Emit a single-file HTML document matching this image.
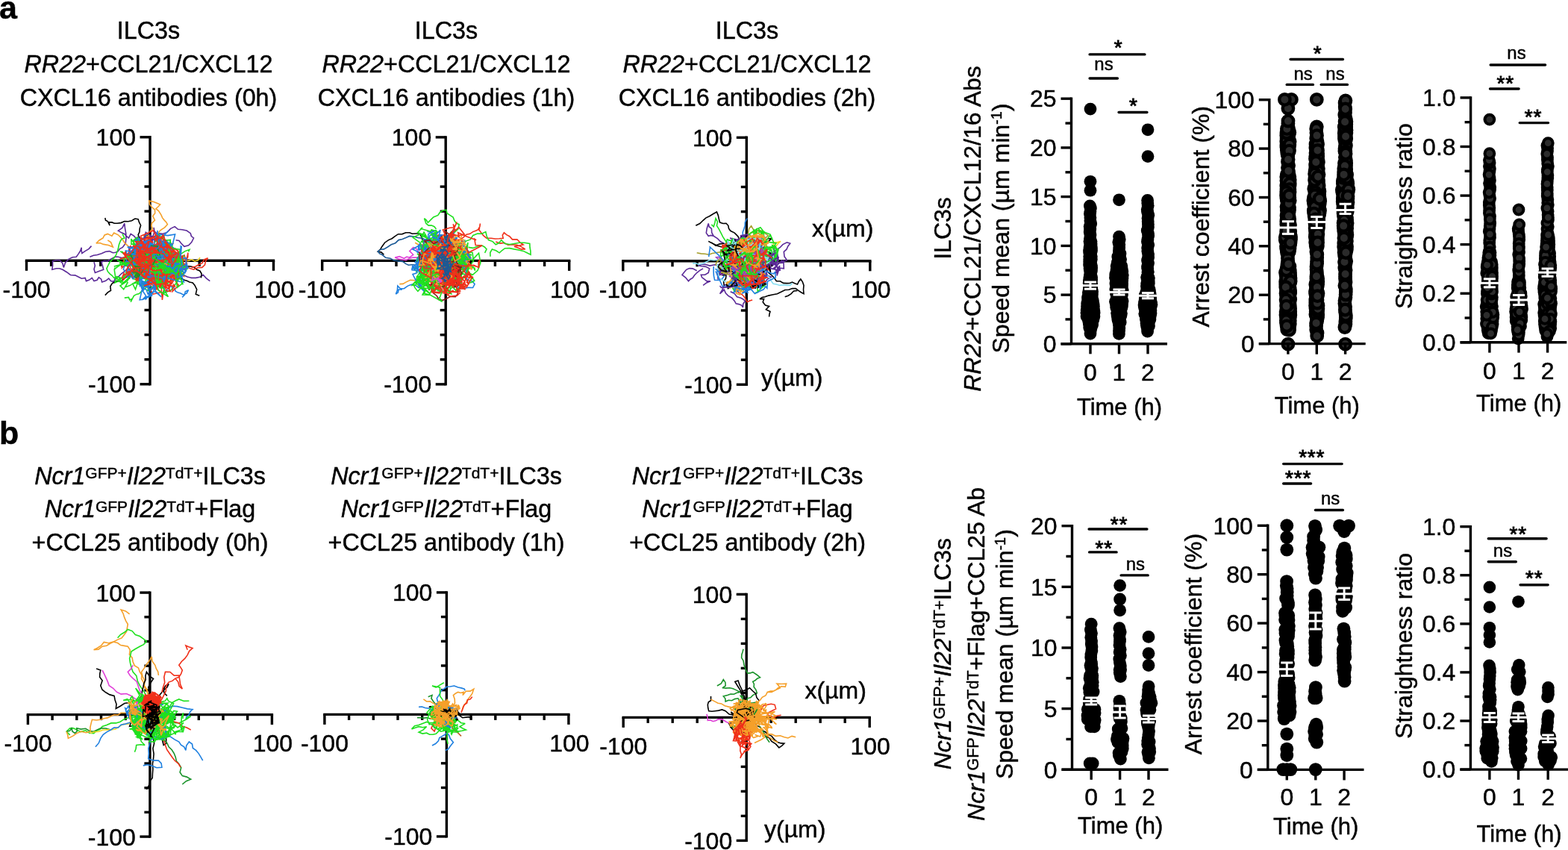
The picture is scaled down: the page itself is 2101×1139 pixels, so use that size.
<!DOCTYPE html>
<html><head><meta charset="utf-8"><style>
html,body{margin:0;padding:0;background:#fff;overflow:hidden;}
svg{display:block;font-family:"Liberation Sans", sans-serif;}
text{stroke:#000;stroke-width:0.45px;}
</style></head><body>
<svg width="2101" height="1139" viewBox="0 0 2101 1139">
<rect width="2101" height="1139" fill="#fff"/>
<text x="-1.0" y="24.6" font-size="43" text-anchor="start" font-weight="bold">a</text><text x="-1.0" y="595.2" font-size="43" text-anchor="start" font-weight="bold">b</text><text x="199.0" y="52.1" font-size="32.3" text-anchor="middle" >ILC3s</text><text x="199.0" y="97.1" font-size="32.3" text-anchor="middle" ><tspan font-style="italic">RR22</tspan>+CCL21/CXCL12</text><text x="199.0" y="142.1" font-size="32.3" text-anchor="middle" >CXCL16 antibodies (0h)</text><text x="598.0" y="52.1" font-size="32.3" text-anchor="middle" >ILC3s</text><text x="598.0" y="97.1" font-size="32.3" text-anchor="middle" ><tspan font-style="italic">RR22</tspan>+CCL21/CXCL12</text><text x="598.0" y="142.1" font-size="32.3" text-anchor="middle" >CXCL16 antibodies (1h)</text><text x="1001.0" y="52.1" font-size="32.3" text-anchor="middle" >ILC3s</text><text x="1001.0" y="97.1" font-size="32.3" text-anchor="middle" ><tspan font-style="italic">RR22</tspan>+CCL21/CXCL12</text><text x="1001.0" y="142.1" font-size="32.3" text-anchor="middle" >CXCL16 antibodies (2h)</text><text x="201.0" y="648.5" font-size="32.3" text-anchor="middle" ><tspan font-style="italic">Ncr1</tspan><tspan dy="-7.3" font-size="21.0">GFP+</tspan><tspan dy="7.3" font-style="italic">Il22</tspan><tspan dy="-7.3" font-size="21.0">TdT+</tspan><tspan dy="7.3">ILC3s</tspan></text><text x="201.0" y="693.3" font-size="32.3" text-anchor="middle" ><tspan font-style="italic">Ncr1</tspan><tspan dy="-7.3" font-size="21.0">GFP</tspan><tspan dy="7.3" font-style="italic">Il22</tspan><tspan dy="-7.3" font-size="21.0">TdT</tspan><tspan dy="7.3">+Flag</tspan></text><text x="201.0" y="738.0" font-size="32.3" text-anchor="middle" >+CCL25 antibody (0h)</text><text x="598.0" y="648.5" font-size="32.3" text-anchor="middle" ><tspan font-style="italic">Ncr1</tspan><tspan dy="-7.3" font-size="21.0">GFP+</tspan><tspan dy="7.3" font-style="italic">Il22</tspan><tspan dy="-7.3" font-size="21.0">TdT+</tspan><tspan dy="7.3">ILC3s</tspan></text><text x="598.0" y="693.3" font-size="32.3" text-anchor="middle" ><tspan font-style="italic">Ncr1</tspan><tspan dy="-7.3" font-size="21.0">GFP</tspan><tspan dy="7.3" font-style="italic">Il22</tspan><tspan dy="-7.3" font-size="21.0">TdT</tspan><tspan dy="7.3">+Flag</tspan></text><text x="598.0" y="738.0" font-size="32.3" text-anchor="middle" >+CCL25 antibody (1h)</text><text x="1001.6" y="648.5" font-size="32.3" text-anchor="middle" ><tspan font-style="italic">Ncr1</tspan><tspan dy="-7.3" font-size="21.0">GFP+</tspan><tspan dy="7.3" font-style="italic">Il22</tspan><tspan dy="-7.3" font-size="21.0">TdT+</tspan><tspan dy="7.3">ILC3s</tspan></text><text x="1001.6" y="693.3" font-size="32.3" text-anchor="middle" ><tspan font-style="italic">Ncr1</tspan><tspan dy="-7.3" font-size="21.0">GFP</tspan><tspan dy="7.3" font-style="italic">Il22</tspan><tspan dy="-7.3" font-size="21.0">TdT</tspan><tspan dy="7.3">+Flag</tspan></text><text x="1001.6" y="738.0" font-size="32.3" text-anchor="middle" >+CCL25 antibody (2h)</text><line x1="201.0" y1="182.1" x2="201.0" y2="516.5" stroke="#000" stroke-width="3.4" stroke-linecap="butt"/><line x1="33.8" y1="349.3" x2="368.2" y2="349.3" stroke="#000" stroke-width="3.4" stroke-linecap="butt"/><line x1="35.5" y1="349.3" x2="35.5" y2="362.8" stroke="#000" stroke-width="3.4" stroke-linecap="butt"/><line x1="201.0" y1="514.8" x2="187.5" y2="514.8" stroke="#000" stroke-width="3.4" stroke-linecap="butt"/><line x1="68.6" y1="349.3" x2="68.6" y2="356.8" stroke="#000" stroke-width="3.4" stroke-linecap="butt"/><line x1="201.0" y1="481.7" x2="193.5" y2="481.7" stroke="#000" stroke-width="3.4" stroke-linecap="butt"/><line x1="101.7" y1="349.3" x2="101.7" y2="356.8" stroke="#000" stroke-width="3.4" stroke-linecap="butt"/><line x1="201.0" y1="448.6" x2="193.5" y2="448.6" stroke="#000" stroke-width="3.4" stroke-linecap="butt"/><line x1="134.8" y1="349.3" x2="134.8" y2="356.8" stroke="#000" stroke-width="3.4" stroke-linecap="butt"/><line x1="201.0" y1="415.5" x2="193.5" y2="415.5" stroke="#000" stroke-width="3.4" stroke-linecap="butt"/><line x1="167.9" y1="349.3" x2="167.9" y2="356.8" stroke="#000" stroke-width="3.4" stroke-linecap="butt"/><line x1="201.0" y1="382.4" x2="193.5" y2="382.4" stroke="#000" stroke-width="3.4" stroke-linecap="butt"/><line x1="234.1" y1="349.3" x2="234.1" y2="356.8" stroke="#000" stroke-width="3.4" stroke-linecap="butt"/><line x1="201.0" y1="316.2" x2="193.5" y2="316.2" stroke="#000" stroke-width="3.4" stroke-linecap="butt"/><line x1="267.2" y1="349.3" x2="267.2" y2="356.8" stroke="#000" stroke-width="3.4" stroke-linecap="butt"/><line x1="201.0" y1="283.1" x2="193.5" y2="283.1" stroke="#000" stroke-width="3.4" stroke-linecap="butt"/><line x1="300.3" y1="349.3" x2="300.3" y2="356.8" stroke="#000" stroke-width="3.4" stroke-linecap="butt"/><line x1="201.0" y1="250.0" x2="193.5" y2="250.0" stroke="#000" stroke-width="3.4" stroke-linecap="butt"/><line x1="333.4" y1="349.3" x2="333.4" y2="356.8" stroke="#000" stroke-width="3.4" stroke-linecap="butt"/><line x1="201.0" y1="216.9" x2="193.5" y2="216.9" stroke="#000" stroke-width="3.4" stroke-linecap="butt"/><line x1="366.5" y1="349.3" x2="366.5" y2="362.8" stroke="#000" stroke-width="3.4" stroke-linecap="butt"/><line x1="201.0" y1="183.8" x2="187.5" y2="183.8" stroke="#000" stroke-width="3.4" stroke-linecap="butt"/><text x="35.5" y="398.5" font-size="32" text-anchor="middle" >-100</text><text x="367.5" y="398.5" font-size="32" text-anchor="middle" >100</text><text x="182.0" y="195.3" font-size="32" text-anchor="end" >100</text><text x="182.0" y="526.3" font-size="32" text-anchor="end" >-100</text><line x1="597.2" y1="182.2" x2="597.2" y2="516.6" stroke="#000" stroke-width="3.4" stroke-linecap="butt"/><line x1="430.0" y1="349.4" x2="764.4" y2="349.4" stroke="#000" stroke-width="3.4" stroke-linecap="butt"/><line x1="431.7" y1="349.4" x2="431.7" y2="362.9" stroke="#000" stroke-width="3.4" stroke-linecap="butt"/><line x1="597.2" y1="514.9" x2="583.7" y2="514.9" stroke="#000" stroke-width="3.4" stroke-linecap="butt"/><line x1="464.8" y1="349.4" x2="464.8" y2="356.9" stroke="#000" stroke-width="3.4" stroke-linecap="butt"/><line x1="597.2" y1="481.8" x2="589.7" y2="481.8" stroke="#000" stroke-width="3.4" stroke-linecap="butt"/><line x1="497.9" y1="349.4" x2="497.9" y2="356.9" stroke="#000" stroke-width="3.4" stroke-linecap="butt"/><line x1="597.2" y1="448.7" x2="589.7" y2="448.7" stroke="#000" stroke-width="3.4" stroke-linecap="butt"/><line x1="531.0" y1="349.4" x2="531.0" y2="356.9" stroke="#000" stroke-width="3.4" stroke-linecap="butt"/><line x1="597.2" y1="415.6" x2="589.7" y2="415.6" stroke="#000" stroke-width="3.4" stroke-linecap="butt"/><line x1="564.1" y1="349.4" x2="564.1" y2="356.9" stroke="#000" stroke-width="3.4" stroke-linecap="butt"/><line x1="597.2" y1="382.5" x2="589.7" y2="382.5" stroke="#000" stroke-width="3.4" stroke-linecap="butt"/><line x1="630.3" y1="349.4" x2="630.3" y2="356.9" stroke="#000" stroke-width="3.4" stroke-linecap="butt"/><line x1="597.2" y1="316.3" x2="589.7" y2="316.3" stroke="#000" stroke-width="3.4" stroke-linecap="butt"/><line x1="663.4" y1="349.4" x2="663.4" y2="356.9" stroke="#000" stroke-width="3.4" stroke-linecap="butt"/><line x1="597.2" y1="283.2" x2="589.7" y2="283.2" stroke="#000" stroke-width="3.4" stroke-linecap="butt"/><line x1="696.5" y1="349.4" x2="696.5" y2="356.9" stroke="#000" stroke-width="3.4" stroke-linecap="butt"/><line x1="597.2" y1="250.1" x2="589.7" y2="250.1" stroke="#000" stroke-width="3.4" stroke-linecap="butt"/><line x1="729.6" y1="349.4" x2="729.6" y2="356.9" stroke="#000" stroke-width="3.4" stroke-linecap="butt"/><line x1="597.2" y1="217.0" x2="589.7" y2="217.0" stroke="#000" stroke-width="3.4" stroke-linecap="butt"/><line x1="762.7" y1="349.4" x2="762.7" y2="362.9" stroke="#000" stroke-width="3.4" stroke-linecap="butt"/><line x1="597.2" y1="183.9" x2="583.7" y2="183.9" stroke="#000" stroke-width="3.4" stroke-linecap="butt"/><text x="431.7" y="398.6" font-size="32" text-anchor="middle" >-100</text><text x="763.7" y="398.6" font-size="32" text-anchor="middle" >100</text><text x="578.2" y="195.4" font-size="32" text-anchor="end" >100</text><text x="578.2" y="526.4" font-size="32" text-anchor="end" >-100</text><line x1="1000.3" y1="182.6" x2="1000.3" y2="517.0" stroke="#000" stroke-width="3.4" stroke-linecap="butt"/><line x1="833.1" y1="349.8" x2="1167.5" y2="349.8" stroke="#000" stroke-width="3.4" stroke-linecap="butt"/><line x1="834.8" y1="349.8" x2="834.8" y2="363.3" stroke="#000" stroke-width="3.4" stroke-linecap="butt"/><line x1="1000.3" y1="515.3" x2="986.8" y2="515.3" stroke="#000" stroke-width="3.4" stroke-linecap="butt"/><line x1="867.9" y1="349.8" x2="867.9" y2="357.3" stroke="#000" stroke-width="3.4" stroke-linecap="butt"/><line x1="1000.3" y1="482.2" x2="992.8" y2="482.2" stroke="#000" stroke-width="3.4" stroke-linecap="butt"/><line x1="901.0" y1="349.8" x2="901.0" y2="357.3" stroke="#000" stroke-width="3.4" stroke-linecap="butt"/><line x1="1000.3" y1="449.1" x2="992.8" y2="449.1" stroke="#000" stroke-width="3.4" stroke-linecap="butt"/><line x1="934.1" y1="349.8" x2="934.1" y2="357.3" stroke="#000" stroke-width="3.4" stroke-linecap="butt"/><line x1="1000.3" y1="416.0" x2="992.8" y2="416.0" stroke="#000" stroke-width="3.4" stroke-linecap="butt"/><line x1="967.2" y1="349.8" x2="967.2" y2="357.3" stroke="#000" stroke-width="3.4" stroke-linecap="butt"/><line x1="1000.3" y1="382.9" x2="992.8" y2="382.9" stroke="#000" stroke-width="3.4" stroke-linecap="butt"/><line x1="1033.4" y1="349.8" x2="1033.4" y2="357.3" stroke="#000" stroke-width="3.4" stroke-linecap="butt"/><line x1="1000.3" y1="316.7" x2="992.8" y2="316.7" stroke="#000" stroke-width="3.4" stroke-linecap="butt"/><line x1="1066.5" y1="349.8" x2="1066.5" y2="357.3" stroke="#000" stroke-width="3.4" stroke-linecap="butt"/><line x1="1000.3" y1="283.6" x2="992.8" y2="283.6" stroke="#000" stroke-width="3.4" stroke-linecap="butt"/><line x1="1099.6" y1="349.8" x2="1099.6" y2="357.3" stroke="#000" stroke-width="3.4" stroke-linecap="butt"/><line x1="1000.3" y1="250.5" x2="992.8" y2="250.5" stroke="#000" stroke-width="3.4" stroke-linecap="butt"/><line x1="1132.7" y1="349.8" x2="1132.7" y2="357.3" stroke="#000" stroke-width="3.4" stroke-linecap="butt"/><line x1="1000.3" y1="217.4" x2="992.8" y2="217.4" stroke="#000" stroke-width="3.4" stroke-linecap="butt"/><line x1="1165.8" y1="349.8" x2="1165.8" y2="363.3" stroke="#000" stroke-width="3.4" stroke-linecap="butt"/><line x1="1000.3" y1="184.3" x2="986.8" y2="184.3" stroke="#000" stroke-width="3.4" stroke-linecap="butt"/><text x="834.8" y="399.0" font-size="32" text-anchor="middle" >-100</text><text x="1166.8" y="399.0" font-size="32" text-anchor="middle" >100</text><text x="981.3" y="195.8" font-size="32" text-anchor="end" >100</text><text x="981.3" y="526.8" font-size="32" text-anchor="end" >-100</text><line x1="200.9" y1="792.4" x2="200.9" y2="1122.8" stroke="#000" stroke-width="3.4" stroke-linecap="butt"/><line x1="35.7" y1="957.6" x2="366.1" y2="957.6" stroke="#000" stroke-width="3.4" stroke-linecap="butt"/><line x1="37.4" y1="957.6" x2="37.4" y2="971.1" stroke="#000" stroke-width="3.4" stroke-linecap="butt"/><line x1="200.9" y1="1121.1" x2="187.4" y2="1121.1" stroke="#000" stroke-width="3.4" stroke-linecap="butt"/><line x1="70.1" y1="957.6" x2="70.1" y2="965.1" stroke="#000" stroke-width="3.4" stroke-linecap="butt"/><line x1="200.9" y1="1088.4" x2="193.4" y2="1088.4" stroke="#000" stroke-width="3.4" stroke-linecap="butt"/><line x1="102.8" y1="957.6" x2="102.8" y2="965.1" stroke="#000" stroke-width="3.4" stroke-linecap="butt"/><line x1="200.9" y1="1055.7" x2="193.4" y2="1055.7" stroke="#000" stroke-width="3.4" stroke-linecap="butt"/><line x1="135.5" y1="957.6" x2="135.5" y2="965.1" stroke="#000" stroke-width="3.4" stroke-linecap="butt"/><line x1="200.9" y1="1023.0" x2="193.4" y2="1023.0" stroke="#000" stroke-width="3.4" stroke-linecap="butt"/><line x1="168.2" y1="957.6" x2="168.2" y2="965.1" stroke="#000" stroke-width="3.4" stroke-linecap="butt"/><line x1="200.9" y1="990.3" x2="193.4" y2="990.3" stroke="#000" stroke-width="3.4" stroke-linecap="butt"/><line x1="233.6" y1="957.6" x2="233.6" y2="965.1" stroke="#000" stroke-width="3.4" stroke-linecap="butt"/><line x1="200.9" y1="924.9" x2="193.4" y2="924.9" stroke="#000" stroke-width="3.4" stroke-linecap="butt"/><line x1="266.3" y1="957.6" x2="266.3" y2="965.1" stroke="#000" stroke-width="3.4" stroke-linecap="butt"/><line x1="200.9" y1="892.2" x2="193.4" y2="892.2" stroke="#000" stroke-width="3.4" stroke-linecap="butt"/><line x1="299.0" y1="957.6" x2="299.0" y2="965.1" stroke="#000" stroke-width="3.4" stroke-linecap="butt"/><line x1="200.9" y1="859.5" x2="193.4" y2="859.5" stroke="#000" stroke-width="3.4" stroke-linecap="butt"/><line x1="331.7" y1="957.6" x2="331.7" y2="965.1" stroke="#000" stroke-width="3.4" stroke-linecap="butt"/><line x1="200.9" y1="826.8" x2="193.4" y2="826.8" stroke="#000" stroke-width="3.4" stroke-linecap="butt"/><line x1="364.4" y1="957.6" x2="364.4" y2="971.1" stroke="#000" stroke-width="3.4" stroke-linecap="butt"/><line x1="200.9" y1="794.1" x2="187.4" y2="794.1" stroke="#000" stroke-width="3.4" stroke-linecap="butt"/><text x="37.4" y="1006.8" font-size="32" text-anchor="middle" >-100</text><text x="365.4" y="1006.8" font-size="32" text-anchor="middle" >100</text><text x="181.9" y="805.6" font-size="32" text-anchor="end" >100</text><text x="181.9" y="1132.6" font-size="32" text-anchor="end" >-100</text><line x1="598.4" y1="792.2" x2="598.4" y2="1122.6" stroke="#000" stroke-width="3.4" stroke-linecap="butt"/><line x1="433.2" y1="957.4" x2="763.6" y2="957.4" stroke="#000" stroke-width="3.4" stroke-linecap="butt"/><line x1="434.9" y1="957.4" x2="434.9" y2="970.9" stroke="#000" stroke-width="3.4" stroke-linecap="butt"/><line x1="598.4" y1="1120.9" x2="584.9" y2="1120.9" stroke="#000" stroke-width="3.4" stroke-linecap="butt"/><line x1="467.6" y1="957.4" x2="467.6" y2="964.9" stroke="#000" stroke-width="3.4" stroke-linecap="butt"/><line x1="598.4" y1="1088.2" x2="590.9" y2="1088.2" stroke="#000" stroke-width="3.4" stroke-linecap="butt"/><line x1="500.3" y1="957.4" x2="500.3" y2="964.9" stroke="#000" stroke-width="3.4" stroke-linecap="butt"/><line x1="598.4" y1="1055.5" x2="590.9" y2="1055.5" stroke="#000" stroke-width="3.4" stroke-linecap="butt"/><line x1="533.0" y1="957.4" x2="533.0" y2="964.9" stroke="#000" stroke-width="3.4" stroke-linecap="butt"/><line x1="598.4" y1="1022.8" x2="590.9" y2="1022.8" stroke="#000" stroke-width="3.4" stroke-linecap="butt"/><line x1="565.7" y1="957.4" x2="565.7" y2="964.9" stroke="#000" stroke-width="3.4" stroke-linecap="butt"/><line x1="598.4" y1="990.1" x2="590.9" y2="990.1" stroke="#000" stroke-width="3.4" stroke-linecap="butt"/><line x1="631.1" y1="957.4" x2="631.1" y2="964.9" stroke="#000" stroke-width="3.4" stroke-linecap="butt"/><line x1="598.4" y1="924.7" x2="590.9" y2="924.7" stroke="#000" stroke-width="3.4" stroke-linecap="butt"/><line x1="663.8" y1="957.4" x2="663.8" y2="964.9" stroke="#000" stroke-width="3.4" stroke-linecap="butt"/><line x1="598.4" y1="892.0" x2="590.9" y2="892.0" stroke="#000" stroke-width="3.4" stroke-linecap="butt"/><line x1="696.5" y1="957.4" x2="696.5" y2="964.9" stroke="#000" stroke-width="3.4" stroke-linecap="butt"/><line x1="598.4" y1="859.3" x2="590.9" y2="859.3" stroke="#000" stroke-width="3.4" stroke-linecap="butt"/><line x1="729.2" y1="957.4" x2="729.2" y2="964.9" stroke="#000" stroke-width="3.4" stroke-linecap="butt"/><line x1="598.4" y1="826.6" x2="590.9" y2="826.6" stroke="#000" stroke-width="3.4" stroke-linecap="butt"/><line x1="761.9" y1="957.4" x2="761.9" y2="970.9" stroke="#000" stroke-width="3.4" stroke-linecap="butt"/><line x1="598.4" y1="793.9" x2="584.9" y2="793.9" stroke="#000" stroke-width="3.4" stroke-linecap="butt"/><text x="434.9" y="1006.6" font-size="32" text-anchor="middle" >-100</text><text x="762.9" y="1006.6" font-size="32" text-anchor="middle" >100</text><text x="579.4" y="805.4" font-size="32" text-anchor="end" >100</text><text x="579.4" y="1132.4" font-size="32" text-anchor="end" >-100</text><line x1="1000.2" y1="794.7" x2="1000.2" y2="1128.1" stroke="#000" stroke-width="3.4" stroke-linecap="butt"/><line x1="833.5" y1="961.4" x2="1166.9" y2="961.4" stroke="#000" stroke-width="3.4" stroke-linecap="butt"/><line x1="835.2" y1="961.4" x2="835.2" y2="974.9" stroke="#000" stroke-width="3.4" stroke-linecap="butt"/><line x1="1000.2" y1="1126.4" x2="986.7" y2="1126.4" stroke="#000" stroke-width="3.4" stroke-linecap="butt"/><line x1="868.2" y1="961.4" x2="868.2" y2="968.9" stroke="#000" stroke-width="3.4" stroke-linecap="butt"/><line x1="1000.2" y1="1093.4" x2="992.7" y2="1093.4" stroke="#000" stroke-width="3.4" stroke-linecap="butt"/><line x1="901.2" y1="961.4" x2="901.2" y2="968.9" stroke="#000" stroke-width="3.4" stroke-linecap="butt"/><line x1="1000.2" y1="1060.4" x2="992.7" y2="1060.4" stroke="#000" stroke-width="3.4" stroke-linecap="butt"/><line x1="934.2" y1="961.4" x2="934.2" y2="968.9" stroke="#000" stroke-width="3.4" stroke-linecap="butt"/><line x1="1000.2" y1="1027.4" x2="992.7" y2="1027.4" stroke="#000" stroke-width="3.4" stroke-linecap="butt"/><line x1="967.2" y1="961.4" x2="967.2" y2="968.9" stroke="#000" stroke-width="3.4" stroke-linecap="butt"/><line x1="1000.2" y1="994.4" x2="992.7" y2="994.4" stroke="#000" stroke-width="3.4" stroke-linecap="butt"/><line x1="1033.2" y1="961.4" x2="1033.2" y2="968.9" stroke="#000" stroke-width="3.4" stroke-linecap="butt"/><line x1="1000.2" y1="928.4" x2="992.7" y2="928.4" stroke="#000" stroke-width="3.4" stroke-linecap="butt"/><line x1="1066.2" y1="961.4" x2="1066.2" y2="968.9" stroke="#000" stroke-width="3.4" stroke-linecap="butt"/><line x1="1000.2" y1="895.4" x2="992.7" y2="895.4" stroke="#000" stroke-width="3.4" stroke-linecap="butt"/><line x1="1099.2" y1="961.4" x2="1099.2" y2="968.9" stroke="#000" stroke-width="3.4" stroke-linecap="butt"/><line x1="1000.2" y1="862.4" x2="992.7" y2="862.4" stroke="#000" stroke-width="3.4" stroke-linecap="butt"/><line x1="1132.2" y1="961.4" x2="1132.2" y2="968.9" stroke="#000" stroke-width="3.4" stroke-linecap="butt"/><line x1="1000.2" y1="829.4" x2="992.7" y2="829.4" stroke="#000" stroke-width="3.4" stroke-linecap="butt"/><line x1="1165.2" y1="961.4" x2="1165.2" y2="974.9" stroke="#000" stroke-width="3.4" stroke-linecap="butt"/><line x1="1000.2" y1="796.4" x2="986.7" y2="796.4" stroke="#000" stroke-width="3.4" stroke-linecap="butt"/><text x="835.2" y="1010.6" font-size="32" text-anchor="middle" >-100</text><text x="1166.2" y="1010.6" font-size="32" text-anchor="middle" >100</text><text x="981.2" y="807.9" font-size="32" text-anchor="end" >100</text><text x="981.2" y="1137.9" font-size="32" text-anchor="end" >-100</text><text x="1088.0" y="316.6" font-size="32" text-anchor="start" >x(µm)</text><text x="1020.0" y="516.6" font-size="32" text-anchor="start" >y(µm)</text><text x="1078.5" y="935.9" font-size="32" text-anchor="start" >x(µm)</text><text x="1024.0" y="1121.6" font-size="32" text-anchor="start" >y(µm)</text><g><polyline points="122.5,329.6 118.9,333.6 114.2,336.3 109.9,339.4 109.1,335.6 109.2,331.7 107.6,336.3 105.0,340.4 102.2,344.3 97.0,344.8 92.3,347.1 87.5,351.9 85.3,358.4 83.8,352.7 79.7,348.5 75.0,348.8 70.5,349.9 70.6,355.6 69.8,361.2 75.5,359.8 79.8,359.7 83.9,361.2 89.5,364.7 94.5,368.5 100.7,368.9 105.0,371.0 109.3,373.2 114.1,372.4 115.5,376.6 119.7,375.1 123.2,372.4 126.0,376.6 130.1,375.3 132.4,371.7 135.7,374.1 136.6,378.0 141.6,376.3 145.7,373.1 148.4,376.6 152.7,377.3 154.2,373.0 158.4,371.0 162.6,366.8 167.8,363.0 172.4,358.4" fill="none" stroke="#5b2a98" stroke-width="1.6" stroke-linejoin="miter" stroke-miterlimit="3"/><polyline points="120.4,344.3 125.2,342.3 130.3,341.5 136.0,339.7 141.5,337.3 146.6,336.6 151.3,338.7 155.0,338.2 158.4,336.6 160.5,333.3 164.0,331.7 166.1,328.9 168.2,326.0 169.0,319.3 168.7,312.6 167.5,306.0 166.8,299.3 163.8,305.4 158.4,309.2 162.4,311.6 166.8,313.4 169.4,316.4 172.4,319.0 175.2,313.4 179.4,316.2 183.1,320.2 184.0,325.6 186.5,330.3" fill="none" stroke="#5b2a98" stroke-width="1.6" stroke-linejoin="miter" stroke-miterlimit="3"/><polyline points="126.0,351.3 127.3,355.9 126.0,360.8 127.4,365.4 133.1,363.3 138.7,361.2 137.5,356.2 135.9,351.3 139.9,349.5 144.3,349.9 147.7,347.6 151.3,345.7 154.6,344.0 158.4,344.3 163.0,345.5 168.0,344.7 172.4,347.1" fill="none" stroke="#5b2a98" stroke-width="1.6" stroke-linejoin="miter" stroke-miterlimit="3"/><polyline points="200.5,344.3 200.3,337.6 204.0,331.4 204.2,324.8 204.4,318.1 206.6,311.7 206.1,305.0 206.9,309.9 210.4,313.4 213.9,312.7 217.4,313.4 223.9,311.4 228.6,306.4 234.2,303.6 238.5,307.3 244.1,307.8 250.2,309.0 255.3,312.7 256.4,316.5 259.5,319.0 256.7,324.6 252.6,328.9 246.9,330.3 242.7,326.0 240.0,322.5 235.6,321.8" fill="none" stroke="#5b2a98" stroke-width="1.6" stroke-linejoin="miter" stroke-miterlimit="3"/><polyline points="214.6,358.4 219.1,361.4 224.4,363.3 228.6,366.8 234.4,367.4 239.9,369.6 245.7,368.6 251.1,371.0 256.6,372.4 262.3,372.4 267.7,371.3 272.2,368.2 276.4,372.8 281.3,376.6" fill="none" stroke="#5b2a98" stroke-width="1.6" stroke-linejoin="miter" stroke-miterlimit="3"/><polyline points="200.5,347.1 202.0,341.4 204.8,336.1 206.1,330.3 207.7,324.5 209.5,318.9 211.8,313.4 213.4,310.2 216.0,307.8 220.6,304.8 224.4,300.7 222.7,297.7 220.2,295.1 217.6,291.9 216.0,288.1 212.5,282.5 208.9,279.7 211.9,277.0 214.6,274.1 210.4,272.3 206.1,270.5 199.8,269.1 200.5,274.1 203.7,277.8 207.5,281.1 207.7,285.8 204.7,289.5 207.5,295.1 203.3,299.3 202.9,303.1 204.7,306.4 200.5,310.6" fill="none" stroke="#f5a02a" stroke-width="1.6" stroke-linejoin="miter" stroke-miterlimit="3"/><polyline points="172.4,330.3 167.2,325.6 163.3,319.8 158.4,314.8 152.7,312.0 149.9,316.2 144.3,313.4 140.1,315.0 138.0,319.0 133.0,322.0 128.9,326.0 133.9,325.5 138.7,327.4 145.2,328.5 151.3,331.0 148.5,324.6 144.3,321.8" fill="none" stroke="#f5a02a" stroke-width="1.6" stroke-linejoin="miter" stroke-miterlimit="3"/><polyline points="140.8,292.0 141.5,295.1 144.3,296.5 147.1,302.2 145.7,297.9 149.9,297.9 153.3,299.2 157.0,299.3 162.1,298.6 166.8,296.5 171.8,296.8 176.5,295.7 180.8,293.0 185.1,293.7 186.5,297.9 188.6,302.0 187.2,306.4 186.9,310.8 185.1,314.8 187.6,320.2 188.8,326.2 192.5,331.2 193.5,337.3" fill="none" stroke="#000000" stroke-width="1.6" stroke-linejoin="miter" stroke-miterlimit="3"/><polyline points="140.8,395.6 144.3,391.9 148.5,389.3 147.8,383.7 150.6,379.4 157.0,376.6 160.8,377.4 164.0,375.2 168.7,371.7 174.2,369.4 179.4,366.8" fill="none" stroke="#000000" stroke-width="1.6" stroke-linejoin="miter" stroke-miterlimit="3"/><polyline points="267.3,396.3 262.3,394.2 263.7,387.9 260.9,382.2 258.2,378.9 253.9,378.0 250.5,376.3 246.9,375.2 243.5,373.6 239.9,372.4 234.5,370.9 231.7,365.3 225.4,365.3 221.6,361.2" fill="none" stroke="#000000" stroke-width="1.6" stroke-linejoin="miter" stroke-miterlimit="3"/><polyline points="228.6,347.1 234.6,344.3 241.3,344.3 241.9,350.5 245.5,355.6 250.3,356.6 255.3,357.0 260.0,358.1 263.7,361.2 267.8,363.0 270.1,366.8 269.4,372.4" fill="none" stroke="#000000" stroke-width="1.6" stroke-linejoin="miter" stroke-miterlimit="3"/><polyline points="164.0,313.4 166.8,319.0 163.2,320.1 161.2,323.2 159.4,328.0 158.4,333.1 157.1,337.3 155.6,341.5 152.7,345.7 149.8,348.4 147.1,351.3 144.9,355.5 142.9,359.8 144.3,363.7 147.1,366.8 150.2,369.3 152.7,372.4 157.0,370.7 161.2,372.4 165.9,372.4 169.6,369.6 173.5,364.8 178.2,361.2 183.7,358.4" fill="none" stroke="#1fe01f" stroke-width="1.6" stroke-linejoin="miter" stroke-miterlimit="3"/><polyline points="166.8,399.1 172.4,398.4 173.8,401.9 176.6,400.5 175.2,404.7 177.3,400.5 179.4,396.3 182.8,394.4 186.5,393.5 190.7,389.3 194.9,386.5 197.7,382.2 197.2,376.2 199.5,370.4 199.9,364.4 199.1,358.4" fill="none" stroke="#1fe01f" stroke-width="1.6" stroke-linejoin="miter" stroke-miterlimit="3"/><polyline points="214.6,349.9 220.0,349.1 225.1,347.0 230.0,344.2 235.6,344.3 238.3,340.8 242.7,340.1 247.9,336.6 253.9,334.5 252.5,337.3" fill="none" stroke="#1fe01f" stroke-width="1.6" stroke-linejoin="miter" stroke-miterlimit="3"/><polyline points="244.1,398.4 247.4,395.2 248.3,390.7 252.5,388.6 250.1,393.0 245.5,394.9 242.1,393.1 238.5,392.1 235.1,390.2 234.2,386.5 228.6,383.7 224.0,380.4 221.8,375.0 218.5,370.6 214.6,366.8" fill="none" stroke="#1f80e0" stroke-width="1.6" stroke-linejoin="miter" stroke-miterlimit="3"/><polyline points="225.8,309.2 221.6,313.4 216.9,317.5 214.6,323.2 211.1,328.2 207.5,333.1 206.2,339.1 202.9,344.3 200.5,349.9" fill="none" stroke="#1f80e0" stroke-width="1.6" stroke-linejoin="miter" stroke-miterlimit="3"/><polyline points="214.6,352.7 220.7,353.4 226.5,351.5 232.4,350.0 238.5,349.9 242.5,348.2 246.9,348.5 251.9,349.5 256.7,347.8 260.9,349.9 265.3,348.7 268.0,345.0" fill="none" stroke="#f5d82a" stroke-width="1.6" stroke-linejoin="miter" stroke-miterlimit="3"/><polyline points="214.6,352.7 220.7,353.3 226.4,350.4 232.7,352.1 238.5,349.9 244.3,353.1 249.7,357.0 254.4,359.6 259.5,361.2 264.9,358.8 270.8,358.4 274.5,354.8 275.6,349.7 278.5,345.7 273.4,347.9 270.8,352.7 266.1,354.7 261.7,357.2 256.7,358.4" fill="none" stroke="#f0301a" stroke-width="1.6" stroke-linejoin="miter" stroke-miterlimit="3"/><polyline points="200.5,351.3 204.2,356.5 207.7,361.8 209.8,367.8 211.7,373.9 214.6,379.4 216.5,384.9 216.3,390.6 217.1,396.3 217.4,401.9 218.1,396.7 218.7,391.5 220.2,386.5" fill="none" stroke="#f0301a" stroke-width="1.6" stroke-linejoin="miter" stroke-miterlimit="3"/><polyline points="197.7,358.4 197.5,364.8 200.2,370.9 200.1,377.3 200.5,383.7 203.3,380.8" fill="none" stroke="#e040d8" stroke-width="1.6" stroke-linejoin="miter" stroke-miterlimit="3"/><polyline points="199.1,358.4 197.9,365.2 198.1,371.9 198.4,378.7 199.3,385.5 200.7,392.3 199.1,399.1 200.9,395.8 201.9,392.1" fill="none" stroke="#1f80e0" stroke-width="1.6" stroke-linejoin="miter" stroke-miterlimit="3"/><polyline points="201.7,349.5 199.0,349.4 191.4,351.0 179.8,351.9 179.4,357.0 180.7,349.4 180.1,351.1 181.4,349.5 180.5,346.9 182.7,344.8 180.2,342.7 188.1,337.8 185.7,345.6 194.2,355.6 196.6,350.6 202.3,350.5 203.5,354.3 207.0,347.7 208.0,348.3 207.0,339.9 212.6,337.4" fill="none" stroke="#1fe01f" stroke-width="1.6" stroke-linejoin="miter" stroke-miterlimit="3"/><polyline points="200.8,350.2 193.6,345.6 186.1,350.7 178.7,346.3 180.0,347.0 182.3,333.2 190.7,331.3 194.3,319.4 189.2,319.3 186.2,322.7 180.5,322.3 184.8,317.7 184.8,319.2 190.0,321.2 200.9,316.4 210.7,317.7 213.5,325.1 215.1,320.0 206.2,330.9 196.0,327.0 195.9,326.0 189.4,325.4 181.4,331.1 172.9,331.0 172.7,341.0 168.0,344.7 175.4,341.6 174.4,336.3 183.1,337.1 186.5,327.6 192.5,329.4" fill="none" stroke="#5b2a98" stroke-width="1.6" stroke-linejoin="miter" stroke-miterlimit="3"/><polyline points="200.6,349.1 198.1,343.3 194.8,354.2 183.4,348.1 189.4,344.4 195.8,338.9 189.9,331.2 188.5,332.0 189.4,334.5 194.8,343.4 192.0,350.6 195.7,350.6 189.3,353.9 179.3,344.6 179.7,346.3 176.3,348.6 188.1,342.6 186.5,351.6 178.1,349.5 180.8,353.8 192.4,356.2 194.1,351.9 195.2,347.9 190.7,351.3 183.8,357.5 180.2,361.1 184.9,364.0 181.8,371.2 185.9,374.3 187.5,368.8 189.1,374.0" fill="none" stroke="#1a932a" stroke-width="1.6" stroke-linejoin="miter" stroke-miterlimit="3"/><polyline points="202.0,348.5 202.2,346.1 203.2,355.4 207.6,349.6 205.5,349.1 202.9,353.7 203.7,355.0 202.6,354.9 199.9,362.2 195.5,360.0 193.2,359.8 193.3,360.3 197.7,362.8 203.4,356.9 197.2,358.6 192.6,357.9 192.9,359.3 194.3,358.6 200.7,364.0 209.5,356.5 211.7,355.7" fill="none" stroke="#f5a02a" stroke-width="1.6" stroke-linejoin="miter" stroke-miterlimit="3"/><polyline points="201.4,349.3 200.2,349.6 197.3,360.3 199.8,357.7 211.4,346.4 203.9,329.9 208.1,327.0 194.2,331.0 192.5,314.4 192.6,316.6 201.8,315.8 198.6,313.8 200.0,326.0 195.4,344.1 198.6,338.9 190.2,339.6 182.5,339.7 193.1,337.9 191.5,336.9 201.2,336.6 212.3,333.6 212.7,323.0 215.6,330.7 215.3,327.7 210.8,322.8 221.2,322.9 211.9,330.2 214.4,328.1 220.1,331.4 223.0,321.1 219.8,331.0" fill="none" stroke="#f5a02a" stroke-width="1.6" stroke-linejoin="miter" stroke-miterlimit="3"/><polyline points="200.0,349.9 204.6,347.4 210.5,351.4 211.7,354.3 225.5,347.8 229.9,351.6 224.9,348.8 214.8,346.9 216.5,347.9 208.9,361.3 224.2,366.8 226.9,358.1 233.6,358.3 233.0,365.4 240.2,372.3 237.5,377.4 229.2,388.8 218.6,393.0 218.8,394.4 220.4,384.2 204.2,384.0 197.7,390.0 199.7,381.1 201.9,375.1 201.3,367.4 205.3,359.9 209.4,373.2 219.0,368.2 218.8,373.8 226.4,378.4 224.5,379.6 218.7,378.3 211.2,372.3 206.3,364.8 192.8,371.0 187.3,376.1 189.1,374.5" fill="none" stroke="#1fe01f" stroke-width="1.6" stroke-linejoin="miter" stroke-miterlimit="3"/><polyline points="200.4,350.2 207.4,356.1 208.1,355.9 214.9,348.3 213.9,346.2 212.6,357.2 212.6,346.0 212.4,348.3 210.7,346.8 212.7,348.7 212.8,350.2 207.0,344.6 202.3,343.2 196.9,336.8 200.5,344.5 208.3,345.3 210.2,345.9 212.0,349.2 207.5,342.4 206.6,338.8 205.6,337.0" fill="none" stroke="#f5a02a" stroke-width="1.6" stroke-linejoin="miter" stroke-miterlimit="3"/><polyline points="201.8,349.2 189.7,353.0 188.9,349.0 192.9,352.1 201.5,355.6 202.5,356.7 199.2,350.6 198.6,339.2 196.2,334.9 203.3,338.1 188.2,338.8 189.1,335.6 188.6,340.8 189.9,337.7 178.3,341.6 198.1,330.8 204.9,329.5 207.1,342.5 215.2,347.1 204.4,350.5 210.5,348.5 204.8,356.8 196.5,368.0 204.1,369.7 201.4,378.3 196.9,386.0 204.2,378.8 216.6,377.7 214.6,381.9 212.0,384.2 211.8,369.6" fill="none" stroke="#f5a02a" stroke-width="1.6" stroke-linejoin="miter" stroke-miterlimit="3"/><polyline points="200.4,349.9 195.4,352.6 204.4,350.3 208.0,347.7 199.0,342.2 197.6,344.4 197.4,347.2 196.9,338.6 200.3,337.7 199.3,340.6 204.5,338.5 200.0,338.5 209.0,344.1 205.2,345.5 208.7,344.3 206.5,349.0 205.5,348.3 204.9,351.9 204.4,345.6 208.8,348.5 206.8,346.0" fill="none" stroke="#f5a02a" stroke-width="1.6" stroke-linejoin="miter" stroke-miterlimit="3"/><polyline points="200.4,348.4 193.7,357.9 205.5,357.4 211.3,363.3 212.8,369.8 213.1,357.1 209.7,364.5 213.8,359.2 204.5,358.8 207.2,362.5 195.8,360.5 197.6,353.5 180.5,358.5 188.0,356.4 193.4,357.2 199.9,359.3 199.8,358.2 199.9,351.0 214.1,351.3 204.7,358.1 205.8,361.3 199.2,357.5 198.2,355.8 203.9,354.0 199.4,349.3 204.7,351.0 213.2,358.4 221.1,360.8 212.6,361.0 221.1,358.5 230.1,350.4 232.4,348.2 248.1,361.6 248.8,354.5 251.9,338.7 251.7,344.5 248.8,349.3" fill="none" stroke="#f0301a" stroke-width="1.6" stroke-linejoin="miter" stroke-miterlimit="3"/><polyline points="202.0,349.4 207.0,350.2 213.7,343.3 216.4,345.7 223.8,352.4 223.1,354.4 207.4,355.0 207.2,347.6 212.6,351.2 216.5,342.8 212.9,334.8 212.6,333.7 211.8,332.9 197.2,339.1 199.5,330.1 201.2,327.4 202.4,319.0 201.4,333.3 204.6,337.5 198.9,341.0 191.5,334.2 188.8,344.0 189.2,345.8 195.5,354.0 188.0,353.0 180.9,364.9 176.9,360.3 173.4,373.9 172.9,370.0 176.8,367.3 189.6,358.8" fill="none" stroke="#5b2a98" stroke-width="1.6" stroke-linejoin="miter" stroke-miterlimit="3"/><polyline points="200.7,349.7 205.8,358.1 203.8,356.1 208.6,347.4 208.5,348.2 214.8,348.6 211.0,348.6 198.2,344.7 199.1,351.4 202.5,353.2 199.9,348.1 194.0,348.0 193.9,340.9 198.0,336.7 197.3,343.6 202.6,340.7 200.9,341.3 200.5,344.8 200.9,350.0 213.3,350.4 218.8,355.2" fill="none" stroke="#1fe01f" stroke-width="1.6" stroke-linejoin="miter" stroke-miterlimit="3"/><polyline points="201.7,348.9 207.5,355.6 209.6,357.1 213.0,359.8 205.2,362.4 203.2,357.7 200.3,355.8 205.9,354.1 210.8,349.4 202.8,347.6 212.0,348.7 208.7,347.4 210.4,343.7 208.1,338.9 204.7,333.8 210.7,335.8 211.9,341.7 205.1,341.8 203.0,343.8 204.0,343.3 209.5,341.7" fill="none" stroke="#1fe01f" stroke-width="1.6" stroke-linejoin="miter" stroke-miterlimit="3"/><polyline points="200.2,349.5 187.4,352.8 191.7,351.0 197.6,347.4 192.3,352.1 192.6,359.2 192.0,355.4 198.9,357.2 207.3,361.7 196.9,345.4 192.6,345.8 191.1,356.3 190.1,359.2 189.7,359.0 201.2,359.4 196.2,366.3 193.8,370.7 203.3,372.0 207.2,376.2 207.6,370.0 201.2,364.7 205.5,360.7 193.9,361.2 192.9,366.4 195.9,348.0 207.5,349.2 200.9,343.1 208.6,347.8 207.2,344.3 208.1,346.0 192.9,340.5" fill="none" stroke="#1a932a" stroke-width="1.6" stroke-linejoin="miter" stroke-miterlimit="3"/><polyline points="201.1,349.9 204.8,364.0 205.5,366.5 201.3,356.1 211.3,357.8 216.8,355.7 222.1,357.7 222.1,364.6 223.1,357.6 225.4,359.1 232.1,346.7 230.5,347.4 233.0,341.9 233.7,343.3 244.1,343.3 243.4,345.2 240.8,347.9 240.6,349.3 245.5,349.4 238.8,346.6 242.1,342.2 242.2,343.0 244.9,346.7 239.4,339.4 234.8,338.7 241.2,342.6 245.2,350.3 244.8,349.3 246.8,354.3 234.7,353.9 239.1,364.6 243.8,371.9 229.1,361.2 223.4,350.1 217.0,360.1 234.4,368.7 227.7,368.5" fill="none" stroke="#f0301a" stroke-width="1.6" stroke-linejoin="miter" stroke-miterlimit="3"/><polyline points="201.6,349.1 194.7,357.7 194.2,356.7 196.8,367.0 192.9,366.9 183.0,379.4 183.4,379.8 191.6,383.2 209.0,378.5 205.3,377.0 216.0,386.5 217.6,376.9 226.0,374.3 225.3,367.2 240.4,367.3 238.1,367.8 239.4,364.4 238.0,377.4 231.4,362.3 235.7,357.6 232.8,360.5 237.0,347.4 225.6,352.7 235.7,352.5 225.2,353.0 218.8,351.1 205.1,351.0 204.7,354.0 208.9,352.9 211.0,358.3 219.7,356.4 224.8,346.6 225.3,345.4 233.3,351.4 234.7,339.3 229.7,343.9 239.9,337.2" fill="none" stroke="#1fe01f" stroke-width="1.6" stroke-linejoin="miter" stroke-miterlimit="3"/><polyline points="200.7,349.3 195.4,347.5 187.1,351.1 190.2,354.4 197.4,350.8 197.2,350.8 197.5,347.3 199.2,341.2 196.3,334.9 212.8,340.5 215.7,334.4 215.1,334.1 214.5,333.7 222.9,337.4 228.1,344.7 227.6,359.5 217.8,363.5 220.6,361.0 220.5,357.1 213.5,347.0 206.7,346.8 208.4,356.2 206.7,350.6 210.7,339.0 200.9,338.3 188.2,346.3 188.6,343.0 187.1,342.6 181.1,349.1 187.8,353.2 175.0,352.7" fill="none" stroke="#f5a02a" stroke-width="1.6" stroke-linejoin="miter" stroke-miterlimit="3"/><polyline points="201.1,348.8 211.7,346.9 213.0,348.3 215.2,347.1 211.2,353.3 216.6,350.7 216.1,350.4 212.9,354.2 216.5,352.2 216.7,347.8 209.9,341.8 204.7,345.7 202.8,342.3 193.1,344.7 192.7,347.5 200.1,357.3 197.4,356.3 196.2,360.2 203.7,359.3 209.6,356.9 212.1,356.5" fill="none" stroke="#1fe01f" stroke-width="1.6" stroke-linejoin="miter" stroke-miterlimit="3"/><polyline points="200.8,350.2 203.6,354.9 207.3,353.5 215.1,363.5 221.6,354.7 221.7,359.9 216.1,345.6 221.2,351.0 239.2,355.0 251.2,360.9 249.1,356.8 237.7,361.3 236.1,362.0 238.0,355.5 239.0,356.1 229.7,353.7 225.8,365.7 220.5,357.5 211.7,372.0 217.2,365.9 214.8,377.8 213.3,373.7 214.3,370.8 208.4,366.8 216.2,359.5 223.9,349.8 216.1,354.7 220.1,362.3 221.5,373.5 223.8,375.6 227.3,371.0 229.7,372.4 228.0,356.0 220.0,363.1 222.8,361.2 209.4,355.2 211.8,350.6" fill="none" stroke="#1fe01f" stroke-width="1.6" stroke-linejoin="miter" stroke-miterlimit="3"/><polyline points="201.3,349.1 197.7,353.4 203.8,340.9 202.7,349.6 209.3,349.6 201.0,345.9 203.6,346.9 209.0,338.3 204.5,341.3 208.2,354.9 208.3,341.6 211.5,350.7 206.2,356.9 217.9,365.9 203.4,370.1 202.5,365.7 211.3,365.5 204.7,361.4 210.8,376.8 210.3,380.0 203.5,387.8 201.7,388.2 204.9,394.2 216.3,391.5 208.4,385.6 202.8,380.4 196.7,378.7 209.9,367.3 203.5,375.7 200.9,376.6 208.2,370.2 210.6,368.3 204.3,367.5 210.2,366.8 210.4,376.4 226.5,383.9 224.9,382.3" fill="none" stroke="#f0301a" stroke-width="1.6" stroke-linejoin="miter" stroke-miterlimit="3"/><polyline points="201.5,349.9 204.4,352.0 218.4,338.9 233.3,343.2 230.2,338.0 215.4,339.1 213.5,330.1 210.7,339.3 209.7,339.4 211.4,338.9 217.7,346.8 214.9,343.4 231.1,339.5 228.5,336.3 238.0,339.9 232.7,343.7 239.5,347.5 233.5,358.2 246.3,370.0 246.2,367.1 245.9,365.6 238.2,372.9 230.5,375.8 227.1,376.8 222.4,377.3 224.2,375.2 230.0,380.4 232.9,375.1 229.7,364.6 232.3,362.6 240.1,359.1 233.6,352.7 225.5,344.0 217.3,333.5 205.9,330.5 220.2,338.1 214.5,330.5" fill="none" stroke="#f0301a" stroke-width="1.6" stroke-linejoin="miter" stroke-miterlimit="3"/><polyline points="200.5,349.1 200.1,344.2 193.5,333.0 198.8,339.8 199.8,337.2 203.4,334.3 198.9,336.5 190.0,338.8 194.4,338.7 202.7,342.6 206.7,346.0 204.5,335.9 219.6,332.3 219.7,331.1 221.9,328.3 231.9,331.9 234.4,345.7 241.0,345.1 236.9,355.9 250.5,353.6 249.2,350.7 247.0,341.9 239.6,345.6 230.3,352.9 232.9,333.4 239.2,336.5 235.1,333.2 224.4,330.3 232.5,326.1 225.4,329.0 225.6,335.9 213.2,342.4 212.7,339.3 205.9,335.9 207.3,344.6 204.1,347.7 198.7,343.9" fill="none" stroke="#f0301a" stroke-width="1.6" stroke-linejoin="miter" stroke-miterlimit="3"/><polyline points="201.1,350.2 198.6,342.7 195.7,339.7 194.9,350.7 190.1,340.1 182.8,333.7 182.7,330.9 188.6,327.2 197.2,322.4 190.2,324.1 187.4,330.5 189.0,331.2 181.0,338.5 175.8,341.7 189.7,342.3 184.0,349.4 175.8,349.5 167.1,344.8 162.8,357.2 165.5,357.1 163.5,358.0 163.4,358.9 168.0,354.4 165.4,353.0 173.9,349.5 175.0,362.7 169.8,356.1 171.8,352.6 177.6,344.0 196.6,343.1 186.6,350.1 176.5,344.9 168.7,343.7 173.7,336.8 174.9,329.0 173.5,336.8 174.6,330.6" fill="none" stroke="#f0301a" stroke-width="1.6" stroke-linejoin="miter" stroke-miterlimit="3"/><polyline points="201.6,349.2 208.6,346.1 214.7,342.5 213.9,336.8 205.8,328.4 217.0,333.0 227.7,339.2 230.9,343.2 228.7,348.2 223.6,344.2 226.6,338.0 227.7,332.0 218.6,330.2 211.3,340.1 205.0,333.8 202.4,329.5 196.2,342.4 193.5,335.0 210.3,334.8 209.4,331.4 203.9,335.8 198.5,333.7 184.2,337.0 186.5,338.9 185.3,338.6 181.8,342.6 182.4,338.2 168.5,336.0 174.8,351.7 176.0,341.0 175.8,346.2 185.0,336.7 187.9,331.5 185.2,319.0 187.3,319.9 184.8,332.2 183.6,334.1" fill="none" stroke="#1f80e0" stroke-width="1.6" stroke-linejoin="miter" stroke-miterlimit="3"/><polyline points="201.7,348.6 191.4,347.8 182.6,351.4 186.9,354.9 177.0,351.9 177.8,352.2 184.0,353.8 185.3,349.1 185.4,344.8 179.6,336.7 176.1,335.8 175.5,342.5 177.1,341.0 184.1,348.3 192.3,350.9 190.9,358.2 182.4,355.0 182.2,337.1 184.6,333.3 180.0,331.5 182.5,343.5 180.4,350.1 179.7,350.1 170.6,354.4 175.5,353.2" fill="none" stroke="#e040d8" stroke-width="1.6" stroke-linejoin="miter" stroke-miterlimit="3"/><polyline points="201.1,349.8 204.4,351.8 192.2,347.0 195.1,349.7 189.1,349.7 191.7,352.9 180.7,358.5 186.7,369.7 191.4,372.1 191.0,371.4 189.3,375.0 191.0,389.5 197.1,398.9 201.5,396.1 205.5,391.4 206.8,382.3 198.2,394.1 196.2,388.3 190.9,385.7 187.2,401.8 191.3,401.2 200.9,395.6 204.2,395.8 190.8,401.6 194.5,397.8 195.3,401.0 205.3,390.7 209.6,391.0 216.2,397.8 208.9,391.4 207.1,387.0 218.1,378.5 223.5,367.5 224.6,369.6 217.2,377.9 221.5,391.4 228.2,382.9" fill="none" stroke="#1f80e0" stroke-width="1.6" stroke-linejoin="miter" stroke-miterlimit="3"/><polyline points="201.7,348.9 208.0,344.1 208.6,339.3 208.6,342.6 209.9,350.6 210.4,344.1 213.7,343.2 208.2,346.1 206.1,339.5 208.2,336.7 216.1,342.4 213.6,348.4 212.9,357.0 220.1,357.9 218.7,354.9 219.4,355.9 210.1,350.0 211.3,352.3 210.2,344.5 210.4,338.0 206.9,340.5 208.6,339.9 208.0,339.8 212.7,351.5 209.9,351.2 202.3,349.8 201.9,342.8 193.5,336.2 190.8,334.4 181.3,340.0 180.8,348.9" fill="none" stroke="#f5a02a" stroke-width="1.6" stroke-linejoin="miter" stroke-miterlimit="3"/><polyline points="200.8,349.4 208.2,343.3 209.8,344.0 216.3,335.2 207.3,336.8 204.9,337.4 203.8,335.3 204.8,343.1 196.5,348.6 199.3,341.5 190.3,340.4 188.3,335.8 181.1,347.4 175.6,354.1 181.3,346.9 188.1,342.8 185.3,350.4 176.7,354.1 188.7,347.8 183.2,350.4 185.6,351.8 188.9,344.6 180.6,326.1 176.0,327.4 175.8,320.1 182.7,331.5 187.0,328.9 183.7,318.2 178.1,322.7 179.9,321.5 178.8,330.0 181.0,342.7 188.0,341.1 169.7,344.4 163.2,336.9 174.7,346.8 161.2,336.6" fill="none" stroke="#1fe01f" stroke-width="1.6" stroke-linejoin="miter" stroke-miterlimit="3"/><polyline points="200.8,350.1 219.1,349.4 225.1,344.5 222.7,349.1 222.5,354.7 222.7,355.0 221.3,358.1 221.4,351.0 232.0,349.9 232.3,360.6 217.2,349.6 215.9,344.1 219.2,350.7 216.8,355.1 218.5,349.4 211.9,348.7 209.0,345.4 205.4,349.7 197.4,345.3 204.1,337.4 215.8,337.7 224.8,324.5 226.0,333.7 229.9,342.7 228.1,328.8 219.2,327.5 218.3,330.6 214.4,332.6 212.4,327.8 211.5,328.6 206.7,341.2 212.9,346.7 211.9,330.0 210.5,328.3 211.2,314.6 208.9,315.6 210.6,323.3" fill="none" stroke="#1fe01f" stroke-width="1.6" stroke-linejoin="miter" stroke-miterlimit="3"/><polyline points="200.4,350.2 206.4,341.1 204.5,332.2 213.4,337.3 209.4,341.2 211.4,346.7 211.8,345.5 206.4,343.4 197.0,347.3 205.1,345.1 207.1,350.8 215.3,343.2 212.9,341.1 221.0,341.9 218.4,347.2 222.0,337.2 218.9,330.9 221.6,325.7 222.5,322.1 228.3,321.5 227.8,331.6 222.1,330.3 222.7,322.7 215.1,316.8 212.7,314.3 211.4,323.4 206.6,323.6 220.6,316.8 211.6,322.6 220.9,330.9 221.1,321.7 219.0,327.6 209.0,336.9 199.1,342.1 207.4,345.8 213.5,345.8 212.3,331.3" fill="none" stroke="#1fe01f" stroke-width="1.6" stroke-linejoin="miter" stroke-miterlimit="3"/><polyline points="201.7,350.2 202.7,338.8 196.5,335.4 199.0,339.8 202.3,340.5 197.9,341.2 202.3,334.0 203.1,338.0 212.3,343.3 210.9,350.6 219.0,349.3 219.5,346.5 215.8,349.3 213.7,353.6 211.9,355.2 208.7,349.1 208.4,347.5 210.5,347.6 216.3,348.4 216.4,348.9 209.5,337.5 209.9,338.8 208.2,335.6 212.6,335.8 214.4,343.4" fill="none" stroke="#e040d8" stroke-width="1.6" stroke-linejoin="miter" stroke-miterlimit="3"/><polyline points="201.6,348.6 189.8,348.9 186.4,345.1 190.9,340.8 184.3,344.5 183.7,342.6 185.8,336.2 197.4,340.7 191.6,341.8 190.8,346.7 193.5,342.8 201.7,340.8 199.0,352.7 186.3,345.6 192.9,354.1 197.3,354.8 192.1,357.9 190.2,366.8 190.1,359.6 177.9,358.9 184.6,359.9 186.9,355.4 184.8,359.1 198.9,356.8 206.5,361.1 207.3,362.1 209.3,372.9 203.6,371.8 201.1,370.4 199.3,373.1 202.4,367.0 201.0,360.8 193.2,365.4 192.6,374.2 193.0,371.5 193.5,372.9 190.1,373.1" fill="none" stroke="#1f80e0" stroke-width="1.6" stroke-linejoin="miter" stroke-miterlimit="3"/><polyline points="200.7,349.8 210.2,346.7 199.7,348.8 200.8,348.1 191.3,336.5 195.9,334.7 194.8,331.7 192.9,341.9 194.9,344.7 192.8,347.9 199.4,354.1 212.4,355.7 216.6,363.4 218.8,368.6 223.9,373.5 230.0,362.4 234.1,360.1 235.3,354.8 229.3,353.9 229.4,359.9 223.6,351.5 226.2,352.1 222.9,349.6 230.1,343.9 231.1,341.9 231.8,343.1 221.2,351.3 228.2,350.7 231.3,339.8 228.9,335.9 221.7,350.8" fill="none" stroke="#f5a02a" stroke-width="1.6" stroke-linejoin="miter" stroke-miterlimit="3"/><polyline points="201.6,348.8 200.0,338.5 205.9,337.5 209.8,338.2 208.3,339.8 210.2,346.3 205.8,350.0 204.9,353.2 197.5,353.3 200.7,352.3 199.1,351.4 203.1,358.9 203.0,358.6 203.1,366.2 208.2,357.1 209.4,361.0 206.1,363.1 204.0,365.3 192.8,365.2 191.6,361.1 187.9,351.5" fill="none" stroke="#1fe01f" stroke-width="1.6" stroke-linejoin="miter" stroke-miterlimit="3"/><polyline points="200.1,348.4 198.4,344.3 207.0,346.7 195.3,331.0 195.2,327.5 195.5,339.5 194.2,343.8 189.2,342.6 200.2,333.0 193.8,340.5 202.4,351.5 196.5,348.6 190.5,358.5 196.4,344.7 190.9,338.8 192.1,349.5 184.0,348.9 182.2,344.4 188.6,343.0 189.7,338.1 196.3,331.6 187.7,341.8 188.6,339.9 185.9,333.6 195.3,331.2 202.2,331.7 201.2,338.4 203.8,339.9 188.1,341.1 183.8,339.2 179.9,348.1 179.0,343.1 180.9,341.1 195.2,339.5 197.7,336.4 206.4,327.2 197.8,328.7" fill="none" stroke="#f0301a" stroke-width="1.6" stroke-linejoin="miter" stroke-miterlimit="3"/><polyline points="200.7,349.8 207.4,358.6 202.6,361.3 202.9,366.2 203.9,363.2 204.4,367.7 210.5,377.2 201.7,371.8 207.9,367.3 212.3,368.4 201.3,367.3 208.6,363.2 209.9,372.4 215.7,369.9 229.5,363.6 222.4,359.8 224.7,362.3 234.0,364.7 228.9,343.2 211.0,329.8 207.9,331.9 213.3,334.0 193.2,330.1 191.7,335.0 190.5,328.2 186.8,326.7 196.3,314.2 195.4,315.8 190.3,329.8 185.7,330.7 188.2,334.1 173.4,340.1 182.2,332.3 182.3,327.7 183.2,322.8 181.4,322.5 184.3,320.2" fill="none" stroke="#1f80e0" stroke-width="1.6" stroke-linejoin="miter" stroke-miterlimit="3"/><polyline points="201.0,348.8 198.9,344.5 193.8,344.5 196.3,338.9 196.4,341.6 193.2,345.5 200.0,345.6 193.6,336.3 189.7,334.9 198.3,343.5 195.1,336.0 197.0,340.8 199.4,340.7 195.0,347.1 193.0,340.4 193.7,344.0 196.7,351.3 195.9,346.3 190.8,352.5 199.0,367.6 195.4,358.6" fill="none" stroke="#f5a02a" stroke-width="1.6" stroke-linejoin="miter" stroke-miterlimit="3"/><polyline points="200.5,349.6 201.5,351.6 213.1,344.5 207.0,346.3 213.4,345.7 216.9,353.1 218.4,358.2 213.1,348.0 218.0,353.0 214.8,336.9 226.8,346.5 234.7,354.9 230.3,361.9 232.8,359.0 240.4,359.7 241.2,371.9 240.5,367.9 243.1,372.8 243.1,364.8 238.0,364.6 233.2,373.4 243.8,364.0 244.0,362.9 225.0,358.1 229.2,355.2 228.2,359.8 228.0,356.2 222.6,360.4 216.7,354.0 236.5,352.5 247.0,342.2 242.7,346.1 246.0,343.4 243.8,346.3 236.5,364.3 246.4,368.3 243.7,357.4" fill="none" stroke="#1fe01f" stroke-width="1.6" stroke-linejoin="miter" stroke-miterlimit="3"/><polyline points="201.1,348.9 201.0,336.0 208.5,334.0 198.5,350.8 202.4,349.8 202.5,339.1 194.3,331.7 192.0,344.8 191.2,340.4 202.3,338.0 204.0,338.6 209.0,347.6 206.2,331.7 209.7,328.5 210.8,331.3 205.1,336.0 195.6,344.8 186.0,336.6 193.8,327.5 196.1,329.8 195.4,327.6 194.8,327.1 192.5,332.9 188.9,333.3 185.7,332.1 186.0,338.0 197.7,341.8 208.1,329.1 210.1,326.2 223.1,332.2 218.0,327.4 228.3,331.5 223.1,333.7 221.2,337.3 217.1,343.6 203.7,333.1 202.0,336.7" fill="none" stroke="#1f80e0" stroke-width="1.6" stroke-linejoin="miter" stroke-miterlimit="3"/><polyline points="201.4,349.5 205.9,345.1 205.1,348.2 211.9,352.8 211.4,365.0 204.9,354.5 195.8,366.0 194.7,362.3 193.4,361.3 186.5,357.2 186.8,352.3 198.9,353.3 195.9,351.5 210.7,362.0 210.7,372.8 195.2,371.5 194.2,349.6 202.1,342.3 197.2,346.5 202.8,343.1 198.7,340.9 207.5,334.8 205.7,338.8 208.0,331.6 195.5,344.0 203.1,348.3 203.4,349.5 198.7,353.3 187.4,350.8 193.4,357.2 189.1,355.5 183.7,363.9 183.8,361.1 186.1,351.1 186.9,347.4 182.2,347.3 183.9,351.9" fill="none" stroke="#f0301a" stroke-width="1.6" stroke-linejoin="miter" stroke-miterlimit="3"/><polyline points="200.4,349.7 199.6,350.3 202.7,348.9 201.4,349.0 200.0,355.4 193.8,361.3 203.3,359.3 190.7,363.3 180.2,366.3 169.3,370.2 172.8,372.6 169.1,361.7 167.8,363.3 165.3,361.1 169.4,348.8 178.4,355.8 198.0,359.5 197.5,347.5 205.7,337.4 206.9,321.2 209.5,322.4 208.5,319.0 210.9,312.2 210.9,308.9 211.7,322.4 213.8,314.3 224.8,315.6 234.6,314.0 229.9,333.0 233.3,333.0 225.6,325.5 220.3,321.1 210.7,333.7 212.7,336.0 212.7,334.8 205.9,340.8 203.6,335.9" fill="none" stroke="#1f80e0" stroke-width="1.6" stroke-linejoin="miter" stroke-miterlimit="3"/><polyline points="201.7,349.3 196.6,336.0 195.0,334.5 197.6,343.8 200.7,346.5 208.9,345.1 222.2,344.1 223.7,337.0 223.9,339.6 225.4,347.6 222.3,345.1 215.8,346.9 220.1,342.8 225.4,334.3 230.6,332.1 229.5,340.1 228.8,349.5 237.1,347.0 237.9,349.2 232.7,343.6 239.4,344.0 242.3,334.7 233.2,349.9 234.9,349.8 236.2,359.3 233.6,363.4 238.6,349.1 220.6,349.9 211.8,345.4 199.4,344.2 206.1,339.5 193.8,341.2 199.4,332.6 201.3,335.7 199.9,337.3 195.9,342.6 198.7,345.4" fill="none" stroke="#1f80e0" stroke-width="1.6" stroke-linejoin="miter" stroke-miterlimit="3"/><polyline points="201.2,348.9 211.5,343.8 220.6,345.4 213.1,337.5 199.8,341.9 194.0,345.2 195.1,345.3 185.5,344.9 191.0,349.0 180.5,359.3 177.6,358.2 175.5,353.6 190.3,366.5 190.3,370.1 193.9,364.7 181.8,366.2 180.8,349.8 193.7,344.0 195.1,354.7 199.8,356.7 191.3,365.1 195.8,365.5 197.1,364.0 195.8,360.2 202.4,354.3 203.8,350.1 189.9,342.8 186.6,354.0 189.5,351.6 199.1,349.5 203.7,362.6 192.3,380.1 186.5,380.2 179.0,362.2 175.6,366.3 178.0,373.4 188.1,376.9" fill="none" stroke="#1fe01f" stroke-width="1.6" stroke-linejoin="miter" stroke-miterlimit="3"/><polyline points="201.2,349.5 181.1,348.6 181.0,349.8 186.9,356.8 206.7,358.2 215.9,362.4 212.4,363.9 216.9,359.7 222.7,362.5 225.6,372.5 224.7,368.5 238.4,370.5 236.2,369.8 238.3,368.7 241.7,359.4 234.1,372.8 225.7,377.9 219.3,377.7 221.9,375.6 212.1,376.9 214.0,372.0 202.8,366.0 196.4,365.7 200.6,373.7 203.7,365.2 207.0,378.5 212.2,372.4 209.9,363.9 201.4,362.1 204.0,356.7 200.8,360.4 200.9,357.1 207.5,364.0 209.9,355.1 205.7,361.7 216.0,365.6 201.7,362.9" fill="none" stroke="#f0301a" stroke-width="1.6" stroke-linejoin="miter" stroke-miterlimit="3"/><polyline points="200.1,349.5 195.3,353.8 194.4,363.5 206.6,360.6 199.0,359.6 200.5,365.0 197.2,374.5 188.3,371.8 186.0,370.0 181.5,379.4 177.7,380.1 181.5,387.8 185.5,375.4 174.1,382.6 167.6,384.9 171.3,378.0 169.5,381.7 165.7,387.8 161.0,382.8 170.2,376.9 175.1,369.9 163.7,380.4 154.7,371.7 153.2,361.6 154.1,358.6 153.3,362.6 153.4,360.5 161.2,354.9 160.8,351.2 168.8,355.9 174.0,356.8 156.8,348.5 169.3,353.7 176.6,350.4 175.9,342.9 179.2,352.9 182.1,356.4" fill="none" stroke="#1fe01f" stroke-width="1.6" stroke-linejoin="miter" stroke-miterlimit="3"/><polyline points="200.1,348.6 202.0,339.0 216.2,332.6 212.7,326.4 223.0,336.0 214.2,342.3 220.7,334.7 220.2,328.5 211.4,319.2 202.9,321.9 208.0,320.3 195.3,311.4 193.5,319.1 202.8,317.6 203.7,331.5 203.8,322.5 200.9,319.4 197.9,322.2 205.8,331.2 194.6,327.5 193.7,334.4 198.2,339.3 199.8,337.0 195.1,338.7 197.8,350.0 186.7,345.0 184.6,345.1 185.8,335.9 188.5,330.5 190.8,330.1 194.7,320.5" fill="none" stroke="#5b2a98" stroke-width="1.6" stroke-linejoin="miter" stroke-miterlimit="3"/><polyline points="200.5,349.4 200.3,340.4 209.9,342.6 207.2,337.3 204.1,328.7 208.8,327.8 205.7,333.6 204.6,331.0 190.9,329.8 199.2,333.6 204.3,341.2 204.4,344.3 193.9,341.7 205.4,350.8 217.5,356.6 224.9,358.7 225.9,361.2 225.4,369.9 221.3,376.3 222.1,384.0 222.4,385.6 222.4,389.6 229.1,390.7 226.8,388.3 228.3,372.9 227.5,363.9 223.9,368.7 230.0,373.2 228.3,364.1 236.6,347.7 239.8,357.1 243.9,358.9 242.0,346.8 244.5,343.5 246.0,349.6 243.0,343.8 237.6,336.0" fill="none" stroke="#f0301a" stroke-width="1.6" stroke-linejoin="miter" stroke-miterlimit="3"/><polyline points="201.4,349.1 205.7,344.5 211.3,331.8 219.6,332.2 210.8,333.2 209.2,346.1 211.6,353.6 204.7,354.4 205.0,357.3 211.6,361.2 212.3,358.6 215.4,349.9 214.4,346.6 215.0,343.8 216.3,340.2 205.4,343.4 215.5,344.9 219.3,349.2 224.0,355.3 225.4,355.4 230.2,360.0 227.0,350.0 238.8,362.2 228.3,368.5 237.3,362.2 230.4,362.0 227.7,358.5 227.5,346.4 226.5,339.6 224.2,335.6 224.9,332.0" fill="none" stroke="#f5a02a" stroke-width="1.6" stroke-linejoin="miter" stroke-miterlimit="3"/><polyline points="200.8,349.7 192.1,349.6 174.2,348.2 181.7,344.5 189.7,351.8 190.3,352.6 196.5,356.8 201.6,350.4 203.2,341.9 201.8,333.6 201.1,327.0 199.6,339.4 202.4,327.4 216.1,330.7 220.7,326.6 217.6,328.0 220.1,326.8 218.7,327.5 223.4,330.4 229.4,335.6 220.6,328.7 227.9,330.6 217.0,329.2 208.6,343.4 200.6,341.7 193.8,327.9 195.2,330.9 204.6,332.3 203.9,327.7 200.1,324.9 205.0,326.8 198.7,325.4 190.8,328.2 185.6,331.6 191.2,328.6 202.4,328.8 215.5,333.2" fill="none" stroke="#1f80e0" stroke-width="1.6" stroke-linejoin="miter" stroke-miterlimit="3"/><polyline points="201.6,349.5 198.2,357.0 198.1,369.9 191.7,370.5 202.8,365.5 205.3,370.0 207.7,367.7 210.0,373.3 211.1,371.9 210.7,370.6 220.6,376.2 213.7,381.6 214.0,384.9 220.0,376.5 213.7,373.2 222.4,372.6 224.2,368.1 215.7,355.4 218.2,348.4 217.3,352.2 222.6,343.8 223.9,349.2 228.7,346.5 231.6,335.6 216.9,345.1 237.3,344.1 239.1,350.5 239.3,356.6 227.8,364.6 226.0,371.0 230.4,362.6 234.2,361.3 225.0,358.5 215.6,359.3 203.1,368.4 205.1,369.8 204.2,370.2" fill="none" stroke="#f0301a" stroke-width="1.6" stroke-linejoin="miter" stroke-miterlimit="3"/><polyline points="200.9,348.4 211.6,348.6 215.7,343.9 210.2,349.7 202.2,355.3 212.0,362.7 206.7,351.3 208.5,342.3 194.9,345.4 207.3,349.3 209.2,359.5 205.0,365.0 200.0,366.2 204.1,366.7 201.9,361.0 195.5,362.1 190.5,353.9 195.6,357.7 195.9,351.4 195.1,354.0 204.1,356.8 214.0,356.9 212.5,360.9 208.4,361.8 210.5,363.3 216.9,360.5 218.6,353.7 222.1,347.7 219.1,353.5 237.5,352.8 234.1,354.7" fill="none" stroke="#f5a02a" stroke-width="1.6" stroke-linejoin="miter" stroke-miterlimit="3"/><polyline points="201.5,349.6 189.2,345.9 193.3,357.4 196.5,364.7 188.3,361.7 194.2,366.7 193.1,372.2 186.8,375.7 189.7,385.9 205.1,378.8 207.3,383.4 199.4,388.6 196.1,379.8 208.4,376.8 208.3,388.7 203.5,373.5 193.7,378.6 194.1,379.5 192.1,389.6 187.2,378.5 189.6,377.6 194.2,381.1 200.1,387.7 199.2,383.4 194.0,383.5 199.4,384.1 202.0,383.6 194.2,384.1 191.4,381.2 196.9,379.7 190.5,376.3 177.2,370.8 172.5,366.5 176.6,365.2 186.8,362.5 187.5,383.0 193.0,376.8" fill="none" stroke="#1f80e0" stroke-width="1.6" stroke-linejoin="miter" stroke-miterlimit="3"/><polyline points="200.3,349.1 208.8,364.2 201.6,353.0 202.7,352.3 204.8,346.7 215.8,350.1 218.9,348.8 230.5,339.5 235.1,343.3 225.5,341.0 226.3,347.2 237.4,347.3 237.1,353.3 238.4,346.5 241.5,348.8 236.1,353.4 231.8,347.1 238.3,347.9 241.3,334.3 227.5,332.6 232.1,334.0 227.7,322.5 227.7,325.9 227.5,327.5 225.9,336.1 227.8,343.1 218.4,343.5 223.4,344.5 219.4,335.0 216.0,332.3 217.6,335.1 213.8,353.4 219.1,355.1 218.2,348.3 219.0,353.2 210.5,362.0 200.2,349.7" fill="none" stroke="#1fe01f" stroke-width="1.6" stroke-linejoin="miter" stroke-miterlimit="3"/><polyline points="200.4,349.3 212.1,347.8 207.8,342.4 202.5,344.1 203.5,353.0 195.0,363.1 185.6,359.0 178.6,360.2 176.9,363.7 181.4,366.2 176.6,365.2 185.7,370.6 184.8,376.8 183.9,362.2 182.9,352.5 191.3,353.4 189.7,361.2 182.6,375.7 180.6,367.1 184.3,366.6 189.9,365.7 193.8,362.8 208.0,365.3 202.4,372.2 207.8,370.5 221.3,385.3 224.6,370.8 219.1,358.2 208.0,363.4 204.0,366.7 204.5,368.7 197.6,365.7 194.0,364.3 188.4,363.2 193.4,356.8 194.7,357.6 206.4,368.7" fill="none" stroke="#f0301a" stroke-width="1.6" stroke-linejoin="miter" stroke-miterlimit="3"/><polyline points="200.6,349.3 206.9,346.9 216.1,346.5 213.6,334.5 224.2,346.1 221.2,344.1 228.5,354.3 213.7,348.3 219.3,341.5 209.0,347.3 214.9,346.4 211.4,346.0 213.8,346.7 207.0,353.6 214.6,344.7 219.8,343.5 223.6,338.7 217.4,344.9 225.2,344.7 231.5,347.1 221.8,342.7 225.0,347.4 229.3,354.7 224.4,358.5 212.7,357.9 204.3,350.3 191.1,359.4 193.1,361.2 199.7,365.8 197.6,369.9 209.9,370.5 219.1,374.0 224.4,372.9 212.0,365.2 197.5,371.1 206.4,373.1 207.8,365.1" fill="none" stroke="#1f80e0" stroke-width="1.6" stroke-linejoin="miter" stroke-miterlimit="3"/><polyline points="201.4,349.6 203.0,360.9 186.1,367.3 189.0,361.4 203.4,360.9 211.4,370.9 219.9,368.5 212.2,369.4 216.5,374.5 217.7,369.3 216.0,375.7 207.9,372.4 208.9,379.7 209.7,379.4 207.1,379.3 211.5,375.5 207.4,365.8 212.7,369.6 221.4,368.0 227.0,362.7 237.4,379.1 234.8,376.2 239.4,382.5 231.1,390.3 231.9,384.2 232.6,381.3 234.8,384.3 221.3,380.3 211.7,375.2 215.7,384.1 208.9,377.9 193.0,383.0 201.0,379.7 197.8,378.5 211.6,368.3 212.3,366.6 205.0,370.9" fill="none" stroke="#f0301a" stroke-width="1.6" stroke-linejoin="miter" stroke-miterlimit="3"/><polyline points="200.3,349.3 208.3,351.7 213.8,356.5 207.2,368.1 194.4,367.9 208.1,370.4 210.0,387.4 211.1,385.8 202.0,373.2 213.5,372.4 211.3,376.4 218.0,375.4 216.9,377.5 225.1,386.8 229.9,378.5 229.5,371.9 236.6,365.9 228.6,346.2 223.9,358.0 222.9,358.9 215.7,358.3 195.2,355.9 194.3,352.2 186.3,347.1 183.4,348.0 184.0,347.1 174.2,345.7 176.2,348.6 179.3,361.1 179.2,364.5 172.9,367.0 178.7,372.3 172.0,363.1 177.7,364.2 180.8,359.5 176.3,368.0 180.7,363.1" fill="none" stroke="#f0301a" stroke-width="1.6" stroke-linejoin="miter" stroke-miterlimit="3"/><polyline points="200.8,348.9 192.8,338.7 192.5,337.4 192.1,338.1 191.0,342.8 191.8,346.5 197.4,362.3 209.2,366.3 215.6,355.6 225.0,366.8 237.5,365.1 243.0,362.5 244.9,355.2 243.7,346.8 242.4,355.9 242.7,353.8 227.3,358.2 212.2,356.7 221.8,350.9 229.0,338.8 223.1,337.0 228.2,328.9 224.2,339.7 226.8,342.6 225.6,337.3 227.3,326.0 220.5,344.8 221.6,352.2 221.0,350.3 212.2,352.3 225.3,343.9 227.2,348.8 224.6,353.2 233.5,356.8 233.0,354.9 241.5,349.8 238.8,343.3" fill="none" stroke="#1fe01f" stroke-width="1.6" stroke-linejoin="miter" stroke-miterlimit="3"/><polyline points="200.7,349.2 201.1,343.4 197.9,346.4 194.0,346.7 188.2,341.7 190.2,346.8 185.0,343.5 203.1,340.8 194.8,347.5 194.8,351.9 198.1,335.9 198.4,341.8 195.6,338.9 197.7,346.8 192.6,348.9 186.9,349.2 176.8,356.1 170.4,352.1 152.8,357.0 166.8,354.2 167.0,346.8 163.4,346.4 167.5,345.1 176.3,349.4 185.4,356.6 181.5,367.4 178.0,366.2 167.6,365.2 171.4,365.2 164.8,371.9 158.9,375.8 156.3,371.3 154.0,378.9 160.5,376.0 165.0,378.2 159.7,371.4 160.3,377.8" fill="none" stroke="#1fe01f" stroke-width="1.6" stroke-linejoin="miter" stroke-miterlimit="3"/><polyline points="200.0,349.0 192.9,356.3 206.9,356.7 208.2,349.8 196.1,343.8 196.3,340.3 193.3,339.4 195.6,337.6 191.1,338.0 197.7,337.6 212.8,338.8 212.7,341.7 212.2,342.6 205.8,337.6 216.0,331.1 202.9,334.6 196.6,321.2 201.7,321.2 206.5,317.3 208.4,323.2 210.5,317.1 210.9,327.9 210.7,316.2 208.4,314.3 207.6,316.3 197.2,322.4 205.2,325.2 196.0,317.9 205.1,319.1 194.2,319.4 194.8,322.3 188.4,318.7 191.2,330.5 189.5,323.8 187.6,324.0 181.4,323.7 191.2,334.7" fill="none" stroke="#f0301a" stroke-width="1.6" stroke-linejoin="miter" stroke-miterlimit="3"/><polyline points="201.3,349.7 192.8,358.7 201.8,355.1 215.3,353.4 225.2,356.9 233.8,362.5 224.3,372.5 240.6,377.2 242.9,377.8 246.5,377.9 241.8,366.3 241.0,360.9 252.1,358.8 249.8,353.5 240.3,360.6 232.3,359.8 238.7,356.3 240.1,354.6 229.2,352.5 240.0,353.2 237.8,362.8 235.1,360.1 240.0,358.3 244.9,364.0 247.9,365.3 248.1,362.1 234.0,358.4 221.7,362.1 223.8,358.4 234.6,364.1 243.8,353.9 241.9,345.7 243.2,330.4 242.2,329.8 241.8,340.9 233.0,339.3 230.9,348.1" fill="none" stroke="#1f80e0" stroke-width="1.6" stroke-linejoin="miter" stroke-miterlimit="3"/><polyline points="200.3,348.8 199.3,338.4 200.9,339.5 211.8,337.2 206.2,342.7 209.2,347.7 212.2,347.0 223.3,342.3 215.2,350.9 205.7,348.0 199.1,344.8 210.4,341.0 203.3,346.0 202.6,349.6 200.3,363.2 201.1,368.7 220.1,373.3 219.8,377.8 219.1,374.8 222.8,364.3 234.7,367.3 235.4,370.4 235.6,354.1 231.9,358.6 219.6,358.4 230.0,356.6 224.2,361.8 227.9,357.7 224.7,360.9 236.9,359.7 237.8,371.8 243.5,369.8 240.7,374.8 245.3,368.6 249.5,363.1 249.4,345.7 245.0,346.1" fill="none" stroke="#1f80e0" stroke-width="1.6" stroke-linejoin="miter" stroke-miterlimit="3"/><polyline points="200.4,350.2 207.4,346.6 204.8,342.5 205.9,348.1 204.2,343.6 206.8,343.1 207.8,346.0 208.7,339.3 202.6,340.4 197.9,335.0 199.9,342.2 198.7,345.4 203.4,335.9 196.0,323.5 190.6,327.7 184.3,331.0 183.9,330.3 175.5,332.2 174.7,333.4 174.4,332.5 170.7,330.9 175.0,331.9 178.7,333.5 172.0,341.2 176.3,337.0 183.7,329.1 183.4,328.4 184.9,329.3 175.3,343.3 184.8,333.9 192.9,341.3 194.8,328.7 195.8,325.0 201.2,336.2 200.1,321.5 186.2,326.3 197.5,339.8" fill="none" stroke="#1f80e0" stroke-width="1.6" stroke-linejoin="miter" stroke-miterlimit="3"/><polyline points="200.2,349.5 208.2,341.1 201.1,347.1 195.7,356.5 195.7,359.2 193.8,356.2 196.1,359.3 205.6,348.1 208.9,347.6 220.3,350.9 205.3,351.0 229.4,346.3 237.3,338.4 223.9,345.6 219.4,343.9 222.3,337.5 222.0,333.8 230.6,345.6 221.1,334.6 224.5,331.2 219.6,317.1 219.3,317.7 216.6,317.8 219.1,314.2 214.3,319.9 211.2,319.2 224.7,327.5 224.8,333.1 214.5,337.9 217.0,336.4 215.7,317.8 208.0,334.0 207.1,329.1 218.0,334.9 224.4,326.9 227.4,330.8 212.5,331.5" fill="none" stroke="#f0301a" stroke-width="1.6" stroke-linejoin="miter" stroke-miterlimit="3"/><polyline points="200.2,349.8 199.3,353.6 192.1,348.6 187.9,346.0 193.8,337.7 213.0,340.8 213.0,343.7 208.3,335.7 211.9,339.0 201.9,348.6 204.1,352.9 210.6,353.7 217.4,357.4 212.7,358.8 206.9,365.5 202.4,350.7 212.9,361.1 209.3,362.9 206.7,367.6 207.4,366.8 209.4,375.3 212.2,388.9 225.4,397.6 218.4,385.6 216.1,385.7 218.8,379.4 208.1,374.6 211.7,378.4 209.9,382.2 216.7,374.7 211.4,385.0 211.9,378.9 212.4,367.4 215.3,354.9 222.3,356.1 215.7,359.5 225.0,358.2" fill="none" stroke="#1fe01f" stroke-width="1.6" stroke-linejoin="miter" stroke-miterlimit="3"/><polyline points="200.9,349.1 200.6,343.0 196.8,341.4 190.1,338.3 180.2,340.4 177.0,341.5 179.3,337.5 174.7,341.6 178.5,347.2 174.0,355.3 178.5,353.3 183.6,362.0 182.1,369.0 179.7,370.0 183.2,372.3 184.8,365.0 177.9,364.4 182.4,357.0 178.9,356.2 187.7,357.8 185.2,371.3 192.7,361.4 199.5,356.0 205.0,354.4 210.9,342.7 208.4,339.6 209.3,343.1 215.0,344.1 211.3,333.7 211.6,329.9 201.8,329.3" fill="none" stroke="#1a932a" stroke-width="1.6" stroke-linejoin="miter" stroke-miterlimit="3"/><polyline points="200.7,349.6 197.0,338.9 195.9,344.0 190.5,349.9 190.8,351.7 196.5,348.5 190.7,348.9 200.3,345.4 203.6,341.5 204.2,334.0 204.4,344.1 218.2,354.4 226.1,364.4 222.5,365.8 222.9,363.0 225.1,358.5 224.8,360.3 237.1,367.0 239.2,359.7 241.9,354.7 235.6,357.8 230.2,364.4 219.1,365.6 219.7,358.8 211.6,362.6 213.1,364.8 224.6,367.9 226.4,370.7 226.5,360.2 223.0,361.6 227.2,358.7 235.2,366.8 237.5,385.3 243.4,380.6 243.9,376.6 241.1,371.0 245.3,381.4" fill="none" stroke="#1fe01f" stroke-width="1.6" stroke-linejoin="miter" stroke-miterlimit="3"/><polyline points="200.1,349.4 197.7,343.4 203.0,345.4 204.4,342.6 209.3,340.6 210.2,343.9 225.2,342.1 223.9,344.9 215.5,332.9 225.4,333.7 230.2,327.6 218.8,322.3 219.2,327.8 214.4,320.3 212.5,321.7 213.0,324.2 215.1,327.1 211.4,332.7 201.6,336.1 196.9,326.5 190.1,334.3 186.6,333.2 180.7,331.4 181.2,338.9 175.5,340.5 177.7,341.1 189.2,340.6 179.6,344.5 178.3,355.4 189.7,351.7 170.2,356.1 172.3,355.0 170.8,364.5 178.0,373.6 179.6,371.7 177.6,366.5 170.7,358.4" fill="none" stroke="#1f80e0" stroke-width="1.6" stroke-linejoin="miter" stroke-miterlimit="3"/><polyline points="202.0,348.8 198.0,349.1 202.1,339.5 196.8,333.9 190.1,322.4 196.0,338.9 202.4,338.7 189.6,337.0 187.3,334.6 192.4,348.3 193.1,341.5 186.1,331.0 189.4,332.7 200.4,322.9 197.9,328.9 196.9,334.0 190.4,326.2 188.6,316.3 198.8,311.9 206.0,308.5 205.5,309.4 209.4,315.4 221.7,322.7 228.6,335.1 231.1,343.8 221.6,345.1 225.3,347.1 230.3,353.8 229.9,357.6 239.4,340.1 237.0,339.2 225.8,329.0 223.3,337.7 227.7,340.3 226.0,344.3 226.3,351.1 228.5,350.9" fill="none" stroke="#f0301a" stroke-width="1.6" stroke-linejoin="miter" stroke-miterlimit="3"/><polyline points="200.4,349.4 203.1,350.4 199.8,355.1 192.1,362.4 195.8,359.5 179.4,349.4 184.2,352.5 187.8,338.4 188.6,340.6 184.8,342.6 187.8,343.3 192.0,349.3 182.9,353.4 182.9,351.1 185.1,352.1 196.7,356.1 189.2,368.6 194.6,373.3 198.9,364.1 199.8,365.6 198.0,358.7 185.2,355.6 190.8,348.3 202.3,361.3 207.9,362.7 216.1,361.1 218.1,369.8 218.6,367.0 220.5,366.6 217.5,369.3 228.5,367.2 222.9,367.7 223.1,379.7 210.2,381.1 196.2,372.2 184.4,364.1 176.7,353.2" fill="none" stroke="#f0301a" stroke-width="1.6" stroke-linejoin="miter" stroke-miterlimit="3"/><polyline points="201.3,349.8 195.1,357.5 180.6,359.5 169.3,344.2 167.8,336.8 167.5,345.0 160.6,347.0 168.8,344.5 164.6,338.6 172.9,342.2 172.6,342.2 177.1,337.0 183.9,327.2 189.5,325.3 195.4,328.2 187.9,342.0 196.6,345.0 185.7,348.9 187.2,347.7 185.8,338.9 195.6,346.4 189.9,350.1 191.8,350.5 181.0,350.2 183.9,336.4 186.9,345.1 176.3,349.8 169.0,362.6 172.4,368.8 178.6,359.5 165.5,374.9 163.6,371.6 166.4,365.4 164.8,369.5 172.9,364.3 180.8,362.9 188.0,365.2" fill="none" stroke="#f0301a" stroke-width="1.6" stroke-linejoin="miter" stroke-miterlimit="3"/><polyline points="200.1,349.4 200.9,355.3 204.5,357.7 201.1,348.3 203.4,353.5 202.1,334.9 189.9,337.4 183.2,338.2 183.1,333.5 185.8,343.2 190.4,351.7 188.8,338.5 185.1,353.6 194.9,343.3 203.4,347.7 194.0,349.6 197.6,344.3 208.3,336.4 208.7,339.3 202.1,333.1 208.5,334.4 194.0,332.2 186.0,330.5 188.4,331.0 178.0,329.3 188.5,337.0 194.3,342.1 191.9,337.9 203.4,331.0 211.9,337.7 202.1,338.4 218.7,339.8 226.3,349.6 226.2,337.8 220.4,334.3 213.4,329.0 214.8,322.6" fill="none" stroke="#f0301a" stroke-width="1.6" stroke-linejoin="miter" stroke-miterlimit="3"/><polyline points="566.0,321.6 564.6,317.1 562.3,313.0 556.2,313.0 552.4,313.2 548.8,311.8 543.7,311.8 539.0,313.6 533.6,313.7 529.2,316.7 525.1,319.7 520.6,321.6 515.5,325.2 512.0,330.2 509.7,334.0 506.4,337.0 511.0,338.1 514.4,341.3" fill="none" stroke="#000000" stroke-width="1.6" stroke-linejoin="miter" stroke-miterlimit="3"/><polyline points="573.4,320.4 569.5,321.3 566.0,319.2 559.8,318.5 553.7,316.7 548.6,316.4 543.9,318.5 539.1,320.5 534.1,321.6 529.8,325.7 524.2,327.8 519.4,331.0 514.4,333.9 510.0,334.2 506.4,337.0 508.6,339.9 512.0,341.3 516.8,345.3 523.0,346.2 528.2,349.1 534.1,349.9 539.5,350.4 543.9,353.6 547.4,355.3 551.3,354.8 555.6,354.8 559.9,354.8 565.6,351.4 572.2,351.1" fill="none" stroke="#1b5a96" stroke-width="1.6" stroke-linejoin="miter" stroke-miterlimit="3"/><polyline points="566.0,336.4 561.1,338.8 558.6,333.9 553.7,331.4 548.8,336.4 553.7,341.3 548.8,345.0 544.9,344.2 541.4,346.2 535.3,343.7 529.2,345.0 535.3,347.4 539.6,348.0 543.9,348.6 548.6,346.2 553.7,345.0 560.0,345.1 566.0,343.7" fill="none" stroke="#e040d8" stroke-width="1.6" stroke-linejoin="miter" stroke-miterlimit="3"/><polyline points="590.6,331.4 595.7,327.0 599.8,321.5 604.5,316.6 608.9,311.4 613.9,306.9 615.2,300.7 611.4,299.1 609.0,295.8 607.1,291.1 602.9,288.4 599.0,285.7 598.0,281.1 593.1,282.3 589.3,284.7 586.9,288.4 580.8,290.9 577.1,294.6 573.4,298.3 571.4,295.1 568.5,292.7 569.7,296.1 570.9,299.5 574.2,302.1 578.3,302.0 582.0,303.7 584.5,306.9" fill="none" stroke="#1fe01f" stroke-width="1.6" stroke-linejoin="miter" stroke-miterlimit="3"/><polyline points="602.9,331.4 607.8,328.6 611.9,324.8 616.1,321.1 620.9,318.1 625.0,314.2 629.7,313.3 633.6,310.6 638.0,309.0 642.2,306.9 642.9,303.2 643.4,299.5 643.0,303.4 641.0,306.9 644.3,311.3 647.7,315.6 652.0,319.2 658.2,319.2 663.5,320.0 668.8,319.8 674.2,319.2 673.3,315.2 675.4,311.8 678.8,314.7 682.8,316.7 686.5,320.9 692.9,320.7 696.7,324.8 701.2,327.8 695.1,329.3 688.9,330.2 693.7,331.9 698.4,333.9 703.7,333.9 698.4,330.6 692.8,328.2 686.5,327.8 680.7,328.2 675.5,325.4 669.7,326.1 664.3,324.1" fill="none" stroke="#f0301a" stroke-width="1.6" stroke-linejoin="miter" stroke-miterlimit="3"/><polyline points="615.2,331.4 620.1,327.7 624.3,323.1 630.3,320.9 633.8,315.4 639.8,313.0 645.6,313.2 650.8,310.6 652.1,316.3 654.5,321.6 660.1,323.6 664.3,327.8 668.7,325.5 671.7,321.6 676.6,326.5 682.8,327.5 688.9,326.5 695.9,325.2 702.8,325.3 709.8,326.5 710.0,331.5 710.9,336.3 711.0,341.3 706.1,338.8 701.2,336.4 695.1,335.0 688.9,333.9 682.8,332.6 676.6,332.7 672.7,335.5 669.2,338.8 664.6,335.8 659.4,333.9 656.8,338.5 657.0,343.7" fill="none" stroke="#1fe01f" stroke-width="1.6" stroke-linejoin="miter" stroke-miterlimit="3"/><polyline points="627.5,331.4 633.8,332.4 639.8,330.3 645.9,329.0 649.3,331.0 652.0,333.9 649.6,338.8" fill="none" stroke="#1fe01f" stroke-width="1.6" stroke-linejoin="miter" stroke-miterlimit="3"/><polyline points="566.0,368.3 563.4,373.8 564.4,380.3 561.1,385.5 557.5,382.9 553.7,380.6 550.0,381.7 546.4,383.1 541.4,386.7 536.5,386.7 532.8,383.1 532.4,388.8 530.4,394.1 533.4,391.8 534.1,388.0 539.0,388.0" fill="none" stroke="#1f80e0" stroke-width="1.6" stroke-linejoin="miter" stroke-miterlimit="3"/><polyline points="602.9,374.5 605.6,377.9 609.0,380.6 611.4,385.0 613.9,389.2 613.2,394.0 610.3,397.8 603.8,397.4 598.0,400.3 593.2,402.3 588.1,401.5 585.3,396.5 580.8,392.9 580.9,387.0 580.0,381.3 578.3,375.7 580.1,370.0 584.9,366.2 589.0,361.9 590.6,356.0" fill="none" stroke="#8a1c1c" stroke-width="1.6" stroke-linejoin="miter" stroke-miterlimit="3"/><polyline points="578.3,370.8 572.6,371.0 567.1,372.5 561.5,373.4 556.2,375.7 549.7,375.3 543.9,378.1 539.9,380.4 535.3,380.6" fill="none" stroke="#f5a02a" stroke-width="1.6" stroke-linejoin="miter" stroke-miterlimit="3"/><polyline points="578.3,336.4 574.3,333.4 571.1,329.2 566.0,327.8 560.8,328.0 556.2,325.3" fill="none" stroke="#f5a02a" stroke-width="1.6" stroke-linejoin="miter" stroke-miterlimit="3"/><polyline points="615.2,368.3 618.5,372.0 624.2,371.9 627.5,375.7 632.6,376.7 636.1,380.6 633.6,385.5 627.4,385.3 621.3,386.7 615.0,385.3 609.0,383.1" fill="none" stroke="#1f80e0" stroke-width="1.6" stroke-linejoin="miter" stroke-miterlimit="3"/><polyline points="578.3,368.3 571.7,369.0 565.4,371.3 558.6,370.8 557.7,376.5 553.7,380.6 556.2,385.9 559.9,390.4 563.8,386.1 566.0,380.6" fill="none" stroke="#1fe01f" stroke-width="1.6" stroke-linejoin="miter" stroke-miterlimit="3"/><polyline points="597.5,349.5 592.0,343.7 592.8,349.0 592.7,344.7 595.9,344.9 594.1,338.6 591.2,341.5 580.0,344.5 574.1,343.3 576.4,339.6 586.0,345.2 595.0,346.5 601.4,347.6 592.2,345.7 580.6,342.0 592.3,340.6 590.0,349.9 590.5,351.2 577.1,349.2 582.9,341.7 595.7,347.8 594.9,357.4 580.6,371.3 574.0,364.5 577.6,350.2 587.5,358.0 597.7,356.2 605.3,368.3 613.6,370.4 607.1,372.8 608.3,377.5 614.1,374.2 617.6,369.3 614.9,364.1 609.9,361.6 621.0,366.9 618.8,366.9" fill="none" stroke="#1fe01f" stroke-width="1.6" stroke-linejoin="miter" stroke-miterlimit="3"/><polyline points="597.1,350.3 594.6,342.9 586.1,345.7 590.4,345.7 600.3,344.5 596.8,351.6 597.0,350.4 581.5,347.0 573.7,351.2 575.0,352.2 576.7,348.6 570.5,357.8 577.5,346.4 578.3,339.8 573.8,345.1 570.4,348.9 564.5,349.6 575.6,335.5 580.8,334.8 597.0,350.0 601.1,346.4 603.0,349.8 603.3,345.5 603.9,346.7 615.7,345.8 621.1,342.6 621.5,338.7 623.7,337.0 625.7,337.2 612.9,334.8 613.2,334.3" fill="none" stroke="#8a1c1c" stroke-width="1.6" stroke-linejoin="miter" stroke-miterlimit="3"/><polyline points="597.8,349.4 605.3,352.2 604.1,358.2 602.8,368.1 600.6,375.5 600.0,376.8 593.0,374.2 597.4,370.7 603.4,367.0 602.8,355.9 609.9,354.8 603.1,355.6 601.2,356.3 595.1,367.7 597.2,363.8 611.9,356.6 600.0,345.6 605.4,343.2 598.8,367.3 608.4,370.3 603.0,361.5 591.6,358.2 589.8,356.6 594.2,358.4 595.6,352.0 586.3,340.1 586.7,334.9 588.0,334.2 585.1,337.6 591.5,340.6 586.5,342.0" fill="none" stroke="#1fe01f" stroke-width="1.6" stroke-linejoin="miter" stroke-miterlimit="3"/><polyline points="598.1,348.6 603.2,356.8 597.1,356.7 611.3,355.9 607.1,351.8 590.7,354.2 599.4,352.8 599.1,353.1 589.3,341.8 587.1,341.2 587.4,335.0 577.4,334.8 579.6,336.1 575.2,336.7 581.2,333.3 579.1,337.3 578.6,348.2 578.2,345.8 567.0,354.7 568.4,353.4 572.5,340.5 588.6,341.2 586.6,350.6 597.0,346.2 589.2,334.7 596.6,337.3 589.7,335.6 601.8,334.0 601.5,335.8 599.1,346.3 585.6,347.7" fill="none" stroke="#1fe01f" stroke-width="1.6" stroke-linejoin="miter" stroke-miterlimit="3"/><polyline points="597.6,348.7 602.5,344.2 608.2,341.3 605.1,337.4 602.7,353.7 611.8,353.7 624.1,358.2 621.9,355.4 629.4,355.7 629.2,359.9 607.0,362.4 610.2,346.4 616.3,343.3 616.1,344.9 616.1,335.5 619.1,336.0 621.9,346.8 614.6,340.5 613.8,339.6 608.1,340.8 600.8,330.3 608.6,327.5 596.0,337.8 598.9,327.0 610.8,320.1 610.0,329.1 607.4,322.5 599.9,319.3 611.1,332.7 610.6,332.6 614.3,328.6 616.4,335.7 630.7,343.5 629.0,343.1 618.3,330.7 620.8,336.4 632.3,342.0" fill="none" stroke="#1fe01f" stroke-width="1.6" stroke-linejoin="miter" stroke-miterlimit="3"/><polyline points="597.2,350.0 598.3,361.0 588.3,362.9 595.7,366.5 591.7,362.8 590.3,362.3 574.7,371.1 569.4,364.0 577.3,355.6 570.1,355.2 576.8,348.3 569.6,348.9 572.4,352.9 565.0,347.3 566.2,339.2 559.1,345.5 558.9,364.7 554.8,359.9 565.8,356.4 575.6,346.9 570.4,352.7 568.0,353.2 560.0,348.1 561.6,341.4 573.7,339.7 569.0,337.1 579.4,332.5 576.1,328.8 577.7,333.5 584.8,329.5 581.3,318.6 583.6,312.8 589.4,331.2 609.1,355.3 607.8,356.2 603.8,368.4 600.4,370.7" fill="none" stroke="#1fe01f" stroke-width="1.6" stroke-linejoin="miter" stroke-miterlimit="3"/><polyline points="596.9,349.2 604.0,341.7 597.2,355.4 599.1,366.3 599.5,370.7 597.2,365.1 597.1,362.9 588.8,362.0 577.8,368.7 582.5,369.7 579.9,370.5 583.8,380.1 589.5,373.3 593.8,378.8 588.3,376.0 582.3,378.4 579.7,372.6 582.3,375.6 579.7,376.4 589.6,376.7 602.6,364.7 601.0,370.1 602.0,368.9 595.3,371.3 607.7,369.3 601.4,373.8 603.8,369.6 607.6,364.7 604.4,358.3 598.0,356.2 587.6,351.8 596.8,346.0 592.0,349.0" fill="none" stroke="#1f80e0" stroke-width="1.6" stroke-linejoin="miter" stroke-miterlimit="3"/><polyline points="596.7,349.0 598.3,349.7 584.6,347.2 574.4,339.9 576.6,346.5 577.4,339.7 575.0,333.9 578.8,339.8 566.5,340.0 569.5,338.4 573.0,341.8 581.8,341.6 585.7,350.7 581.1,349.1 587.1,349.0 592.9,358.5 580.2,359.0 567.3,352.9 566.5,345.0 558.9,340.0 561.5,341.4 568.6,347.2 573.4,339.0 572.0,338.6 561.7,342.5 579.3,339.8 579.6,343.4 578.1,347.3 576.6,344.8 567.8,342.2 569.5,336.2" fill="none" stroke="#1fe01f" stroke-width="1.6" stroke-linejoin="miter" stroke-miterlimit="3"/><polyline points="596.6,350.1 587.1,359.0 587.6,362.7 602.5,367.2 614.9,353.1 602.0,352.7 598.9,355.6 599.1,365.1 596.5,364.8 589.4,364.9 591.8,365.2 591.6,358.8 576.5,347.1 574.0,347.3 578.8,336.9 585.3,324.7 597.9,321.9 598.0,323.7 598.8,331.6 597.1,339.9 595.7,350.8 595.4,359.2 603.6,365.0 616.5,360.6 608.1,372.7 612.1,365.6 615.1,363.1 612.9,367.3 612.0,360.7 617.1,365.4 612.2,374.3 606.7,371.8 591.2,377.0 597.4,378.5 606.3,376.6 604.0,375.9 602.6,372.6" fill="none" stroke="#1fe01f" stroke-width="1.6" stroke-linejoin="miter" stroke-miterlimit="3"/><polyline points="597.7,350.2 588.2,358.3 603.9,361.0 599.9,364.1 595.3,363.4 595.0,357.7 592.9,365.3 602.1,370.4 598.3,375.7 617.0,375.7 618.0,378.8 618.3,367.1 626.0,367.5 624.3,364.1 628.0,368.2 627.5,364.4 624.8,369.6 617.5,375.0 612.6,382.7 613.7,378.4 603.8,386.9 603.0,390.4 601.2,392.7 605.8,394.2 590.8,388.7 589.5,386.1 582.4,377.3 588.3,371.7 592.1,374.4 594.5,374.1 595.2,383.9" fill="none" stroke="#1fe01f" stroke-width="1.6" stroke-linejoin="miter" stroke-miterlimit="3"/><polyline points="597.7,349.8 585.6,343.8 572.8,356.4 575.9,365.9 570.9,361.5 578.3,372.2 570.9,369.3 559.4,360.2 563.4,350.3 576.3,341.2 571.7,343.5 568.3,348.5 566.3,350.4 569.4,361.6 570.0,371.0 561.2,378.4 569.7,391.7 564.7,386.8 559.1,377.7 557.7,378.5 558.0,377.2 553.0,367.5 557.8,366.0 560.4,358.7 556.9,360.6 555.6,361.6 552.8,355.5 552.1,361.9 561.1,362.7 562.5,366.4 567.0,375.6 572.4,372.7 574.7,369.5" fill="none" stroke="#1f80e0" stroke-width="1.6" stroke-linejoin="miter" stroke-miterlimit="3"/><polyline points="597.2,349.4 591.2,344.6 588.4,342.3 579.6,327.5 576.6,328.8 584.1,311.7 576.6,322.0 571.8,319.2 576.9,319.3 569.1,333.5 566.6,323.7 572.7,326.6 567.1,332.4 586.4,337.6 592.8,335.5 581.1,332.9 585.0,337.3 584.7,335.0 583.4,328.0 586.5,335.8 579.9,330.2 589.6,325.1 577.9,327.3 592.8,331.4 598.2,321.2 595.3,327.5 594.0,322.1 585.2,324.4 573.4,330.0 569.7,331.0 580.0,321.5 575.8,323.1 571.0,323.6 564.0,324.1 567.0,321.8 568.6,332.2 563.5,331.6" fill="none" stroke="#1fe01f" stroke-width="1.6" stroke-linejoin="miter" stroke-miterlimit="3"/><polyline points="596.8,349.0 595.9,339.1 594.7,339.8 592.2,336.6 595.4,340.6 593.4,347.0 596.6,341.3 594.6,344.5 600.2,341.1 606.4,338.5 601.5,349.5 599.2,359.4 588.6,355.2 595.0,360.3 611.1,354.4 608.5,358.5 607.7,365.3 614.2,362.6 616.2,361.5 605.5,361.1 612.0,358.8 608.5,353.6 608.3,363.2 597.3,365.7 586.1,359.9 582.1,372.3 598.4,362.6 595.2,365.6 596.0,365.0 602.2,363.9 595.9,368.4" fill="none" stroke="#1fe01f" stroke-width="1.6" stroke-linejoin="miter" stroke-miterlimit="3"/><polyline points="597.5,349.5 583.7,345.6 587.7,339.1 580.9,354.9 585.6,351.1 577.6,356.8 571.3,365.9 569.3,363.1 573.4,348.8 572.8,345.6 565.7,357.6 568.3,353.7 568.4,353.6 574.6,356.0 573.2,359.1 563.9,356.9 567.6,353.1 567.9,354.9 567.1,350.0 572.5,352.4 571.8,344.0 583.1,351.5 585.8,352.0 575.1,345.0 579.3,331.2 576.7,324.7 588.2,332.7 584.7,326.6 598.6,320.8 604.5,310.9 607.3,314.4 603.6,320.7 610.3,327.1 615.2,340.2 625.3,343.8 627.0,362.1 624.0,370.2" fill="none" stroke="#1fe01f" stroke-width="1.6" stroke-linejoin="miter" stroke-miterlimit="3"/><polyline points="597.1,349.0 601.6,341.0 605.4,350.8 603.9,348.2 600.7,328.0 606.8,327.1 605.5,332.0 607.0,339.5 598.5,331.9 598.6,336.9 591.3,322.4 597.3,339.8 592.0,330.0 604.5,319.0 613.7,331.2 617.0,324.8 629.1,338.2 623.4,338.5 625.6,339.6 622.9,351.0 627.6,343.1 623.3,349.6 617.4,351.7 615.4,351.9 621.1,343.5 627.3,352.3 619.7,343.6 604.9,347.6 600.8,360.3 603.7,354.0 610.7,351.0 613.3,353.7 624.7,353.4" fill="none" stroke="#1f80e0" stroke-width="1.6" stroke-linejoin="miter" stroke-miterlimit="3"/><polyline points="598.2,349.7 598.2,350.6 599.3,346.1 592.1,352.3 595.4,351.3 596.1,358.3 596.9,354.9 598.4,351.7 601.7,352.6 601.0,353.2 599.5,357.1 606.5,355.3 605.4,348.5 595.1,347.7 601.1,348.4 595.5,346.1 588.4,344.7 582.6,342.5 584.1,346.0 579.4,353.1 579.3,351.3 575.6,351.5 577.4,345.6" fill="none" stroke="#e040d8" stroke-width="1.6" stroke-linejoin="miter" stroke-miterlimit="3"/><polyline points="597.5,349.0 593.5,349.4 590.0,355.6 594.9,354.2 592.3,354.4 600.7,357.8 593.0,352.9 601.5,352.3 590.7,341.4 599.6,350.6 610.0,362.1 610.9,349.0 612.3,347.3 619.0,351.2 634.2,357.8 636.6,362.7 636.0,359.1 622.1,356.0 627.3,358.5 618.6,366.5 616.6,374.1 619.2,383.7 609.8,389.0 615.0,387.1 611.1,389.6 607.3,385.4 586.7,372.1 593.4,382.3 597.3,386.6 604.4,393.4 597.8,383.6 589.3,378.0 591.4,383.5 603.6,391.5 602.6,378.6 613.4,382.0 623.5,383.9" fill="none" stroke="#1fe01f" stroke-width="1.6" stroke-linejoin="miter" stroke-miterlimit="3"/><polyline points="596.3,348.8 581.2,346.2 575.5,358.2 572.8,345.3 580.9,346.9 574.7,358.5 576.1,362.3 581.9,366.6 580.8,368.0 574.2,361.2 583.2,355.5 597.0,346.2 597.6,351.3 601.6,352.8 601.6,358.2 612.9,356.6 607.3,370.9 610.2,378.1 617.4,377.1 608.2,385.3 618.7,380.6 598.2,381.0 606.5,382.3 610.7,383.2 605.8,376.6 601.9,369.5 608.4,377.0 609.1,371.8 603.9,375.0 612.1,379.1 609.4,372.5" fill="none" stroke="#8a1c1c" stroke-width="1.6" stroke-linejoin="miter" stroke-miterlimit="3"/><polyline points="598.2,349.5 605.9,348.8 606.7,347.9 604.3,337.7 608.5,327.3 607.5,331.9 606.7,327.0 602.6,330.0 605.0,331.3 607.5,341.4 608.6,344.2 604.3,353.4 601.0,345.4 606.2,341.7 593.3,341.7 593.2,332.8 583.8,331.2 577.0,333.1 577.5,327.9 578.5,324.3 578.9,336.6 573.3,343.2 570.5,342.6 561.1,352.5 567.4,355.5 576.7,360.6 567.3,361.8 564.2,357.7 561.4,365.0 565.0,368.7 566.6,376.1 563.7,364.8 566.3,356.9" fill="none" stroke="#1f80e0" stroke-width="1.6" stroke-linejoin="miter" stroke-miterlimit="3"/><polyline points="598.1,349.6 589.0,347.4 586.1,343.1 591.2,348.2 587.7,355.6 584.4,349.8 574.5,345.8 570.1,332.1 566.3,333.4 560.5,334.8 572.5,329.2 566.7,336.8 568.7,338.3 578.9,342.5 580.5,351.1 562.8,344.4 558.3,356.0 564.3,353.5 562.4,354.9 551.5,360.9 559.9,350.7 567.0,350.9 566.4,351.5 566.0,336.6 564.8,341.9 565.0,346.2 571.6,344.8 565.2,333.6 562.1,326.3 561.7,335.2 560.5,334.1 560.9,328.9 577.6,329.0" fill="none" stroke="#1f80e0" stroke-width="1.6" stroke-linejoin="miter" stroke-miterlimit="3"/><polyline points="597.3,348.5 595.0,353.2 594.6,348.1 590.3,352.1 589.4,357.3 591.3,358.7 593.2,358.8 587.5,353.5 591.7,345.8 591.9,346.8 588.3,347.4 586.4,350.3 593.2,340.3 584.6,363.1 587.8,365.7 578.3,369.5 581.4,353.2 591.6,344.6 590.0,347.0 591.0,360.8 598.2,368.8 592.1,375.4 590.6,378.1 587.8,383.9 591.5,386.5 586.1,381.6 586.4,386.7 586.1,380.8 584.0,379.5 580.6,382.8 590.3,389.7 596.9,391.6 599.8,393.5 597.7,393.3 586.2,391.2 578.8,391.7 577.2,377.2" fill="none" stroke="#f0301a" stroke-width="1.6" stroke-linejoin="miter" stroke-miterlimit="3"/><polyline points="598.2,349.0 605.5,353.6 609.0,360.1 613.8,371.7 620.7,352.4 626.9,359.9 629.2,346.0 631.3,345.3 624.0,343.4 606.5,325.4 608.0,329.4 605.0,324.5 600.8,325.8 601.0,323.0 597.4,327.5 595.1,329.2 594.2,344.9 586.3,343.4 596.2,351.1 603.1,345.3 598.1,351.1 591.6,347.7 595.3,340.8 595.2,348.8 607.9,334.4 592.4,329.0 587.1,314.9 581.2,320.3 588.7,322.4 583.7,342.3 579.3,338.1 569.0,344.8 568.6,347.7 569.7,342.6 571.8,345.3 586.6,334.8 580.6,331.9" fill="none" stroke="#f0301a" stroke-width="1.6" stroke-linejoin="miter" stroke-miterlimit="3"/><polyline points="596.7,349.7 592.0,351.8 590.3,348.6 589.5,351.9 592.0,350.0 595.7,347.3 606.4,347.1 596.9,357.7 598.2,353.6 602.6,357.1 599.2,367.0 601.0,356.0 592.4,363.4 590.6,364.1 593.2,371.4 587.7,373.8 591.7,379.3 599.7,377.5 600.2,377.3 600.6,378.0 593.5,385.0 583.7,377.4 576.6,381.8 575.3,388.9 571.1,380.7 562.6,376.5 574.4,380.4 583.9,388.7 579.1,384.8 579.6,378.3 578.0,383.1" fill="none" stroke="#8a1c1c" stroke-width="1.6" stroke-linejoin="miter" stroke-miterlimit="3"/><polyline points="596.5,348.9 594.3,351.7 585.2,342.5 587.3,342.4 591.9,346.4 609.0,340.9 609.2,325.9 616.9,331.2 602.4,334.2 602.2,329.3 606.0,329.4 600.2,331.8 600.1,331.6 600.1,333.5 602.2,339.8 595.1,342.2 600.9,344.5 600.1,344.8 602.7,339.7 603.1,341.7 609.1,334.5 607.0,331.5 603.9,335.3 614.8,333.0 610.5,342.0 603.0,343.0 601.0,335.0 594.1,340.7 599.1,340.8 598.1,338.3 593.2,341.7" fill="none" stroke="#1fe01f" stroke-width="1.6" stroke-linejoin="miter" stroke-miterlimit="3"/><polyline points="597.1,349.7 590.6,341.1 596.3,348.8 595.8,343.5 600.4,346.9 602.4,348.5 599.9,355.6 589.9,357.6 592.3,359.7 592.1,359.7 589.8,358.9 592.6,357.6 596.9,352.6 602.2,345.1 602.7,347.7 604.2,332.8 615.8,347.2 606.5,352.2 596.1,340.7 592.1,334.4 595.1,321.5 595.9,337.4 598.0,335.1 597.5,334.1 593.7,342.2 587.3,351.0 587.8,347.2 582.1,345.1 580.8,345.8 568.0,344.1 573.4,342.8" fill="none" stroke="#8a1c1c" stroke-width="1.6" stroke-linejoin="miter" stroke-miterlimit="3"/><polyline points="596.9,348.4 598.8,356.0 601.7,359.1 606.7,365.7 605.6,359.4 607.0,353.6 601.2,354.4 596.6,338.7 601.7,332.2 596.5,334.7 585.2,346.5 590.7,344.2 594.5,344.5 587.9,355.8 602.3,359.4 601.5,360.7 590.2,374.7 595.8,376.9 600.3,373.8 600.4,364.5 607.2,370.1 616.1,358.8 607.1,344.4 619.2,344.6 608.3,349.3 608.9,344.9 616.5,339.6 616.2,357.7 619.0,348.0 627.7,340.9 625.6,335.7 618.9,337.3 626.2,338.8 617.9,341.9 623.0,336.2 619.2,346.2 615.7,347.3" fill="none" stroke="#f0301a" stroke-width="1.6" stroke-linejoin="miter" stroke-miterlimit="3"/><polyline points="597.5,349.8 593.9,360.3 593.6,364.7 595.5,357.8 589.8,359.8 586.4,362.8 583.4,358.2 590.9,359.9 586.0,363.9 592.3,356.6 588.2,356.5 583.8,371.1 589.2,379.5 588.7,384.8 580.7,383.5 576.2,393.2 575.0,395.2 566.1,395.0 570.1,387.7 568.6,393.2 576.6,395.2 592.6,404.4 588.3,398.0 589.3,398.9 591.6,391.8 580.8,385.5 582.5,389.0 580.0,388.4 572.6,383.9 566.5,377.5 574.6,381.7 570.9,379.2 569.2,383.4 567.6,376.0 570.3,372.1 565.0,379.1 559.9,376.3" fill="none" stroke="#1fe01f" stroke-width="1.6" stroke-linejoin="miter" stroke-miterlimit="3"/><polyline points="598.0,348.6 588.6,350.1 588.9,335.2 589.7,345.3 592.0,343.7 586.5,346.9 576.2,339.9 578.4,327.8 587.9,336.6 596.6,347.7 600.6,349.0 591.8,350.0 582.3,354.0 577.9,363.5 572.5,367.6 578.8,367.5 578.9,368.0 581.6,368.8 573.1,368.4 561.3,370.1 559.6,375.3 566.1,370.4 562.2,370.3 565.7,371.8 567.6,381.8 570.6,382.5 560.8,374.4 562.2,377.4 566.7,376.9 572.9,374.6 566.0,368.7" fill="none" stroke="#1fe01f" stroke-width="1.6" stroke-linejoin="miter" stroke-miterlimit="3"/><polyline points="597.3,348.7 597.6,351.7 616.0,342.4 604.6,346.7 620.5,338.9 625.3,339.4 627.0,325.0 626.2,327.5 621.8,336.0 623.7,334.8 621.6,339.0 625.8,344.4 627.1,337.7 633.1,338.5 634.4,349.9 628.3,358.1 626.7,365.0 625.8,353.0 617.9,344.1 616.1,349.2 620.8,353.5 617.3,352.0 624.3,354.1 618.6,359.3 619.3,354.3 617.3,346.6 614.0,366.2 606.8,371.1 605.8,367.2 604.6,366.0 600.5,372.7 598.0,374.4 601.6,371.5 600.5,368.5 605.0,359.0 604.0,366.9 603.1,366.6" fill="none" stroke="#1fe01f" stroke-width="1.6" stroke-linejoin="miter" stroke-miterlimit="3"/><polyline points="597.4,348.8 587.3,345.8 578.5,346.8 577.5,346.4 570.0,349.8 568.3,347.6 570.9,361.1 566.0,357.5 566.7,362.5 570.7,363.4 565.6,357.5 573.5,359.6 584.8,364.5 585.2,351.4 583.5,354.0 588.7,357.6 587.8,370.7 588.9,374.3 589.7,380.5 584.9,380.1 591.5,380.7 597.0,375.5 602.6,376.6 594.4,362.2 604.7,358.8 612.0,362.0 607.2,369.4 609.7,375.0 595.2,371.2 600.4,360.8 598.5,360.8" fill="none" stroke="#1fe01f" stroke-width="1.6" stroke-linejoin="miter" stroke-miterlimit="3"/><polyline points="596.3,349.6 602.3,363.4 592.5,354.7 594.1,358.2 596.7,353.0 584.2,347.8 593.5,347.2 593.6,346.5 595.0,344.0 582.4,355.8 568.6,361.9 567.9,367.2 573.4,366.4 578.9,377.5 569.9,375.8 580.5,373.5 571.5,358.1 571.8,369.8 576.3,368.3 571.4,369.5 575.9,358.5 582.0,362.6 585.6,364.6 577.7,369.9 574.6,360.9 578.6,362.3 590.5,358.1 588.1,351.3 592.9,357.0 596.8,363.1 588.5,358.8 586.7,351.3 591.8,355.6 577.1,353.9 571.6,366.5 569.5,373.5 570.0,372.2" fill="none" stroke="#f0301a" stroke-width="1.6" stroke-linejoin="miter" stroke-miterlimit="3"/><polyline points="597.5,349.2 601.1,359.9 608.9,358.4 610.1,356.7 605.1,355.9 594.8,356.2 600.5,349.1 605.0,344.2 610.8,350.2 608.2,338.7 613.8,340.0 613.5,348.5 617.4,343.9 632.7,348.5 641.5,339.1 643.9,352.1 640.1,362.3 633.3,368.3 627.0,365.3 632.3,373.3 628.2,378.9 631.7,378.4 635.7,376.2 625.6,361.5 628.9,365.0 625.1,363.6 626.4,364.0 620.2,372.9 610.2,375.1 613.6,375.7 609.6,373.9 612.3,374.2 601.3,358.6 600.4,358.6 604.3,369.3 605.6,364.4 603.6,364.8" fill="none" stroke="#1fe01f" stroke-width="1.6" stroke-linejoin="miter" stroke-miterlimit="3"/><polyline points="597.3,349.1 595.6,345.6 593.6,354.9 588.3,365.2 587.5,377.7 583.5,371.1 581.5,364.4 592.4,358.5 589.1,372.8 578.7,362.0 574.6,345.9 567.9,344.0 571.2,354.0 575.2,361.1 576.4,353.8 568.5,348.8 572.8,360.5 586.4,356.4 589.5,373.4 587.2,369.4 592.6,370.9 585.2,366.5 603.5,367.0 590.0,367.3 594.3,356.6 587.8,362.9 589.4,368.5 596.5,369.5 606.3,362.5 612.6,365.2 604.2,368.7 589.9,367.8 593.5,377.9 592.7,376.8 594.8,379.9 583.8,370.0 594.4,360.3" fill="none" stroke="#1fe01f" stroke-width="1.6" stroke-linejoin="miter" stroke-miterlimit="3"/><polyline points="596.5,349.3 604.1,356.4 603.4,350.6 609.4,334.3 615.5,349.8 610.7,358.2 604.1,349.9 611.1,348.5 608.4,343.9 606.0,361.0 612.2,361.1 611.8,352.2 612.7,354.7 606.1,361.7 599.8,361.1 595.2,374.6 596.0,371.0 588.5,360.8 587.1,366.5 589.3,374.6 597.7,375.7 596.8,370.7 599.0,356.3 607.1,361.2 606.8,366.6 610.5,367.8 619.3,365.7 621.6,356.9 620.3,364.8 619.8,363.8 610.3,371.2 617.0,360.7 616.7,358.2 613.1,358.2 609.0,354.9 614.1,346.5 618.7,337.9" fill="none" stroke="#f0301a" stroke-width="1.6" stroke-linejoin="miter" stroke-miterlimit="3"/><polyline points="596.8,349.9 597.5,340.0 588.4,344.9 596.3,356.9 595.5,365.8 589.1,364.6 594.3,361.3 600.1,359.2 606.0,366.6 609.1,362.4 619.8,353.7 615.1,352.6 621.2,357.0 617.4,354.5 617.7,350.2 618.2,352.8 617.1,350.0 618.2,351.2 616.0,353.5 615.0,360.4 619.6,361.3 619.7,357.3 618.6,353.9 614.8,362.7 608.3,362.0 607.8,372.7 615.5,368.2 611.0,364.3 608.5,369.9 593.9,365.3 611.6,367.9" fill="none" stroke="#1fe01f" stroke-width="1.6" stroke-linejoin="miter" stroke-miterlimit="3"/><polyline points="597.3,349.8 601.7,348.2 589.4,347.4 585.3,345.3 569.1,347.4 561.6,351.2 559.5,358.9 561.0,363.0 554.7,354.4 557.2,358.8 562.3,361.4 566.0,361.4 566.6,358.7 581.1,361.0 575.2,350.6 571.0,353.2 574.0,351.6 579.6,350.5 581.8,358.0 579.2,361.4 576.0,355.7 562.9,361.3 565.7,354.7 556.3,351.5 562.9,341.4 565.7,341.2 566.0,330.0 567.2,329.6 565.1,330.4 568.4,345.8 573.7,342.5 568.8,347.4 564.0,339.9" fill="none" stroke="#1f80e0" stroke-width="1.6" stroke-linejoin="miter" stroke-miterlimit="3"/><polyline points="597.4,350.1 599.4,350.3 597.8,350.6 608.2,354.7 616.4,380.5 624.7,381.8 625.6,384.2 632.2,371.8 627.7,364.0 626.5,371.6 634.0,371.9 626.5,366.5 620.4,383.8 615.4,386.9 617.0,383.3 607.5,372.6 609.6,379.5 608.8,382.0 596.6,380.1 579.1,390.2 580.6,388.8 578.7,392.0 578.6,386.2 577.6,385.1 582.0,378.6 579.9,382.8 571.9,383.8 585.0,382.2 582.0,392.1 588.8,392.8 592.5,387.2 587.6,386.7 572.9,373.2 568.5,359.0 565.5,338.0 564.8,336.4 569.1,323.0" fill="none" stroke="#f0301a" stroke-width="1.6" stroke-linejoin="miter" stroke-miterlimit="3"/><polyline points="596.2,350.0 593.0,363.7 598.6,371.4 597.9,363.0 602.5,351.9 594.2,349.5 598.3,345.1 598.7,351.5 613.9,353.7 621.9,349.3 624.6,351.3 621.3,347.5 619.0,344.6 607.7,350.4 610.5,346.0 630.5,345.8 619.3,336.6 624.5,337.4 625.1,331.9 625.6,337.9 627.8,342.0 612.7,350.3 615.6,345.4 616.7,337.9 612.6,343.9 608.1,350.2 606.1,355.6 616.8,344.6 618.4,338.0 618.1,350.9 622.3,359.7 624.9,359.0 623.8,369.4" fill="none" stroke="#1f80e0" stroke-width="1.6" stroke-linejoin="miter" stroke-miterlimit="3"/><polyline points="597.3,349.3 604.8,356.7 610.8,364.0 596.9,364.3 595.1,354.1 599.0,349.7 605.9,349.0 608.2,349.7 605.3,351.4 602.1,362.0 601.9,360.5 586.2,361.3 589.5,364.4 603.4,373.1 607.2,374.9 603.4,368.0 604.9,372.1 599.2,368.1 598.5,379.6 596.2,376.0 599.9,366.6 594.0,371.0 585.2,361.8 588.6,357.2 587.5,359.8 595.9,366.8 591.7,369.8 589.7,373.6 595.0,366.1 588.0,362.7 601.2,364.8" fill="none" stroke="#f5a02a" stroke-width="1.6" stroke-linejoin="miter" stroke-miterlimit="3"/><polyline points="597.2,349.2 596.3,355.0 582.3,331.4 594.6,319.4 598.2,316.1 589.6,314.6 587.6,319.2 590.1,308.1 580.3,318.5 580.1,313.8 575.5,310.9 572.5,310.3 584.2,308.7 574.0,313.5 571.2,340.2 567.8,329.9 574.6,329.9 578.4,338.1 579.6,338.3 575.2,338.0 576.0,331.2 573.5,330.4 573.7,324.8 575.9,315.6 585.8,311.6 582.4,322.1 568.3,321.3 567.3,336.0 563.9,327.7 552.7,334.0 561.3,337.9 558.3,337.8 573.7,341.8" fill="none" stroke="#1f80e0" stroke-width="1.6" stroke-linejoin="miter" stroke-miterlimit="3"/><polyline points="597.3,349.7 595.7,341.8 595.0,345.2 592.0,343.2 589.2,339.2 594.4,342.5 595.0,344.7 593.0,350.2 585.9,346.7 584.2,347.7 584.8,348.8 584.8,344.7 593.1,350.4 595.7,350.3 586.8,344.6 588.9,339.4 589.4,340.3 588.3,338.2 587.8,338.8 587.8,339.0 583.3,342.7 591.8,342.7 598.9,339.9 593.7,334.1 585.7,328.9 587.2,321.7 587.5,319.5" fill="none" stroke="#f0301a" stroke-width="1.6" stroke-linejoin="miter" stroke-miterlimit="3"/><polyline points="596.5,350.1 599.2,338.9 597.9,338.3 594.6,339.1 585.3,337.9 582.6,323.9 585.0,321.8 586.8,324.3 583.2,327.4 583.2,330.9 579.4,330.4 579.1,325.0 580.7,323.0 586.8,328.9 584.5,332.8 577.7,330.8 582.2,334.3 579.5,331.5 588.3,336.2 588.0,339.3 585.4,331.6 583.6,327.0 586.0,330.5 580.6,325.9 581.1,325.8 578.6,329.3 579.4,334.3" fill="none" stroke="#f0301a" stroke-width="1.6" stroke-linejoin="miter" stroke-miterlimit="3"/><polyline points="597.5,350.0 604.2,343.8 605.9,346.5 615.1,336.2 621.8,325.7 614.3,336.7 608.0,329.5 603.8,331.9 621.8,330.2 622.8,322.4 619.0,324.3 608.0,327.5 607.4,321.7 608.2,307.4 598.1,324.7 594.5,322.5 583.1,316.1 579.3,313.2 583.0,321.9 587.3,320.8 591.9,314.1 588.4,319.5 591.1,323.1 590.2,326.5 593.2,343.3 595.1,341.0 583.0,327.8 592.4,323.8 592.1,327.2 591.2,333.3 602.6,327.2 612.8,318.6 594.3,319.6" fill="none" stroke="#1f80e0" stroke-width="1.6" stroke-linejoin="miter" stroke-miterlimit="3"/><polyline points="596.8,349.2 596.0,341.7 597.7,341.6 596.9,331.4 595.7,337.7 608.6,338.9 593.0,341.0 592.2,347.0 602.1,353.6 600.0,354.2 594.1,367.3 585.3,367.2 589.2,372.1 573.5,378.5 583.3,375.7 583.3,371.6 575.9,364.7 565.3,367.5 568.0,371.1 574.4,378.7 576.8,375.4 575.9,376.6 575.4,374.7 581.7,376.3 585.0,369.7 578.6,369.7 581.5,362.6 577.6,351.9 585.4,339.7 589.4,336.8 589.9,326.2" fill="none" stroke="#f5a02a" stroke-width="1.6" stroke-linejoin="miter" stroke-miterlimit="3"/><polyline points="596.7,348.4 610.4,344.0 610.5,331.5 601.6,333.0 595.9,339.2 572.7,346.7 574.3,358.8 570.7,363.6 565.8,369.6 561.9,373.6 557.1,381.5 552.3,382.3 556.1,377.9 564.7,386.7 568.6,386.0 576.2,393.6 565.5,385.9 575.1,386.5 573.2,374.3 559.1,371.7 566.6,372.4 576.3,384.4 566.9,381.8 568.3,376.6 573.5,368.7 569.9,361.6 568.0,357.5 571.9,353.7 565.1,361.7 558.9,370.4 573.9,373.3 575.5,377.1 581.0,376.7 573.5,365.9 579.2,363.2 581.5,369.3 581.6,376.3" fill="none" stroke="#1fe01f" stroke-width="1.6" stroke-linejoin="miter" stroke-miterlimit="3"/><polyline points="597.1,350.3 597.1,336.8 597.6,331.0 595.9,329.8 583.1,330.0 576.6,325.9 574.3,326.6 579.0,334.4 578.2,335.2 590.0,333.5 590.1,334.1 593.0,328.8 591.7,327.5 585.5,339.0 590.2,337.8 595.4,338.4 600.4,336.8 604.1,331.3 614.1,331.5 619.8,330.0 617.1,338.0 617.1,331.0 625.2,336.3 625.9,338.4 623.4,339.7 628.8,348.7 624.3,349.9 631.9,361.6 628.9,358.0 632.0,359.4 628.6,352.0" fill="none" stroke="#f5a02a" stroke-width="1.6" stroke-linejoin="miter" stroke-miterlimit="3"/><polyline points="596.8,349.6 590.1,339.9 589.6,344.7 591.6,351.6 599.2,349.6 585.4,329.9 589.4,336.2 596.2,333.9 597.9,321.0 601.3,320.5 591.6,332.5 589.2,336.6 590.0,331.6 583.0,319.9 584.6,308.2 582.3,317.7 577.4,314.3 585.5,310.3 578.1,307.7 577.1,310.2 564.2,306.4 566.1,305.0 559.5,311.6 570.8,315.7 568.1,311.2 565.9,315.7 564.2,315.0 574.1,320.2 566.4,313.7 565.8,318.7 564.2,313.3 553.1,318.2 563.6,325.7 565.5,340.2 568.3,328.4 584.4,319.5 586.3,315.1" fill="none" stroke="#1fe01f" stroke-width="1.6" stroke-linejoin="miter" stroke-miterlimit="3"/><polyline points="597.3,348.6 604.8,336.6 597.1,349.0 603.5,349.6 607.6,359.7 602.4,347.9 594.9,346.1 605.2,355.5 610.8,369.8 608.3,368.4 602.6,377.6 600.5,378.1 594.2,376.1 590.2,382.5 590.1,368.3 592.5,380.4 595.3,373.7 596.0,369.6 591.7,382.7 587.4,374.1 581.6,366.8 569.4,372.5 582.8,355.9 581.8,361.4 592.0,366.4 580.0,368.1 583.8,372.1 586.3,382.6 585.6,380.6 583.7,380.1 584.9,380.5" fill="none" stroke="#f5a02a" stroke-width="1.6" stroke-linejoin="miter" stroke-miterlimit="3"/><polyline points="597.0,349.6 596.1,354.4 587.3,338.7 595.9,334.3 603.5,341.7 609.0,339.0 602.3,348.5 618.0,342.3 616.4,339.1 618.9,333.0 610.5,337.2 613.4,341.6 601.5,354.6 599.7,368.4 598.6,371.4 598.3,378.4 588.5,377.9 583.3,369.7 576.0,372.4 571.0,370.1 568.1,370.7 564.7,366.5 561.8,376.0 579.0,372.5 583.9,374.8 578.6,384.5 574.4,387.3 572.2,376.1 566.6,386.6 563.2,385.4 569.0,382.5 573.2,375.0 568.6,381.5 557.7,377.8 563.7,368.1 566.8,355.7 567.5,366.5" fill="none" stroke="#1fe01f" stroke-width="1.6" stroke-linejoin="miter" stroke-miterlimit="3"/><polyline points="598.0,350.3 589.4,352.1 591.8,353.7 580.9,355.0 578.8,362.4 578.6,368.6 576.8,365.1 574.6,368.3 576.0,362.2 579.3,364.1 582.7,373.7 600.3,374.6 590.7,366.5 591.8,369.2 591.1,365.0 591.8,360.3 580.9,363.8 582.0,358.4 591.1,361.4 599.6,366.2 593.3,375.5 603.0,374.0 608.0,371.4 604.1,368.5 612.1,364.4 600.8,361.4 594.9,354.6 601.6,348.6 609.9,358.6 599.1,365.7 609.2,353.0" fill="none" stroke="#f5a02a" stroke-width="1.6" stroke-linejoin="miter" stroke-miterlimit="3"/><polyline points="597.4,349.2 595.6,342.8 591.4,318.8 588.5,320.7 591.1,317.9 598.8,320.1 596.2,323.8 588.9,325.5 593.9,324.5 591.3,327.8 596.1,324.5 598.6,323.6 594.7,319.2 596.2,309.7 602.0,314.2 606.1,309.9 596.8,320.2 590.9,321.3 581.4,326.5 575.6,321.6 568.8,322.7 576.9,329.8 567.8,339.4 566.9,342.8 564.5,345.4 564.5,345.7 562.8,352.9 561.6,342.7 562.3,339.8 561.3,337.6 565.8,345.2" fill="none" stroke="#8a1c1c" stroke-width="1.6" stroke-linejoin="miter" stroke-miterlimit="3"/><polyline points="597.9,348.5 605.4,341.5 604.2,341.1 601.9,344.0 603.8,344.1 596.2,342.1 589.8,348.7 594.0,347.9 595.8,345.1 586.5,339.6 583.4,344.8 575.3,339.1 579.0,340.1 575.4,342.2 587.5,340.4 587.9,336.7 593.8,337.7 599.9,334.8 604.9,333.5 602.5,324.9 605.8,314.9 600.4,320.9 598.9,318.2 601.7,313.7 606.2,321.8 603.6,313.3 601.7,313.9" fill="none" stroke="#f0301a" stroke-width="1.6" stroke-linejoin="miter" stroke-miterlimit="3"/><polyline points="597.9,348.8 593.8,357.2 597.5,356.7 605.8,351.4 612.7,355.0 622.3,351.9 610.1,338.1 608.3,338.3 598.3,345.0 593.5,332.8 591.3,348.1 583.9,331.8 592.5,318.7 597.0,322.6 591.5,331.3 590.8,336.1 594.6,329.9 605.8,332.2 595.4,327.1 592.0,325.8 579.3,332.8 574.1,348.0 569.7,343.1 574.3,352.0 565.6,345.1 572.1,342.4 570.8,337.1 581.6,332.5 582.9,334.7 574.1,337.5 565.3,342.5 564.6,342.1 580.1,332.3 585.1,339.0 596.0,338.0 587.2,340.8 585.0,341.6" fill="none" stroke="#f0301a" stroke-width="1.6" stroke-linejoin="miter" stroke-miterlimit="3"/><polyline points="596.9,349.2 588.8,360.1 591.0,361.9 589.8,368.4 587.6,376.3 593.6,373.5 599.4,376.3 600.6,373.7 598.1,377.0 598.5,373.2 588.7,375.3 586.5,373.0 590.1,371.0 589.0,378.5 592.9,378.2 584.4,373.1 578.8,375.9 580.3,370.7 580.2,361.1 586.8,358.2 591.9,342.6 602.3,338.7 605.9,337.9" fill="none" stroke="#e040d8" stroke-width="1.6" stroke-linejoin="miter" stroke-miterlimit="3"/><polyline points="596.4,350.2 598.2,342.9 606.7,355.3 597.7,354.1 591.7,347.0 593.9,343.1 596.7,349.2 597.1,354.1 594.3,351.2 587.4,346.4 587.6,347.7 584.2,351.5 588.5,352.5 596.9,344.1 595.8,340.9 601.6,339.5 601.5,346.8 605.2,344.2 600.7,348.3 598.7,357.6 598.8,358.1 605.1,360.3 602.8,370.8 601.0,374.5 590.6,370.1 584.6,366.3 590.1,367.5 588.9,365.9 582.5,368.0 577.5,370.5 576.3,360.2" fill="none" stroke="#1fe01f" stroke-width="1.6" stroke-linejoin="miter" stroke-miterlimit="3"/><polyline points="598.1,349.6 602.7,348.7 603.8,339.2 603.8,338.8 609.9,334.9 600.7,346.3 602.3,333.4 596.3,337.7 596.3,343.2 605.8,335.9 605.9,339.2 594.8,345.7 580.1,347.0 592.2,347.4 585.6,343.2 587.2,347.2 582.7,339.7 568.0,341.8 577.4,340.2 572.8,339.6 580.8,336.3 578.1,330.2 577.1,337.6 586.2,335.9 591.5,337.9 595.9,322.3 599.3,329.4 600.5,330.4 589.1,324.7 582.5,317.9 582.9,318.0 580.0,317.9 590.8,321.8" fill="none" stroke="#1f80e0" stroke-width="1.6" stroke-linejoin="miter" stroke-miterlimit="3"/><polyline points="597.3,349.1 591.5,349.8 599.7,358.1 595.6,354.2 589.7,341.9 578.7,340.5 567.3,338.9 564.0,334.5 570.9,344.0 577.5,352.6 577.1,352.0 574.0,354.9 578.0,355.2 589.9,350.7 593.6,345.9 596.8,360.7 599.0,354.6 593.6,350.2 571.5,350.9 580.4,360.2 567.5,358.9 570.1,350.6 572.2,357.7 568.1,349.1 567.2,351.6 562.0,362.1 564.6,365.1 577.7,372.7 577.4,360.2 578.0,365.8 584.9,365.6 588.3,365.5 590.0,360.8 593.7,376.8 598.5,368.8 590.5,360.7 578.5,353.2" fill="none" stroke="#f0301a" stroke-width="1.6" stroke-linejoin="miter" stroke-miterlimit="3"/><polyline points="596.9,350.3 603.5,352.8 614.6,360.8 607.3,362.1 608.0,347.9 622.5,341.7 628.6,348.0 617.1,345.7 615.9,349.8 600.9,351.2 612.2,349.8 623.4,351.5 610.8,356.7 618.8,352.2 624.6,339.9 620.0,345.3 612.4,361.7 609.6,360.7 615.8,349.7 615.4,340.1 614.5,344.7 610.7,349.1 606.8,352.3 602.6,338.3 594.7,334.6 595.4,334.8 601.8,347.6 606.6,341.4 612.8,329.6 617.7,324.3 618.3,324.7 604.5,331.4 612.7,329.5 613.0,334.7 615.1,327.0 618.3,334.8 615.5,351.3" fill="none" stroke="#1fe01f" stroke-width="1.6" stroke-linejoin="miter" stroke-miterlimit="3"/><polyline points="597.1,349.0 586.9,350.8 593.2,356.4 578.6,364.2 584.2,361.9 578.8,368.2 581.8,364.6 588.8,352.1 593.9,346.3 605.5,347.4 610.2,358.4 617.5,364.8 617.8,367.4 625.0,357.2 620.9,351.7 612.9,357.3 614.7,368.5 618.2,371.3 608.5,364.6 601.4,361.0 607.6,354.3 602.4,354.7 602.3,352.3 605.9,341.8 620.5,341.6 609.1,340.7 604.2,344.8 611.1,341.5 610.9,340.6 622.8,348.7 614.9,339.1 611.5,336.4 602.4,336.9 583.0,327.6 571.9,331.4 570.0,328.5 577.6,327.0" fill="none" stroke="#1fe01f" stroke-width="1.6" stroke-linejoin="miter" stroke-miterlimit="3"/><polyline points="596.7,349.1 603.4,351.8 600.9,346.1 590.2,331.9 583.6,334.3 598.2,334.5 590.8,332.4 590.6,326.4 587.7,331.7 581.6,331.7 577.7,344.3 585.7,341.7 591.1,348.4 591.4,354.1 594.9,353.2 586.8,351.9 584.4,357.3 593.5,356.8 593.3,354.3 598.3,360.1 595.9,351.8 590.0,355.4 599.4,351.0 598.5,347.2 588.2,342.0 604.1,336.7 598.8,334.2 607.8,330.1 622.0,334.6 608.4,336.9 611.3,337.2" fill="none" stroke="#f5a02a" stroke-width="1.6" stroke-linejoin="miter" stroke-miterlimit="3"/><polyline points="597.8,350.1 607.6,350.8 608.7,346.0 609.9,345.7 607.0,338.5 604.5,336.6 611.8,339.2 613.9,331.2 596.5,328.8 604.3,327.9 600.5,337.0 605.6,336.2 614.4,341.1 608.4,341.9 611.7,350.6 616.2,359.8 605.9,355.8 608.5,361.0 603.6,363.3 612.1,371.3 618.0,356.8 618.2,358.1 609.6,356.1 614.5,362.9 606.9,368.2 610.8,370.9 610.6,363.5 616.6,360.7 618.6,366.6 606.3,380.7 598.0,378.4" fill="none" stroke="#8a1c1c" stroke-width="1.6" stroke-linejoin="miter" stroke-miterlimit="3"/><polyline points="598.0,349.7 595.3,342.9 596.7,334.8 596.3,329.8 590.8,318.2 596.7,313.5 601.1,321.6 619.3,321.4 617.0,332.6 619.8,335.4 611.9,329.0 605.9,315.6 619.0,315.1 622.2,313.9 614.9,304.7 607.1,311.1 599.0,319.9 593.4,308.0 602.7,305.2 608.9,304.7 607.2,300.4 608.3,304.9 609.7,308.0 608.1,307.0 612.3,297.5 603.4,315.3 607.4,313.7 615.3,317.7 613.7,311.7 625.5,317.0 638.1,321.7 635.8,320.2 637.2,328.6 646.0,329.0 627.3,338.8 626.0,334.0 624.5,330.8" fill="none" stroke="#f0301a" stroke-width="1.6" stroke-linejoin="miter" stroke-miterlimit="3"/><polyline points="598.1,349.4 600.7,341.4 607.1,342.6 609.6,349.9 616.9,345.5 613.1,339.4 611.7,338.3 615.5,344.0 623.2,330.3 621.5,321.2 616.2,321.1 618.7,315.4 611.2,333.8 613.3,333.9 602.8,334.8 611.3,332.2 606.9,324.6 605.8,321.0 598.2,316.9 595.9,320.3 593.6,316.0 594.0,318.4 607.7,322.1 609.3,328.7 623.7,327.4 620.3,324.6 607.9,326.0 612.6,322.1 615.7,325.2 602.8,322.5 613.0,315.6" fill="none" stroke="#f5a02a" stroke-width="1.6" stroke-linejoin="miter" stroke-miterlimit="3"/><polyline points="596.5,349.9 596.4,348.7 593.6,348.8 582.0,358.0 583.3,364.4 583.1,361.6 585.0,355.3 577.4,346.9 575.5,348.3 573.6,347.1 577.7,348.5 578.3,339.2 584.5,338.5 580.7,331.6 572.4,324.9 576.2,330.8 581.1,344.1 573.2,349.9 579.5,348.5 579.9,339.1 580.6,341.5 577.2,348.3 575.3,346.6 578.8,356.3 577.8,353.5 563.6,349.1 561.6,355.4 568.5,354.8 565.6,351.9 568.4,340.1 571.2,340.8" fill="none" stroke="#f5a02a" stroke-width="1.6" stroke-linejoin="miter" stroke-miterlimit="3"/><polyline points="596.7,349.1 594.5,352.6 595.3,354.6 595.0,357.5 593.1,363.0 603.6,362.7 598.7,370.6 601.7,375.7 607.1,371.7 606.0,381.5 604.3,378.4 610.3,380.7 613.2,381.7 606.1,379.3 598.8,375.7 603.0,381.7 599.7,379.3 593.2,378.3 589.1,379.9 601.7,382.1 597.0,382.4 596.8,386.6 597.4,388.3 595.3,385.8 595.2,389.3 597.2,390.7 603.2,381.8" fill="none" stroke="#f0301a" stroke-width="1.6" stroke-linejoin="miter" stroke-miterlimit="3"/><polyline points="596.4,350.3 600.5,356.4 597.0,363.2 610.1,365.0 608.9,359.9 604.1,357.7 601.5,360.3 605.4,365.1 608.4,362.4 602.1,366.4 601.8,368.1 598.2,364.6 594.0,367.1 602.7,367.1 598.1,376.5 604.8,378.7 604.5,376.8 607.4,378.8 611.8,383.3 612.4,391.3 604.8,390.4 607.8,389.1 599.4,395.4 604.3,397.5 605.8,396.9 612.7,396.1 616.7,392.0" fill="none" stroke="#f0301a" stroke-width="1.6" stroke-linejoin="miter" stroke-miterlimit="3"/><polyline points="596.5,350.0 594.8,351.6 597.1,352.4 599.9,358.4 600.4,360.6 596.3,368.6 599.4,369.2 601.7,376.9 602.6,372.2 590.9,372.4 590.7,372.7 593.1,370.9 603.3,371.1 602.9,372.0 603.1,377.3 602.0,374.4 598.1,364.5 607.8,363.3 611.5,364.8 607.5,372.5 603.7,375.8 611.9,376.9 615.7,379.0 615.7,376.4 619.0,378.3 618.7,373.4 616.0,372.8" fill="none" stroke="#f0301a" stroke-width="1.6" stroke-linejoin="miter" stroke-miterlimit="3"/><polyline points="597.9,350.1 604.1,365.3 603.6,346.5 604.5,361.9 606.9,369.7 615.4,373.5 610.6,367.2 596.7,364.1 593.6,358.7 592.0,369.4 596.0,376.3 597.9,390.5 605.3,379.2 606.6,384.3 614.1,370.2 622.7,376.9 613.9,368.5 600.2,365.7 614.7,359.9 603.4,353.5 600.7,352.0 620.7,356.5 620.7,356.6 634.9,355.4 641.5,358.5 642.5,348.2 641.1,351.2 641.1,358.0 627.8,354.0 621.4,364.0 622.3,363.7 626.0,368.7 622.8,371.9 628.6,380.8 625.4,378.2 629.6,371.3 628.7,364.2" fill="none" stroke="#f0301a" stroke-width="1.6" stroke-linejoin="miter" stroke-miterlimit="3"/><polyline points="596.3,349.8 593.5,348.8 596.4,343.0 602.5,342.2 603.2,340.9 609.0,341.2 606.8,339.9 604.1,339.1 610.6,336.8 606.0,335.3 605.1,340.8 610.4,340.0 606.8,341.2 601.3,345.7 599.5,335.7 589.3,339.0 586.5,338.8 596.3,338.8 597.1,337.6 592.0,336.7 593.3,342.9 597.2,346.3 592.9,346.9 593.3,353.1 593.6,349.3 590.0,352.4 588.6,349.5" fill="none" stroke="#f0301a" stroke-width="1.6" stroke-linejoin="miter" stroke-miterlimit="3"/><polyline points="597.6,348.7 590.5,338.1 590.3,330.5 604.6,331.0 603.3,323.8 598.8,315.1 599.8,315.5 598.3,316.9 600.0,322.4 599.4,318.9 595.1,318.5 598.1,316.8 598.7,323.4 600.2,322.6 595.4,325.8 601.8,322.9 601.7,318.6 598.0,320.8 595.5,319.7" fill="none" stroke="#1b5a96" stroke-width="1.6" stroke-linejoin="miter" stroke-miterlimit="3"/><polyline points="596.7,349.3 591.1,345.6 585.6,342.5 591.9,340.9 589.0,345.5 580.4,334.6 584.3,336.7 584.4,334.9 590.4,331.5 582.3,336.7 579.9,335.2 579.8,328.7 582.9,334.0 577.0,332.3 582.7,340.6 585.9,333.7 583.1,337.0 589.4,333.0 586.6,332.0 596.2,327.8 606.0,334.3 601.7,334.6 604.2,330.4 607.7,332.3 599.6,324.2 599.4,324.4 600.9,317.5" fill="none" stroke="#f0301a" stroke-width="1.6" stroke-linejoin="miter" stroke-miterlimit="3"/><polyline points="596.3,348.9 589.9,354.6 594.2,362.3 599.6,365.3 599.8,366.0 604.4,367.9 616.7,366.6 614.6,372.6 612.7,382.7 608.1,379.1 600.6,380.8 594.2,387.2 601.1,390.4 614.3,391.9 613.7,391.6 616.7,389.9 613.4,387.5 620.4,386.8 617.4,381.8 623.4,388.3 621.0,383.4 624.0,384.8 622.5,377.3 616.1,385.8 616.1,379.8 616.1,384.5 620.7,381.8" fill="none" stroke="#f0301a" stroke-width="1.6" stroke-linejoin="miter" stroke-miterlimit="3"/><polyline points="596.4,348.6 591.9,342.6 590.4,336.8 600.6,328.2 599.2,335.6 594.5,334.6 595.4,354.9 600.6,366.2 598.9,366.7 603.2,370.2 600.9,374.1 593.1,356.7 595.8,340.1 590.9,333.4 597.8,339.8 593.4,341.2 597.0,348.6 600.3,352.7 605.8,343.9" fill="none" stroke="#1b5a96" stroke-width="1.6" stroke-linejoin="miter" stroke-miterlimit="3"/><polyline points="596.5,348.6 597.0,354.9 601.5,359.5 605.2,362.0 599.4,361.7 589.4,368.5 589.1,366.0 588.9,366.3 591.1,367.8 593.6,373.9 589.0,372.8 592.3,366.7 595.9,361.1 603.5,357.7 608.7,359.2 612.6,362.4 607.2,370.3 606.7,367.0 612.0,367.7 619.6,372.4 623.7,368.6 617.9,372.8 612.2,376.2 608.0,377.2 604.8,374.9 604.7,376.0 605.9,376.5" fill="none" stroke="#f0301a" stroke-width="1.6" stroke-linejoin="miter" stroke-miterlimit="3"/><polyline points="598.0,348.7 596.6,346.8 596.3,342.1 597.8,342.3 597.4,337.1 605.0,328.7 600.8,332.6 602.1,334.1 600.9,338.3 588.2,341.7 587.0,341.1 594.9,337.4 597.4,339.5 594.2,339.1 590.9,339.5 588.9,338.9 591.8,341.2 588.8,337.4 591.7,341.5 593.6,342.1 593.7,338.2 585.1,339.5 580.9,330.9 584.1,332.7 577.4,335.8 579.9,337.8 576.9,334.7" fill="none" stroke="#f0301a" stroke-width="1.6" stroke-linejoin="miter" stroke-miterlimit="3"/><polyline points="597.9,348.9 599.9,367.7 601.3,365.7 599.7,346.0 594.0,349.3 600.4,339.3 596.1,334.1 584.9,349.4 588.6,347.6 592.1,350.2 592.2,339.0 599.0,348.1 603.1,345.0 603.5,357.5 606.9,353.4 600.2,354.5 585.3,360.2 603.5,361.2 595.0,369.3" fill="none" stroke="#1b5a96" stroke-width="1.6" stroke-linejoin="miter" stroke-miterlimit="3"/><polyline points="597.6,349.6 596.0,355.5 599.8,357.7 596.2,364.4 602.5,362.2 604.8,357.0 595.7,361.0 601.4,356.0 604.3,364.3 601.2,363.4 594.7,359.7 597.3,367.8 598.7,370.0 593.7,366.5 595.5,370.6 591.8,373.1 597.5,375.6 596.5,377.4 594.4,375.8" fill="none" stroke="#1b5a96" stroke-width="1.6" stroke-linejoin="miter" stroke-miterlimit="3"/><polyline points="598.0,350.3 595.4,348.9 593.9,356.2 599.7,352.4 588.8,344.9 587.5,347.8 590.9,355.0 585.6,349.3 586.9,359.3 585.7,345.6 593.6,344.7 592.3,345.7 585.6,340.8 587.1,341.6 587.3,340.5 585.0,344.1 588.0,355.7 586.1,350.6 600.2,364.4" fill="none" stroke="#1b5a96" stroke-width="1.6" stroke-linejoin="miter" stroke-miterlimit="3"/><polyline points="991.3,323.4 989.0,317.0 984.3,312.1 978.7,309.3 976.5,306.1 975.8,302.3 973.0,299.3 968.8,299.5 964.6,298.1 963.3,293.4 962.3,288.6 960.4,284.0 955.4,286.7 950.6,289.7 946.0,291.9 942.1,295.3 937.8,299.5 932.3,302.3" fill="none" stroke="#000000" stroke-width="1.6" stroke-linejoin="miter" stroke-miterlimit="3"/><polyline points="1026.4,361.3 1029.5,365.2 1033.4,368.3 1037.3,372.2 1040.4,376.7 1045.3,376.7 1049.7,379.4 1054.5,379.6 1058.1,379.5 1061.5,378.1 1064.9,379.8 1068.5,381.0 1070.3,377.2 1072.8,373.9 1075.4,377.9 1077.0,382.4 1076.5,388.0 1077.0,393.6 1073.4,391.7 1069.9,389.4 1066.2,386.5 1061.5,386.6 1056.9,388.2 1051.9,388.5 1047.5,390.8 1041.4,393.8 1034.8,395.0 1029.8,396.1 1025.0,397.8 1021.2,398.5 1018.0,400.6 1023.6,400.6 1022.2,404.8 1025.5,409.0 1030.6,410.4 1026.4,414.7 1032.0,417.5 1030.9,420.9 1030.6,424.5" fill="none" stroke="#000000" stroke-width="1.6" stroke-linejoin="miter" stroke-miterlimit="3"/><polyline points="1051.7,397.8 1056.1,396.2 1060.1,393.6 1063.5,389.9 1068.5,389.4" fill="none" stroke="#000000" stroke-width="1.6" stroke-linejoin="miter" stroke-miterlimit="3"/><polyline points="1006.7,348.7 1008.9,343.1 1012.3,338.3 1017.0,334.4 1019.4,329.0 1024.3,325.3 1030.0,323.0 1034.8,319.2 1028.7,320.0 1023.6,323.4 1020.7,329.4 1015.2,333.2" fill="none" stroke="#000000" stroke-width="1.6" stroke-linejoin="miter" stroke-miterlimit="3"/><polyline points="970.2,357.1 964.1,354.9 957.7,354.8 951.1,356.1 944.9,354.3 939.9,354.4 935.1,355.7 940.3,356.8 945.7,357.4 950.6,359.9 949.2,365.5 944.6,368.2 939.3,368.3 940.6,371.8 943.5,373.9 947.2,376.9 952.0,376.7 946.7,378.9 942.1,382.4" fill="none" stroke="#5b2a98" stroke-width="1.6" stroke-linejoin="miter" stroke-miterlimit="3"/><polyline points="942.1,359.9 937.7,362.4 933.7,365.5 930.6,368.8 928.1,372.5 924.9,374.2 922.5,376.7 918.8,372.0 914.0,368.3 916.8,364.7 919.7,361.3 923.7,359.6 928.1,359.9 933.7,362.7" fill="none" stroke="#5b2a98" stroke-width="1.6" stroke-linejoin="miter" stroke-miterlimit="3"/><polyline points="984.3,340.2 979.2,336.7 974.2,333.1 971.4,326.9 965.8,324.0 961.4,319.7 956.2,316.3 952.7,315.4 949.2,316.3 946.3,312.1 947.3,305.7 949.2,299.5 950.1,303.7 953.4,306.5 953.7,311.7 956.2,316.3" fill="none" stroke="#5b2a98" stroke-width="1.6" stroke-linejoin="miter" stroke-miterlimit="3"/><polyline points="991.3,368.3 986.7,372.8 980.1,374.3 976.3,380.1 970.2,382.4 967.9,388.2 964.6,393.6 967.6,391.0 970.2,388.0 972.3,392.7 975.8,396.4 980.7,399.2 984.3,403.4 986.1,406.8 989.9,407.6 993.4,408.9 995.5,411.9 995.7,407.2 998.3,403.4 995.8,401.0 992.7,399.2 987.5,397.8 984.3,393.6 978.7,390.8" fill="none" stroke="#5b2a98" stroke-width="1.6" stroke-linejoin="miter" stroke-miterlimit="3"/><polyline points="1012.4,348.7 1017.7,345.3 1024.3,344.4 1029.9,341.5 1035.3,338.4 1040.4,334.6 1045.1,331.7 1048.9,327.6 1054.5,324.8 1058.7,326.2 1055.8,329.9 1053.9,334.2 1050.3,337.4 1051.0,343.6 1054.5,348.7 1050.3,350.4 1046.1,348.7" fill="none" stroke="#5b2a98" stroke-width="1.6" stroke-linejoin="miter" stroke-miterlimit="3"/><polyline points="1012.4,368.3 1016.3,373.3 1016.2,379.9 1019.4,385.2 1024.4,380.8 1027.6,374.6 1033.4,371.1 1028.9,369.6 1026.4,365.5" fill="none" stroke="#5b2a98" stroke-width="1.6" stroke-linejoin="miter" stroke-miterlimit="3"/><polyline points="998.3,354.3 994.3,349.8 989.9,345.8 986.9,341.8 984.3,337.4 982.5,333.1 978.7,330.4 975.1,326.2 971.6,322.0 968.5,317.2 966.0,312.1 963.4,307.1 960.4,302.3 961.5,297.1 959.0,292.5 957.9,298.2 956.2,303.7 953.4,300.9" fill="none" stroke="#1fe01f" stroke-width="1.6" stroke-linejoin="miter" stroke-miterlimit="3"/><polyline points="1009.6,354.3 1008.6,358.1 1011.0,361.3 1010.1,365.1 1012.4,368.3 1012.5,374.9 1015.2,381.0" fill="none" stroke="#1fe01f" stroke-width="1.6" stroke-linejoin="miter" stroke-miterlimit="3"/><polyline points="999.7,348.7 996.2,342.8 996.3,335.7 993.0,329.8 991.3,323.4 994.4,320.4 995.5,316.3 995.2,311.3 996.9,306.5 998.2,302.4 998.3,298.1 1001.1,292.5" fill="none" stroke="#1f80e0" stroke-width="1.6" stroke-linejoin="miter" stroke-miterlimit="3"/><polyline points="984.3,343.0 980.4,341.3 978.7,337.4 974.6,339.3 970.2,338.8 964.6,337.7 959.0,338.8 954.3,339.5 949.8,341.2 944.9,340.2 939.3,339.9 933.7,338.8" fill="none" stroke="#a8a030" stroke-width="1.6" stroke-linejoin="miter" stroke-miterlimit="3"/><polyline points="1006.7,340.2 1009.7,334.4 1016.3,331.9 1019.4,326.2 1023.6,323.4 1023.2,319.8 1022.2,316.3 1020.0,311.8 1016.6,307.9 1012.4,312.1 1011.0,316.7 1011.4,321.7 1009.6,326.2" fill="none" stroke="#a8a030" stroke-width="1.6" stroke-linejoin="miter" stroke-miterlimit="3"/><polyline points="984.3,348.7 978.7,348.9 973.0,349.1 967.4,348.6 961.8,348.3 956.2,348.7 951.7,348.0 947.8,350.1 942.5,353.0 936.5,354.3 932.4,352.8 928.1,352.9" fill="none" stroke="#86def2" stroke-width="1.6" stroke-linejoin="miter" stroke-miterlimit="3"/><polyline points="1019.4,361.3 1022.7,365.0 1026.4,368.3 1031.1,371.5 1033.4,376.7 1036.1,380.3 1040.4,381.0 1045.0,382.4 1049.8,381.8 1054.5,382.4 1058.6,382.4 1061.5,379.6" fill="none" stroke="#86def2" stroke-width="1.6" stroke-linejoin="miter" stroke-miterlimit="3"/><polyline points="1012.4,343.0 1018.6,339.7 1025.4,338.2 1032.0,336.0 1034.7,330.4 1037.6,324.8 1041.9,324.6 1046.1,323.4 1043.0,325.9 1040.4,329.0 1034.8,331.8" fill="none" stroke="#f5d82a" stroke-width="1.6" stroke-linejoin="miter" stroke-miterlimit="3"/><polyline points="991.3,361.3 986.5,365.7 982.9,371.1 979.7,373.1 978.7,376.7 975.1,377.9 973.0,381.0" fill="none" stroke="#f5d82a" stroke-width="1.6" stroke-linejoin="miter" stroke-miterlimit="3"/><polyline points="977.2,357.1 972.9,359.5 968.1,360.8 963.2,361.3 967.0,362.9 970.2,365.5 970.2,370.2 967.4,373.9 962.6,375.5 957.6,375.3 956.4,369.3 956.1,363.2 956.2,357.1" fill="none" stroke="#1f80e0" stroke-width="1.6" stroke-linejoin="miter" stroke-miterlimit="3"/><polyline points="998.3,368.3 995.3,373.3 990.2,376.6 987.8,382.1 984.3,386.6 986.7,389.7 989.9,392.2 994.7,395.0 998.3,399.2 1001.1,404.8 1004.5,403.1 1008.1,402.0" fill="none" stroke="#f0301a" stroke-width="1.6" stroke-linejoin="miter" stroke-miterlimit="3"/><polyline points="984.3,361.3 978.8,361.8 973.4,363.0 968.6,366.2 963.2,366.9 968.0,368.8 973.0,368.3 972.5,373.1 969.6,377.4 970.2,382.4" fill="none" stroke="#000000" stroke-width="1.6" stroke-linejoin="miter" stroke-miterlimit="3"/><polyline points="987.1,340.2 980.5,338.0 974.7,334.0 968.4,331.2 961.6,329.4 955.4,326.5 949.2,323.4 954.3,325.8 959.0,329.0 964.4,326.9 970.2,326.2" fill="none" stroke="#000000" stroke-width="1.6" stroke-linejoin="miter" stroke-miterlimit="3"/><polyline points="1000.6,349.1 998.2,342.0 1009.5,340.8 1010.2,344.0 1011.7,334.9 1009.0,336.8 1028.1,336.6 1032.2,345.5 1023.6,355.5 1014.5,345.2 1021.3,328.4 1015.3,324.3 1013.5,323.4 1016.2,326.1 1014.7,327.9 1017.9,322.4 1022.2,323.2 1025.0,318.4 1015.3,316.8 1020.1,322.2 1020.4,319.1 1011.6,325.5 1002.6,318.3 995.8,322.1 1004.2,321.3 1004.4,313.7 992.6,315.7 991.9,325.2 982.1,324.7 991.0,319.4 991.8,322.0 978.1,319.0 989.3,323.7" fill="none" stroke="#5b2a98" stroke-width="1.6" stroke-linejoin="miter" stroke-miterlimit="3"/><polyline points="1000.2,349.7 1003.1,355.2 1004.0,349.3 996.9,343.3 1000.0,351.1 987.5,356.9 990.4,354.5 991.5,352.1 984.1,347.4 987.1,360.3 989.7,369.5 982.8,365.2 991.9,363.5 982.2,372.0 976.9,370.3 978.2,370.0 977.0,362.8 976.6,365.0 973.4,367.7 972.0,365.3 966.7,368.1 964.9,365.5 962.3,361.6 962.0,356.4 968.9,355.1 969.4,353.4 963.2,344.3 959.7,344.8 962.6,347.3" fill="none" stroke="#9a40c0" stroke-width="1.6" stroke-linejoin="miter" stroke-miterlimit="3"/><polyline points="1000.3,349.5 1002.6,345.6 1008.5,344.5 1015.7,335.8 1005.3,332.5 996.3,335.3 988.5,336.5 996.1,339.4 995.4,338.7 994.9,340.0 995.3,344.4 998.2,334.4 1002.5,333.8 1007.9,346.5 1017.2,351.8 1022.2,343.0 1023.6,342.7 1032.9,343.1 1035.3,338.4 1033.9,339.1 1036.9,344.5 1039.2,347.5 1037.9,346.4 1028.4,346.6 1029.2,344.7 1037.3,344.8 1033.4,341.9 1033.4,337.5 1024.3,343.9" fill="none" stroke="#86def2" stroke-width="1.6" stroke-linejoin="miter" stroke-miterlimit="3"/><polyline points="999.6,350.1 1005.0,352.0 996.6,349.8 988.5,339.1 977.3,343.8 983.8,349.2 975.1,358.6 969.6,361.5 971.8,367.4 970.8,359.8 981.5,361.4 970.8,358.1 963.4,359.2 962.9,357.9 959.0,354.2 961.8,349.0 961.3,349.6 961.2,350.4 966.7,344.8 964.4,357.3 966.2,364.6 974.4,367.6 987.8,370.9 980.3,368.2 976.8,359.1 970.5,354.2 963.4,362.5 973.1,365.9 980.9,363.9" fill="none" stroke="#a8a030" stroke-width="1.6" stroke-linejoin="miter" stroke-miterlimit="3"/><polyline points="1000.9,350.2 993.2,347.7 1004.1,351.3 1006.4,348.2 1001.2,344.7 1012.2,344.0 1018.9,356.8 1015.8,363.3 1006.4,362.2 1017.9,365.4 1015.1,365.7 1019.4,358.2 1018.5,351.2 1014.1,354.6 1017.6,350.6 1005.7,352.3 1010.6,357.1 1004.5,353.5 1000.7,360.7 1006.1,358.0 1003.6,349.1 1000.8,339.6 998.4,336.4 1008.5,338.4 1001.6,338.1 997.5,343.8 991.7,325.9 984.3,328.7 991.5,329.5 994.8,324.5 1004.3,327.6" fill="none" stroke="#1f80e0" stroke-width="1.6" stroke-linejoin="miter" stroke-miterlimit="3"/><polyline points="999.3,349.5 995.4,350.3 997.2,347.9 991.8,354.6 998.1,357.6 1001.8,352.8 1005.0,365.5 1007.8,369.7 997.2,368.7 1005.5,366.3 1002.1,372.2 1000.6,370.7 1004.3,372.3 1005.1,375.9 1003.5,387.3 995.4,377.1 993.1,373.1 985.8,376.8 1002.5,379.6 1005.9,383.8 1008.7,384.7 1008.8,382.6 996.1,386.7 998.9,379.8 998.2,379.5 996.1,369.2 999.6,380.2" fill="none" stroke="#f5d82a" stroke-width="1.6" stroke-linejoin="miter" stroke-miterlimit="3"/><polyline points="1001.2,349.2 1018.5,348.6 1018.1,357.2 1012.2,361.6 1015.5,348.6 1015.1,357.5 1011.4,348.7 1016.5,353.6 1000.3,354.3 1005.0,344.7 1001.8,361.3 1002.7,367.7 1007.9,375.7 1011.1,365.0 1016.3,355.2 1013.2,350.7 1010.5,326.5 1009.1,323.0 1003.5,323.2 999.0,323.7 1000.8,322.9 1001.2,327.1 1000.6,324.4 997.5,325.9 1001.1,329.9 1000.1,328.6 1006.3,320.6 1005.7,331.9 1010.7,334.0 996.7,333.6 995.8,331.8 999.8,330.7 1003.5,339.4" fill="none" stroke="#000000" stroke-width="1.6" stroke-linejoin="miter" stroke-miterlimit="3"/><polyline points="1000.0,349.8 991.6,345.1 989.7,341.3 992.5,345.6 996.0,348.8 1003.8,359.3 991.2,360.6 991.9,352.0 1000.2,349.8 995.1,361.9 992.6,369.0 988.1,360.9 990.2,365.5 1000.2,362.6 1001.5,361.9 1010.9,367.3 1012.3,354.2 1015.8,369.3 1019.0,374.1 1011.7,374.7 1006.9,375.8 999.5,383.2 1005.1,382.9 1002.4,382.1 1002.9,369.6 991.9,380.2 989.9,386.8 982.9,372.7 979.7,373.5 985.1,372.5 977.8,379.8 988.4,383.7 999.3,381.3" fill="none" stroke="#5b2a98" stroke-width="1.6" stroke-linejoin="miter" stroke-miterlimit="3"/><polyline points="1000.5,349.1 1004.0,345.5 999.3,345.5 1001.2,345.7 997.5,340.4 989.7,337.4 993.0,336.4 992.9,325.3 991.0,339.1 993.7,341.8 1003.2,347.6 1004.9,349.4 1007.4,344.5 1006.0,336.5 1009.0,335.5 1003.5,339.2 1001.3,319.1 1003.6,306.6 1006.6,302.7 1011.5,311.0 1005.3,312.3 1012.0,309.1 1019.7,309.1 1029.4,315.5 1021.5,323.0 1018.3,334.2 1016.1,336.3 1017.7,334.7 1029.6,330.2" fill="none" stroke="#a8a030" stroke-width="1.6" stroke-linejoin="miter" stroke-miterlimit="3"/><polyline points="1000.2,349.6 997.4,351.5 991.2,348.7 991.4,350.3 990.9,348.1 982.6,349.9 984.4,340.7 995.3,340.8 989.6,345.8 1000.1,339.4 1000.3,333.1 999.6,333.9 1005.3,335.9 999.9,332.8 1002.0,334.9 999.8,337.8 1001.7,338.2 1000.3,332.6 1004.8,334.2 1012.1,338.3 1002.1,328.9 999.9,327.1 1000.7,326.0 996.5,328.4 992.4,337.7 988.6,339.2 1001.3,345.8 981.2,344.1 983.2,354.3 981.9,354.4 980.3,351.5" fill="none" stroke="#f5a02a" stroke-width="1.6" stroke-linejoin="miter" stroke-miterlimit="3"/><polyline points="1000.6,350.8 1001.7,352.5 1006.0,362.0 994.5,378.0 1001.3,384.3 1009.7,375.3 1013.3,380.8 1010.0,374.1 1006.5,385.7 1004.3,382.3 1003.3,382.1 1013.1,380.5 1011.9,377.1 1011.7,377.7 1020.3,380.6 1024.0,383.5 1022.8,384.0 1014.0,391.8 1011.8,392.5 1015.5,391.5 1014.0,382.3 1015.0,376.9 1014.9,383.4 1025.4,381.8 1023.4,370.9 1021.2,374.2 1023.1,352.3 1031.3,356.6 1030.0,353.0 1028.7,362.0 1029.0,350.7" fill="none" stroke="#1fe01f" stroke-width="1.6" stroke-linejoin="miter" stroke-miterlimit="3"/><polyline points="999.5,349.7 1003.1,352.5 1007.6,350.7 1016.0,344.3 1008.5,348.3 1002.6,346.5 996.1,355.3 993.8,352.1 989.4,359.6 991.4,356.9 996.3,346.4 993.4,345.5 993.6,357.9 990.9,354.7 984.9,351.7 985.6,348.9 984.5,353.4 979.0,341.2 986.5,339.5 970.5,335.6 979.9,332.4 982.6,340.7 973.7,331.3 978.9,341.6 976.6,336.4 980.2,357.3 975.4,363.9 975.4,364.1 964.7,362.8 963.8,369.6 965.9,362.4 961.5,366.6 962.1,374.6" fill="none" stroke="#5b2a98" stroke-width="1.6" stroke-linejoin="miter" stroke-miterlimit="3"/><polyline points="999.9,349.3 1007.0,354.7 1006.5,348.0 1004.2,350.2 1001.5,358.9 994.0,361.0 997.8,368.9 999.7,360.0 1004.4,356.9 1006.2,356.1 1008.4,356.9 1003.7,350.2 988.4,352.3 976.1,355.2 986.0,343.3 992.1,350.5 999.4,358.2 998.3,363.1 991.8,374.8 989.9,369.8 990.3,374.2 992.9,371.9 1000.4,373.7 1005.4,381.1 1009.6,380.0 1004.3,378.5 1002.6,377.2 992.5,390.3 987.9,384.9 984.1,390.2 981.5,385.5" fill="none" stroke="#1fe01f" stroke-width="1.6" stroke-linejoin="miter" stroke-miterlimit="3"/><polyline points="1000.3,350.2 1010.4,358.5 1006.4,351.7 1015.5,359.2 1007.0,356.9 1014.4,352.2 1006.5,345.5 1007.7,350.5 1012.7,356.7 1011.4,349.9 1014.8,361.9 1012.8,350.2 1013.4,352.3 1004.2,339.9 996.7,338.3 1014.7,342.6 1017.4,339.8 1020.1,340.9 1031.9,343.3 1031.1,347.6 1022.8,349.8 1030.9,351.3 1035.1,351.9 1035.6,355.8 1043.2,349.3 1041.6,339.4 1040.6,345.4 1036.6,331.8 1039.0,340.9 1034.1,341.7 1032.2,343.2 1028.7,346.3 1037.5,353.5" fill="none" stroke="#5b2a98" stroke-width="1.6" stroke-linejoin="miter" stroke-miterlimit="3"/><polyline points="1000.7,349.1 995.3,353.3 996.2,352.0 1007.2,353.4 1013.9,350.0 1027.5,359.2 1020.8,360.8 1019.9,361.7 1012.6,362.2 1006.5,361.7 1001.3,359.6 1006.0,362.3 1003.6,368.6 1003.8,358.0 998.0,367.3 1005.1,376.5 1011.7,383.1 1007.5,371.5 1009.6,376.1 1015.5,379.6 1009.2,376.1 1020.5,365.1 1015.4,378.1 1003.9,376.5 1004.1,373.4 1004.0,382.9 1007.8,382.8 1007.2,373.2 1012.1,376.3 1009.5,377.3 1011.9,370.0" fill="none" stroke="#1f80e0" stroke-width="1.6" stroke-linejoin="miter" stroke-miterlimit="3"/><polyline points="1000.7,350.3 1004.6,362.1 1019.5,376.8 1009.9,372.4 1005.9,375.3 987.5,365.7 986.5,358.5 987.3,361.3 988.0,357.9 980.4,367.1 985.2,374.1 977.5,381.9 973.8,378.4 963.5,372.8 960.9,354.8 972.8,360.7 981.3,365.2 984.2,372.5 983.3,379.8 977.8,380.9 985.9,377.9 994.9,376.5 1002.0,386.4 1004.0,383.2 1012.0,385.2 1008.6,379.8 1009.9,376.5 997.0,362.5 999.5,357.6" fill="none" stroke="#86def2" stroke-width="1.6" stroke-linejoin="miter" stroke-miterlimit="3"/><polyline points="1000.3,348.9 1007.8,341.7 1005.1,339.5 999.0,339.4 1010.3,329.4 1013.5,335.9 1026.2,329.8 1018.6,335.5 1020.9,333.0 1010.9,339.0 996.4,344.7 996.9,338.5 1003.9,335.2 1013.1,323.5 1017.4,320.5 1016.3,322.6 1011.2,322.3 995.3,316.4 1001.2,314.1 1003.7,319.8 1008.8,330.1 1006.8,329.1 1011.4,331.1 998.7,329.5 1000.6,335.0 1001.7,337.1 996.5,324.8 994.3,328.2 1003.1,322.8 990.4,323.2 979.9,322.2 983.9,330.5 988.7,324.0" fill="none" stroke="#5b2a98" stroke-width="1.6" stroke-linejoin="miter" stroke-miterlimit="3"/><polyline points="1001.3,349.9 992.8,353.7 989.2,352.3 992.5,348.0 982.8,346.0 982.5,348.9 975.5,347.3 973.5,335.7 970.1,333.8 974.4,320.9 986.0,325.3 981.9,319.9 979.3,326.2 995.6,331.6 992.2,331.0 990.0,336.9 982.8,338.8 983.2,340.0 984.0,333.8 974.6,327.3 971.9,328.4 972.7,342.9 979.1,342.5 978.6,341.5 976.6,334.6 972.7,337.6 966.6,343.7 965.6,342.3 965.7,333.9 970.9,345.1 975.3,343.7" fill="none" stroke="#1fe01f" stroke-width="1.6" stroke-linejoin="miter" stroke-miterlimit="3"/><polyline points="1000.7,350.8 1001.9,350.1 1012.2,360.6 1018.5,353.1 1006.4,358.5 1010.1,361.4 1015.1,360.1 1011.5,354.0 1009.2,357.6 1008.3,353.3 1019.4,356.1 1027.7,369.8 1011.5,381.4 1016.3,375.8 1019.9,372.9 1019.3,370.6 1019.4,384.2 1005.3,386.6 1004.7,387.6 997.2,387.1 992.3,387.0 981.9,392.0 991.0,389.4 986.9,382.8 981.9,378.6 991.0,387.1 985.3,389.4 983.6,386.1 986.6,388.8 994.0,387.0 998.9,392.5" fill="none" stroke="#1f80e0" stroke-width="1.6" stroke-linejoin="miter" stroke-miterlimit="3"/><polyline points="1000.0,349.3 991.9,347.0 992.2,349.4 983.8,355.2 989.0,360.4 989.4,365.7 990.9,370.7 990.5,377.3 988.6,369.1 984.6,376.2 973.5,378.7 978.1,385.8 986.9,377.8 990.4,378.0 994.4,384.5 994.0,382.2 991.4,395.0 986.5,393.0 986.7,385.4 985.5,378.6 981.1,373.9 982.3,382.2 976.9,379.0 978.2,376.5 981.8,375.8 989.1,386.1 986.5,384.5 998.1,383.8 995.6,391.5 985.2,386.3 974.4,377.0" fill="none" stroke="#f5a02a" stroke-width="1.6" stroke-linejoin="miter" stroke-miterlimit="3"/><polyline points="999.6,350.1 992.4,354.0 1002.1,345.1 1007.8,351.4 1005.9,346.9 999.7,358.0 1010.4,354.7 1000.9,359.7 1003.4,357.8 1012.3,361.9 1027.4,356.0 1028.4,362.6 1028.6,355.3 1032.5,362.5 1027.7,359.2 1026.7,349.9 1021.1,351.3 1023.6,350.8 1020.8,357.2 1015.4,358.5 1020.1,355.3 1023.4,346.7 1021.7,332.8 1019.9,333.6 1018.7,334.3 1021.5,334.5 1032.3,344.6 1032.4,339.2 1034.0,340.0 1026.9,343.4 1032.7,339.3 1023.8,335.6 1025.1,340.8" fill="none" stroke="#000000" stroke-width="1.6" stroke-linejoin="miter" stroke-miterlimit="3"/><polyline points="1000.5,349.7 994.6,348.9 997.5,337.3 992.5,343.3 992.7,339.0 990.9,337.7 992.0,343.0 989.1,342.2 988.5,343.6 981.5,337.4 984.5,320.6 986.4,329.6 990.0,322.6 987.9,326.7 993.8,333.2 992.6,336.6 985.8,335.7" fill="none" stroke="#000000" stroke-width="1.6" stroke-linejoin="miter" stroke-miterlimit="3"/><polyline points="1000.8,349.8 1009.6,352.5 1002.3,346.4 994.5,345.2 990.8,347.0 996.4,354.8 998.4,354.9 997.4,353.7 984.1,352.1 982.0,352.5 997.9,347.8 996.0,355.7 997.7,345.8 1004.8,353.2 1015.8,358.3 1008.9,355.8 1008.2,356.7 1006.1,361.6 1002.8,355.2 1016.7,358.9 1036.0,352.3 1040.3,353.5 1036.6,353.1 1043.2,359.1 1050.3,359.9 1049.9,349.5 1046.3,350.9 1049.0,352.3 1039.0,353.0 1037.5,339.9 1037.9,337.7 1039.7,338.7 1035.5,340.1" fill="none" stroke="#5b2a98" stroke-width="1.6" stroke-linejoin="miter" stroke-miterlimit="3"/><polyline points="1000.2,349.3 1002.0,352.0 999.8,340.1 1000.2,339.0 997.4,336.7 993.4,338.3 996.4,333.0 986.3,326.6 974.5,325.6 967.4,331.6 968.1,328.3 978.3,329.0 977.7,333.3 966.6,336.5 970.1,330.8 982.2,330.3 981.8,333.7 987.1,332.7 985.7,329.3 984.8,328.3 984.0,338.4 989.2,346.2 974.6,360.3 968.7,349.8 971.6,351.5 978.4,355.0 984.5,351.4 987.9,354.2 990.3,350.3 989.1,353.2 983.5,357.3" fill="none" stroke="#f0301a" stroke-width="1.6" stroke-linejoin="miter" stroke-miterlimit="3"/><polyline points="1000.5,349.6 1007.1,342.3 1008.4,348.7 1009.4,347.9 1003.2,352.9 1009.4,363.4 1015.2,361.5 1011.3,365.3 1011.1,364.7 1008.1,365.4 1005.1,356.3 994.9,352.6 1004.6,365.6 1008.5,361.6 1000.5,357.9 1009.0,352.5 1004.4,352.8 1001.9,361.1 1008.5,361.1 1002.7,369.8 1001.0,367.1 997.3,380.3 1003.7,382.6 1008.3,385.9 1010.5,384.2 1003.8,378.5 1009.8,386.7 1008.0,384.2 1003.0,381.2 1017.2,373.0 1011.2,378.0 1001.0,373.7 986.5,362.4" fill="none" stroke="#000000" stroke-width="1.6" stroke-linejoin="miter" stroke-miterlimit="3"/><polyline points="1000.4,349.8 1000.6,341.3 1002.5,333.5 997.9,328.7 992.6,326.2 1003.1,321.4 1009.1,322.1 1008.0,325.3 996.0,325.4 1003.9,316.2 994.1,325.0 992.0,320.3 996.0,320.5 993.5,321.3 998.4,330.3 995.2,332.7 1003.8,342.0 1011.5,349.2 1012.6,362.8 1015.8,365.6 1016.6,343.6 1020.5,347.2 1016.6,348.7 1015.6,346.4 1017.1,351.0 1013.1,355.5 1005.1,356.2 1003.8,360.4 997.9,358.8 988.9,368.0 985.1,372.0" fill="none" stroke="#f5a02a" stroke-width="1.6" stroke-linejoin="miter" stroke-miterlimit="3"/><polyline points="999.4,349.6 998.2,349.2 991.9,351.2 994.6,356.7 995.6,364.5 992.4,368.5 988.9,366.4 988.8,373.2 1000.1,369.8 996.5,388.0 1005.1,383.7 1012.2,366.0 1013.3,377.9 999.9,385.2 1002.2,393.0 990.2,380.0 986.4,385.2 1000.9,388.3 994.1,393.3 1005.2,388.0 995.5,378.2 979.0,378.9 985.7,386.2 985.4,373.4 979.5,377.9 974.7,384.0 968.2,383.8 962.1,370.6 959.3,364.3 963.3,364.1 958.5,360.1" fill="none" stroke="#1f80e0" stroke-width="1.6" stroke-linejoin="miter" stroke-miterlimit="3"/><polyline points="1000.5,349.6 1001.2,346.4 1007.9,349.6 1000.6,337.9 997.5,339.1 990.7,338.6 1000.0,341.2 1005.0,340.9 1004.8,347.5 1015.1,349.0 1021.5,347.2 1029.8,345.2 1024.7,346.3 1026.0,341.8 1022.9,341.4 1018.9,346.8 1024.8,349.4 1031.6,348.4 1029.9,353.5 1032.3,348.3 1032.4,343.8 1027.0,337.0 1016.4,341.6 1016.3,345.8 1023.6,336.7 1024.8,338.2 1027.0,340.3 1018.2,334.2 1010.7,346.3" fill="none" stroke="#9a40c0" stroke-width="1.6" stroke-linejoin="miter" stroke-miterlimit="3"/><polyline points="999.6,350.6 1011.2,354.2 1002.9,341.5 1007.3,343.7 1005.3,346.0 1007.4,348.0 996.2,350.9 1002.3,366.0 1005.9,369.6 1015.6,371.8 1015.7,377.4 1018.3,371.4 1016.9,378.1 1009.4,381.6 991.1,379.1 999.5,381.7 993.1,374.3 1003.2,379.9 1004.1,386.2 1004.7,382.3 1012.3,379.8 1018.5,380.2 1012.8,383.1 1015.8,371.6 1009.5,370.6 1019.3,374.2 1013.1,372.2 1015.9,373.0 1020.8,378.9 1024.4,370.0 1025.3,365.3" fill="none" stroke="#1f80e0" stroke-width="1.6" stroke-linejoin="miter" stroke-miterlimit="3"/><polyline points="1000.2,349.8 1005.3,341.0 998.7,341.2 1004.2,342.1 994.2,344.5 992.7,340.2 1004.0,353.0 1015.0,353.4 999.2,353.6 992.1,346.3 987.6,354.4 982.6,349.5 989.6,342.5 983.0,331.8 983.0,327.2 986.8,331.6 985.8,336.3 984.5,337.9 992.2,347.6 988.2,352.2 985.2,352.9 979.1,349.6 986.6,349.5 993.4,349.1 991.2,340.8 981.4,341.3 995.1,362.5 998.7,367.3 993.1,371.2" fill="none" stroke="#a8a030" stroke-width="1.6" stroke-linejoin="miter" stroke-miterlimit="3"/><polyline points="1000.2,349.9 1005.9,343.0 1011.3,352.0 1012.4,348.1 1011.7,344.6 1021.0,338.5 1027.6,342.4 1030.1,337.4 1033.5,335.2 1023.8,328.2 1025.1,333.8 1038.1,331.4 1037.6,332.5 1043.2,334.1 1039.7,345.8 1034.6,328.7 1038.9,330.1 1029.9,331.3 1035.9,331.9 1035.6,331.6 1040.0,325.9 1035.7,325.4 1023.1,323.0 1020.2,315.9 1020.2,309.7 1032.1,314.1 1036.7,325.1 1032.0,315.0 1027.2,321.7 1026.6,340.2 1026.3,333.3" fill="none" stroke="#1fe01f" stroke-width="1.6" stroke-linejoin="miter" stroke-miterlimit="3"/><polyline points="1001.0,349.6 982.6,340.3 978.3,340.5 979.5,343.3 978.7,329.8 982.2,327.6 979.1,334.8 992.8,329.4 1000.1,341.0 1004.2,323.6 988.4,326.1 983.3,329.6 995.5,333.2 997.2,331.0 993.6,331.2 996.0,334.7 988.8,343.4 991.6,337.9 999.3,350.4 1001.5,350.8 1004.7,347.8 1008.5,362.9 1011.9,358.8 1017.1,356.4 1025.2,353.4 1023.6,335.9 1021.9,332.9 1019.7,330.3 1012.6,337.6" fill="none" stroke="#a8a030" stroke-width="1.6" stroke-linejoin="miter" stroke-miterlimit="3"/><polyline points="999.5,349.7 998.3,343.4 997.7,337.0 993.9,337.5 1005.6,340.5 1011.0,339.3 998.6,337.0 1014.2,339.2 1012.9,342.6 1015.6,360.4 1008.8,365.7 1018.4,367.5 1006.4,371.3 1010.2,369.2 1012.6,353.7 1008.6,361.3 1015.4,351.2 1015.4,352.4 1024.4,346.5 1014.6,355.8 1013.9,352.7 1008.4,352.1 1006.1,338.8 1015.1,345.8 1014.5,328.6 1000.9,328.9 995.2,334.3 996.4,321.3 989.0,325.5 1009.1,322.2 995.2,325.8" fill="none" stroke="#1fe01f" stroke-width="1.6" stroke-linejoin="miter" stroke-miterlimit="3"/><polyline points="999.7,350.0 993.0,344.8 985.0,349.5 983.1,342.0 981.8,336.7 980.7,339.4 975.1,340.6 970.1,340.0 971.1,348.9 975.7,342.8 977.7,335.2 978.0,331.6 980.5,337.8 979.3,342.7 970.8,341.2 967.3,335.1 971.2,339.0" fill="none" stroke="#000000" stroke-width="1.6" stroke-linejoin="miter" stroke-miterlimit="3"/><polyline points="1000.7,349.9 1010.4,357.1 995.4,366.4 1001.2,365.1 997.5,361.2 998.0,356.8 1004.8,355.1 1009.4,347.1 1022.7,342.4 1016.8,337.8 1020.0,343.4 1007.3,349.6 1007.3,348.2 1024.4,349.4 1025.1,328.9 1022.9,309.8 1018.9,304.8 1009.7,309.2 1018.7,314.4 1020.3,312.0 1024.7,310.4 1021.1,313.5 1018.5,310.6 1016.9,306.9 1017.0,313.1 1012.9,312.7 1014.5,305.9 1013.0,307.7 1003.9,313.8 1014.8,328.8 1002.9,327.7" fill="none" stroke="#1fe01f" stroke-width="1.6" stroke-linejoin="miter" stroke-miterlimit="3"/><polyline points="1000.3,350.7 1002.0,350.4 1007.0,349.9 1011.2,350.6 1016.0,350.4 1028.0,344.7 1023.1,347.1 1023.4,365.2 1015.0,372.2 1015.9,374.4 1007.6,376.0 1007.0,383.9 1007.2,374.8 1018.4,373.3 1023.3,372.7 1021.1,375.0 1023.7,367.7 1019.0,369.5 1015.4,368.6 1010.2,357.3 1011.4,361.1 1011.0,354.9 1019.7,344.8 1020.0,346.8 1017.0,346.8 1007.1,341.3 1002.4,345.9 1013.5,357.3 1019.8,347.8 1008.4,339.0 1012.7,339.9 1008.3,336.7 1011.2,342.1" fill="none" stroke="#5b2a98" stroke-width="1.6" stroke-linejoin="miter" stroke-miterlimit="3"/><polyline points="1001.2,350.6 1006.5,345.4 1003.0,343.5 1008.0,340.4 1011.1,340.6 1008.8,346.2 1002.3,352.1 1006.7,349.9 1006.7,344.8 1003.8,351.5 1001.7,348.1 1004.0,350.2 1001.5,345.2 996.6,341.1 988.9,345.6 991.4,345.5 992.6,348.4 1000.5,344.8 1000.9,345.4 1009.3,340.6 1006.9,339.3 1007.7,344.7 1013.9,345.7" fill="none" stroke="#f0301a" stroke-width="1.6" stroke-linejoin="miter" stroke-miterlimit="3"/><polyline points="1000.5,349.1 1005.6,348.6 1014.1,347.6 999.5,334.8 1012.2,325.3 1010.1,323.3 1009.9,307.4 1012.6,311.5 1009.1,317.3 1000.7,326.4 987.7,327.6 986.6,325.3 995.1,318.6 1003.2,323.2 1009.5,334.3 1012.8,332.0 1003.0,346.4 991.5,335.2 984.5,335.8 985.0,332.4 975.7,329.5 982.7,324.0 981.5,328.3 983.3,327.7 980.5,338.4 976.4,337.4 972.7,332.4 967.5,335.7 978.3,330.3 977.1,337.0 987.7,337.9" fill="none" stroke="#1fe01f" stroke-width="1.6" stroke-linejoin="miter" stroke-miterlimit="3"/><polyline points="1000.4,349.2 1001.8,353.6 1005.7,350.5 1006.7,350.1 1010.6,356.5 1008.3,351.2 1011.1,362.7 1009.7,368.5 1011.5,377.2 1013.7,369.6 1017.8,370.7 1022.6,372.7 1018.5,367.8 1019.1,368.3 1026.7,368.4 1016.7,362.3 1015.0,365.9 1010.8,360.5 1006.7,360.3 1005.5,350.4 1002.2,349.0 991.9,346.9 992.0,337.2 997.8,341.2 991.0,343.3 995.5,332.2 992.8,326.2 1001.3,318.0 1000.5,321.3 1008.5,331.5 1008.5,324.3" fill="none" stroke="#f5a02a" stroke-width="1.6" stroke-linejoin="miter" stroke-miterlimit="3"/><polyline points="999.9,350.6 1010.2,350.3 998.3,358.9 1007.7,355.1 1008.7,355.2 1014.7,360.1 1022.7,361.8 1027.4,353.7 1029.9,340.8 1031.6,342.5 1030.3,341.7 1024.1,337.3 1026.0,349.8 1029.9,344.3 1023.1,356.4 1025.8,354.8 1032.1,356.3 1025.5,362.2 1028.2,364.7 1017.4,356.1 1017.8,352.8 1009.3,348.8 1016.2,351.4 1020.0,350.6 1014.0,351.2 1016.6,345.9 1019.4,347.4" fill="none" stroke="#f5d82a" stroke-width="1.6" stroke-linejoin="miter" stroke-miterlimit="3"/><polyline points="999.4,348.9 1003.1,358.8 998.3,360.4 999.7,361.2 999.9,354.5 993.2,354.4 984.9,355.2 982.9,361.4 979.7,359.7 988.3,356.4 996.3,356.5 1000.7,352.3 1008.8,349.2 1016.3,350.2 1007.3,354.5 1016.8,351.9 1021.4,351.2 1020.4,354.1 1022.5,351.1 1017.0,349.5 1013.0,356.1 1004.8,357.0 997.8,352.4 1003.1,340.5 1006.1,347.5 1001.1,346.5 1007.5,338.6 1008.3,336.1 1003.7,341.8 999.3,328.8 999.4,329.9" fill="none" stroke="#1f80e0" stroke-width="1.6" stroke-linejoin="miter" stroke-miterlimit="3"/><polyline points="1000.4,348.9 1001.6,350.2 991.0,347.4 992.3,343.8 988.4,348.5 989.5,344.8 983.8,341.6 983.3,344.4 984.4,352.0 986.4,346.3 991.3,345.0 986.7,346.4 994.1,348.5 993.3,343.2 995.6,337.9 1002.5,341.8 1001.0,342.0 1005.0,340.0 993.4,350.5 993.9,347.8 984.2,346.7 982.1,347.2 976.8,350.0" fill="none" stroke="#f0301a" stroke-width="1.6" stroke-linejoin="miter" stroke-miterlimit="3"/><polyline points="999.7,349.7 995.4,355.8 991.0,362.7 986.9,356.4 981.0,355.4 978.7,357.1 970.5,359.3 973.9,364.6 966.1,361.7 962.4,357.7 964.1,354.0 969.8,350.8 969.0,357.2 979.4,353.6 1000.0,346.0 987.4,348.9 1000.0,352.5 999.8,358.9 995.7,351.4 989.7,349.4 977.2,359.4 978.6,359.7 976.8,357.3 976.5,363.0 983.6,364.2 997.5,361.8 1018.3,367.4 1029.9,359.3 1032.6,364.9 1031.5,359.3 1029.8,351.9 1035.4,344.9 1032.1,351.0" fill="none" stroke="#000000" stroke-width="1.6" stroke-linejoin="miter" stroke-miterlimit="3"/><polyline points="1000.0,349.6 993.3,346.9 991.9,355.3 999.3,357.6 1004.6,356.5 1001.0,360.5 997.2,352.8 997.4,346.7 995.3,354.5 1005.7,352.6 998.4,347.9 997.4,352.7 997.7,351.4 1005.6,353.0 997.1,351.3 994.1,344.1 993.1,350.2 990.4,345.1 999.9,353.1 996.8,353.3 993.0,347.1 997.8,343.0 999.2,333.2" fill="none" stroke="#f5a02a" stroke-width="1.6" stroke-linejoin="miter" stroke-miterlimit="3"/><polyline points="999.5,348.8 1008.2,346.7 1005.5,342.6 1002.7,341.6 1008.1,337.5 1012.5,332.0 999.9,344.1 1007.3,351.6 997.5,361.4 1000.0,365.2 1004.3,363.0 1006.1,365.4 1006.4,362.0 1018.6,360.5 1017.0,349.7 1017.9,347.2 1017.3,337.7 1015.3,344.8 1010.4,347.5 997.1,341.8 1006.0,338.4 1007.2,336.9 1000.9,339.6 1004.1,335.1 1003.4,330.4 1017.8,338.5 1013.5,347.4" fill="none" stroke="#f5d82a" stroke-width="1.6" stroke-linejoin="miter" stroke-miterlimit="3"/><polyline points="1000.3,350.3 997.9,351.8 992.4,340.7 980.5,331.1 985.8,326.5 988.6,327.9 984.0,332.6 989.3,332.4 987.6,342.9 989.3,341.1 986.8,344.8 987.6,340.9 987.9,333.9 984.4,327.8 979.5,334.8 977.0,335.6 976.7,333.1" fill="none" stroke="#000000" stroke-width="1.6" stroke-linejoin="miter" stroke-miterlimit="3"/><polyline points="999.8,350.5 1000.2,354.1 1012.9,345.9 1014.6,341.7 1015.9,339.1 1023.0,337.0 1010.7,327.0 1016.5,328.6 1018.9,320.4 1016.6,317.5 1004.2,316.2 1004.4,318.1 1014.2,315.7 1021.3,316.5 1026.4,322.6 1024.9,319.4 1021.1,328.7 1022.9,327.1 1025.7,330.0 1029.7,322.9 1029.2,326.1 1020.9,326.9 1016.1,325.6 1014.7,321.4 1011.9,316.5 1024.0,318.5 1023.3,316.1 1015.5,312.5 1014.2,313.7 1006.1,316.7 1008.9,320.7" fill="none" stroke="#f5a02a" stroke-width="1.6" stroke-linejoin="miter" stroke-miterlimit="3"/><polyline points="1001.3,348.9 998.6,364.9 999.8,371.4 1001.4,377.3 1016.5,379.8 1024.1,379.5 1023.6,375.8 1027.2,379.1 1017.7,374.7 1012.9,376.8 1001.8,355.6 982.6,364.5 983.3,362.5 989.2,345.7 985.7,350.2 981.3,355.7 982.3,351.2 979.2,352.3 981.2,344.6 974.8,341.2 977.8,341.1 981.6,351.8 989.2,342.1 993.7,348.8 984.9,361.4 970.7,350.5 964.2,343.1 951.3,331.0 951.3,332.8 950.1,340.7 949.7,344.1" fill="none" stroke="#1f80e0" stroke-width="1.6" stroke-linejoin="miter" stroke-miterlimit="3"/><polyline points="1000.1,350.8 995.8,355.3 1000.0,356.0 1011.0,359.1 999.9,355.6 999.3,361.5 993.3,356.9 992.8,358.9 993.0,351.2 996.7,356.5 998.0,350.0 998.8,348.6 997.8,357.5 999.6,359.1 1002.7,355.5 1013.5,352.6 1009.9,348.5 1017.7,348.0 1001.2,334.1 997.4,346.5 994.5,346.6 981.3,348.3 976.4,342.2 973.8,345.1 968.8,353.8 973.5,361.4 974.2,350.2 969.4,351.8 971.5,355.9 973.8,356.4 982.7,359.0" fill="none" stroke="#1fe01f" stroke-width="1.6" stroke-linejoin="miter" stroke-miterlimit="3"/><polyline points="1000.2,350.4 988.3,353.2 996.2,362.2 987.8,364.0 997.4,374.8 1005.0,384.3 1003.9,384.2 1015.4,381.0 1019.0,383.7 1026.2,380.6 1019.5,377.4 1022.3,377.5 1021.8,381.2 1015.9,385.2 1016.1,383.5 1013.4,378.8 1008.8,374.1 1019.0,379.2 1017.4,382.4 1008.4,376.6 1013.4,376.2 1012.1,386.2 993.6,378.1 982.8,370.8 987.7,382.5 975.7,383.8 973.1,380.8 975.5,386.7 987.8,374.9 981.1,366.5 994.2,361.0 992.4,360.1 989.2,364.8" fill="none" stroke="#000000" stroke-width="1.6" stroke-linejoin="miter" stroke-miterlimit="3"/><polyline points="1000.1,350.6 1009.6,350.7 992.6,352.6 991.3,355.0 996.1,350.7 999.3,354.8 1013.8,354.9 1009.8,349.3 1006.6,350.8 1000.3,350.7 999.4,353.0 1000.9,353.7 1003.3,353.0 1007.2,355.3 1002.3,370.3 1001.7,372.4 1009.5,366.4 1009.8,368.9 1011.2,365.3 1019.2,365.6 1014.6,359.1 1012.8,363.3 1027.3,351.7 1027.5,352.5 1032.7,349.6 1027.6,335.1 1022.5,337.8 1024.0,349.2 1030.7,352.9" fill="none" stroke="#86def2" stroke-width="1.6" stroke-linejoin="miter" stroke-miterlimit="3"/><polyline points="1000.4,349.8 998.7,359.5 1007.4,364.4 1017.5,361.2 1014.1,364.6 1008.9,368.3 1002.6,369.5 1007.1,362.5 992.2,357.2 997.8,356.7 1013.6,362.4 1021.7,368.5 1020.7,359.2 1023.4,352.3 1023.9,341.9 1023.7,337.2 1020.0,340.3 1027.1,338.1 1015.4,347.1 1007.4,342.6 1014.6,349.1 1016.0,357.8 1019.5,351.6 1008.8,358.3 998.8,365.9 1002.4,369.7 1013.4,371.5 1015.1,361.4 1009.3,356.4" fill="none" stroke="#9a40c0" stroke-width="1.6" stroke-linejoin="miter" stroke-miterlimit="3"/><polyline points="999.8,349.4 978.3,359.5 981.4,371.5 987.7,370.2 998.1,362.4 1005.6,362.1 1015.2,362.1 1003.8,355.5 1006.7,353.3 1011.2,349.6 1015.5,353.3 1014.0,357.9 1021.8,368.7 1003.0,374.9 993.3,378.9 997.4,376.9 1005.3,380.8 1006.1,381.5 1001.2,373.8 995.6,374.6 993.4,368.8 1004.5,371.3 1002.3,366.1 997.0,355.2 991.6,359.5 994.3,356.2 987.8,354.5 987.6,351.3 993.5,348.4 997.0,342.0 982.8,339.9" fill="none" stroke="#f5a02a" stroke-width="1.6" stroke-linejoin="miter" stroke-miterlimit="3"/><polyline points="999.8,350.3 1000.2,342.4 1008.4,333.0 1006.0,348.4 1006.2,368.1 1005.9,374.1 998.7,369.7 993.0,372.8 1003.3,371.5 1002.5,367.6 997.6,358.7 982.8,350.8 992.8,352.1 993.0,364.9 999.9,370.3 998.5,372.2 1007.7,365.4 996.5,369.9 992.6,369.1 990.8,368.2 988.4,369.9 988.8,359.7 990.4,365.6 999.6,364.6 1002.2,359.3 1000.9,351.4 992.5,346.6 994.5,347.4 990.4,353.9 992.1,359.8 983.4,357.2" fill="none" stroke="#f0301a" stroke-width="1.6" stroke-linejoin="miter" stroke-miterlimit="3"/><polyline points="1001.1,350.4 997.7,349.0 999.7,354.0 1001.4,350.5 994.2,352.2 984.9,362.1 998.0,351.5 1003.9,348.3 1010.3,335.6 1016.7,331.4 1004.6,330.2 1008.8,334.4 1009.2,335.9 1001.8,339.1 995.3,335.5 1009.9,341.8 1018.3,327.4 1017.4,327.3 1015.6,330.5 1017.6,334.7 1009.5,327.5 1016.0,325.4 1012.1,323.6 1008.4,323.7 1013.3,326.3 1016.7,337.5 1020.1,330.4 1014.0,327.2 1009.3,325.4 1012.6,325.2 1011.9,334.3" fill="none" stroke="#1f80e0" stroke-width="1.6" stroke-linejoin="miter" stroke-miterlimit="3"/><polyline points="999.6,350.0 996.2,351.0 991.4,349.6 992.7,353.9 985.7,359.5 996.8,358.2 997.7,349.9 996.1,356.8 997.2,350.5 996.9,350.8 991.4,350.2 985.7,357.0 977.7,354.3 988.4,355.0 984.5,355.8 996.9,358.4 991.4,344.9 993.5,335.5 995.1,334.3 995.5,339.7 993.2,331.5 986.1,335.8 982.4,345.2" fill="none" stroke="#f5a02a" stroke-width="1.6" stroke-linejoin="miter" stroke-miterlimit="3"/><polyline points="1000.1,349.0 1003.9,351.2 1016.8,355.9 1035.0,347.6 1027.3,335.1 1017.0,345.7 1016.4,332.5 1033.9,334.9 1034.8,351.0 1042.1,336.7 1038.9,329.4 1040.5,339.3 1039.7,349.8 1041.2,349.4 1040.7,347.7 1040.4,348.9 1027.2,344.8 1022.4,337.5 1020.7,342.8 1023.3,346.4 1020.2,356.2 1013.0,361.2 1009.2,361.0 1005.8,365.2 997.5,364.9 995.6,361.6 1004.9,355.5 996.3,370.0 998.5,369.8 992.0,373.0 980.7,373.2" fill="none" stroke="#1fe01f" stroke-width="1.6" stroke-linejoin="miter" stroke-miterlimit="3"/><polyline points="1001.0,350.6 1012.4,349.5 1024.5,351.5 1027.8,349.1 1038.3,339.3 1036.6,340.0 1029.0,341.8 1039.2,354.2 1043.3,344.3 1032.7,351.1 1032.7,359.8 1045.5,362.4 1040.3,361.3 1035.6,360.4 1039.9,356.7 1044.8,351.2 1038.1,359.9 1041.6,364.9 1039.7,365.7 1039.5,365.1 1044.8,356.0 1044.3,358.0 1045.1,361.3 1042.1,359.4 1041.0,369.4 1043.1,363.3 1039.5,352.4 1036.0,353.0 1022.2,356.3 1029.6,355.2 1025.4,372.9 1023.4,371.7 1024.7,368.1" fill="none" stroke="#5b2a98" stroke-width="1.6" stroke-linejoin="miter" stroke-miterlimit="3"/><polyline points="1000.9,350.2 1000.6,351.6 1010.1,354.9 1014.1,357.0 1009.5,356.4 1015.0,361.0 1015.2,362.9 1015.8,363.7 1011.6,354.9 1008.0,360.5 1017.7,363.5 1007.4,358.9 1005.3,364.6 1006.0,355.9 1008.2,357.5 1006.1,357.7 1003.4,354.2 1002.9,345.5 997.4,340.7 1002.5,344.1 1002.3,342.9" fill="none" stroke="#1fe01f" stroke-width="1.6" stroke-linejoin="miter" stroke-miterlimit="3"/><polyline points="1001.1,350.7 1001.9,344.1 995.0,347.6 994.6,356.3 995.1,356.4 986.4,362.7 997.4,364.3 1008.2,360.3 1015.7,360.7 1002.9,353.3 1004.8,341.5 1007.1,328.1 1010.4,330.3 1007.5,333.2 1002.1,334.9 995.8,334.2 1001.6,333.1 1002.0,349.0 1004.6,339.8 1007.0,336.7 1013.9,334.3 1009.1,332.0 1016.1,333.2 1001.7,328.0 992.1,339.6 989.3,351.7 986.9,342.8 993.6,338.2 1000.1,326.5 1005.8,334.9 1013.0,338.9" fill="none" stroke="#f0301a" stroke-width="1.6" stroke-linejoin="miter" stroke-miterlimit="3"/><polyline points="1000.1,349.6 995.4,348.6 1002.5,329.5 1020.0,334.1 1013.5,329.3 1014.9,340.6 1021.0,349.7 1015.2,355.7 1020.0,356.2 1012.9,362.1 1000.8,357.0 995.4,366.3 997.8,349.3 999.8,351.0 989.5,345.0 990.4,348.0 987.4,339.0 989.1,335.8 991.0,329.4 990.8,323.6 997.2,321.3 996.6,330.1 1003.1,335.4 1008.0,340.5 997.3,337.1 1009.3,347.4 1012.7,345.4 1000.3,347.8 997.9,346.7 1002.1,334.2 996.7,336.8" fill="none" stroke="#f0301a" stroke-width="1.6" stroke-linejoin="miter" stroke-miterlimit="3"/><polyline points="999.3,348.9 999.3,342.8 982.0,337.2 978.2,341.5 977.3,346.2 982.0,350.0 989.8,347.7 991.1,346.9 982.9,345.1 994.8,340.5 995.6,335.5 994.8,331.9 996.8,325.1 996.7,325.9 999.5,331.1 993.5,344.1 988.7,346.2 994.4,338.4 994.7,330.8 993.4,325.7 993.5,333.4 991.9,328.1 993.7,333.6 989.9,330.1 990.7,329.7 992.0,336.5 992.6,337.7 999.6,346.3 1004.0,350.8 998.9,343.6 995.7,351.6" fill="none" stroke="#f0301a" stroke-width="1.6" stroke-linejoin="miter" stroke-miterlimit="3"/><polyline points="1001.1,349.9 1002.2,350.9 1009.1,351.7 1004.1,344.6 1011.4,357.3 1019.0,359.6 1022.7,352.5 1022.7,360.2 1015.9,354.9 1008.8,354.0 999.4,350.2 999.2,345.1 992.8,343.4 993.1,346.2 996.3,346.5 1011.4,336.7 1004.8,331.8 994.6,334.3 990.7,346.4 997.8,354.4 987.5,356.7 992.3,362.7 996.6,371.2 981.9,368.0 980.4,366.7 987.1,374.8 989.6,366.8 985.5,363.1 981.1,373.5 987.5,375.3 982.0,384.5 966.3,385.4 964.6,382.9" fill="none" stroke="#5b2a98" stroke-width="1.6" stroke-linejoin="miter" stroke-miterlimit="3"/><polyline points="1000.3,349.5 993.7,350.0 990.5,344.3 996.0,337.8 1001.7,333.8 1011.0,325.0 997.5,334.1 988.6,333.5 983.0,321.4 980.2,329.5 986.0,324.8 989.1,335.5 979.4,331.4 975.1,322.1 975.7,333.7 989.2,338.4 1001.3,328.5 1003.6,330.0 1002.0,320.6 1007.9,319.5 1012.0,319.7 1020.5,320.4 1018.1,328.7 1017.0,335.2 1017.8,332.3 1007.6,334.8 1011.9,332.4 1000.6,333.6 993.2,335.3" fill="none" stroke="#86def2" stroke-width="1.6" stroke-linejoin="miter" stroke-miterlimit="3"/><polyline points="999.4,350.7 997.6,362.1 1000.7,360.7 996.8,358.0 998.5,345.4 1000.2,350.4 1012.8,349.9 1016.2,345.3 1018.9,343.6 1029.3,345.5 1028.0,349.4 1026.6,344.9 1022.7,346.7 1017.3,348.4 1010.3,339.9 1003.8,341.9 1000.8,331.3 1003.0,333.1 997.1,341.7 993.8,342.9 994.8,344.3 997.3,339.3 986.7,334.1 993.2,329.5 991.6,335.9 986.2,331.5 993.2,333.2 988.5,341.2 995.5,344.1" fill="none" stroke="#86def2" stroke-width="1.6" stroke-linejoin="miter" stroke-miterlimit="3"/><polyline points="1000.4,349.9 1000.5,345.0 1006.6,337.1 1010.5,339.8 1013.2,338.2 1016.0,347.4 1012.2,340.5 1019.7,337.9 1023.9,339.6 1021.0,333.3 1015.1,342.6 1015.7,337.8 1020.1,335.7 1014.4,343.7 1013.3,345.8 1015.0,355.0 1018.7,362.6 1005.5,360.8 1009.1,374.8 1001.6,377.1 996.4,364.5 997.5,379.7 1002.6,381.2 1001.5,378.1 1003.6,381.2 1004.7,380.8 1001.9,368.6 1001.5,376.0 995.6,372.3" fill="none" stroke="#9a40c0" stroke-width="1.6" stroke-linejoin="miter" stroke-miterlimit="3"/><polyline points="1000.9,349.6 1008.3,352.2 1017.8,352.5 1024.3,359.9 1012.6,368.0 1016.1,368.8 1020.7,379.7 1018.7,387.5 1017.2,381.2 1007.1,374.9 1001.7,382.1 1011.4,393.4 1023.2,387.8 1026.0,383.9 1027.8,386.2 1028.5,377.1 1039.3,371.8 1038.4,364.7 1036.4,366.8 1032.8,366.1 1016.8,359.3 1006.4,353.3 996.1,355.3 995.3,350.2 995.5,349.7 992.7,349.9 999.2,351.1 1003.4,348.3 1009.7,349.2 1016.4,354.6 1019.8,357.0" fill="none" stroke="#1f80e0" stroke-width="1.6" stroke-linejoin="miter" stroke-miterlimit="3"/><polyline points="1000.5,350.7 1005.8,355.2 1016.7,371.1 1005.9,369.7 1002.4,360.6 1004.3,368.3 1014.5,372.2 1009.6,367.4 1006.9,373.9 1001.0,374.1 1002.7,366.8 1000.6,371.3 1003.4,373.5 1003.7,376.7 1001.6,374.9 987.2,369.7 982.5,367.4 986.1,370.8 1000.0,377.1 1006.2,379.8 997.4,371.2 999.7,367.6 988.2,363.3 987.2,369.3 991.0,364.3 1000.9,364.2 1001.5,357.5 998.3,369.5 997.7,380.2 1006.5,383.1 995.3,383.5" fill="none" stroke="#1fe01f" stroke-width="1.6" stroke-linejoin="miter" stroke-miterlimit="3"/><polyline points="1001.1,350.8 1003.1,348.6 1014.6,345.2 1016.9,350.9 1016.1,346.8 1015.5,349.2 1013.5,345.1 1015.0,346.9 1016.5,355.6 1017.4,358.4 1017.5,357.9 1013.7,351.7 1016.9,350.1 1017.6,357.6 1016.0,359.5 1012.9,357.8 1007.3,358.3 1011.0,367.1 1005.0,375.8 1005.4,376.0 1002.1,370.9 997.7,370.2 997.5,363.9" fill="none" stroke="#f5a02a" stroke-width="1.6" stroke-linejoin="miter" stroke-miterlimit="3"/><polyline points="1000.3,350.2 998.2,355.9 994.7,360.9 995.6,361.2 1007.1,358.5 1000.4,358.7 1004.9,365.0 993.7,365.1 986.9,363.9 982.2,352.2 981.5,348.5 981.3,351.8 985.6,341.5 984.2,334.5 984.6,329.3 987.1,333.5 988.0,325.8 992.7,321.0 995.2,321.6 1000.8,329.0 999.0,328.3 991.8,320.2 993.5,327.0 992.3,333.6 990.1,330.3 988.4,332.5 991.6,337.9 1003.7,331.9 1000.6,333.7 994.8,342.9 998.1,335.1" fill="none" stroke="#f5a02a" stroke-width="1.6" stroke-linejoin="miter" stroke-miterlimit="3"/><polyline points="1001.2,349.9 999.2,352.9 987.0,362.0 990.1,362.2 992.1,362.2 979.8,360.0 981.5,357.0 993.1,366.1 1000.3,369.6 994.7,357.3 1004.4,357.9 1000.2,355.6 1001.5,363.8 999.5,362.1 1006.8,357.0 994.5,354.9 997.3,356.5 1001.6,364.6 1009.4,351.9 1006.1,358.3 1010.5,368.3 1008.7,363.5 1010.1,376.8 1009.0,381.5 1003.2,376.7 1002.8,380.5 997.9,369.8 1002.7,369.3 994.3,364.0" fill="none" stroke="#9a40c0" stroke-width="1.6" stroke-linejoin="miter" stroke-miterlimit="3"/><polyline points="1000.7,350.8 994.4,356.0 995.2,351.5 989.6,344.1 985.9,336.2 986.6,333.1 994.6,333.5 994.7,332.0 991.4,328.6 988.8,328.2 987.3,327.2 985.6,334.3 979.9,334.9 974.0,336.3 978.0,332.6 974.0,329.3 982.7,328.0" fill="none" stroke="#000000" stroke-width="1.6" stroke-linejoin="miter" stroke-miterlimit="3"/><polyline points="1000.3,350.7 1005.7,346.9 1005.0,343.6 1011.8,348.6 998.7,357.4 1001.4,359.0 1007.9,369.6 992.3,369.6 994.2,372.0 1001.8,382.8 997.7,385.6 999.8,383.6 1005.9,381.0 997.3,381.1 1005.4,380.9 1011.1,381.1 1007.5,371.6 1004.8,378.4 1008.1,386.7 1013.2,384.2 1017.2,371.7 1029.0,371.8 1023.2,372.6 1012.5,380.7 1015.7,380.9 1026.7,377.0 1023.4,376.6 1022.7,366.7 1019.2,374.2 1014.3,379.2 1024.4,377.2" fill="none" stroke="#f0301a" stroke-width="1.6" stroke-linejoin="miter" stroke-miterlimit="3"/><polyline points="999.9,349.3 1001.4,337.8 997.3,339.4 988.0,345.3 997.8,351.0 1006.8,347.5 1007.6,341.4 1008.1,341.8 1005.5,339.1 1008.0,338.7 1007.2,339.3 1005.4,338.2 1004.8,334.9 1001.1,336.0 992.9,341.2 987.8,353.9 991.3,357.8 997.1,354.5 993.6,350.5 994.1,351.7 994.2,349.3" fill="none" stroke="#1fe01f" stroke-width="1.6" stroke-linejoin="miter" stroke-miterlimit="3"/><polyline points="1000.8,349.4 1003.3,351.4 1008.1,348.4 999.2,336.8 1010.9,333.9 1008.3,331.8 1007.7,331.1 1004.9,344.7 1011.1,343.4 1004.5,344.4 1005.1,335.6 1005.5,331.0 997.3,335.1 991.9,332.8 1003.6,333.4 1013.7,328.4 1012.0,327.6 1012.9,321.7 1013.1,323.7 1013.9,324.6 1015.9,326.4 1013.9,330.6 1014.7,332.7" fill="none" stroke="#f5a02a" stroke-width="1.6" stroke-linejoin="miter" stroke-miterlimit="3"/><polyline points="1001.2,350.1 1012.8,350.1 1018.1,352.2 1023.8,358.9 1025.3,356.2 1025.8,351.3 1023.6,345.1 1022.3,341.4 1022.5,346.6 1024.1,348.8 1015.8,342.9 1007.2,342.3 1007.9,347.4 1008.8,347.9 1014.6,339.8 1020.3,340.4 1023.1,342.7 1018.5,352.6 1014.7,350.2 1008.7,358.3 1009.4,353.8 1007.3,355.6 1009.5,365.4" fill="none" stroke="#f0301a" stroke-width="1.6" stroke-linejoin="miter" stroke-miterlimit="3"/><polyline points="999.5,350.5 1002.5,345.7 1007.6,330.8 1008.6,328.4 1020.0,321.7 1020.2,324.2 1020.0,324.3 1022.6,327.4 1014.6,319.0 1012.9,323.4 1009.0,331.6 1003.6,334.5 1001.7,330.8 1012.8,329.2 1003.6,331.6 999.2,325.4 1008.4,319.4 1012.1,330.1 1020.3,322.0 1012.3,329.3 1012.5,332.2 1015.5,344.6 1018.4,335.9 1016.6,345.2 1027.6,333.8 1026.9,337.8 1020.9,341.1 1018.9,340.7 1026.2,340.5 1032.3,343.8 1034.4,345.6" fill="none" stroke="#f0301a" stroke-width="1.6" stroke-linejoin="miter" stroke-miterlimit="3"/><polyline points="1000.2,350.7 997.8,355.5 994.7,347.2 987.7,347.4 981.5,350.6 979.4,345.3 981.7,339.5 983.8,350.7 972.4,354.9 993.3,350.2 990.9,352.0 990.7,356.5 1001.4,358.3 997.4,359.0 990.5,361.4 996.5,359.4 992.0,365.7 990.2,369.3 995.2,382.6 989.7,375.9 990.8,380.2 990.7,378.3 1000.1,383.2 1001.6,381.1 1015.4,369.4 1009.6,369.6 1016.5,358.2 1016.3,361.3 1024.6,356.7 1025.7,357.2 1030.2,361.9" fill="none" stroke="#f0301a" stroke-width="1.6" stroke-linejoin="miter" stroke-miterlimit="3"/><polyline points="1001.2,350.8 999.0,354.3 993.3,367.5 992.4,364.3 993.2,364.0 995.4,362.3 1000.7,361.6 1000.0,361.8 996.5,351.7 1002.4,350.5 999.8,348.1 1000.3,345.2 1009.6,338.4 1007.9,332.0 1010.8,332.0 1008.0,331.6 1013.1,330.5 1014.7,334.4 1017.9,342.3 1017.8,347.5 1012.8,354.2" fill="none" stroke="#1fe01f" stroke-width="1.6" stroke-linejoin="miter" stroke-miterlimit="3"/><polyline points="999.5,350.2 1007.4,341.9 997.4,340.8 1006.8,338.7 1007.1,338.4 1006.3,341.3 1009.8,346.4 1006.7,344.4 1008.0,345.3 1008.2,352.6 1006.0,356.2 1004.5,356.8 1003.5,354.9 1005.3,365.9 1008.5,364.8 1012.4,368.4 1001.3,366.3 1001.0,364.7 995.1,358.3 993.6,361.9 989.1,362.3" fill="none" stroke="#1fe01f" stroke-width="1.6" stroke-linejoin="miter" stroke-miterlimit="3"/><polyline points="999.4,349.2 1000.7,353.4 1002.6,352.2 1003.4,352.6 1011.3,356.7 1010.8,355.3 1014.3,355.4 1017.1,352.1 1011.4,357.2 1016.5,352.6 1019.4,348.2 1016.3,346.2 1015.2,339.5 1014.1,333.4 1010.1,337.4 1001.1,337.1 1004.7,338.0 1013.5,334.0 1013.5,325.4 1004.3,335.7 1002.3,328.7 1007.2,326.0 1008.0,322.2" fill="none" stroke="#f5a02a" stroke-width="1.6" stroke-linejoin="miter" stroke-miterlimit="3"/><polyline points="203.2,957.5 202.3,952.3 199.6,947.5 200.2,942.0 198.7,936.9 198.2,931.0 196.7,925.4 193.2,920.5 192.4,914.7 189.5,909.5 190.0,904.6 187.3,900.4 185.5,895.0 180.3,891.9 178.1,886.7 177.1,881.4 173.4,876.9 174.3,870.9 171.3,866.2 166.5,865.4 161.7,864.6 157.6,861.6 151.6,860.0 145.4,861.7 139.3,860.5 135.4,865.2 130.2,868.5 125.6,870.7 132.0,870.1 137.1,866.2 142.8,865.3 147.6,862.3 152.7,859.8 157.6,857.1 163.1,854.9 166.7,850.2 169.6,846.1 170.4,841.3 171.3,836.5 168.7,832.1 166.7,827.4 165.0,822.0 162.2,817.1 168.4,818.9 173.6,822.8" fill="none" stroke="#f5a02a" stroke-width="1.6" stroke-linejoin="miter" stroke-miterlimit="3"/><polyline points="203.2,957.5 200.5,952.7 199.2,947.4 197.5,942.3 196.4,936.9 194.9,930.1 191.2,924.3 187.3,918.7 184.3,912.5 182.8,905.7 178.1,900.4 176.1,894.5 174.5,888.4 173.6,882.2 174.9,877.6 175.9,873.0 181.5,869.5 187.3,866.2 192.5,863.6 196.4,859.3 191.9,855.8 187.3,852.5 181.3,850.5 177.1,845.6 171.3,843.4 166.8,847.3 161.6,850.3 157.6,854.8" fill="none" stroke="#1fe01f" stroke-width="1.6" stroke-linejoin="miter" stroke-miterlimit="3"/><polyline points="198.7,936.9 198.1,930.6 197.2,924.4 193.4,918.8 194.0,912.2 191.1,906.5 189.5,900.4 193.2,895.4 196.4,890.2 200.2,885.3 203.2,879.9 204.1,886.2 207.8,891.3 209.3,895.9 211.7,900.1 212.4,905.0" fill="none" stroke="#f5a02a" stroke-width="1.6" stroke-linejoin="miter" stroke-miterlimit="3"/><polyline points="203.2,957.5 202.4,951.4 202.9,945.2 199.5,939.4 199.2,933.2 200.7,926.9 198.7,921.0 201.8,915.1 205.5,909.5 200.1,905.8 196.4,900.4 194.9,905.5 195.1,910.9 192.8,915.8 191.8,921.0 190.5,926.1 189.8,931.3 187.7,936.2 187.3,941.5 188.3,947.4 189.1,953.4 193.5,958.3 194.1,964.3 189.5,966.5 187.3,971.2 180.5,972.6 173.6,973.4 175.9,966.8 175.9,959.8 174.0,953.8 173.5,947.7 173.6,941.5 166.8,942.5 161.1,946.2 155.3,949.5 156.0,943.6 154.1,938.0 153.0,932.4 147.0,930.9 141.6,927.8 137.0,924.2 134.8,918.7 136.0,915.3 137.1,911.8 133.6,907.3 133.8,902.6 134.8,898.1 129.1,895.9" fill="none" stroke="#000000" stroke-width="1.6" stroke-linejoin="miter" stroke-miterlimit="3"/><polyline points="203.2,957.5 202.9,952.0 205.3,947.1 206.0,941.9 207.8,936.9 212.7,932.7 216.9,927.8 220.1,924.1 223.9,920.9 226.1,916.4 221.8,918.9 219.2,923.2 220.0,928.5 223.8,932.4" fill="none" stroke="#000000" stroke-width="1.6" stroke-linejoin="miter" stroke-miterlimit="3"/><polyline points="203.2,957.5 203.9,963.8 204.5,970.1 206.3,976.2 206.7,982.6 205.2,989.4 206.6,996.3 204.9,1003.1 206.1,1010.0 205.5,1016.8 204.4,1023.6 204.9,1030.5 204.4,1037.3 204.2,1042.5 201.0,1046.5 199.5,1052.5 196.4,1057.9" fill="none" stroke="#000000" stroke-width="1.6" stroke-linejoin="miter" stroke-miterlimit="3"/><polyline points="203.2,957.5 207.2,962.3 210.6,967.4 214.7,972.1 216.9,978.0 217.4,984.9 217.5,991.8 219.2,998.5 222.6,996.3 222.7,989.4 221.5,982.6" fill="none" stroke="#000000" stroke-width="1.6" stroke-linejoin="miter" stroke-miterlimit="3"/><polyline points="203.2,957.5 206.3,952.1 209.0,946.5 212.8,941.6 216.9,936.9 219.7,931.4 222.4,925.9 222.5,919.3 226.1,914.1 230.9,912.4 234.9,909.1 239.8,907.3 242.6,903.0 244.3,898.1 242.2,894.6 239.8,891.3 243.3,886.5 247.7,882.4 251.2,877.6 253.7,872.3 258.0,868.5 253.4,866.9 248.9,865.0 251.2,870.7" fill="none" stroke="#f0301a" stroke-width="1.6" stroke-linejoin="miter" stroke-miterlimit="3"/><polyline points="216.9,927.8 218.5,921.0 220.7,914.4 219.8,907.2 221.5,900.4 227.9,900.5 233.2,905.2 239.8,905.0 240.8,911.2 241.7,917.4 244.3,923.2 240.1,919.5 238.7,913.8 235.2,909.5" fill="none" stroke="#f0301a" stroke-width="1.6" stroke-linejoin="miter" stroke-miterlimit="3"/><polyline points="194.1,941.5 187.6,939.4 181.3,936.6 175.9,932.4 169.3,929.5 162.2,930.1 156.2,927.2 151.6,922.3 146.2,918.7 144.1,912.9 141.6,907.3 139.4,902.7 137.1,898.1" fill="none" stroke="#e040d8" stroke-width="1.6" stroke-linejoin="miter" stroke-miterlimit="3"/><polyline points="194.1,941.5 190.2,936.4 190.0,929.9 186.9,924.5 185.0,918.7 183.0,913.1 178.5,909.3 174.3,905.3 171.3,900.4 175.4,896.4 178.1,891.3" fill="none" stroke="#e040d8" stroke-width="1.6" stroke-linejoin="miter" stroke-miterlimit="3"/><polyline points="194.1,957.5 188.0,955.7 181.9,958.6 175.9,957.5 171.6,961.9 166.0,963.9 161.1,967.2 155.3,968.9 148.9,968.9 143.1,971.6 137.1,973.4 133.9,977.4 129.3,979.3 125.6,982.6 119.8,982.3 114.5,978.8 108.2,980.6 102.8,978.0 98.5,975.9 93.7,975.7 89.1,980.3 93.7,984.9" fill="none" stroke="#1fe01f" stroke-width="1.6" stroke-linejoin="miter" stroke-miterlimit="3"/><polyline points="148.5,978.0 141.8,976.0 134.8,975.7 130.2,977.9 125.6,980.3 119.9,979.5 114.6,976.3 108.5,977.1 102.8,975.7 103.3,979.7 100.5,982.6 96.9,980.0 96.0,975.7 93.5,979.4 89.1,980.3" fill="none" stroke="#1a932a" stroke-width="1.6" stroke-linejoin="miter" stroke-miterlimit="3"/><polyline points="189.5,955.2 182.7,956.5 175.9,954.1 169.0,955.3 162.2,955.2 158.0,958.1 152.9,957.8 148.5,959.8 144.1,961.9 139.3,962.8 134.8,964.3 129.1,965.0 123.4,964.3 122.0,969.6 120.8,974.8 121.1,980.3 115.1,981.7 108.7,980.2 102.8,982.6 97.4,986.4 91.4,989.4 90.7,984.8 89.1,980.3" fill="none" stroke="#f5a02a" stroke-width="1.6" stroke-linejoin="miter" stroke-miterlimit="3"/><polyline points="182.7,964.3 176.6,965.6 171.8,970.2 165.3,970.4 159.9,973.4 154.7,977.1 148.5,978.0 143.0,977.8 137.6,978.3 132.5,980.3 126.6,980.6 121.1,982.6" fill="none" stroke="#f5d82a" stroke-width="1.6" stroke-linejoin="miter" stroke-miterlimit="3"/><polyline points="182.7,966.6 177.0,967.7 171.3,968.9 166.8,970.4 162.2,971.2 158.4,975.0 152.7,975.1 148.5,978.0 143.1,980.9 138.3,984.4 134.8,989.4 132.3,995.7 127.9,1000.8" fill="none" stroke="#1f80e0" stroke-width="1.6" stroke-linejoin="miter" stroke-miterlimit="3"/><polyline points="194.1,973.4 189.2,976.4 183.1,975.4 178.1,978.0 181.7,983.5 187.3,987.1 189.3,993.7 194.1,998.5 188.4,997.8 182.7,998.5 182.1,1003.2 180.4,1007.7" fill="none" stroke="#1fe01f" stroke-width="1.6" stroke-linejoin="miter" stroke-miterlimit="3"/><polyline points="216.9,955.2 222.5,953.6 226.0,949.0 230.6,946.1 237.6,946.6 244.3,948.3 251.1,949.9 258.0,950.6 254.9,953.5 253.4,957.5 249.9,960.1 248.9,964.3" fill="none" stroke="#1f80e0" stroke-width="1.6" stroke-linejoin="miter" stroke-miterlimit="3"/><polyline points="216.9,973.4 221.6,977.3 223.6,983.3 228.3,987.1 233.9,990.9 239.8,994.0 242.5,998.1 246.7,1000.9 248.9,1005.4 249.8,999.1 253.4,994.0 257.5,997.0 258.4,1002.5 262.6,1005.4 266.1,1009.6 269.0,1014.3 271.7,1019.1" fill="none" stroke="#1f80e0" stroke-width="1.6" stroke-linejoin="miter" stroke-miterlimit="3"/><polyline points="207.8,973.4 211.1,977.8 212.6,983.4 216.9,987.1 219.9,991.7 223.9,995.7 226.1,1000.8 230.2,1004.7 233.1,1009.3 235.2,1014.5 236.3,1019.7 239.8,1023.7 242.7,1028.6 241.1,1034.8 244.3,1039.6 250.3,1041.1 255.7,1044.2 249.5,1046.7 244.3,1051.0" fill="none" stroke="#1a932a" stroke-width="1.6" stroke-linejoin="miter" stroke-miterlimit="3"/><polyline points="203.2,982.6 202.3,989.4 200.7,996.2 198.9,1002.9 199.4,1009.9 198.7,1016.8 205.4,1018.9 212.4,1019.1 216.1,1022.9 216.9,1028.2 209.8,1028.8 203.2,1025.9 197.5,1024.7 191.8,1025.9" fill="none" stroke="#1f80e0" stroke-width="1.6" stroke-linejoin="miter" stroke-miterlimit="3"/><polyline points="207.8,968.9 209.0,974.5 210.8,979.8 213.4,984.8 216.9,989.4 220.1,993.5 221.5,998.5 223.6,1004.4 227.1,1009.5 230.6,1014.5 234.2,1019.3 238.9,1023.1 242.0,1028.2" fill="none" stroke="#f0301a" stroke-width="1.6" stroke-linejoin="miter" stroke-miterlimit="3"/><polyline points="216.9,959.8 219.6,954.7 222.4,949.6 227.7,946.4 230.6,941.5 235.1,939.0 239.8,936.9 246.4,939.4 253.4,939.2" fill="none" stroke="#1fe01f" stroke-width="1.6" stroke-linejoin="miter" stroke-miterlimit="3"/><polyline points="216.9,964.3 222.4,966.7 228.6,965.1 233.9,968.6 239.8,968.9 245.3,966.2 250.7,963.3 255.7,959.8 251.6,960.9 248.9,964.3" fill="none" stroke="#1fe01f" stroke-width="1.6" stroke-linejoin="miter" stroke-miterlimit="3"/><polyline points="216.9,959.8 222.2,963.0 228.3,964.5 233.8,967.3 239.8,968.9 244.3,973.2 250.3,975.1 255.7,978.0" fill="none" stroke="#f0301a" stroke-width="1.6" stroke-linejoin="miter" stroke-miterlimit="3"/><polyline points="201.4,957.9 202.3,962.4 196.1,963.5 197.6,961.5 195.0,957.7 197.0,967.5 195.6,972.0 195.5,976.1 196.1,970.9 198.5,969.2 201.0,968.7 195.6,960.1 192.5,959.2 194.2,958.4 192.2,955.9 190.6,954.4 197.4,963.4 196.7,964.1 194.8,959.4 189.7,967.5 191.0,965.9 189.0,966.2 194.0,967.4 189.2,971.2 195.7,964.3" fill="none" stroke="#1fe01f" stroke-width="1.6" stroke-linejoin="miter" stroke-miterlimit="3"/><polyline points="201.3,956.9 202.7,962.7 199.5,963.8 193.0,964.9 196.2,961.6 192.9,958.0 196.1,959.2 192.2,962.1 182.8,967.0 188.1,973.6 183.6,978.2 188.0,977.7 183.2,978.7 180.3,967.4 188.6,968.7 180.4,971.4 189.5,970.4 189.8,966.3 189.8,967.2 193.9,970.6 194.3,966.0 195.5,962.8 195.3,966.0 191.8,966.9 187.4,968.8" fill="none" stroke="#1fe01f" stroke-width="1.6" stroke-linejoin="miter" stroke-miterlimit="3"/><polyline points="200.0,958.4 213.3,963.6 206.3,962.4 207.9,962.1 199.9,963.9 209.7,967.0 205.6,961.4 197.1,957.7 202.1,960.2 198.9,954.5 201.2,962.3 205.4,956.0 206.7,961.7 199.7,963.7 196.2,961.8 197.7,964.1 199.3,972.8 199.2,980.1 197.6,983.4 206.8,975.7 207.8,979.6 203.3,991.3 202.8,983.1 197.7,978.1 196.6,982.8 191.6,978.9 193.3,977.7 203.4,982.9 204.6,983.7" fill="none" stroke="#1f80e0" stroke-width="1.6" stroke-linejoin="miter" stroke-miterlimit="3"/><polyline points="201.0,957.9 202.5,964.8 208.7,963.5 213.5,967.7 216.4,962.1 215.9,965.5 217.9,956.0 222.9,960.6 220.2,963.4 217.4,965.8 217.9,967.1 218.2,963.8 215.2,964.3 221.3,961.9 221.4,962.9 220.4,962.5 227.9,961.7 224.2,956.1 226.8,956.0 224.1,959.3 223.3,962.5 225.3,959.5 226.0,961.1 227.8,961.0 227.2,969.1" fill="none" stroke="#1fe01f" stroke-width="1.6" stroke-linejoin="miter" stroke-miterlimit="3"/><polyline points="201.3,957.9 195.6,961.2 200.8,958.2 194.6,968.2 189.9,968.6 202.5,954.0 200.3,955.8 201.6,958.7 196.2,960.2 205.1,952.2 210.1,944.3 211.3,950.8 206.5,941.3 197.2,944.7 196.2,948.1 201.7,955.5 199.8,951.6 195.1,946.0 205.0,954.6 215.0,958.6 216.1,963.0 214.7,970.8 227.4,977.5 228.7,969.3 226.2,965.5 238.2,974.9 246.2,968.4 241.3,972.6 244.2,979.7 243.0,966.6 243.2,960.9 245.5,955.3 245.0,963.0" fill="none" stroke="#1fe01f" stroke-width="1.6" stroke-linejoin="miter" stroke-miterlimit="3"/><polyline points="200.7,958.1 196.2,958.5 197.5,963.0 196.4,960.0 198.5,964.6 200.5,968.5 188.1,978.9 181.8,974.0 185.9,975.7 185.4,968.4 188.4,964.5 202.4,952.9 202.5,950.0 202.9,960.8 198.1,961.5 199.5,974.2 206.7,977.1 198.1,970.2 203.3,978.0 205.0,969.9 202.1,973.8 212.6,978.0 217.2,976.1 214.8,975.7 206.8,976.7 212.3,969.6 215.2,974.0" fill="none" stroke="#1fe01f" stroke-width="1.6" stroke-linejoin="miter" stroke-miterlimit="3"/><polyline points="201.9,957.2 210.5,958.4 214.1,948.7 212.0,940.7 210.7,939.5 211.8,939.3 206.3,941.5 199.4,938.7 185.9,934.7 189.7,939.1 192.9,943.1 187.2,944.8 194.3,952.8 177.5,947.4 180.8,954.5 189.0,950.4 173.3,944.6 177.9,947.7 178.2,952.4 192.4,958.8 188.1,968.3 197.4,959.6 198.0,967.1 197.1,963.9 201.7,954.0 205.5,955.0 204.3,965.2 209.3,970.2 209.4,964.1 213.1,961.3 211.1,956.5 204.3,965.2 213.2,967.2" fill="none" stroke="#1fe01f" stroke-width="1.6" stroke-linejoin="miter" stroke-miterlimit="3"/><polyline points="200.3,957.7 186.2,963.9 187.2,958.3 182.6,958.7 183.1,953.4 182.1,962.5 187.1,964.5 186.3,961.8 190.7,949.3 190.0,954.2 191.7,968.0 195.1,965.2 190.3,965.1 191.6,965.7 196.5,963.4 191.9,970.2 183.9,967.3 183.1,962.3 183.1,948.5 182.0,948.7 187.0,945.4 190.8,953.0 190.4,949.7 189.4,940.7 181.7,941.4 185.3,938.6 182.3,944.3" fill="none" stroke="#e040d8" stroke-width="1.6" stroke-linejoin="miter" stroke-miterlimit="3"/><polyline points="200.9,957.0 206.7,955.4 209.7,952.3 208.1,953.9 208.8,955.5 213.6,957.1 216.3,956.1 221.3,958.2 212.9,958.0 220.2,960.0 212.6,965.7 221.9,962.7 222.0,968.1 227.3,962.9 223.1,970.7 218.7,969.1 226.1,969.5 218.0,969.7 217.5,967.5 220.2,962.8 223.9,959.5 224.4,958.2 228.4,966.3 220.5,965.5 220.7,967.2" fill="none" stroke="#1fe01f" stroke-width="1.6" stroke-linejoin="miter" stroke-miterlimit="3"/><polyline points="201.8,958.4 211.3,962.2 211.6,968.7 210.3,971.6 207.3,962.9 209.6,967.6 208.1,967.8 210.7,971.5 204.2,967.5 201.6,966.2 205.6,961.0 199.4,962.0 203.1,962.7 207.9,966.0 213.2,968.2 213.1,972.6 203.0,974.4 196.5,978.8 188.5,978.8 182.2,976.3 179.9,976.3 185.1,972.7 187.0,958.9 188.4,960.1 185.5,955.6 186.3,961.7 183.1,970.2" fill="none" stroke="#e040d8" stroke-width="1.6" stroke-linejoin="miter" stroke-miterlimit="3"/><polyline points="200.5,958.0 203.8,960.6 204.6,951.1 194.9,960.3 191.5,965.2 188.6,965.8 196.1,960.5 195.1,962.4 194.8,967.3 202.3,959.7 191.6,953.3 191.8,960.7 199.2,955.4 198.2,955.8 188.1,953.1 179.4,953.1 178.4,954.2 179.2,952.7 183.0,959.4 186.7,963.9 184.9,961.7 182.1,957.0 188.3,959.4 187.6,951.2 190.7,942.8 189.5,944.1 183.0,948.1" fill="none" stroke="#e040d8" stroke-width="1.6" stroke-linejoin="miter" stroke-miterlimit="3"/><polyline points="200.0,957.9 192.7,952.4 195.9,957.3 193.5,958.1 194.0,963.7 193.0,965.3 195.2,966.0 189.5,964.4 189.6,970.8 187.3,965.9 189.8,967.2 192.1,966.0 193.2,962.4 196.0,966.8 196.2,970.4 193.5,965.7 196.0,969.6 197.0,965.2 195.5,971.3 182.5,965.7 180.1,956.4 178.5,959.2 182.0,960.2 184.3,958.0 187.1,955.4" fill="none" stroke="#1fe01f" stroke-width="1.6" stroke-linejoin="miter" stroke-miterlimit="3"/><polyline points="200.2,958.1 192.1,958.6 191.5,960.8 189.1,956.3 190.8,962.3 191.1,966.0 190.9,958.4 194.8,963.5 193.4,967.0 195.4,967.3 206.0,960.6 205.9,955.8 211.1,953.8 214.7,949.8 212.8,951.2 220.5,951.8 221.5,953.4 221.5,956.8 218.9,952.7 214.5,953.6 210.7,950.0 222.4,950.9 223.1,950.8 222.6,950.8 219.2,954.9 223.4,958.0 214.6,958.8" fill="none" stroke="#e040d8" stroke-width="1.6" stroke-linejoin="miter" stroke-miterlimit="3"/><polyline points="200.3,957.2 197.4,962.5 193.3,966.5 188.3,968.0 191.5,967.3 187.4,965.0 191.9,960.2 193.7,968.8 196.1,964.3 196.8,966.3 195.5,968.3 192.6,972.6 191.9,968.6 187.8,976.0 188.5,977.3 184.3,976.2 183.2,974.2 182.5,968.3 180.0,973.0 183.0,974.5 183.4,973.7 189.9,975.1 186.8,976.2 191.5,974.3 187.4,972.7" fill="none" stroke="#1fe01f" stroke-width="1.6" stroke-linejoin="miter" stroke-miterlimit="3"/><polyline points="201.1,956.8 217.6,951.7 222.8,950.9 219.2,950.7 221.7,946.2 217.7,952.6 222.8,952.1 223.1,959.4 230.6,962.7 225.8,965.9 232.9,959.2 237.4,953.3 232.9,952.5 229.6,957.8 224.5,953.9 231.7,958.0 228.7,962.4 224.9,957.8 225.7,945.5 224.1,944.5 220.6,942.4 212.7,942.9 217.0,944.2 215.1,945.2 224.7,953.4 219.9,961.6 211.6,963.1" fill="none" stroke="#1fe01f" stroke-width="1.6" stroke-linejoin="miter" stroke-miterlimit="3"/><polyline points="201.4,957.5 195.1,956.2 195.5,944.0 195.7,944.9 196.3,952.8 191.9,962.6 194.5,959.6 189.4,965.1 191.7,968.1 190.4,956.0 187.3,953.5 184.1,960.1 182.2,965.6 183.6,970.3 178.7,974.3 177.2,966.9 182.9,970.5 192.3,964.3 200.3,973.7 189.9,978.7 185.1,974.9 190.0,973.2 180.1,967.7 175.9,962.0 173.4,962.9 169.8,953.1 174.2,951.8 178.9,949.1 184.8,946.0" fill="none" stroke="#1f80e0" stroke-width="1.6" stroke-linejoin="miter" stroke-miterlimit="3"/><polyline points="201.2,958.3 188.2,954.4 187.7,940.6 187.1,944.0 187.8,938.1 204.6,940.1 201.3,939.2 194.4,943.1 190.6,948.2 185.4,958.2 192.8,975.5 189.5,976.9 190.7,978.0 187.1,981.9 191.5,974.9 193.8,974.9 196.6,980.4 197.6,975.7 200.9,979.2 208.1,992.1 207.2,990.0 214.8,984.0 217.9,983.3 218.5,988.4 219.4,983.2 214.6,986.5 212.0,974.9 217.8,987.0 207.3,977.5 204.9,986.4 206.8,991.8 219.8,989.2 223.7,979.4" fill="none" stroke="#1fe01f" stroke-width="1.6" stroke-linejoin="miter" stroke-miterlimit="3"/><polyline points="201.7,958.4 202.7,958.8 202.8,955.5 198.4,954.8 191.1,965.6 184.8,971.2 187.7,974.0 192.7,965.8 193.5,962.2 187.5,962.6 187.9,949.9 193.7,951.6 194.1,952.4 186.9,952.0 199.9,964.5 197.9,971.8 190.8,974.9 188.4,968.4 184.9,961.0 188.8,955.9 193.8,951.6 188.3,957.8 191.7,950.0 189.0,954.7 193.5,950.5 203.4,945.7 211.9,947.8 212.7,941.8 218.8,944.7" fill="none" stroke="#1f80e0" stroke-width="1.6" stroke-linejoin="miter" stroke-miterlimit="3"/><polyline points="200.9,958.0 204.6,962.3 211.2,969.6 209.6,966.6 209.0,963.9 213.8,964.0 219.7,964.2 220.1,970.7 226.3,963.8 223.8,956.8 223.9,954.5 224.4,952.5 229.9,953.2 234.3,959.3 231.7,958.0 225.3,958.8 226.3,960.7 226.6,953.0 226.2,962.4 227.2,966.6 230.6,966.5 232.6,966.9 231.1,965.4 234.3,961.6 236.2,961.7" fill="none" stroke="#1fe01f" stroke-width="1.6" stroke-linejoin="miter" stroke-miterlimit="3"/><polyline points="200.7,957.7 195.7,964.5 196.9,974.1 190.4,972.6 191.0,977.8 190.0,975.2 186.9,978.4 191.3,977.5 190.7,964.8 199.1,966.9 198.8,972.1 196.7,968.4 189.4,970.8 191.6,975.1 192.2,963.9 197.8,967.5 190.2,963.5 189.6,960.0 190.3,961.2 187.9,967.1 190.4,966.3 192.9,964.5 190.1,961.2 193.8,966.9 192.6,966.2" fill="none" stroke="#1fe01f" stroke-width="1.6" stroke-linejoin="miter" stroke-miterlimit="3"/><polyline points="200.7,956.6 208.0,961.5 204.8,967.1 215.6,975.0 212.0,968.6 208.0,967.8 198.7,962.2 200.1,965.5 196.7,965.4 192.4,968.2 198.0,969.8 201.3,962.4 201.9,964.4 218.3,975.4 219.0,966.6 206.8,962.9 215.5,970.2 218.1,965.4 217.5,959.7 214.9,955.5 221.0,973.3 222.2,977.9 221.8,985.6 222.4,987.5 218.7,980.1 213.9,977.9 220.6,975.2 219.6,971.1 226.7,975.3 233.5,974.5 225.1,979.8 225.0,987.2 229.0,972.7" fill="none" stroke="#1fe01f" stroke-width="1.6" stroke-linejoin="miter" stroke-miterlimit="3"/><polyline points="201.7,957.9 203.5,972.6 199.1,980.2 197.6,982.6 195.3,973.1 196.7,980.1 200.6,983.6 201.0,988.0 196.9,987.9 194.1,986.9 186.6,983.6 187.8,986.0 189.9,982.6 186.1,975.3 182.3,978.4 184.5,974.7 183.5,978.6 181.9,983.0 186.7,976.1 182.6,981.9 187.7,977.0 188.1,967.4 187.2,975.8 179.1,978.2 186.5,982.8 180.6,983.6 189.3,985.6" fill="none" stroke="#1fe01f" stroke-width="1.6" stroke-linejoin="miter" stroke-miterlimit="3"/><polyline points="201.1,957.2 197.3,960.6 200.4,964.3 193.2,978.8 201.4,989.2 204.6,985.1 203.1,987.7 201.0,978.3 206.4,984.9 209.5,983.6 209.3,990.3 213.3,989.2 218.8,992.1 225.5,986.0 226.6,985.5 238.9,980.3 245.3,980.7 247.3,973.1 243.0,977.9 234.6,980.6 235.5,984.2 232.4,979.5 228.6,976.0 231.4,970.1 231.6,966.9 233.2,975.0 235.7,971.3" fill="none" stroke="#1fe01f" stroke-width="1.6" stroke-linejoin="miter" stroke-miterlimit="3"/><polyline points="201.6,957.7 199.7,957.5 188.3,956.8 189.5,956.3 185.6,962.1 178.3,961.3 176.8,962.3 177.3,965.9 183.1,968.3 182.5,965.3 186.4,962.6 189.1,958.5 181.2,967.6 185.1,967.6 187.6,961.3 183.3,967.0 176.6,967.7 184.7,971.6 192.7,971.0 191.6,969.5 194.3,972.0 195.8,961.5 192.9,961.8 194.3,959.5 194.4,959.7" fill="none" stroke="#1fe01f" stroke-width="1.6" stroke-linejoin="miter" stroke-miterlimit="3"/><polyline points="201.3,958.6 212.3,961.5 205.4,967.5 215.6,972.8 213.3,969.4 200.9,973.5 195.7,970.3 199.7,986.8 217.8,988.4 214.5,983.7 214.5,991.2 214.9,986.4 222.9,988.2 226.5,983.4 224.4,981.5 218.6,976.8 214.1,987.9 207.1,987.8 207.3,982.9 203.9,979.3 215.6,971.4 221.3,975.9 220.1,975.0 220.8,978.0 226.7,987.0 218.3,987.3 224.1,986.9 225.3,981.0 221.0,981.1 224.2,987.1 217.4,988.8 220.8,983.1 225.0,985.2" fill="none" stroke="#1fe01f" stroke-width="1.6" stroke-linejoin="miter" stroke-miterlimit="3"/><polyline points="201.3,958.2 207.6,950.4 204.4,938.2 207.0,947.2 206.1,954.7 219.2,961.6 215.8,961.7 220.1,956.5 225.0,957.0 220.8,951.0 220.9,953.0 222.4,963.8 227.3,963.6 229.2,964.0 233.3,958.1 230.1,966.0 227.7,959.2 229.8,958.0 226.4,963.5 218.3,966.5 216.5,968.7 208.5,970.7 210.5,970.5 212.8,975.2 221.2,974.4 223.0,987.2 215.2,990.9 212.1,988.8 203.0,985.6" fill="none" stroke="#1f80e0" stroke-width="1.6" stroke-linejoin="miter" stroke-miterlimit="3"/><polyline points="200.6,958.1 210.2,967.5 214.9,964.5 204.6,960.6 200.4,951.2 190.5,946.1 189.1,952.1 193.9,956.7 196.5,949.4 204.0,955.2 209.8,953.1 204.2,953.7 189.2,950.1 188.0,946.2 190.5,950.3 189.8,962.1 193.6,970.3 195.5,967.5 181.5,966.8 181.3,958.8 195.0,953.8 211.1,947.6 212.3,946.6 210.1,943.1 202.7,951.1 202.6,945.1 207.7,954.6" fill="none" stroke="#1fe01f" stroke-width="1.6" stroke-linejoin="miter" stroke-miterlimit="3"/><polyline points="201.7,957.8 208.5,958.2 210.1,962.0 216.9,959.2 222.3,957.7 220.0,962.1 221.8,961.9 224.5,963.5 223.0,955.4 221.9,957.9 222.9,960.9 223.1,957.7 225.5,957.7 227.8,962.6 231.8,967.0 229.7,962.3 230.8,959.4 228.9,964.6 231.2,956.0 227.1,963.7 229.9,967.8 234.6,961.1 233.6,958.7 225.0,956.4 226.9,965.7" fill="none" stroke="#1fe01f" stroke-width="1.6" stroke-linejoin="miter" stroke-miterlimit="3"/><polyline points="200.9,958.1 191.3,960.2 183.6,961.6 189.1,958.3 181.7,957.1 195.9,954.9 191.3,960.2 189.2,962.5 181.5,966.6 176.4,972.5 184.7,983.9 184.3,982.8 190.9,977.2 197.9,980.9 201.4,981.7 201.4,990.8 199.7,993.7 207.4,993.9 209.8,987.9 213.4,988.3 220.6,986.4 229.1,975.0 228.4,984.8 220.1,982.9 216.0,988.4 226.3,987.1 219.6,986.7 213.7,990.5 209.6,982.4 210.0,970.7 215.8,979.8 209.7,975.8 213.3,957.4" fill="none" stroke="#1fe01f" stroke-width="1.6" stroke-linejoin="miter" stroke-miterlimit="3"/><polyline points="200.1,957.8 201.6,965.9 214.7,964.2 217.1,967.7 214.2,965.3 216.9,969.3 209.2,970.0 209.3,973.1 205.6,971.7 204.0,986.6 205.1,986.6 210.3,978.3 220.1,976.8 217.1,984.2 207.1,981.8 198.8,982.5 203.1,974.1 191.4,968.1 186.9,970.6 192.1,977.0 187.9,987.8 184.6,988.4 188.9,979.5 197.8,985.5 189.9,977.9 173.5,976.9 181.7,974.8 180.0,964.6 188.0,957.6 187.7,962.9 189.5,972.1 191.6,957.8 182.8,966.3" fill="none" stroke="#1fe01f" stroke-width="1.6" stroke-linejoin="miter" stroke-miterlimit="3"/><polyline points="200.8,957.6 199.2,949.1 199.7,944.7 212.7,945.9 212.1,942.5 225.1,942.2 215.7,950.2 222.8,950.5 226.6,946.7 220.2,949.0 213.5,955.9 204.0,964.7 199.0,957.9 201.3,964.4 199.6,969.9 205.6,972.2 209.5,979.0 209.2,976.7 212.3,972.7 207.1,967.0 204.0,963.7 197.0,963.9 193.0,964.0 189.0,976.8 190.9,978.0 193.5,977.3 201.0,982.4" fill="none" stroke="#1fe01f" stroke-width="1.6" stroke-linejoin="miter" stroke-miterlimit="3"/><polyline points="200.7,957.1 201.8,946.7 196.2,943.3 192.6,945.0 190.5,955.8 201.1,951.3 200.6,953.1 193.6,947.1 196.0,945.9 203.7,937.8 194.2,941.4 184.8,936.7 188.1,946.4 195.3,941.9 187.4,938.9 196.0,932.4 187.1,934.3 186.9,936.2 196.4,938.6 202.2,941.2 211.9,938.8 213.7,935.2 203.1,940.5 195.8,943.1 204.3,937.1 211.7,943.9 216.0,940.6 221.2,939.4 223.8,935.7 225.6,939.4 232.6,942.6 225.9,955.6 226.2,947.4" fill="none" stroke="#1fe01f" stroke-width="1.6" stroke-linejoin="miter" stroke-miterlimit="3"/><polyline points="201.9,957.5 202.0,958.2 193.2,947.1 192.1,952.0 197.0,958.7 201.4,957.6 200.0,960.1 200.7,964.4 200.0,976.3 198.5,973.8 196.1,965.4 206.1,963.3 205.9,961.2 200.8,962.7 204.6,965.6 204.9,977.7 207.0,958.5 207.4,961.9 206.5,976.1 199.6,978.0 196.4,985.8 202.3,981.4 197.7,979.0 189.2,972.5 190.7,969.6 183.5,968.6 183.8,955.3 183.6,956.1 183.2,963.3" fill="none" stroke="#1f80e0" stroke-width="1.6" stroke-linejoin="miter" stroke-miterlimit="3"/><polyline points="201.8,958.0 203.1,958.0 206.7,962.9 212.9,963.3 218.3,965.4 223.0,966.0 229.3,965.4 232.6,963.8 222.3,959.8 221.0,958.8 220.5,956.6 222.5,958.7 223.7,958.3 226.3,962.6 221.4,962.8 219.7,960.7 216.2,958.2 225.4,955.7 223.5,960.7 227.9,956.7 225.4,961.0 221.6,968.3 225.8,967.2 226.5,963.8 230.0,962.1" fill="none" stroke="#1fe01f" stroke-width="1.6" stroke-linejoin="miter" stroke-miterlimit="3"/><polyline points="200.7,957.7 201.7,962.7 204.6,960.1 210.9,961.3 211.1,958.1 215.3,963.1 219.6,966.2 218.3,966.7 221.8,963.0 225.9,962.4 219.9,957.3 211.0,959.7 212.3,958.6 216.6,958.0 218.0,957.2 220.2,959.3 222.5,952.7 220.2,955.6 217.2,951.7 218.8,959.8 219.3,960.3 216.6,963.2 218.8,960.4 217.6,959.2 219.1,954.4" fill="none" stroke="#1fe01f" stroke-width="1.6" stroke-linejoin="miter" stroke-miterlimit="3"/><polyline points="200.4,957.6 189.0,957.8 196.6,964.2 197.2,966.0 198.4,970.3 201.3,975.4 199.8,977.6 200.5,974.7 200.5,964.1 201.3,965.2 198.2,962.8 195.3,954.1 195.8,956.2 194.3,954.1 181.6,954.7 178.5,956.8 181.2,961.0 186.7,965.1 187.5,968.0 196.9,968.8 195.4,971.5 200.6,975.5 201.1,975.6 197.6,975.2 192.9,974.8" fill="none" stroke="#1fe01f" stroke-width="1.6" stroke-linejoin="miter" stroke-miterlimit="3"/><polyline points="200.4,958.3 190.4,967.4 180.2,964.0 192.7,958.6 188.7,958.1 188.0,967.4 182.7,953.1 186.0,950.0 183.6,946.0 186.5,940.3 192.5,939.9 202.8,946.5 207.0,947.3 194.1,955.7 187.4,969.1 190.8,980.7 181.1,980.6 184.6,987.8 187.2,987.1 191.1,990.8 183.0,987.6 187.1,986.0 184.5,980.3 181.5,975.4 191.5,970.7 184.6,983.1 178.3,972.1 175.7,960.1 179.5,959.3 174.0,952.9 186.5,950.5 191.4,947.1 184.9,950.9" fill="none" stroke="#1fe01f" stroke-width="1.6" stroke-linejoin="miter" stroke-miterlimit="3"/><polyline points="200.1,957.8 201.1,963.4 205.5,966.6 211.3,962.4 214.3,957.9 216.3,959.2 220.6,955.7 222.7,962.1 220.8,961.6 225.2,959.3 222.6,958.6 224.3,965.7 224.5,963.0 222.7,964.7 217.4,962.0 221.9,965.4 227.1,964.4 227.2,963.3 223.8,962.0 226.9,960.7 229.3,955.3 234.0,959.2 230.9,962.0 228.8,968.0 220.9,968.2" fill="none" stroke="#1fe01f" stroke-width="1.6" stroke-linejoin="miter" stroke-miterlimit="3"/><polyline points="201.4,957.7 204.3,959.2 207.0,965.5 200.1,967.8 194.0,964.0 204.6,965.4 207.4,964.6 208.9,970.8 199.6,971.5 203.4,978.5 196.1,975.0 198.8,969.7 194.7,962.2 186.4,955.6 192.9,956.4 194.0,956.7 193.2,960.3 195.5,964.6 205.3,962.4 210.5,961.9 203.5,952.0 202.8,957.8 203.3,950.5 200.9,949.1 198.5,949.0 189.7,951.8 200.8,950.9" fill="none" stroke="#1fe01f" stroke-width="1.6" stroke-linejoin="miter" stroke-miterlimit="3"/><polyline points="200.9,958.2 192.3,958.1 185.5,967.6 199.5,961.1 197.3,954.3 198.1,959.0 199.6,953.8 195.4,946.9 200.0,956.1 194.0,942.2 200.5,931.8 206.3,931.5 196.8,936.2 190.6,930.2 190.4,939.1 180.3,939.1 173.2,940.8 170.6,936.7 165.1,938.5 175.4,937.4 179.4,939.1 177.0,933.1 174.9,935.3 178.7,943.2 182.4,938.8 187.1,931.8 181.7,922.2 191.6,933.8 191.9,938.4 190.1,939.0 200.6,938.5 200.8,939.3 189.2,935.9" fill="none" stroke="#1fe01f" stroke-width="1.6" stroke-linejoin="miter" stroke-miterlimit="3"/><polyline points="200.2,957.7 201.4,955.6 200.7,969.5 201.6,972.8 204.5,970.9 198.8,965.2 196.7,967.4 203.1,969.4 198.5,977.4 197.9,977.6 196.7,965.7 202.3,962.8 194.6,954.9 195.4,951.9 190.9,953.9 190.4,956.6 184.1,952.4 176.7,957.3 173.2,957.1 170.1,957.7 167.8,948.9 169.6,950.2 171.8,946.4 173.5,949.2 169.8,957.5 171.9,955.8 178.8,951.6 180.6,944.5 181.4,949.4" fill="none" stroke="#1f80e0" stroke-width="1.6" stroke-linejoin="miter" stroke-miterlimit="3"/><polyline points="201.5,958.4 191.7,954.3 201.1,951.9 198.8,954.2 205.0,942.0 194.5,948.6 190.4,949.5 201.5,949.3 209.6,949.3 214.7,951.4 216.1,950.8 210.2,959.4 215.3,965.3 206.6,968.1 205.4,961.5 201.3,966.0 204.9,971.7 210.1,964.6 209.8,956.1 207.4,957.1 205.5,952.4 200.0,949.6 199.7,950.2 199.6,949.7 203.9,967.2 204.9,974.5 194.4,979.9" fill="none" stroke="#f5a02a" stroke-width="1.6" stroke-linejoin="miter" stroke-miterlimit="3"/><polyline points="200.6,957.7 196.4,964.3 196.1,962.3 201.4,956.5 190.8,965.2 191.1,963.0 188.9,972.3 183.6,966.7 189.7,974.4 189.8,959.2 178.3,953.7 177.0,947.1 178.3,945.2 182.5,939.5 176.0,947.5 185.1,944.6 182.5,945.0 175.0,946.5 182.1,952.1 177.1,946.0 175.4,940.6 177.8,936.8 174.9,941.2 172.0,941.5 178.7,948.0 176.1,945.9 173.4,951.9" fill="none" stroke="#f5a02a" stroke-width="1.6" stroke-linejoin="miter" stroke-miterlimit="3"/><polyline points="200.1,957.4 203.1,960.5 200.6,950.9 209.8,956.2 213.9,968.0 207.3,967.0 211.6,960.1 205.5,960.6 208.3,952.4 207.4,962.2 204.1,959.1 197.6,950.7 215.7,953.0 216.2,954.4 212.8,964.5 210.7,968.2 207.7,959.4 194.7,977.3 196.8,972.2 197.8,985.6 201.5,986.4 208.1,985.6 203.1,989.3 203.8,984.8 200.6,982.9 201.3,988.4 204.2,987.4" fill="none" stroke="#1fe01f" stroke-width="1.6" stroke-linejoin="miter" stroke-miterlimit="3"/><polyline points="200.6,957.7 203.7,955.8 201.2,954.5 202.5,951.3 202.9,951.0 199.7,947.9 201.4,942.5 202.9,943.0 201.5,943.2 204.8,945.5 206.4,944.1 205.8,942.2 200.8,943.8 196.8,942.8 198.8,945.0 202.9,944.7 198.8,944.9 197.8,947.7 200.6,949.2 203.9,951.1 205.3,946.1 206.2,936.0 204.9,941.5 209.4,939.1 215.0,934.5 214.9,935.6 214.2,938.8" fill="none" stroke="#f0301a" stroke-width="1.6" stroke-linejoin="miter" stroke-miterlimit="3"/><polyline points="201.7,957.3 203.9,967.1 200.9,960.0 186.5,965.9 180.7,971.8 176.2,968.4 173.7,960.8 174.1,957.0 174.7,959.2 175.9,967.3 179.7,971.2 183.3,969.0 188.8,963.3 185.2,968.5 185.7,968.8 183.3,973.5 189.0,978.3 184.5,978.8 182.0,977.2 186.5,978.4 194.7,983.5 196.1,980.4 207.6,974.4 204.7,972.7 200.0,977.7 200.0,981.3 199.6,976.1" fill="none" stroke="#f5a02a" stroke-width="1.6" stroke-linejoin="miter" stroke-miterlimit="3"/><polyline points="201.5,956.6 202.3,954.7 202.5,950.7 204.6,947.6 212.0,944.8 207.9,952.3 204.0,950.7 202.6,950.1 206.1,946.8 210.1,951.6 211.6,949.1 211.5,944.6 209.8,939.8 211.9,937.2 211.7,935.7 215.0,933.1 210.7,930.8 207.4,929.0 208.2,934.7 212.2,932.3 212.2,932.4 203.8,940.8 203.8,938.8 205.1,934.5 206.9,929.9 206.5,930.2 203.4,927.8" fill="none" stroke="#f0301a" stroke-width="1.6" stroke-linejoin="miter" stroke-miterlimit="3"/><polyline points="200.1,957.6 204.7,968.1 206.9,964.6 201.0,971.4 201.8,972.9 206.4,971.7 209.2,965.2 206.6,965.1 218.4,974.3 215.7,974.9 211.0,968.6 212.0,971.6 216.8,976.2 215.1,976.5 215.8,985.4 218.8,977.7 223.0,978.2 221.2,976.9 215.2,977.1 221.4,971.3 221.4,969.4 226.3,958.7 215.5,969.9 217.1,963.6 211.1,961.9 217.6,951.9 219.2,954.5" fill="none" stroke="#f5a02a" stroke-width="1.6" stroke-linejoin="miter" stroke-miterlimit="3"/><polyline points="200.7,958.1 195.2,958.8 191.4,958.9 192.3,950.4 191.5,948.1 198.9,960.7 199.1,956.0 200.2,952.2 192.7,948.3 192.6,946.0 187.0,943.0 188.4,942.4 196.4,939.3 212.7,945.9 209.7,951.6 204.1,953.0 209.7,951.7 207.3,957.7 201.8,950.2 197.6,950.3 208.7,953.8 210.4,953.3 207.7,951.5 210.9,952.7 208.8,951.5 206.6,953.2 205.7,952.5" fill="none" stroke="#f5a02a" stroke-width="1.6" stroke-linejoin="miter" stroke-miterlimit="3"/><polyline points="201.4,957.3 205.2,962.8 212.1,967.0 208.3,966.8 203.9,963.1 206.2,958.7 198.1,950.3 194.2,961.2 196.0,963.6 190.9,959.9 193.0,961.4 188.5,955.0 181.0,950.6 182.1,957.7 180.3,957.7 180.0,951.3 185.9,954.0 176.5,955.8 173.1,956.0 177.4,949.8 182.4,951.3 181.1,953.0 180.3,952.8 179.0,956.4 175.8,951.9 176.6,948.4 177.7,957.7" fill="none" stroke="#f5a02a" stroke-width="1.6" stroke-linejoin="miter" stroke-miterlimit="3"/><polyline points="201.0,956.6 203.8,956.4 207.5,953.7 207.5,950.4 204.4,948.6 206.3,945.4 205.0,949.8 204.5,948.2 206.8,943.8 212.3,942.8 203.0,944.9 206.3,944.1 206.9,949.6 206.8,949.6 210.1,945.6 206.4,944.6 202.6,945.1 199.3,945.0 195.0,939.0 202.2,938.9 201.7,936.2 197.1,934.9 196.9,933.5 198.1,935.8 196.0,941.0 202.2,943.2 199.3,939.9" fill="none" stroke="#f0301a" stroke-width="1.6" stroke-linejoin="miter" stroke-miterlimit="3"/><polyline points="200.7,958.4 205.4,957.1 204.4,954.8 202.1,950.3 199.4,952.2 198.6,943.2 194.6,942.6 201.2,948.9 202.6,951.8 205.9,947.3 197.7,950.2 206.3,952.8 204.0,950.1 208.2,946.0 205.9,946.9 199.2,946.8 196.8,946.3 192.6,946.3 202.6,945.6 200.9,944.9 198.8,949.6 200.6,953.0 206.4,951.7 205.7,946.4 210.1,944.1 213.9,939.3 211.0,938.6" fill="none" stroke="#f0301a" stroke-width="1.6" stroke-linejoin="miter" stroke-miterlimit="3"/><polyline points="201.2,958.0 196.8,955.0 201.2,956.1 200.7,951.0 202.1,943.4 202.1,940.3 201.9,941.0 197.3,940.1 194.6,940.4 199.1,943.9 200.3,947.4 202.6,944.5 202.1,942.0 199.5,943.7 195.4,940.0 200.8,941.8 201.8,937.8 204.1,941.6 206.3,941.8 208.1,943.4 205.2,942.8 204.2,941.7 206.5,949.6 207.4,948.7 205.2,949.0 201.2,947.0 202.4,946.8" fill="none" stroke="#f0301a" stroke-width="1.6" stroke-linejoin="miter" stroke-miterlimit="3"/><polyline points="200.4,958.2 199.1,953.0 203.1,948.3 203.7,940.0 210.6,942.1 208.6,937.0 204.0,936.0 201.7,931.4 204.9,935.2 209.3,938.7 214.1,933.1 215.0,934.9 207.4,928.1 200.8,932.1 209.6,930.0 204.4,927.4 205.0,931.0 213.0,935.7 216.7,934.7 205.6,935.7 204.2,936.0 200.4,933.1 197.1,931.9 201.9,935.7 207.5,937.5 211.9,935.1 213.0,933.7" fill="none" stroke="#f0301a" stroke-width="1.6" stroke-linejoin="miter" stroke-miterlimit="3"/><polyline points="201.6,958.3 198.7,954.6 203.4,951.9 209.2,950.1 205.5,950.5 204.6,948.8 213.1,948.4 206.9,954.2 209.9,954.8 212.2,948.5 210.9,954.2 200.6,950.7 201.1,951.1 199.3,950.4 200.5,955.2 202.1,950.1 201.5,954.5 201.5,956.6 201.1,952.8 200.3,952.3 203.2,949.5 209.2,944.2 207.5,938.3 202.6,937.8 202.2,939.2 193.1,940.6 194.7,932.8" fill="none" stroke="#f0301a" stroke-width="1.6" stroke-linejoin="miter" stroke-miterlimit="3"/><polyline points="201.2,958.4 202.8,956.3 201.7,954.0 207.3,954.2 211.2,949.7 212.4,952.0 210.2,946.9 208.4,946.2 209.8,947.2 210.6,944.4 207.6,947.6 207.6,946.6 206.5,948.5 204.9,949.5 201.0,946.3 200.1,943.8 197.3,945.3 194.6,944.4 194.7,946.2 200.2,945.7 203.5,945.8 209.6,938.6 213.3,941.5 207.9,944.8 207.7,947.3 211.4,950.4 212.2,943.5" fill="none" stroke="#f0301a" stroke-width="1.6" stroke-linejoin="miter" stroke-miterlimit="3"/><polyline points="200.9,957.0 200.7,956.6 199.1,955.3 200.5,955.0 198.5,948.2 200.2,944.3 203.1,943.9 210.2,946.7 211.6,943.0 202.1,941.1 202.0,934.2 197.8,937.3 192.9,939.5 194.8,940.0 196.9,937.5 196.5,938.5 195.3,937.4 193.9,936.0 200.0,933.4 201.7,936.6 200.8,934.0 196.4,936.4 203.9,938.5 206.1,942.8 202.0,939.9 201.0,942.1 201.8,936.4" fill="none" stroke="#f0301a" stroke-width="1.6" stroke-linejoin="miter" stroke-miterlimit="3"/><polyline points="201.8,957.5 204.3,956.9 203.1,952.0 206.5,952.4 205.6,953.9 202.5,953.3 206.3,946.6 206.3,951.7 209.3,949.0 206.2,949.9 204.1,951.8 203.6,947.1 202.9,948.9 206.7,950.2 205.5,951.1 202.6,953.2 204.9,953.7 208.6,945.2 207.3,947.3 199.5,944.1 198.5,938.4 197.5,935.2 193.2,934.1 193.6,933.8 195.5,933.5 194.5,937.8 194.0,933.8" fill="none" stroke="#f0301a" stroke-width="1.6" stroke-linejoin="miter" stroke-miterlimit="3"/><polyline points="199.9,957.1 196.1,955.2 193.4,952.6 192.3,948.5 198.1,952.5 203.1,953.2 209.2,947.1 208.7,949.0 210.1,947.6 213.3,944.0 210.1,938.2 215.4,938.6 215.5,942.8 212.3,937.4 213.2,934.2 212.6,933.4 215.4,940.2 205.2,940.3 204.0,941.1 205.7,940.8 203.3,939.7 208.1,945.1 210.8,943.6 211.3,943.9 211.9,943.4 207.6,938.8 202.5,941.9" fill="none" stroke="#f0301a" stroke-width="1.6" stroke-linejoin="miter" stroke-miterlimit="3"/><polyline points="200.2,958.5 209.8,956.2 207.6,956.1 205.4,951.1 206.3,948.8 207.8,951.3 212.3,950.7 209.4,943.3 212.8,943.6 214.2,938.7 212.4,939.7 210.1,942.8 214.1,940.4 213.6,939.5 211.4,944.6 210.0,946.2 206.6,948.9 208.9,950.3 200.6,950.1 195.3,946.2 193.6,943.1 195.8,940.6 195.7,937.5 193.6,941.0 194.2,947.4 196.3,944.2" fill="none" stroke="#f0301a" stroke-width="1.6" stroke-linejoin="miter" stroke-miterlimit="3"/><polyline points="200.1,958.2 201.4,955.1 201.8,956.1 203.9,954.1 203.6,951.2 203.7,955.2 204.6,948.6 204.2,946.2 201.2,945.2 200.2,947.3 202.2,938.3 205.7,942.6 201.4,942.7 198.0,940.3 203.7,945.0 205.5,938.0 198.9,937.6 192.3,937.0 191.2,941.1 193.0,939.4 193.7,941.9 199.1,946.7 201.2,947.7 200.9,943.6 201.8,941.9 200.9,941.6 201.0,946.8" fill="none" stroke="#f0301a" stroke-width="1.6" stroke-linejoin="miter" stroke-miterlimit="3"/><polyline points="201.6,958.1 200.8,952.1 201.2,950.7 201.6,950.6 199.7,949.8 199.8,949.1 201.1,944.6 202.4,940.6 205.6,937.5 205.2,935.0 209.5,935.2 203.0,933.9 205.2,936.1 203.8,935.9 201.7,944.0 196.9,945.4 201.3,946.3 201.3,943.9 204.5,941.3 201.2,943.5 199.2,945.4 198.1,945.1 199.2,939.7 196.5,944.7 199.8,939.8 201.4,943.2 203.1,947.2" fill="none" stroke="#f0301a" stroke-width="1.6" stroke-linejoin="miter" stroke-miterlimit="3"/><polyline points="201.4,957.6 197.5,955.8 204.3,955.1 206.2,954.1 208.4,957.6 209.4,958.0 210.2,957.2 208.4,962.2 211.7,962.6 213.3,968.6 207.0,971.3 202.2,977.0 201.9,975.3 199.9,973.6 195.3,970.4 201.0,971.2 197.5,973.8" fill="none" stroke="#000000" stroke-width="1.6" stroke-linejoin="miter" stroke-miterlimit="3"/><polyline points="201.0,957.3 203.5,953.5 205.8,953.2 202.5,951.7 206.6,954.3 207.8,953.9 205.6,951.4 207.1,947.6 206.7,953.1 208.0,946.5 209.5,949.4 211.1,947.5 206.3,946.3 207.6,944.2 207.7,946.2 199.3,943.7 202.5,945.0 204.0,935.7 201.8,943.5 201.4,942.1 202.8,943.7 204.9,947.9 207.7,948.5 204.9,947.7 200.4,939.8 200.3,940.5 203.9,934.9" fill="none" stroke="#f0301a" stroke-width="1.6" stroke-linejoin="miter" stroke-miterlimit="3"/><polyline points="201.8,956.8 201.0,953.5 203.1,944.1 205.3,940.7 206.7,938.0 203.9,940.0 202.4,940.6 201.8,941.2 202.2,936.6 207.8,934.9 200.3,938.7 200.6,944.4 196.5,937.1 200.1,941.6 196.0,946.0 196.9,948.2 201.6,947.9 197.8,942.8 197.4,940.2 199.6,944.4 196.2,945.1 195.4,938.7 194.2,937.5 195.8,932.8 200.1,930.8 199.2,933.7 204.5,933.8" fill="none" stroke="#f0301a" stroke-width="1.6" stroke-linejoin="miter" stroke-miterlimit="3"/><polyline points="201.0,956.7 203.0,958.2 199.7,959.3 205.0,959.1 198.7,961.6 196.5,963.4 201.0,957.6 199.2,955.8 195.1,961.7 197.0,958.8 203.8,961.2 212.1,961.8 211.0,959.5 212.3,966.5 210.5,966.6 210.9,968.1 208.5,967.2" fill="none" stroke="#000000" stroke-width="1.6" stroke-linejoin="miter" stroke-miterlimit="3"/><polyline points="200.4,958.1 201.5,957.8 207.1,955.8 207.9,954.6 209.8,953.3 209.0,952.9 212.6,947.7 209.1,946.7 206.3,946.0 205.8,948.7 203.1,945.7 206.3,943.2 206.6,944.5 206.4,947.0 209.4,947.3 205.8,946.1 202.8,944.9 206.1,948.1 205.3,944.1 207.6,940.9 205.3,940.1 204.4,940.4 205.8,941.8 206.9,942.6 202.8,940.3 198.8,944.0 202.8,947.0" fill="none" stroke="#f0301a" stroke-width="1.6" stroke-linejoin="miter" stroke-miterlimit="3"/><polyline points="201.0,957.2 199.7,952.6 204.6,948.3 199.3,935.7 196.1,935.4 197.1,937.5 202.3,937.7 204.8,936.0 204.8,934.0 211.2,939.0 204.8,944.6 204.0,939.1 202.9,934.2 200.8,933.0 196.4,938.1 195.3,941.6 198.2,942.9 206.0,944.0 205.6,946.5 203.1,949.8 200.1,947.8 195.4,943.0 196.7,946.2 198.1,948.0 194.1,943.0 197.0,942.2 200.2,937.1" fill="none" stroke="#f0301a" stroke-width="1.6" stroke-linejoin="miter" stroke-miterlimit="3"/><polyline points="200.9,956.7 200.5,953.8 200.2,953.4 199.6,953.0 198.1,950.6 200.3,951.3 199.8,943.5 199.6,944.5 198.2,942.8 197.1,948.2 198.5,949.6 204.3,950.1 200.7,947.5 196.3,947.5 195.0,945.6 194.3,945.4 199.6,949.5 197.7,945.3 200.7,944.7 198.6,943.4 197.7,945.3 197.7,945.5 195.0,941.0 196.3,942.6 196.4,935.2 198.5,934.0 198.4,932.3" fill="none" stroke="#f0301a" stroke-width="1.6" stroke-linejoin="miter" stroke-miterlimit="3"/><polyline points="201.6,958.1 200.6,957.9 196.4,954.0 195.4,945.4 194.5,946.2 196.5,946.6 191.7,943.7 197.6,942.8 198.7,948.8 195.4,950.0 200.0,946.5 194.9,944.4 190.7,941.7 193.0,944.4 193.8,938.4 198.1,935.1 195.2,935.1 195.7,942.7 193.7,936.4 195.5,936.5 203.3,941.7 201.4,946.6 198.0,949.3 198.0,949.1 201.7,949.0 201.3,950.7 205.0,949.7" fill="none" stroke="#f0301a" stroke-width="1.6" stroke-linejoin="miter" stroke-miterlimit="3"/><polyline points="201.7,956.8 205.4,954.4 204.4,951.5 205.1,945.3 204.1,948.8 200.0,941.3 199.7,945.5 199.8,946.7 201.2,945.7 202.7,952.1 200.0,951.6 200.9,951.0 201.8,946.9 194.2,943.5 198.3,947.6 200.1,947.6 196.5,949.1 199.2,946.3 192.9,941.6 195.9,947.5 198.8,951.2 201.5,945.3 203.1,940.9 205.3,938.6 199.6,945.6 197.5,947.5 203.5,949.4" fill="none" stroke="#f0301a" stroke-width="1.6" stroke-linejoin="miter" stroke-miterlimit="3"/><polyline points="201.7,958.0 202.7,956.5 205.2,957.9 206.8,964.2 208.7,965.9 204.9,964.6 200.9,963.7 199.3,960.2 203.5,955.7 203.1,957.1 206.1,956.9 203.8,962.1 204.9,967.7 209.6,968.0 203.2,967.3 204.4,969.6 200.2,970.1" fill="none" stroke="#000000" stroke-width="1.6" stroke-linejoin="miter" stroke-miterlimit="3"/><polyline points="200.8,957.8 199.3,950.1 198.7,948.2 197.0,953.1 196.5,950.4 193.3,951.8 192.6,948.4 190.5,947.8 190.5,949.0 195.1,948.6 197.6,951.5 198.4,950.2 207.3,950.3 206.8,954.0 209.8,952.4 205.2,951.4 202.4,954.5 202.4,954.8 200.8,953.4 202.1,955.9 202.6,955.9 202.2,951.6 203.2,951.9 199.2,955.4 197.0,951.4 196.6,947.1 198.4,948.1" fill="none" stroke="#f0301a" stroke-width="1.6" stroke-linejoin="miter" stroke-miterlimit="3"/><polyline points="200.1,958.4 197.5,952.0 200.8,951.2 201.7,947.0 206.2,952.9 207.8,952.1 209.1,953.7 210.2,953.3 206.7,950.2 207.4,941.7 201.5,942.3 207.2,937.4 209.6,933.5 207.9,932.2 207.4,934.9 202.0,929.5 202.9,934.0 196.2,934.3 195.1,939.1 192.3,943.5 193.4,950.4 195.1,945.0 193.7,948.5 192.6,949.4 194.4,945.6 190.0,942.2 191.0,940.6" fill="none" stroke="#f0301a" stroke-width="1.6" stroke-linejoin="miter" stroke-miterlimit="3"/><polyline points="200.3,958.3 197.7,953.2 196.6,951.6 197.2,950.0 198.0,954.3 194.9,952.3 201.8,953.7 202.0,949.2 205.1,950.3 200.2,949.4 193.7,943.4 191.7,941.3 189.3,941.9 193.8,939.6 195.5,937.4 203.5,928.3 199.1,932.7 194.4,930.9 194.4,938.1 192.6,934.4 196.5,938.8 202.1,948.6 199.0,951.6 195.8,946.5 197.8,949.3 195.5,949.0 194.1,945.2" fill="none" stroke="#f0301a" stroke-width="1.6" stroke-linejoin="miter" stroke-miterlimit="3"/><polyline points="201.8,957.1 207.9,953.2 204.9,955.4 203.2,946.4 209.7,947.0 204.4,948.9 204.0,953.6 199.8,948.2 206.7,944.7 198.6,951.8 200.5,949.5 201.0,947.6 206.6,946.4 201.0,949.1 210.1,948.2 208.8,954.6 203.6,952.3 206.2,944.6 202.7,946.5" fill="none" stroke="#000000" stroke-width="1.6" stroke-linejoin="miter" stroke-miterlimit="3"/><polyline points="200.9,958.5 203.3,960.2 212.4,962.0 211.2,961.9 211.5,961.9 209.0,966.5 208.9,967.1 207.1,962.1 207.1,960.4 209.8,958.1 209.6,958.6 211.9,969.4 211.7,967.7 212.4,965.3 209.8,966.0 209.4,968.8 204.5,970.1" fill="none" stroke="#000000" stroke-width="1.6" stroke-linejoin="miter" stroke-miterlimit="3"/><polyline points="200.2,957.1 213.8,953.5 212.1,949.1 212.2,951.1 213.9,945.9 206.6,951.4 207.6,956.3 198.0,946.6 205.5,946.1 211.7,947.8 207.8,951.6 205.6,950.7 202.6,955.2 199.3,956.7 207.1,957.8 214.9,955.7 214.8,954.9 209.5,960.5 212.1,964.6" fill="none" stroke="#000000" stroke-width="1.6" stroke-linejoin="miter" stroke-miterlimit="3"/><polyline points="200.0,957.1 205.7,956.8 201.5,955.6 201.9,956.3 200.8,959.3 202.0,959.1 205.3,954.2 202.7,955.1 201.2,958.7 198.8,962.6 199.2,969.5 199.9,971.6 203.8,966.5 198.2,957.7 201.9,955.8 203.1,955.1 201.7,958.2" fill="none" stroke="#000000" stroke-width="1.6" stroke-linejoin="miter" stroke-miterlimit="3"/><polyline points="200.5,958.3 198.4,958.3 196.1,971.9 195.9,977.3 197.3,975.6 200.7,974.3 206.8,976.1 201.4,986.5 203.4,987.2 201.2,983.6 197.0,978.2 196.0,977.6 198.3,981.7 198.2,980.4 196.4,977.4 194.9,972.6 200.7,974.7 207.8,970.8 201.9,973.6" fill="none" stroke="#000000" stroke-width="1.6" stroke-linejoin="miter" stroke-miterlimit="3"/><polyline points="201.2,957.6 191.4,960.2 192.0,950.1 194.4,953.6 195.6,943.7 200.1,943.9 193.4,945.3 203.2,939.2 199.7,940.6 210.0,944.7 209.8,951.8 209.1,954.6 212.7,965.4 208.5,970.9 205.5,973.3 202.9,964.1 203.0,961.9 201.0,973.6 197.7,966.4" fill="none" stroke="#000000" stroke-width="1.6" stroke-linejoin="miter" stroke-miterlimit="3"/><polyline points="599.0,952.7 596.1,948.9 591.5,946.7 589.5,942.1 586.3,939.7 585.3,935.8 587.4,932.6 589.5,929.5 591.0,925.4 594.8,923.2 598.5,920.3 603.2,920.0 608.6,919.0 613.7,921.1 618.0,921.9 622.2,923.2 623.2,925.3" fill="none" stroke="#1f80e0" stroke-width="1.6" stroke-linejoin="miter" stroke-miterlimit="3"/><polyline points="594.8,942.1 592.9,937.3 589.6,932.9 589.5,927.4 589.5,921.1 584.2,920.0 579.0,919.0 584.2,921.1 589.5,917.9 594.8,914.7" fill="none" stroke="#1fe01f" stroke-width="1.6" stroke-linejoin="miter" stroke-miterlimit="3"/><polyline points="603.2,950.6 607.3,947.0 609.5,942.1 609.2,936.7 607.4,931.6 610.4,929.2 613.7,927.4 617.4,928.4 621.1,927.4 620.1,931.6 624.3,926.3 630.0,926.1 634.8,923.2 632.7,929.5 629.6,933.7 626.5,937.7 624.3,942.1 620.5,946.8 619.0,952.7" fill="none" stroke="#f5a02a" stroke-width="1.6" stroke-linejoin="miter" stroke-miterlimit="3"/><polyline points="618.0,954.8 620.1,949.5 622.2,944.2 625.7,942.0 626.4,937.9 630.2,936.9 632.7,933.7" fill="none" stroke="#f0301a" stroke-width="1.6" stroke-linejoin="miter" stroke-miterlimit="3"/><polyline points="596.9,973.7 598.7,977.8 599.0,982.2 596.0,984.5 592.7,986.4 588.9,988.6 587.4,992.7 583.7,996.5 579.0,999.0" fill="none" stroke="#1f80e0" stroke-width="1.6" stroke-linejoin="miter" stroke-miterlimit="3"/><polyline points="599.0,982.2 601.8,985.5 603.2,989.6 607.4,994.8 603.2,1000.1 600.8,1003.6 596.9,1005.4" fill="none" stroke="#1f80e0" stroke-width="1.6" stroke-linejoin="miter" stroke-miterlimit="3"/><polyline points="584.2,954.8 579.2,953.4 575.8,949.5 569.5,948.5 565.4,947.0 561.1,947.4" fill="none" stroke="#1f80e0" stroke-width="1.6" stroke-linejoin="miter" stroke-miterlimit="3"/><polyline points="584.2,961.1 580.7,962.5 576.9,963.2 572.2,961.6 567.4,962.2 563.2,961.7 559.0,961.6" fill="none" stroke="#1a932a" stroke-width="1.6" stroke-linejoin="miter" stroke-miterlimit="3"/><polyline points="594.8,948.5 590.0,945.1 584.2,944.2 580.9,940.2 577.9,935.8 579.0,931.6 573.7,933.7" fill="none" stroke="#1a932a" stroke-width="1.6" stroke-linejoin="miter" stroke-miterlimit="3"/><polyline points="590.6,948.5 585.6,944.8 580.0,942.1 576.2,939.8 571.6,940.0 567.4,936.9" fill="none" stroke="#f5a02a" stroke-width="1.6" stroke-linejoin="miter" stroke-miterlimit="3"/><polyline points="587.4,967.4 583.7,967.6 580.0,968.5 575.8,968.5 571.6,967.4 566.3,969.4 561.1,971.6 555.5,972.8 551.6,976.9 556.3,975.3 561.1,973.7 566.3,974.7 571.6,973.7 566.9,978.2 561.1,981.1 566.2,983.1 571.6,982.2 575.6,984.2 580.0,984.3 584.3,983.2 587.4,980.1 592.7,975.9" fill="none" stroke="#1fe01f" stroke-width="1.6" stroke-linejoin="miter" stroke-miterlimit="3"/><polyline points="603.2,965.3 608.5,965.3 613.7,965.3 617.9,968.7 623.2,969.5 619.5,971.6 615.9,973.7 620.0,976.0 624.3,978.0 619.1,979.3 613.7,980.1 609.7,977.7 605.3,975.9" fill="none" stroke="#1fe01f" stroke-width="1.6" stroke-linejoin="miter" stroke-miterlimit="3"/><polyline points="590.6,965.3 586.4,967.4 582.1,968.5 579.8,972.0 577.9,975.9 582.1,980.1 584.2,973.7" fill="none" stroke="#f0301a" stroke-width="1.6" stroke-linejoin="miter" stroke-miterlimit="3"/><polyline points="599.0,968.5 602.6,970.6 605.3,973.7 608.7,978.7 613.7,982.2 618.0,986.4" fill="none" stroke="#c0602a" stroke-width="1.6" stroke-linejoin="miter" stroke-miterlimit="3"/><polyline points="599.0,954.8 592.6,954.0 586.9,951.1 581.3,947.6 574.8,947.4 577.9,946.4" fill="none" stroke="#000000" stroke-width="1.6" stroke-linejoin="miter" stroke-miterlimit="3"/><polyline points="599.0,956.9 603.4,954.5 608.5,954.8 612.9,955.7 615.9,959.0 619.7,961.7 624.3,961.1 628.4,960.7 631.7,963.2 630.6,959.0" fill="none" stroke="#000000" stroke-width="1.6" stroke-linejoin="miter" stroke-miterlimit="3"/><polyline points="596.9,973.7 599.0,978.8 599.0,984.3 598.8,990.7 600.1,996.9" fill="none" stroke="#1fe01f" stroke-width="1.6" stroke-linejoin="miter" stroke-miterlimit="3"/><polyline points="598.3,956.6 599.2,956.6 594.3,962.7 600.6,960.2 603.0,956.6 597.0,962.8 595.2,962.1 587.3,952.8 580.8,952.0 578.2,949.8 582.7,952.7 576.9,954.8 581.7,946.7 583.6,949.1 597.8,950.2 595.9,954.7 596.2,957.0 594.1,952.2 599.5,953.1 603.0,954.3 600.9,946.4" fill="none" stroke="#1f80e0" stroke-width="1.6" stroke-linejoin="miter" stroke-miterlimit="3"/><polyline points="597.5,957.1 598.2,967.9 594.2,971.5 595.6,972.4 599.2,967.1 603.0,969.7 601.3,968.5 606.6,974.5 604.6,969.3 600.6,972.4 595.1,966.5 598.7,970.8 594.7,975.3 597.4,976.2 600.8,976.8 600.5,975.6 599.3,972.1 603.4,979.1 598.0,977.3 607.7,978.8 601.4,977.5 595.5,968.6 596.6,970.0" fill="none" stroke="#1fe01f" stroke-width="1.6" stroke-linejoin="miter" stroke-miterlimit="3"/><polyline points="599.4,956.5 598.6,961.5 600.1,967.0 592.1,974.1 594.0,969.4 593.1,969.7 598.6,969.3 595.3,962.3 601.7,966.7 601.8,960.6 602.2,961.5 593.9,962.8 596.6,959.0 595.3,960.6 590.6,955.2 581.2,957.1 581.1,954.5 582.4,954.7 582.9,954.1 581.7,968.2 587.7,965.4 590.7,967.2 589.4,966.3" fill="none" stroke="#1fe01f" stroke-width="1.6" stroke-linejoin="miter" stroke-miterlimit="3"/><polyline points="599.0,957.7 588.2,960.8 590.0,963.8 591.2,964.2 586.5,963.2 588.7,968.6 590.5,958.9 599.4,959.8 600.9,956.8 604.8,957.5 605.3,954.8 606.8,951.5 599.2,952.4 597.3,952.8 598.5,955.4 601.9,963.5 606.1,951.1 602.1,951.6 597.0,945.0 597.2,947.9 596.8,948.7" fill="none" stroke="#1f80e0" stroke-width="1.6" stroke-linejoin="miter" stroke-miterlimit="3"/><polyline points="597.4,956.6 595.5,954.0 593.4,950.8 596.1,947.2 602.2,950.0 600.5,958.6 598.9,963.9 597.4,963.8 601.1,963.4 595.2,962.7 595.8,962.8 591.8,963.8 585.6,967.1 589.6,966.7 586.5,966.3 589.1,969.3 591.7,966.3 589.3,959.8 593.5,954.0 598.2,950.7 602.9,949.2 603.7,956.2 606.4,954.8" fill="none" stroke="#1fe01f" stroke-width="1.6" stroke-linejoin="miter" stroke-miterlimit="3"/><polyline points="597.7,956.9 595.6,951.4 605.4,954.0 603.7,955.6 607.4,950.8 607.4,955.3 606.6,960.0 602.1,957.0 607.9,959.3 605.3,956.2 603.9,953.2 594.4,959.4 590.8,954.9 590.3,967.1 590.4,964.4 597.8,961.8 601.0,967.9 599.7,969.4 598.9,968.0 601.6,968.0 607.9,964.6 604.8,962.4 606.7,961.7" fill="none" stroke="#f5a02a" stroke-width="1.6" stroke-linejoin="miter" stroke-miterlimit="3"/><polyline points="598.9,958.4 596.8,953.0 595.4,951.0 595.8,945.3 594.2,945.0 593.3,943.8 588.9,941.7 588.8,939.8 587.1,941.1 583.9,943.6 582.4,948.0 586.5,944.6 586.7,943.8 587.5,944.5 587.4,942.1 590.0,941.5 595.1,939.8 597.3,948.9 601.9,952.5 609.8,955.0 608.9,955.5 606.9,959.7 608.2,970.9" fill="none" stroke="#f5a02a" stroke-width="1.6" stroke-linejoin="miter" stroke-miterlimit="3"/><polyline points="598.7,957.4 599.2,961.1 605.9,959.8 601.5,962.7 602.3,961.9 607.4,963.8 603.5,963.7 599.9,960.1 603.6,967.4 607.0,970.2 608.2,969.4 599.3,969.5 601.6,974.3 600.8,971.7 597.2,971.8 593.6,978.1 594.2,975.7 592.2,969.6 581.9,974.9 581.5,968.8 584.8,966.9 585.6,976.9 582.4,966.4" fill="none" stroke="#1fe01f" stroke-width="1.6" stroke-linejoin="miter" stroke-miterlimit="3"/><polyline points="598.7,958.0 602.5,956.0 596.5,960.9 595.9,959.5 590.3,960.5 591.1,961.7 592.0,961.0 592.4,965.0 589.1,962.9 588.1,957.3 588.7,958.3 587.2,955.2 590.1,954.2 590.0,949.5 589.2,953.0 591.3,952.7 591.5,950.7" fill="none" stroke="#f5a02a" stroke-width="1.6" stroke-linejoin="miter" stroke-miterlimit="3"/><polyline points="599.0,957.5 601.1,954.2 596.5,951.9 597.7,948.5 597.7,949.8 591.6,945.1 584.9,944.3 584.3,942.9 585.0,944.4 584.6,945.4 586.6,942.8 584.9,943.7 585.3,943.7 588.4,944.2 587.5,950.3 592.6,954.4 596.1,950.4 598.9,955.6 600.7,955.9 604.8,951.7 604.1,953.2" fill="none" stroke="#1f80e0" stroke-width="1.6" stroke-linejoin="miter" stroke-miterlimit="3"/><polyline points="599.0,957.9 601.2,959.6 605.9,961.4 598.2,950.7 593.5,951.0 595.8,951.8 596.7,955.6 601.2,952.6 602.4,948.9 599.8,954.4 594.5,951.9 600.6,956.1 599.1,953.9 598.8,963.9 604.1,966.4 597.6,965.4 592.5,960.8 588.3,969.8 603.2,968.2 612.2,966.5 605.6,967.3 608.5,967.7 609.2,964.5" fill="none" stroke="#1fe01f" stroke-width="1.6" stroke-linejoin="miter" stroke-miterlimit="3"/><polyline points="598.3,957.7 592.6,956.5 594.9,951.1 596.6,951.1 606.7,954.6 606.4,955.0 607.8,956.4 598.9,959.7 602.7,958.4 603.0,952.7 605.3,956.6 602.0,959.2 605.9,962.4 605.0,956.8 604.1,958.4 605.1,958.4 605.5,954.9" fill="none" stroke="#f5a02a" stroke-width="1.6" stroke-linejoin="miter" stroke-miterlimit="3"/><polyline points="598.9,957.4 599.8,962.0 593.7,961.7 597.7,964.3 596.4,968.7 589.7,970.6 588.6,965.3 594.8,966.6 599.2,963.7 595.9,965.7 597.5,970.0 600.3,968.7 607.1,973.1 606.1,970.4 609.9,966.8 608.0,969.8 608.1,971.9 598.0,974.9 597.9,971.3 599.6,968.7 601.9,965.4 595.1,966.1 590.6,963.3" fill="none" stroke="#f5a02a" stroke-width="1.6" stroke-linejoin="miter" stroke-miterlimit="3"/><polyline points="599.2,958.3 594.5,951.6 594.3,946.8 600.9,945.6 594.1,941.9 594.6,943.8 592.9,942.5 598.7,942.4 601.4,942.3 595.2,941.1 598.4,939.7 599.0,937.7 601.7,942.0 598.0,937.7 600.7,944.9 593.9,943.9 593.1,945.3 591.7,946.3 593.9,950.5 592.8,950.2 592.4,956.8 591.5,955.2 591.6,955.8" fill="none" stroke="#f5a02a" stroke-width="1.6" stroke-linejoin="miter" stroke-miterlimit="3"/><polyline points="598.4,958.0 602.9,957.7 597.8,956.5 594.3,949.9 590.6,947.0 591.5,946.2 597.3,951.3 594.3,958.1 591.4,955.0 588.4,954.0 583.6,952.3 586.7,953.8 590.3,951.6 587.7,956.5 590.8,962.3 595.1,964.4 590.8,965.0 590.5,966.0 586.4,967.6 582.9,967.7 582.6,960.2 583.3,965.6 584.1,958.3" fill="none" stroke="#1fe01f" stroke-width="1.6" stroke-linejoin="miter" stroke-miterlimit="3"/><polyline points="598.8,956.9 590.1,952.5 595.0,953.1 594.6,953.8 598.0,950.2 597.8,947.2 592.1,951.0 590.0,949.1 587.2,953.9 588.9,953.2 589.7,961.5 583.2,960.3 581.9,964.2 578.9,963.6 581.8,960.6 583.5,959.0 577.7,960.1 577.1,954.5 579.3,956.5 579.9,955.7 580.9,951.8 580.8,945.8 579.8,951.7" fill="none" stroke="#1fe01f" stroke-width="1.6" stroke-linejoin="miter" stroke-miterlimit="3"/><polyline points="598.0,958.1 596.8,965.2 601.4,967.4 605.5,971.4 606.5,973.3 605.0,973.1 604.9,973.2 607.1,968.4 610.4,972.0 603.9,971.8 598.7,977.0 597.1,975.2 595.5,972.9 593.2,974.6 598.1,975.9 600.8,976.1 595.3,975.6 593.9,979.0 596.0,978.8 592.9,969.2 597.4,963.3 597.9,959.3 597.2,961.3" fill="none" stroke="#1fe01f" stroke-width="1.6" stroke-linejoin="miter" stroke-miterlimit="3"/><polyline points="598.4,956.5 598.1,956.1 593.0,955.1 599.5,961.7 598.9,961.8 597.8,963.2 601.0,966.3 595.7,959.2 593.5,953.9 598.2,953.0 600.5,962.8 594.6,959.8 598.7,958.3 601.7,962.1 603.8,967.1 605.4,966.9 607.8,963.7 602.4,965.2 601.4,966.4 599.1,968.9 601.4,966.2 600.0,964.2 599.0,966.3" fill="none" stroke="#f5a02a" stroke-width="1.6" stroke-linejoin="miter" stroke-miterlimit="3"/><polyline points="598.1,957.0 599.7,957.2 597.8,955.5 597.9,952.5 594.2,957.4 593.6,960.1 596.3,963.8 595.6,963.4 600.7,961.5 597.6,961.1 593.2,960.7 598.8,963.3 602.8,965.8 600.2,963.4 600.2,961.5 603.7,959.1 603.1,960.5 599.2,963.0 600.6,960.6" fill="none" stroke="#000000" stroke-width="1.6" stroke-linejoin="miter" stroke-miterlimit="3"/><polyline points="597.9,956.9 601.4,957.3 602.3,959.1 604.3,960.8 601.1,964.7 606.2,965.9 606.3,966.3 604.0,962.7 603.2,963.8 608.0,965.2 610.4,964.9 611.5,964.8 612.3,964.7 613.2,964.0 607.6,959.5 607.9,956.3 609.5,955.7 610.1,957.6 608.2,960.8" fill="none" stroke="#000000" stroke-width="1.6" stroke-linejoin="miter" stroke-miterlimit="3"/><polyline points="598.6,957.3 596.0,950.8 594.0,951.0 596.7,949.1 594.6,955.7 603.1,960.6 605.9,965.4 606.4,964.8 607.5,961.5 601.9,964.8 602.6,962.5 604.7,963.8 602.6,957.9 603.6,958.9 603.0,957.9 598.6,957.8 592.3,964.1 592.1,962.2 593.4,959.6 595.9,964.8 598.6,959.0 597.6,957.6 593.7,952.7" fill="none" stroke="#f5a02a" stroke-width="1.6" stroke-linejoin="miter" stroke-miterlimit="3"/><polyline points="598.4,957.6 609.3,961.3 606.2,957.1 607.0,959.5 607.3,962.9 610.1,962.1 608.1,953.7 610.1,952.0 610.3,948.8 609.5,953.7 613.3,955.4 611.6,956.6 613.3,959.0 608.6,957.1 613.7,948.0 612.7,950.6 615.2,949.9 614.4,949.2 616.7,948.9 614.9,949.9 615.3,946.6 613.7,944.6 614.1,951.7" fill="none" stroke="#f5a02a" stroke-width="1.6" stroke-linejoin="miter" stroke-miterlimit="3"/><polyline points="597.5,957.3 594.8,958.6 596.9,962.2 599.6,960.4 597.3,961.1 600.2,957.9 596.6,955.2 603.5,952.6 603.4,950.8 599.6,953.9 599.5,954.0 604.2,950.9 606.9,955.1 601.0,951.7 602.1,949.9 594.3,952.7 595.9,957.1 592.3,954.7 588.0,960.3 595.7,958.5 593.0,959.2 592.9,955.1 592.0,950.8" fill="none" stroke="#f5a02a" stroke-width="1.6" stroke-linejoin="miter" stroke-miterlimit="3"/><polyline points="599.3,958.4 601.5,961.4 602.2,960.7 599.9,969.8 601.9,968.5 602.5,967.2 599.8,962.8 599.8,966.1 598.7,965.5 598.1,960.4 600.7,955.7 598.4,961.3 598.0,961.9 602.7,963.7 599.9,959.4 593.0,963.2 592.5,968.2" fill="none" stroke="#f5a02a" stroke-width="1.6" stroke-linejoin="miter" stroke-miterlimit="3"/><polyline points="598.5,956.7 592.0,954.4 594.6,950.4 598.8,951.9 606.0,951.6 605.7,948.3 609.4,951.6 609.6,951.0 610.1,951.4 602.3,953.2 603.1,950.7 604.9,949.2 600.1,952.2 599.1,946.5 602.6,949.6 606.5,943.1 608.0,945.7 611.0,946.1 614.3,948.1 613.3,946.8 607.8,952.6 608.5,950.3 604.5,948.3" fill="none" stroke="#f5a02a" stroke-width="1.6" stroke-linejoin="miter" stroke-miterlimit="3"/><polyline points="599.1,957.8 600.5,959.1 600.3,954.4 595.8,949.6 594.7,960.0 596.3,956.4 600.3,954.9 604.2,958.8 606.3,957.5 604.8,957.3 604.9,957.6 603.3,953.6 607.6,955.3 603.7,958.2 602.4,958.5 598.6,957.9 600.4,956.6 599.5,956.9 597.9,959.7" fill="none" stroke="#000000" stroke-width="1.6" stroke-linejoin="miter" stroke-miterlimit="3"/><polyline points="599.2,957.2 604.1,959.5 603.6,954.0 600.2,951.4 594.6,955.3 594.7,949.3 596.0,945.1 593.9,943.3 596.5,942.9 596.4,953.3 596.3,949.8 598.4,951.8 604.2,946.3 605.1,949.1 606.2,953.5 597.1,953.6 594.6,950.9 595.0,947.8 590.9,949.1 600.2,946.7 602.0,946.3 605.6,949.6 607.3,952.7" fill="none" stroke="#f5a02a" stroke-width="1.6" stroke-linejoin="miter" stroke-miterlimit="3"/><polyline points="598.6,957.8 603.5,964.1 602.1,956.9 597.9,964.0 597.7,960.4 597.5,965.4 594.5,965.1 597.7,964.0 598.2,960.7 594.1,955.4 593.2,954.8 593.5,956.5 592.5,959.3 595.4,956.9 591.9,955.8 597.9,955.0 598.0,956.9" fill="none" stroke="#f5a02a" stroke-width="1.6" stroke-linejoin="miter" stroke-miterlimit="3"/><polyline points="598.9,957.3 597.5,959.0 598.1,960.6 591.2,964.7 594.0,963.0 591.8,960.0 588.5,959.6 594.0,962.7 592.4,958.8 589.3,957.7 588.9,958.9 593.9,967.0 591.0,962.0 592.7,964.4 592.9,965.5 595.5,962.4 603.3,963.0" fill="none" stroke="#f5a02a" stroke-width="1.6" stroke-linejoin="miter" stroke-miterlimit="3"/><polyline points="598.3,957.8 600.3,960.6 603.6,959.8 599.0,955.9 601.5,959.1 599.9,953.2 598.6,952.9 594.3,950.7 599.4,953.6 599.3,963.3 600.9,960.7 600.2,957.2 600.2,961.0 604.7,966.0 603.5,959.3 601.4,965.0 601.2,965.7 598.7,974.3 595.9,956.9 600.8,958.7 600.2,962.5 593.3,966.9 587.1,965.3" fill="none" stroke="#f5a02a" stroke-width="1.6" stroke-linejoin="miter" stroke-miterlimit="3"/><polyline points="598.3,958.3 601.3,964.9 598.3,967.9 591.2,966.5 588.5,958.6 592.3,964.2 593.2,961.3 596.1,967.5 602.5,964.5 603.3,961.8 608.7,955.7 605.2,950.0 606.2,949.8 599.3,945.2 601.1,946.1 594.3,947.7 597.0,945.2 593.5,951.9 594.7,948.9 594.7,952.3 583.5,955.0 585.0,960.7 592.5,956.7" fill="none" stroke="#f5a02a" stroke-width="1.6" stroke-linejoin="miter" stroke-miterlimit="3"/><polyline points="597.9,956.6 599.6,959.3 599.0,957.4 600.9,957.1 602.3,960.4 592.1,955.3 584.8,952.9 580.3,953.0 578.6,953.4 583.6,954.8 578.3,954.8 577.5,963.8 580.4,960.6 583.8,958.9 582.9,958.2 585.7,961.3 581.9,965.0 582.6,964.9 582.6,962.6 581.9,966.8 584.8,963.2 589.1,960.6 591.4,963.9" fill="none" stroke="#f5a02a" stroke-width="1.6" stroke-linejoin="miter" stroke-miterlimit="3"/><polyline points="598.7,957.9 600.5,954.9 597.6,959.0 591.3,960.9 597.0,966.9 598.9,966.5 593.0,968.7 584.3,969.8 589.4,973.8 587.2,977.9 581.1,973.9 579.1,970.1 578.7,971.1 575.7,970.0 575.2,970.7 572.5,964.0 576.3,953.4 578.1,951.6 581.3,953.2 579.3,961.3 572.0,955.0 579.3,946.5 581.6,952.1" fill="none" stroke="#1fe01f" stroke-width="1.6" stroke-linejoin="miter" stroke-miterlimit="3"/><polyline points="597.7,958.0 600.4,961.8 609.2,964.9 608.5,969.5 606.0,970.0 603.0,972.7 599.7,974.9 600.5,968.1 595.6,964.4 596.3,963.5 591.9,969.5 584.7,972.7 581.4,970.6 586.6,970.3 584.5,967.4 586.5,972.1 588.1,973.6 590.0,967.8 592.6,966.6 592.7,969.5 587.7,966.8 583.9,963.1 579.3,962.5" fill="none" stroke="#f5a02a" stroke-width="1.6" stroke-linejoin="miter" stroke-miterlimit="3"/><polyline points="599.1,956.7 596.5,959.0 595.6,958.4 601.5,957.0 605.6,955.6 607.7,951.5 612.3,953.7 611.4,951.4 615.7,956.2 611.5,955.2 610.3,958.0 611.5,963.1 609.5,964.0 612.2,962.0 607.8,956.8 605.9,955.4 606.4,953.9 606.2,951.3 604.1,951.8" fill="none" stroke="#000000" stroke-width="1.6" stroke-linejoin="miter" stroke-miterlimit="3"/><polyline points="598.3,957.5 594.5,961.1 596.1,957.5 594.2,954.8 598.9,955.8 597.1,958.9 596.7,951.0 596.2,951.4 588.1,943.3 584.6,945.4 590.2,944.2 593.5,939.4 596.1,939.4 599.4,942.2 597.8,945.4 592.8,947.4 593.1,953.2 598.4,949.0 598.1,948.5 590.7,943.2 586.5,943.3 590.2,940.7 596.5,942.9" fill="none" stroke="#f5a02a" stroke-width="1.6" stroke-linejoin="miter" stroke-miterlimit="3"/><polyline points="598.6,957.0 600.4,952.3 596.6,948.6 595.4,951.3 596.6,950.6 598.5,953.7 592.3,954.7 595.9,956.2 593.2,960.6 597.9,960.9 606.9,957.9 603.4,955.2 602.9,958.1 600.3,960.2 601.9,954.4 597.2,952.4 595.0,950.5" fill="none" stroke="#f5a02a" stroke-width="1.6" stroke-linejoin="miter" stroke-miterlimit="3"/><polyline points="599.2,956.5 599.3,958.4 596.4,957.7 598.1,970.5 598.2,974.5 603.6,970.1 608.0,973.8 612.7,971.1 612.4,977.2 613.6,975.9 608.6,974.4 613.7,981.0 606.5,981.0 605.1,984.1 604.4,982.6 606.5,979.8 610.0,971.7 605.2,971.9 605.4,968.4 600.6,981.0 610.3,978.4 606.5,970.9 608.8,967.2" fill="none" stroke="#1fe01f" stroke-width="1.6" stroke-linejoin="miter" stroke-miterlimit="3"/><polyline points="597.7,956.7 593.8,957.8 594.4,962.6 592.5,960.2 596.2,960.7 606.2,964.2 608.1,962.1 604.6,958.0 603.4,952.8 605.0,951.9 605.4,952.0 604.6,960.4 604.8,955.6 607.8,956.1 609.7,962.5 609.9,963.8 607.4,966.3 605.4,969.9 605.8,971.9 599.7,963.0 604.5,954.3 609.8,954.9 612.4,956.6" fill="none" stroke="#1fe01f" stroke-width="1.6" stroke-linejoin="miter" stroke-miterlimit="3"/><polyline points="598.9,956.4 593.1,948.3 593.1,947.4 591.7,945.0 597.7,950.8 599.0,951.3 598.1,945.9 591.6,945.4 596.0,946.7 601.0,945.5 602.3,948.9 598.7,950.9 600.2,955.7 604.9,953.7 599.8,954.2 604.5,947.9 605.6,947.1 599.0,952.4 594.4,950.4 594.2,948.6 584.8,953.5 586.6,957.4 588.1,960.4" fill="none" stroke="#f5a02a" stroke-width="1.6" stroke-linejoin="miter" stroke-miterlimit="3"/><polyline points="598.6,957.5 595.3,959.4 597.3,959.2 599.4,958.3 602.6,958.0 597.5,954.5 597.7,953.8 600.7,949.6 601.5,948.4 597.9,950.5 597.8,949.4 598.9,954.2 599.9,957.9 599.3,955.6 598.8,956.2 601.9,949.7 606.7,955.2 606.7,954.5 611.9,959.2" fill="none" stroke="#000000" stroke-width="1.6" stroke-linejoin="miter" stroke-miterlimit="3"/><polyline points="598.6,957.4 603.0,963.1 604.0,960.6 601.9,966.6 602.7,975.8 595.3,976.5 591.8,972.8 589.8,976.6 596.3,972.1 601.1,976.0 596.6,972.7 597.9,976.8 595.0,978.9 600.2,973.4 599.8,973.3 602.4,973.2 597.8,978.0 596.4,975.2 599.6,978.2 601.1,977.7 594.1,979.4 590.4,980.2 586.6,975.9" fill="none" stroke="#1fe01f" stroke-width="1.6" stroke-linejoin="miter" stroke-miterlimit="3"/><polyline points="599.1,957.0 598.0,953.4 608.5,957.6 601.5,956.0 601.5,956.9 600.9,960.0 601.6,952.3 601.3,947.9 600.1,951.0 600.7,952.6 604.6,950.1 604.2,950.5 607.4,956.5 597.1,962.2 606.2,962.8 608.6,957.0 603.9,952.6 608.0,954.5 601.3,965.2 606.5,962.8 609.8,966.9 610.2,964.7 609.9,969.1" fill="none" stroke="#1fe01f" stroke-width="1.6" stroke-linejoin="miter" stroke-miterlimit="3"/><polyline points="599.0,957.5 598.8,961.9 596.4,970.5 594.4,965.3 597.4,968.3 599.2,960.1 599.0,953.8 598.4,954.6 602.1,954.2 598.6,948.8 598.8,949.1 601.1,950.8 606.9,946.7 612.4,944.4 609.5,946.8 610.8,944.4 609.7,946.6 598.7,945.2 594.9,953.0 598.9,955.3 589.2,959.8 586.2,964.7 586.5,969.0" fill="none" stroke="#f5a02a" stroke-width="1.6" stroke-linejoin="miter" stroke-miterlimit="3"/><polyline points="597.8,957.3 596.2,957.4 598.9,956.3 601.3,965.1 600.7,966.1 601.5,964.3 600.0,959.1 599.7,957.7 598.5,957.6 604.0,956.0 602.7,963.3 598.6,960.8 595.7,962.6 596.1,955.4 593.7,952.0 591.3,950.8 592.7,948.4" fill="none" stroke="#f5a02a" stroke-width="1.6" stroke-linejoin="miter" stroke-miterlimit="3"/><polyline points="598.2,957.9 604.9,950.4 606.8,948.6 604.5,949.0 606.2,955.3 608.8,953.2 609.3,952.4 611.4,950.0 601.2,947.6 599.6,954.8 606.9,957.2 611.4,961.8 599.5,962.6 598.0,964.7 594.6,970.9 604.4,975.6 600.9,972.6 596.1,970.4 599.9,965.8 597.3,959.3 596.7,964.3" fill="none" stroke="#1f80e0" stroke-width="1.6" stroke-linejoin="miter" stroke-miterlimit="3"/><polyline points="598.4,957.6 603.7,961.9 600.9,964.8 593.9,963.9 593.4,965.1 600.5,957.5 600.8,955.8 591.3,958.5 592.4,957.4 598.0,961.3 599.9,962.8 595.4,963.7 600.6,960.1 598.9,957.6 599.0,955.6 596.6,956.0 592.1,957.0 589.4,958.8 589.7,959.5 588.8,956.4 590.5,955.7 595.5,954.9 596.5,954.8" fill="none" stroke="#1fe01f" stroke-width="1.6" stroke-linejoin="miter" stroke-miterlimit="3"/><polyline points="599.2,957.8 603.5,961.5 604.8,963.1 601.8,961.1 605.8,958.8 605.0,955.9 611.4,954.5 610.9,953.0 610.2,953.6 607.9,952.3 614.0,956.8 610.5,954.6 609.8,961.0 610.9,959.9 605.7,956.3 610.9,954.8 604.4,956.7 607.6,953.1 614.0,952.6" fill="none" stroke="#000000" stroke-width="1.6" stroke-linejoin="miter" stroke-miterlimit="3"/><polyline points="597.7,956.5 597.5,962.4 594.7,961.3 595.5,960.1 599.8,955.3 599.3,952.0 595.6,954.5 598.3,959.0 596.9,959.3 597.8,954.8 601.6,954.1 600.2,952.9 601.1,955.6 599.0,956.2 599.2,960.3 598.0,959.5 597.6,956.3 596.3,956.1 597.4,963.3" fill="none" stroke="#000000" stroke-width="1.6" stroke-linejoin="miter" stroke-miterlimit="3"/><polyline points="598.3,957.9 590.0,957.7 590.5,954.5 586.2,949.4 582.6,944.2 585.8,947.4 590.6,948.4 587.5,949.9 590.1,950.5 583.5,951.2 585.4,948.9 581.9,947.5 582.2,952.8 584.5,953.9 591.3,959.2 599.0,962.6 593.4,963.9 594.1,959.2 597.9,961.5 602.6,957.3 598.7,948.9 602.2,940.5 598.7,940.9" fill="none" stroke="#f5a02a" stroke-width="1.6" stroke-linejoin="miter" stroke-miterlimit="3"/><polyline points="598.7,957.8 604.3,961.7 600.9,966.9 599.4,964.9 602.5,962.1 601.1,968.3 594.3,961.9 600.2,960.2 601.5,958.0 599.2,948.8 589.5,943.6 595.3,941.1 591.8,957.4 583.6,956.7 581.3,952.5 577.2,958.4 577.6,957.4 580.4,957.8 586.7,953.3 590.4,953.9 592.3,957.5 593.6,959.4 598.8,958.4" fill="none" stroke="#f5a02a" stroke-width="1.6" stroke-linejoin="miter" stroke-miterlimit="3"/><polyline points="598.3,957.6 602.9,951.9 605.9,960.2 605.6,959.9 608.4,960.2 604.5,967.1 599.7,959.9 601.0,958.1 598.5,956.9 607.4,955.5 612.5,957.5 609.5,954.6 607.9,950.5 604.7,950.5 605.9,953.8 602.9,948.4 601.9,954.6 607.7,958.4 608.1,955.4 605.1,951.0 607.9,949.7 608.3,950.7 609.5,954.6" fill="none" stroke="#f5a02a" stroke-width="1.6" stroke-linejoin="miter" stroke-miterlimit="3"/><polyline points="599.2,957.4 599.1,953.7 592.4,956.0 591.0,960.1 591.2,956.3 591.1,953.0 593.5,953.7 597.2,951.6 596.2,951.1 593.9,950.3 599.9,953.5 602.7,949.9 603.5,956.6 603.5,952.9 604.6,952.6 597.1,952.1 602.3,957.2 604.0,958.6 601.8,958.9" fill="none" stroke="#000000" stroke-width="1.6" stroke-linejoin="miter" stroke-miterlimit="3"/><polyline points="597.6,957.8 596.5,954.9 595.4,955.4 600.2,958.4 602.4,957.1 610.4,948.8 611.5,952.1 611.3,954.0 611.1,955.4 610.3,956.8 612.6,956.4 612.8,952.3 612.3,955.6 608.0,959.1 601.6,953.8 602.7,954.9 590.3,958.5 594.7,954.7 585.9,956.4 589.6,964.5 584.2,966.1 587.7,966.2 593.1,968.8" fill="none" stroke="#f5a02a" stroke-width="1.6" stroke-linejoin="miter" stroke-miterlimit="3"/><polyline points="598.6,956.6 597.2,960.5 607.3,967.6 606.0,970.2 606.3,972.3 604.7,972.7 601.0,969.6 594.5,973.3 595.1,972.1 593.3,969.0 588.4,973.4 592.2,974.1 591.2,967.4 587.8,961.3 589.8,966.4 590.1,970.9 593.5,968.7 596.8,969.1 594.3,966.9 588.1,963.1 589.4,954.4 587.1,954.8 585.5,950.6" fill="none" stroke="#f5a02a" stroke-width="1.6" stroke-linejoin="miter" stroke-miterlimit="3"/><polyline points="598.3,956.9 594.2,955.5 589.3,953.2 586.8,956.4 589.4,955.2 592.7,955.6 591.5,955.4 587.0,958.5 591.6,962.5 595.0,963.8 593.6,962.0 592.8,962.5 598.0,963.8 595.5,960.0 593.9,961.0 600.1,959.6 597.0,962.6" fill="none" stroke="#f5a02a" stroke-width="1.6" stroke-linejoin="miter" stroke-miterlimit="3"/><polyline points="1000.2,944.3 1000.1,939.9 1001.6,935.8 1005.7,934.7 1008.7,931.6 1014.3,928.8 1012.9,924.3 1010.1,920.4 1010.4,916.7 1008.7,913.4 1011.5,912.0 1014.6,909.3 1018.5,907.8 1013.8,904.0 1008.7,900.7 1005.2,901.9 1001.6,902.1 998.8,896.5 997.0,891.0 996.0,885.3 993.6,881.4 993.9,876.9 995.1,873.4 996.0,869.8" fill="none" stroke="#1a932a" stroke-width="1.6" stroke-linejoin="miter" stroke-miterlimit="3"/><polyline points="1000.2,947.1 996.9,944.8 994.6,941.5 990.9,939.5 989.0,935.8 984.6,936.6 980.6,938.7 976.2,938.3 972.1,940.1 971.8,936.1 969.3,933.0 974.9,931.6 979.0,930.0 983.4,930.2 987.4,928.3 991.8,927.4 986.2,924.6 982.1,922.8 977.8,921.8 972.8,922.1 967.9,921.8 972.1,919.0 971.9,914.4 969.3,910.6 966.3,916.0 960.9,919.0" fill="none" stroke="#1a932a" stroke-width="1.6" stroke-linejoin="miter" stroke-miterlimit="3"/><polyline points="1000.2,944.3 998.4,939.7 997.9,934.8 996.0,930.2 994.0,924.0 991.1,918.1 989.0,912.0 984.8,913.4 988.2,919.0 991.8,924.6 993.2,929.5 995.8,933.9 997.4,938.7" fill="none" stroke="#000000" stroke-width="1.6" stroke-linejoin="miter" stroke-miterlimit="3"/><polyline points="1017.1,938.7 1013.9,934.7 1012.6,929.4 1008.7,926.0 1004.4,921.8 1000.2,924.6 996.7,925.4 993.2,926.0" fill="none" stroke="#000000" stroke-width="1.6" stroke-linejoin="miter" stroke-miterlimit="3"/><polyline points="993.2,961.1 988.6,958.6 983.4,958.3 977.0,957.1 972.1,952.7 967.5,950.9 962.8,952.1 958.1,952.7 953.9,953.2 949.7,952.7 948.7,948.5 948.3,944.3 949.3,940.7 952.5,938.7 952.5,933.0" fill="none" stroke="#000000" stroke-width="1.6" stroke-linejoin="miter" stroke-miterlimit="3"/><polyline points="1000.2,961.1 1005.5,964.2 1010.5,967.5 1014.3,972.4 1018.6,974.4 1021.2,978.7 1025.5,980.8 1029.4,984.1 1033.9,986.4 1037.7,991.1 1042.4,994.8 1046.5,995.9 1050.8,996.2 1047.6,999.4 1043.8,1001.9 1039.4,996.9 1033.9,993.4 1030.7,988.8 1025.5,986.4" fill="none" stroke="#000000" stroke-width="1.6" stroke-linejoin="miter" stroke-miterlimit="3"/><polyline points="1000.2,958.3 996.5,955.2 995.0,950.5 991.8,947.1 989.0,941.5" fill="none" stroke="#000000" stroke-width="1.6" stroke-linejoin="miter" stroke-miterlimit="3"/><polyline points="1000.2,961.1 996.0,956.9 990.9,954.4 986.2,951.3 981.8,948.0 976.3,947.1 971.1,945.8 966.5,942.9 962.0,942.2 958.1,940.1 952.5,937.2" fill="none" stroke="#f5a02a" stroke-width="1.6" stroke-linejoin="miter" stroke-miterlimit="3"/><polyline points="1008.7,951.3 1010.5,945.8 1014.3,941.5 1018.3,938.5 1021.3,934.4 1025.9,932.0 1028.3,927.4 1033.9,927.4 1039.5,924.5 1045.2,921.8 1043.3,918.8 1041.0,916.2 1047.3,916.5 1053.6,916.2 1052.2,920.4 1047.1,919.7 1042.4,921.8 1039.9,924.4 1036.7,926.0 1032.4,926.1 1028.3,927.4" fill="none" stroke="#f5a02a" stroke-width="1.6" stroke-linejoin="miter" stroke-miterlimit="3"/><polyline points="1008.7,975.2 1010.4,978.7 1014.3,979.4 1018.7,981.6 1023.3,983.3 1028.3,983.6 1034.2,983.9 1039.6,986.4 1045.3,985.7 1050.8,987.8 1055.9,989.0 1061.1,986.4 1066.2,987.8" fill="none" stroke="#f5a02a" stroke-width="1.6" stroke-linejoin="miter" stroke-miterlimit="3"/><polyline points="1000.2,961.1 1006.0,964.7 1008.9,971.2 1014.3,975.2 1018.5,979.5 1023.1,983.3 1028.3,986.4 1032.9,989.4 1037.3,992.6 1042.4,994.8" fill="none" stroke="#f5a02a" stroke-width="1.6" stroke-linejoin="miter" stroke-miterlimit="3"/><polyline points="1000.2,975.2 996.1,977.5 993.8,982.2 989.0,983.6 986.2,986.4 987.0,991.3 990.4,994.8 992.1,1000.3 991.8,1006.1 993.5,1011.0 991.8,1015.9 994.2,1011.4 997.4,1007.5 1003.0,1004.7 1005.8,1000.4 1004.9,997.0 1004.4,993.4 1000.7,990.1 997.4,986.4" fill="none" stroke="#f0301a" stroke-width="1.6" stroke-linejoin="miter" stroke-miterlimit="3"/><polyline points="1014.3,952.7 1019.8,951.2 1022.8,945.7 1028.3,944.3 1033.2,943.2 1038.1,944.3 1039.6,949.9 1033.9,952.7 1030.1,954.5 1028.3,958.3 1032.9,959.6 1036.7,962.5 1041.1,959.2 1046.6,958.3" fill="none" stroke="#f0301a" stroke-width="1.6" stroke-linejoin="miter" stroke-miterlimit="3"/><polyline points="986.2,963.9 981.9,966.7 977.8,969.6 972.1,966.7 967.7,963.8 962.3,963.9 958.9,965.7 955.3,966.7 952.0,965.0 948.3,965.3 948.0,961.0 946.9,956.9" fill="none" stroke="#e040d8" stroke-width="1.6" stroke-linejoin="miter" stroke-miterlimit="3"/><polyline points="1000.2,958.3 995.5,959.4 990.9,957.2 986.2,958.3 983.4,963.9" fill="none" stroke="#1fe01f" stroke-width="1.6" stroke-linejoin="miter" stroke-miterlimit="3"/><polyline points="1000.2,972.4 995.0,975.2 989.0,975.2 983.4,972.4 985.6,976.9 989.0,980.8" fill="none" stroke="#1a932a" stroke-width="1.6" stroke-linejoin="miter" stroke-miterlimit="3"/><polyline points="1017.1,972.4 1020.3,976.8 1023.4,981.3 1025.5,986.4 1028.2,990.7 1031.1,994.8" fill="none" stroke="#1a932a" stroke-width="1.6" stroke-linejoin="miter" stroke-miterlimit="3"/><polyline points="1000.0,962.2 1000.9,963.2 1006.0,966.5 1015.6,966.1 1016.2,968.0 1019.0,964.0 1010.5,960.4 1012.3,955.2 1016.4,954.8 1012.5,955.5 1007.2,956.2 1012.4,953.7 1015.2,946.1 1006.5,943.3 1008.9,941.7 1014.2,941.0 1008.9,941.8 999.2,942.0 999.2,945.0 998.0,949.3 1002.9,952.1" fill="none" stroke="#1a932a" stroke-width="1.6" stroke-linejoin="miter" stroke-miterlimit="3"/><polyline points="999.3,961.7 998.0,959.7 995.4,960.1 1000.5,956.1 1008.0,957.0 1006.3,958.0 1002.7,961.0 1004.3,960.5 1006.0,968.1 1003.7,967.2 998.1,969.8 994.8,976.5 993.2,975.7 980.2,972.9 979.0,974.3 986.4,976.6 990.1,975.0 995.2,973.8 992.5,979.7 998.7,978.3 994.5,975.0" fill="none" stroke="#1a932a" stroke-width="1.6" stroke-linejoin="miter" stroke-miterlimit="3"/><polyline points="1000.2,961.4 999.4,963.3 999.2,958.2 1003.4,960.2 998.4,958.5 1001.5,968.9 1008.4,970.1 1002.0,964.9 1008.8,966.9 1007.9,969.8 1006.1,969.2 1004.7,971.6 1004.4,968.2 1006.6,964.2 1008.3,960.3 1002.3,959.3 995.5,956.2 993.9,952.7 989.5,961.5 989.4,956.6 992.2,953.7" fill="none" stroke="#000000" stroke-width="1.6" stroke-linejoin="miter" stroke-miterlimit="3"/><polyline points="1000.3,961.9 1003.4,965.4 1006.5,963.8 1010.9,961.9 1015.3,960.3 1013.0,957.8 1026.3,959.9 1019.6,960.3 1016.8,952.0 1013.5,962.8 1023.7,971.4 1012.1,968.8 1010.1,972.7 1011.0,977.2 1013.7,977.8 1010.7,982.4 1005.4,984.9 1001.7,985.6 1003.3,986.3 1008.3,985.8 1008.9,975.6 1012.0,966.3 1007.6,971.1 1005.9,974.5 1007.3,972.0 1002.2,965.9 1001.4,965.0" fill="none" stroke="#f5a02a" stroke-width="1.6" stroke-linejoin="miter" stroke-miterlimit="3"/><polyline points="1000.3,961.6 1003.9,959.6 1013.1,960.1 1011.0,961.4 1011.5,962.7 1010.1,962.7 1011.9,964.4 1008.6,962.1 1005.5,965.3 1004.3,954.9 998.9,958.3 995.7,964.7 1004.3,969.1 1005.3,969.3 1005.2,972.6 997.6,970.2 1002.6,976.7 1005.7,981.6 1002.4,978.3" fill="none" stroke="#f5a02a" stroke-width="1.6" stroke-linejoin="miter" stroke-miterlimit="3"/><polyline points="1000.8,961.0 995.1,959.6 989.7,957.3 994.1,958.9 996.0,954.1 1002.0,966.3 1001.5,966.5 1003.6,974.0 1013.3,972.5 1008.4,979.0 1013.8,981.2 1014.9,978.0 1014.0,969.3 1007.1,965.9 1008.8,956.0 1005.6,955.1 1002.0,958.4 1001.2,959.4 1005.3,963.9 1014.6,957.6 1014.5,950.6 1014.3,958.2 1013.8,957.2 1011.1,957.6 1011.7,945.6 1009.4,951.4 1003.8,950.3" fill="none" stroke="#f5a02a" stroke-width="1.6" stroke-linejoin="miter" stroke-miterlimit="3"/><polyline points="999.5,961.6 1004.1,966.0 1008.0,965.3 1008.9,966.4 1012.4,962.0 1009.2,963.9 1015.2,964.1 1011.9,963.9 1013.7,960.7 1009.5,957.7 1008.3,961.1 1013.8,957.7 1012.2,961.1 1005.6,953.0 1004.9,958.1 1007.2,955.7 1002.9,960.8 1000.6,956.7 998.5,961.6" fill="none" stroke="#f5a02a" stroke-width="1.6" stroke-linejoin="miter" stroke-miterlimit="3"/><polyline points="999.9,961.0 999.7,966.7 996.1,962.5 998.5,958.3 998.2,960.3 999.4,967.2 995.1,977.1 1003.4,978.5 1004.7,981.4 1001.1,978.7 1011.5,979.0 1015.2,978.6 1012.4,976.9 1010.1,978.8 1011.4,973.9 1009.4,973.4 1006.2,968.2 1000.2,968.4 1007.4,980.0 1009.0,975.9 1012.2,979.3 1004.8,983.2 1003.5,986.3 997.6,991.1 996.7,992.2 990.8,989.5 991.0,991.9" fill="none" stroke="#f5a02a" stroke-width="1.6" stroke-linejoin="miter" stroke-miterlimit="3"/><polyline points="1000.0,961.0 992.5,954.0 994.3,952.6 992.3,964.8 999.9,969.8 1003.8,967.5 1004.7,963.8 1006.9,967.7 1007.6,970.7 1008.3,974.9 1008.8,971.9 1008.0,976.4 1004.9,974.4 1005.9,976.9 999.9,978.0 1006.0,983.4 1001.1,986.6 1001.1,985.6 1001.2,986.9 1005.4,987.9 1000.7,983.6 997.3,982.5 997.3,982.5 1004.1,973.2 1001.9,966.9 1002.4,963.8 1001.9,956.5" fill="none" stroke="#f5a02a" stroke-width="1.6" stroke-linejoin="miter" stroke-miterlimit="3"/><polyline points="999.3,961.5 998.7,951.2 1002.1,947.0 1002.2,940.7 1000.8,944.1 1007.0,946.9 997.7,953.9 1002.9,955.6 1005.5,955.4 998.8,952.6 998.4,959.0 1001.5,968.8 1001.3,967.8 993.9,974.1 1000.1,967.3 999.0,972.6 998.2,977.8 996.1,981.6 996.3,985.6 994.7,986.6 987.4,977.2 992.0,978.2 992.1,978.9 991.3,971.1 985.1,972.1 988.4,972.4 990.6,978.4" fill="none" stroke="#f5a02a" stroke-width="1.6" stroke-linejoin="miter" stroke-miterlimit="3"/><polyline points="1000.6,961.4 1005.4,966.2 1006.8,961.6 1006.5,965.0 1015.3,954.8 1016.4,959.7 1017.2,965.1 1025.4,961.3 1021.3,960.6 1016.6,962.8 1016.7,961.0 1019.6,958.7 1027.7,962.4 1040.9,964.0 1033.9,961.8 1039.3,959.0 1033.2,955.9 1024.2,954.3 1019.3,957.2 1027.0,955.8 1038.4,953.5 1033.9,956.3 1032.5,960.0 1026.6,959.1 1033.1,963.9 1040.4,970.6 1036.8,968.3" fill="none" stroke="#f5a02a" stroke-width="1.6" stroke-linejoin="miter" stroke-miterlimit="3"/><polyline points="1000.1,960.9 993.1,967.6 994.4,974.3 995.6,975.6 999.9,972.0 1005.6,965.7 1012.2,967.0 1012.3,966.7 1011.8,957.3 1013.0,956.9 1008.2,953.4 1005.8,953.6 1007.5,950.4 1007.1,948.1 1010.0,949.7 1011.5,949.3 1014.2,952.2 1014.9,954.0 1015.7,950.0" fill="none" stroke="#f5a02a" stroke-width="1.6" stroke-linejoin="miter" stroke-miterlimit="3"/><polyline points="1000.3,961.9 996.1,962.9 990.2,960.7 983.7,961.1 985.7,959.8 982.2,958.6 979.4,954.0 983.0,956.8 986.8,966.3 991.8,972.3 989.0,970.6 991.6,972.3 994.6,972.8 990.6,976.9 982.5,978.2 979.7,975.4 977.0,969.9 983.4,967.8 985.1,965.5 985.7,963.6 986.9,959.0" fill="none" stroke="#000000" stroke-width="1.6" stroke-linejoin="miter" stroke-miterlimit="3"/><polyline points="1001.1,960.8 1001.4,958.8 1005.8,959.7 1010.5,954.1 1017.3,959.1 1014.7,961.4 1018.9,965.5 1019.0,963.2 1022.3,965.7 1021.2,970.0 1016.8,964.7 1016.6,966.0 1023.1,965.6 1025.7,962.0 1024.6,963.6 1024.8,961.8 1019.4,962.8 1021.5,961.1 1014.8,958.8" fill="none" stroke="#f5a02a" stroke-width="1.6" stroke-linejoin="miter" stroke-miterlimit="3"/><polyline points="1000.0,961.5 1000.3,962.9 1000.7,972.9 994.8,975.9 998.9,970.2 992.4,970.9 984.6,978.2 991.0,972.7 992.8,976.6 992.1,977.6 986.7,974.1 985.8,979.1 987.6,978.2 989.5,982.2 992.5,971.9 996.1,971.7 994.9,969.7 999.4,969.3 993.9,972.0 992.2,970.6 996.0,975.6 990.4,973.0 990.2,974.6 994.5,973.3 995.1,973.3" fill="none" stroke="#f0301a" stroke-width="1.6" stroke-linejoin="miter" stroke-miterlimit="3"/><polyline points="1001.1,960.7 1003.0,965.1 992.0,962.1 994.2,960.1 997.9,968.4 997.2,975.8 998.1,975.7 1004.2,982.0 993.1,984.7 987.6,984.0 982.0,980.7 986.0,985.5 984.8,979.8 983.4,974.8 981.2,966.5 979.0,973.8 977.2,967.1 991.2,966.4 995.0,952.1 1000.8,961.9 1001.8,961.0 1002.1,969.1 1002.6,972.5 990.9,970.0 985.1,969.4 983.2,969.9 994.0,964.5" fill="none" stroke="#f5a02a" stroke-width="1.6" stroke-linejoin="miter" stroke-miterlimit="3"/><polyline points="1000.9,960.9 999.8,963.2 1007.4,955.6 1004.9,961.8 1006.1,959.2 1006.3,959.6 1012.1,964.1 1013.3,966.3 1018.5,963.5 1026.8,965.4 1026.7,966.3 1019.9,966.1 1020.5,961.8 1016.4,961.2 1009.7,968.0 1014.6,970.2 1015.4,963.8 1016.6,958.0 1016.4,960.8 1017.4,964.5 1014.0,955.2 1003.0,958.0 1005.9,961.5 1003.8,957.3 990.7,951.9 986.1,964.1 991.0,958.4" fill="none" stroke="#f5a02a" stroke-width="1.6" stroke-linejoin="miter" stroke-miterlimit="3"/><polyline points="1000.2,961.3 1004.7,964.6 996.7,965.3 995.0,972.1 991.1,968.2 990.8,960.4 990.9,952.8 987.3,948.2 984.8,950.4 990.0,958.0 989.1,952.2 992.0,949.7 996.3,951.0 1001.5,950.4 1005.8,946.2 1002.4,950.8 996.1,949.9 992.2,943.4 997.0,945.2 1001.4,947.4 1001.5,949.1" fill="none" stroke="#1a932a" stroke-width="1.6" stroke-linejoin="miter" stroke-miterlimit="3"/><polyline points="1000.5,961.0 995.2,963.1 995.1,967.9 1002.4,968.1 999.8,962.0 994.5,957.1 999.2,952.1 1002.3,958.7 1002.4,965.7 1007.6,960.4 1010.6,962.8 1004.5,958.6 1006.8,955.5 999.1,953.8 1002.8,956.9 1005.4,957.8 997.2,956.6 1004.9,950.7 1000.8,947.3 1000.7,942.5 991.4,936.6 992.4,938.0 989.5,938.9 990.5,941.4 982.6,943.2 988.8,942.6 991.1,941.3" fill="none" stroke="#f5a02a" stroke-width="1.6" stroke-linejoin="miter" stroke-miterlimit="3"/><polyline points="1000.9,960.8 996.3,960.7 995.8,962.0 991.1,965.8 993.9,970.9 997.4,972.5 996.3,975.4 992.8,975.6 993.5,975.4 986.6,982.8 990.9,981.4 988.3,980.6 984.5,981.5 989.2,982.9 987.2,986.0 985.3,985.6 985.0,983.9 987.6,985.6 985.1,988.5 996.6,990.0 995.2,990.1 999.7,989.9 1005.4,983.8 996.0,984.8 994.8,983.0" fill="none" stroke="#f0301a" stroke-width="1.6" stroke-linejoin="miter" stroke-miterlimit="3"/><polyline points="1000.2,961.3 1003.9,956.2 1013.9,953.4 1014.2,950.8 1021.6,943.7 1026.9,943.2 1025.1,942.4 1027.3,945.1 1023.7,950.9 1028.8,957.9 1026.0,960.7 1024.5,960.5 1017.9,960.0 1028.2,970.9 1026.9,976.7 1030.6,970.7 1034.0,974.4 1034.1,975.4 1030.4,974.5 1028.2,976.5 1029.2,986.2 1022.3,983.1 1022.1,987.7 1021.3,981.3 1024.3,988.3 1020.2,991.0 1011.0,995.5" fill="none" stroke="#f5a02a" stroke-width="1.6" stroke-linejoin="miter" stroke-miterlimit="3"/><polyline points="1001.1,960.9 993.0,969.5 1000.0,969.4 994.3,964.0 989.7,960.8 982.0,963.8 982.9,961.7 984.2,953.4 987.9,957.5 987.7,956.2 988.2,946.6 991.7,948.5 997.1,944.4 999.2,943.2 999.6,938.7 994.7,938.5 997.2,944.5 989.8,942.5 987.5,944.2 986.7,942.1 984.9,947.5 984.2,947.0 982.8,948.1 989.3,948.2 990.0,946.7 991.7,948.1 997.5,951.5" fill="none" stroke="#f5a02a" stroke-width="1.6" stroke-linejoin="miter" stroke-miterlimit="3"/><polyline points="1000.4,960.8 996.4,965.7 992.5,969.3 992.0,975.8 991.5,978.8 989.2,978.0 990.8,979.6 992.1,978.3 997.0,986.4 995.3,984.6 992.5,984.9 990.1,983.3 990.5,980.7 990.9,976.2 992.3,974.4 993.8,982.1 992.6,979.4 989.5,983.3 995.0,984.1 996.3,986.1 997.4,985.9 995.9,983.1 994.1,983.1 996.2,985.7 995.0,977.6" fill="none" stroke="#f0301a" stroke-width="1.6" stroke-linejoin="miter" stroke-miterlimit="3"/><polyline points="1000.4,962.1 1005.4,960.9 1009.8,960.5 1013.8,957.3 1009.6,955.2 1007.0,955.8 1003.3,952.4 1001.9,948.8 1003.4,947.5 1003.3,942.7 1001.7,943.9 1001.3,943.2 1001.4,946.9 1009.2,946.1 1013.4,948.2 1012.3,952.2 1011.4,950.2 1012.1,949.0 1019.5,954.8" fill="none" stroke="#f5a02a" stroke-width="1.6" stroke-linejoin="miter" stroke-miterlimit="3"/><polyline points="999.9,961.0 1010.9,953.8 1013.2,952.3 1020.4,954.2 1026.0,955.7 1026.4,951.2 1023.3,952.4 1020.4,945.6 1015.0,946.6 1007.5,945.9 1017.0,944.1 1019.5,947.1 1018.7,945.8 1018.8,945.7 1013.9,944.6 1015.7,942.5 1005.3,943.4 1005.0,939.0 1003.6,940.4 1001.4,939.4 1004.1,947.5 1005.5,951.5 1003.4,949.9 1009.3,947.5 1005.6,952.9 1009.2,947.5 1009.5,944.9" fill="none" stroke="#f5a02a" stroke-width="1.6" stroke-linejoin="miter" stroke-miterlimit="3"/><polyline points="1000.7,960.7 998.0,965.3 991.3,967.5 993.2,970.1 994.5,976.4 1000.1,971.0 998.9,974.2 1001.8,980.2 993.4,976.2 998.4,972.7 1000.5,977.0 999.8,972.8 1003.0,973.5 1000.4,982.2 1004.5,981.8 1005.2,979.0 1008.9,971.1 1006.2,970.9 1009.4,968.8" fill="none" stroke="#f5a02a" stroke-width="1.6" stroke-linejoin="miter" stroke-miterlimit="3"/><polyline points="1001.0,961.1 999.0,956.6 994.9,952.9 996.7,953.2 1009.7,954.2 1015.9,951.6 1016.2,951.8 1021.5,947.3 1017.2,948.5 1009.8,944.7 1002.4,943.9 996.9,949.7 989.7,950.6 989.8,950.2 995.4,947.7 989.6,945.2 990.1,959.2 991.8,945.7 989.8,962.4 987.9,956.3 989.6,955.0 996.4,953.1 1000.7,952.4 1002.0,950.8 1008.1,955.0 1007.8,951.2 1011.6,949.1" fill="none" stroke="#f5a02a" stroke-width="1.6" stroke-linejoin="miter" stroke-miterlimit="3"/><polyline points="999.7,961.9 1000.6,960.1 1000.6,958.8 997.7,961.0 1006.4,958.3 1008.9,956.6 1007.4,954.0 1012.2,950.6 1005.9,944.8 999.8,950.7 1001.0,953.4 1002.5,955.3 1000.5,957.5 996.2,952.0 994.9,949.2 997.8,948.6 993.6,953.6 996.1,947.2 993.4,949.9" fill="none" stroke="#f5a02a" stroke-width="1.6" stroke-linejoin="miter" stroke-miterlimit="3"/><polyline points="1000.6,961.5 998.4,961.1 997.7,959.8 993.9,962.6 991.3,962.9 988.8,959.9 986.5,960.5 985.3,952.3 986.6,953.0 987.9,959.9 985.3,963.4 981.4,967.6 981.5,967.9 980.2,974.0 982.8,966.9 990.3,972.5 993.6,973.0 994.3,974.7 995.4,975.9 992.7,984.9 996.6,983.4 994.3,986.2 997.6,987.5 998.8,986.2 998.4,988.8 996.0,989.8 999.7,990.8" fill="none" stroke="#f5a02a" stroke-width="1.6" stroke-linejoin="miter" stroke-miterlimit="3"/><polyline points="1000.2,962.4 1005.0,953.2 1000.4,946.5 1007.1,947.4 1005.2,950.0 998.7,948.6 1001.0,950.8 1001.6,953.5 1001.7,945.8 999.1,944.9 993.2,943.9 997.2,944.8 999.1,948.2 998.5,947.9 996.2,945.7 999.8,950.7 999.7,950.0 1001.8,954.5 1003.8,955.4 996.7,957.7 1005.8,960.3" fill="none" stroke="#000000" stroke-width="1.6" stroke-linejoin="miter" stroke-miterlimit="3"/><polyline points="999.7,961.3 1011.1,963.3 1006.8,963.2 999.2,963.4 1004.3,961.2 1012.2,957.6 1019.4,954.1 1015.0,956.8 1019.2,959.4 1018.6,966.5 1021.7,969.9 1028.6,972.9 1030.7,963.8 1026.8,963.6 1025.5,970.3 1029.3,970.8 1021.7,971.0 1022.5,971.0 1027.4,971.4 1029.6,973.9 1023.1,974.7 1026.4,977.9 1028.3,982.1 1024.2,968.5 1021.2,962.4 1027.2,963.6 1018.8,959.0" fill="none" stroke="#f5a02a" stroke-width="1.6" stroke-linejoin="miter" stroke-miterlimit="3"/><polyline points="1000.1,961.9 995.6,958.8 994.7,960.2 989.7,962.8 991.2,960.9 991.6,957.6 992.8,949.6 1008.7,950.0 1007.3,945.2 1003.2,943.5 1001.5,944.5 995.1,939.6 991.1,942.1 994.7,939.9 998.5,941.7 995.9,938.1 992.3,932.5 993.4,932.6 996.2,933.7 994.7,933.8 992.6,931.7" fill="none" stroke="#1a932a" stroke-width="1.6" stroke-linejoin="miter" stroke-miterlimit="3"/><polyline points="1000.6,962.3 1006.9,961.0 996.9,960.8 986.9,958.0 993.0,949.7 994.1,952.6 991.1,953.5 986.2,957.3 984.2,954.3 994.0,956.3 990.7,966.6 994.7,964.6 995.7,964.3 990.1,966.2 994.9,973.3 993.7,970.7 988.8,971.2 994.7,974.7 999.9,971.8 997.9,971.4 994.2,973.4 985.9,982.1 988.1,984.8 988.0,980.7 997.8,979.0 1004.9,977.4 1006.0,971.2" fill="none" stroke="#f5a02a" stroke-width="1.6" stroke-linejoin="miter" stroke-miterlimit="3"/><polyline points="999.6,961.8 1003.1,958.5 1000.2,957.9 1000.6,960.4 999.6,964.5 998.3,966.1 994.6,971.9 999.2,978.5 999.5,981.5 998.6,986.1 1002.1,981.2 1009.7,988.5 1015.5,986.6 1011.5,984.4 1018.6,987.0 1020.6,981.9 1011.5,976.3 1003.3,979.1 1006.9,981.7 1002.2,985.1 1008.0,979.7 1007.6,982.2 1007.5,978.5 1009.5,970.7 1005.2,970.4 1000.9,981.8 997.9,982.5" fill="none" stroke="#f5a02a" stroke-width="1.6" stroke-linejoin="miter" stroke-miterlimit="3"/><polyline points="1001.1,960.9 996.0,956.3 1003.2,960.9 1001.8,950.8 1002.4,950.3 993.4,949.2 996.0,945.1 983.9,945.9 978.2,949.4 985.2,954.2 989.8,949.0 990.9,949.8 1000.0,943.7 996.9,938.5 1001.1,945.5 996.7,940.3 997.8,942.6 996.6,937.4 995.5,943.1 993.9,940.6 994.9,949.4 993.1,944.6 996.7,941.4 1004.9,946.1 1012.3,943.7 1013.5,939.8 1016.9,941.7" fill="none" stroke="#f5a02a" stroke-width="1.6" stroke-linejoin="miter" stroke-miterlimit="3"/><polyline points="1000.3,962.0 998.8,963.7 993.7,959.4 995.5,957.2 996.9,954.3 992.7,954.2 987.4,954.8 984.1,959.2 982.4,960.0 987.5,960.1 986.9,952.6 987.0,949.8 994.3,951.4 999.5,952.1 1007.2,951.8 1007.1,949.0 1005.0,953.8 998.2,955.3 996.9,956.3" fill="none" stroke="#f5a02a" stroke-width="1.6" stroke-linejoin="miter" stroke-miterlimit="3"/><polyline points="999.5,960.9 997.7,963.7 1001.4,967.9 999.6,973.6 997.1,974.2 1003.3,971.6 1000.4,970.9 1005.1,975.2 1001.7,980.2 1000.7,980.3 994.5,977.2 993.7,971.2 994.3,971.8 992.2,971.3 989.0,972.8 995.6,970.0 993.0,972.7 989.6,975.9 992.5,974.5 996.2,973.5 993.7,976.5 1006.7,979.1 996.7,984.6 1003.6,978.6 996.9,969.4" fill="none" stroke="#f0301a" stroke-width="1.6" stroke-linejoin="miter" stroke-miterlimit="3"/><polyline points="1000.3,960.4 1005.6,965.2 1003.6,959.0 1008.6,957.3 1010.0,949.8 1008.8,953.1 1004.4,956.7 999.5,954.3 995.0,959.7 992.1,963.5 994.1,958.9 994.2,959.6 993.9,968.2 1002.0,961.8 1001.6,967.3 1003.6,963.9 1000.1,962.2 991.4,966.6 989.0,965.3 988.4,962.3 986.1,960.5" fill="none" stroke="#000000" stroke-width="1.6" stroke-linejoin="miter" stroke-miterlimit="3"/><polyline points="1000.3,960.7 1005.6,959.1 1011.2,956.1 1014.6,950.1 1013.4,952.5 1010.1,958.0 1005.0,961.1 999.2,967.8 1005.4,962.1 1003.2,958.7 1006.4,957.9 1003.9,960.3 1003.3,958.8 1003.0,959.6 1005.0,954.8 1001.5,950.0 1003.8,949.2 1002.8,944.5 1000.2,945.0 999.6,946.6 1005.5,955.0" fill="none" stroke="#1a932a" stroke-width="1.6" stroke-linejoin="miter" stroke-miterlimit="3"/><polyline points="999.2,961.6 1000.7,966.8 1003.2,971.5 995.0,974.5 995.8,964.9 1002.2,967.2 1003.9,972.8 998.9,974.8 993.8,976.2 990.5,980.1 1002.1,982.2 1002.6,976.4 1002.0,972.8 1005.9,965.2 1003.4,959.9 1007.3,958.0 1002.0,954.8 993.8,956.2 1004.5,960.3 1007.7,958.4 1012.4,962.2" fill="none" stroke="#000000" stroke-width="1.6" stroke-linejoin="miter" stroke-miterlimit="3"/><polyline points="1001.1,960.6 996.8,963.2 995.5,965.5 996.4,967.0 994.3,969.3 999.2,971.8 997.1,972.7 998.2,974.7 998.4,978.0 991.2,974.4 989.3,972.9 988.0,977.5 989.0,976.9 986.2,984.7 986.5,979.8 983.2,990.1 990.1,991.8 988.4,994.4 991.4,999.8 994.3,993.4 999.0,994.5 1006.7,996.4 1002.2,1001.0 1003.0,1004.6 996.4,1006.8" fill="none" stroke="#f0301a" stroke-width="1.6" stroke-linejoin="miter" stroke-miterlimit="3"/><polyline points="999.4,961.8 998.5,961.6 995.0,977.6 997.6,976.4 997.3,976.2 1002.2,980.3 994.1,987.9 996.2,983.8 997.4,986.4 994.6,993.2 992.2,989.2 1003.6,984.2 1003.2,981.3 1003.8,989.2 1004.4,990.8 1005.0,987.7 1004.7,985.9 1001.0,981.2 999.6,985.3 1001.6,985.6 997.6,985.2 1002.5,980.7 1002.0,982.3 997.7,979.4 993.4,977.5" fill="none" stroke="#f0301a" stroke-width="1.6" stroke-linejoin="miter" stroke-miterlimit="3"/><polyline points="1000.9,960.9 1001.9,962.2 996.9,964.5 1002.9,968.0 997.3,968.6 1000.8,969.9 1002.7,973.7 1002.2,979.0 1001.4,978.8 996.6,978.9 1000.6,989.6 1001.5,987.5 1002.9,982.8 1000.1,983.9 998.4,978.2 1000.1,980.8 992.1,979.5 990.0,981.1 992.4,977.6 993.8,980.1 987.4,985.3 992.1,995.4 998.7,996.3 992.7,995.2 999.7,994.5" fill="none" stroke="#f0301a" stroke-width="1.6" stroke-linejoin="miter" stroke-miterlimit="3"/><polyline points="999.3,962.1 997.5,965.2 993.2,964.2 991.9,959.3 989.4,954.6 992.6,957.0 995.2,951.4 990.9,954.4 989.1,953.3 992.9,953.1 996.6,954.6 997.3,954.0 991.8,950.0 991.6,946.1 990.0,947.5 991.6,946.5 993.6,954.1 986.3,957.9 988.9,951.6" fill="none" stroke="#f5a02a" stroke-width="1.6" stroke-linejoin="miter" stroke-miterlimit="3"/><polyline points="999.7,960.4 1003.6,959.7 995.3,955.1 997.6,950.3 1000.6,953.2 999.3,952.9 994.7,965.6 995.7,972.2 998.9,960.5 1001.2,962.4 1003.8,958.4 991.2,964.4 989.2,967.3 992.1,963.1 994.0,957.9 990.1,967.8 988.0,969.9 991.3,968.1 993.1,971.7 989.5,964.2 991.5,974.7 988.9,972.8 996.1,973.3 1000.8,974.2 1004.0,978.4 1005.0,974.4 1001.5,973.8" fill="none" stroke="#f5a02a" stroke-width="1.6" stroke-linejoin="miter" stroke-miterlimit="3"/><polyline points="1001.2,960.4 993.6,958.2 996.8,949.7 992.6,958.5 993.1,965.2 994.0,960.8 1002.4,964.2 995.6,965.1 991.6,965.5 989.1,963.8 985.1,967.2 986.6,964.7 986.0,970.6 987.2,969.3 990.4,975.6 992.0,971.6 994.4,973.3 992.4,975.3 998.4,968.8 995.1,972.1 997.9,974.1 989.3,971.4 988.7,973.0 986.0,968.9 992.3,969.8 996.8,967.8 998.5,968.9" fill="none" stroke="#f5a02a" stroke-width="1.6" stroke-linejoin="miter" stroke-miterlimit="3"/><polyline points="1000.3,961.2 999.0,967.0 1001.1,974.8 1007.3,966.6 1002.8,958.4 1000.9,962.9 1002.7,960.4 1004.5,961.2 1005.0,966.1 1004.1,963.9 1003.1,960.5 997.9,963.4 1002.1,968.6 1001.2,974.5 1000.0,977.5 999.2,978.7 999.0,981.1 1003.5,978.2 1000.4,974.8" fill="none" stroke="#f5a02a" stroke-width="1.6" stroke-linejoin="miter" stroke-miterlimit="3"/><polyline points="999.2,961.7 1002.3,955.1 1007.2,949.1 1009.8,960.5 1008.3,957.4 1009.1,959.7 1017.3,956.8 1019.7,952.0 1014.5,949.1 1004.1,954.0 999.6,946.5 999.5,943.9 1000.3,946.6 998.8,947.2 997.1,950.1 1000.6,949.3 1001.6,947.8 1002.3,948.2 1003.8,946.7 996.8,942.9 1008.8,943.2 1007.9,946.1 1010.0,944.8 1001.8,944.2 1005.7,946.3 1020.0,946.0 1024.3,952.0" fill="none" stroke="#f5a02a" stroke-width="1.6" stroke-linejoin="miter" stroke-miterlimit="3"/><polyline points="999.3,962.3 1000.9,958.1 998.9,968.4 1004.6,970.9 1007.7,968.1 1010.1,973.8 1012.2,965.3 1012.2,965.6 1012.0,967.3 1012.0,965.3 1009.5,968.9 999.2,967.9 996.6,954.4 992.1,955.9 997.9,957.1 990.7,951.0 983.4,957.1 992.3,948.5 982.2,947.9 984.0,948.2 983.2,950.2 979.1,952.3 982.9,950.5 983.2,948.5 988.5,948.5 986.9,941.4 988.7,944.8" fill="none" stroke="#f5a02a" stroke-width="1.6" stroke-linejoin="miter" stroke-miterlimit="3"/><polyline points="1000.6,960.9 996.2,961.7 996.9,963.7 988.5,975.5 982.2,973.9 986.1,974.6 987.9,967.6 991.4,967.5 991.5,965.6 987.3,968.9 994.7,970.9 993.2,961.8 996.9,967.6 1000.0,971.2 998.3,967.4 1002.2,963.9 1001.6,966.2 999.2,961.8 996.2,960.3 1003.6,961.7 996.1,961.3 999.1,960.0 1006.3,960.8 1008.4,964.8 994.8,966.2 1000.0,966.5 999.7,962.6" fill="none" stroke="#f5a02a" stroke-width="1.6" stroke-linejoin="miter" stroke-miterlimit="3"/><polyline points="999.4,961.6 996.5,964.8 994.5,965.7 988.3,973.2 993.5,971.2 990.5,971.3 995.8,979.3 990.6,980.6 987.5,985.7 983.9,988.9 984.7,982.4 987.4,982.3 986.8,979.9 986.0,982.1 991.8,968.3 992.2,972.9 990.4,979.3 993.9,974.3 999.6,971.3 1003.4,975.1 1001.7,976.4 1002.1,969.4 1005.5,980.3 1007.5,979.8 1006.5,981.2" fill="none" stroke="#f0301a" stroke-width="1.6" stroke-linejoin="miter" stroke-miterlimit="3"/><polyline points="1000.5,961.4 1001.1,964.9 1005.2,968.4 1002.3,969.0 1005.5,974.8 1009.1,980.7 1004.2,975.9 1000.6,973.5 1007.0,967.1 1002.7,969.4 999.2,971.9 1003.0,971.9 1004.3,980.2 998.5,979.0 1002.4,984.8 999.0,985.4 1000.1,984.4 995.5,983.0 994.3,976.1 992.3,973.3 993.3,973.4 998.2,965.7 1007.5,969.2 1008.9,961.8 1013.8,971.9 1010.5,973.8 1005.4,970.3" fill="none" stroke="#f5a02a" stroke-width="1.6" stroke-linejoin="miter" stroke-miterlimit="3"/><polyline points="1000.2,961.6 1005.2,956.8 997.0,964.8 992.9,963.1 993.5,964.2 992.8,962.7 997.0,965.9 995.9,976.2 989.9,975.3 989.3,976.4 990.5,973.4 991.3,977.4 1002.2,982.6 1000.6,979.7 994.9,979.1 992.5,980.0 991.9,979.5 992.4,982.3 993.9,976.5" fill="none" stroke="#f5a02a" stroke-width="1.6" stroke-linejoin="miter" stroke-miterlimit="3"/><polyline points="1000.1,962.0 1010.7,969.0 1009.4,960.8 1005.9,964.4 1008.2,961.6 1007.4,960.1 999.4,959.1 987.6,957.5 991.0,955.7 993.5,957.3 995.2,954.7 991.1,962.2 997.2,965.2 999.2,961.5 1001.3,958.3 1000.1,961.6 1000.4,958.2 996.4,961.4 1000.8,963.5 990.9,961.2 986.7,964.1 992.9,957.0 997.0,961.6 1006.5,962.6 1002.3,970.1 1000.4,963.9 1004.7,967.1" fill="none" stroke="#f5a02a" stroke-width="1.6" stroke-linejoin="miter" stroke-miterlimit="3"/><polyline points="1000.0,960.4 998.5,958.1 997.8,956.9 999.6,963.2 987.4,954.9 988.5,951.4 999.5,949.2 1001.1,949.7 1006.1,951.7 1003.6,956.0 1006.5,952.1 1007.1,953.0 1001.7,958.0 997.9,965.6 993.6,966.4 994.8,970.0 990.1,975.5 990.8,975.8 992.4,971.1 996.4,966.3 1004.2,965.1" fill="none" stroke="#000000" stroke-width="1.6" stroke-linejoin="miter" stroke-miterlimit="3"/><polyline points="1000.1,960.8 993.9,967.7 994.4,970.0 993.7,972.6 993.0,970.1 992.1,973.4 999.0,962.1 997.4,971.7 990.6,973.0 992.7,971.2 997.6,975.3 1004.3,976.1 1011.6,973.6 1018.8,981.9 1019.4,975.7 1022.4,977.5 1019.7,979.5 1020.1,978.3 1010.9,975.0 1012.1,976.0 1009.7,978.8 1006.8,980.1 1001.6,976.7 1009.1,975.0 1005.6,969.5 1005.9,974.4 1015.0,973.0" fill="none" stroke="#f5a02a" stroke-width="1.6" stroke-linejoin="miter" stroke-miterlimit="3"/><polyline points="999.3,962.0 998.7,955.6 999.7,958.5 1003.4,962.2 996.1,960.2 1001.5,962.8 1010.5,963.7 1017.0,961.6 1017.5,972.7 1014.9,966.2 1013.3,962.9 1012.5,961.6 1015.1,959.5 1009.6,963.7 1005.0,956.0 1002.1,954.4 1005.2,955.1 1007.6,951.5 1007.6,949.9" fill="none" stroke="#f5a02a" stroke-width="1.6" stroke-linejoin="miter" stroke-miterlimit="3"/><polyline points="1001.0,961.8 999.6,964.1 994.9,973.4 994.1,970.6 994.3,974.8 992.8,973.4 992.1,975.8 993.0,971.4 986.8,974.6 982.6,979.1 984.4,983.0 986.8,986.6 986.3,987.4 987.7,990.7 984.5,985.4 985.7,986.1 982.5,992.6 986.7,992.9 989.8,981.8 990.0,973.1 994.0,973.0 995.9,976.5 994.7,971.0 991.7,967.3 991.6,967.8" fill="none" stroke="#f0301a" stroke-width="1.6" stroke-linejoin="miter" stroke-miterlimit="3"/><polyline points="999.9,960.8 997.8,961.4 999.5,965.0 997.3,967.0 996.5,968.1 995.9,971.4 988.3,977.0 992.3,974.7 993.8,982.2 995.4,984.5 995.1,987.7 1001.0,989.2 1003.5,990.8 998.0,992.1 1000.3,989.7 995.6,993.0 994.6,1000.1 1002.9,1004.2 998.2,1002.3 993.5,1000.0 999.0,995.5 999.0,999.6 1000.5,994.8 1005.2,997.4 1002.5,997.9" fill="none" stroke="#f0301a" stroke-width="1.6" stroke-linejoin="miter" stroke-miterlimit="3"/></g><g fill="#000" stroke="none" stroke-width="0"><circle cx="1465.9" cy="424.0" r="8.4"/><circle cx="1462.6" cy="374.9" r="8.4"/><circle cx="1456.2" cy="415.5" r="8.4"/><circle cx="1459.7" cy="343.7" r="8.4"/><circle cx="1460.3" cy="419.5" r="8.4"/><circle cx="1462.3" cy="355.4" r="8.4"/><circle cx="1461.0" cy="255.2" r="8.4"/><circle cx="1461.0" cy="243.3" r="8.4"/><circle cx="1457.5" cy="398.9" r="8.4"/><circle cx="1459.6" cy="435.4" r="8.4"/><circle cx="1456.6" cy="410.6" r="8.4"/><circle cx="1460.4" cy="276.0" r="8.4"/><circle cx="1461.4" cy="279.0" r="8.4"/><circle cx="1459.2" cy="379.2" r="8.4"/><circle cx="1462.9" cy="387.9" r="8.4"/><circle cx="1461.1" cy="326.8" r="8.4"/><circle cx="1456.1" cy="424.0" r="8.4"/><circle cx="1462.4" cy="363.0" r="8.4"/><circle cx="1460.6" cy="319.3" r="8.4"/><circle cx="1457.6" cy="403.3" r="8.4"/><circle cx="1459.8" cy="439.3" r="8.4"/><circle cx="1465.4" cy="410.8" r="8.4"/><circle cx="1463.6" cy="390.7" r="8.4"/><circle cx="1465.1" cy="408.0" r="8.4"/><circle cx="1459.6" cy="354.9" r="8.4"/><circle cx="1462.2" cy="438.9" r="8.4"/><circle cx="1461.6" cy="426.6" r="8.4"/><circle cx="1461.3" cy="443.1" r="8.4"/><circle cx="1458.4" cy="391.7" r="8.4"/><circle cx="1462.5" cy="336.0" r="8.4"/><circle cx="1460.4" cy="286.6" r="8.4"/><circle cx="1460.7" cy="406.8" r="8.4"/><circle cx="1459.2" cy="382.6" r="8.4"/><circle cx="1460.2" cy="311.0" r="8.4"/><circle cx="1459.7" cy="347.8" r="8.4"/><circle cx="1460.9" cy="291.8" r="8.4"/><circle cx="1459.7" cy="350.7" r="8.4"/><circle cx="1461.0" cy="146.1" r="8.4"/><circle cx="1461.0" cy="447.1" r="8.4"/><circle cx="1461.7" cy="300.0" r="8.4"/><circle cx="1461.2" cy="367.9" r="8.4"/><circle cx="1462.6" cy="371.5" r="8.4"/><circle cx="1460.5" cy="423.1" r="8.4"/><circle cx="1462.6" cy="359.0" r="8.4"/><circle cx="1464.4" cy="403.1" r="8.4"/><circle cx="1462.1" cy="327.1" r="8.4"/><circle cx="1459.5" cy="336.0" r="8.4"/><circle cx="1460.2" cy="303.5" r="8.4"/><circle cx="1463.4" cy="394.8" r="8.4"/><circle cx="1463.8" cy="430.9" r="8.4"/><circle cx="1462.3" cy="343.7" r="8.4"/><circle cx="1460.1" cy="331.3" r="8.4"/><circle cx="1460.7" cy="363.3" r="8.4"/><circle cx="1459.4" cy="375.5" r="8.4"/><circle cx="1461.3" cy="339.9" r="8.4"/><circle cx="1457.9" cy="427.0" r="8.4"/><circle cx="1463.6" cy="435.2" r="8.4"/><circle cx="1462.0" cy="323.6" r="8.4"/><circle cx="1464.9" cy="428.0" r="8.4"/><circle cx="1461.3" cy="410.6" r="8.4"/><circle cx="1461.5" cy="415.0" r="8.4"/><circle cx="1456.0" cy="419.2" r="8.4"/><circle cx="1466.1" cy="419.1" r="8.4"/><circle cx="1461.0" cy="315.0" r="8.4"/><circle cx="1460.9" cy="295.8" r="8.4"/><circle cx="1460.8" cy="306.9" r="8.4"/><circle cx="1460.1" cy="360.0" r="8.4"/><circle cx="1465.8" cy="416.2" r="8.4"/><circle cx="1459.3" cy="387.9" r="8.4"/><circle cx="1458.6" cy="395.0" r="8.4"/><circle cx="1460.0" cy="323.5" r="8.4"/><circle cx="1460.7" cy="367.9" r="8.4"/><circle cx="1461.2" cy="351.7" r="8.4"/><circle cx="1456.7" cy="406.9" r="8.4"/><circle cx="1462.9" cy="383.0" r="8.4"/><circle cx="1462.4" cy="331.9" r="8.4"/><circle cx="1458.9" cy="431.5" r="8.4"/><circle cx="1462.4" cy="379.5" r="8.4"/><circle cx="1462.3" cy="347.4" r="8.4"/><circle cx="1459.8" cy="339.0" r="8.4"/><circle cx="1460.9" cy="283.6" r="8.4"/><circle cx="1460.0" cy="371.4" r="8.4"/><circle cx="1463.4" cy="399.4" r="8.4"/><circle cx="1499.2" cy="340.1" r="8.4"/><circle cx="1500.0" cy="343.7" r="8.4"/><circle cx="1500.2" cy="360.7" r="8.4"/><circle cx="1501.6" cy="347.6" r="8.4"/><circle cx="1499.0" cy="380.7" r="8.4"/><circle cx="1503.8" cy="364.0" r="8.4"/><circle cx="1499.8" cy="439.6" r="8.4"/><circle cx="1499.0" cy="376.0" r="8.4"/><circle cx="1499.4" cy="335.8" r="8.4"/><circle cx="1501.9" cy="415.8" r="8.4"/><circle cx="1503.1" cy="359.5" r="8.4"/><circle cx="1499.5" cy="443.2" r="8.4"/><circle cx="1498.8" cy="371.5" r="8.4"/><circle cx="1500.4" cy="391.3" r="8.4"/><circle cx="1497.1" cy="416.1" r="8.4"/><circle cx="1496.2" cy="360.8" r="8.4"/><circle cx="1499.4" cy="411.7" r="8.4"/><circle cx="1503.4" cy="383.3" r="8.4"/><circle cx="1502.8" cy="356.4" r="8.4"/><circle cx="1497.2" cy="423.4" r="8.4"/><circle cx="1504.2" cy="388.6" r="8.4"/><circle cx="1499.4" cy="408.6" r="8.4"/><circle cx="1502.8" cy="399.3" r="8.4"/><circle cx="1503.5" cy="408.4" r="8.4"/><circle cx="1495.5" cy="408.4" r="8.4"/><circle cx="1494.7" cy="367.9" r="8.4"/><circle cx="1500.2" cy="320.7" r="8.4"/><circle cx="1498.3" cy="348.1" r="8.4"/><circle cx="1495.4" cy="392.3" r="8.4"/><circle cx="1496.6" cy="419.6" r="8.4"/><circle cx="1500.4" cy="368.1" r="8.4"/><circle cx="1495.8" cy="364.0" r="8.4"/><circle cx="1494.8" cy="387.4" r="8.4"/><circle cx="1497.8" cy="343.9" r="8.4"/><circle cx="1503.1" cy="411.4" r="8.4"/><circle cx="1504.1" cy="403.4" r="8.4"/><circle cx="1499.6" cy="436.2" r="8.4"/><circle cx="1499.5" cy="267.8" r="8.4"/><circle cx="1501.0" cy="339.9" r="8.4"/><circle cx="1499.5" cy="317.1" r="8.4"/><circle cx="1503.4" cy="395.2" r="8.4"/><circle cx="1501.8" cy="423.3" r="8.4"/><circle cx="1504.0" cy="372.7" r="8.4"/><circle cx="1497.9" cy="428.2" r="8.4"/><circle cx="1496.2" cy="400.3" r="8.4"/><circle cx="1498.8" cy="388.0" r="8.4"/><circle cx="1498.8" cy="324.5" r="8.4"/><circle cx="1503.6" cy="380.2" r="8.4"/><circle cx="1498.4" cy="404.4" r="8.4"/><circle cx="1500.2" cy="428.0" r="8.4"/><circle cx="1498.7" cy="399.8" r="8.4"/><circle cx="1495.8" cy="412.3" r="8.4"/><circle cx="1494.5" cy="404.2" r="8.4"/><circle cx="1498.5" cy="396.4" r="8.4"/><circle cx="1498.8" cy="431.6" r="8.4"/><circle cx="1494.5" cy="372.3" r="8.4"/><circle cx="1503.4" cy="391.8" r="8.4"/><circle cx="1500.0" cy="384.4" r="8.4"/><circle cx="1499.4" cy="364.7" r="8.4"/><circle cx="1502.4" cy="420.2" r="8.4"/><circle cx="1501.2" cy="431.9" r="8.4"/><circle cx="1496.0" cy="395.2" r="8.4"/><circle cx="1496.4" cy="383.5" r="8.4"/><circle cx="1499.7" cy="332.1" r="8.4"/><circle cx="1496.2" cy="376.3" r="8.4"/><circle cx="1499.4" cy="447.4" r="8.4"/><circle cx="1503.7" cy="376.0" r="8.4"/><circle cx="1504.3" cy="368.7" r="8.4"/><circle cx="1499.8" cy="327.7" r="8.4"/><circle cx="1500.9" cy="352.8" r="8.4"/><circle cx="1496.2" cy="356.5" r="8.4"/><circle cx="1494.9" cy="380.0" r="8.4"/><circle cx="1497.3" cy="352.0" r="8.4"/><circle cx="1536.9" cy="407.9" r="8.4"/><circle cx="1538.4" cy="312.9" r="8.4"/><circle cx="1538.0" cy="364.8" r="8.4"/><circle cx="1539.3" cy="432.8" r="8.4"/><circle cx="1538.0" cy="292.5" r="8.4"/><circle cx="1537.2" cy="419.7" r="8.4"/><circle cx="1542.9" cy="408.2" r="8.4"/><circle cx="1538.3" cy="404.1" r="8.4"/><circle cx="1537.5" cy="348.9" r="8.4"/><circle cx="1537.7" cy="368.7" r="8.4"/><circle cx="1537.5" cy="356.8" r="8.4"/><circle cx="1539.4" cy="372.6" r="8.4"/><circle cx="1538.4" cy="300.6" r="8.4"/><circle cx="1541.8" cy="397.1" r="8.4"/><circle cx="1536.9" cy="416.0" r="8.4"/><circle cx="1537.2" cy="308.9" r="8.4"/><circle cx="1541.6" cy="400.5" r="8.4"/><circle cx="1537.8" cy="272.5" r="8.4"/><circle cx="1537.9" cy="321.0" r="8.4"/><circle cx="1537.8" cy="336.4" r="8.4"/><circle cx="1536.0" cy="432.8" r="8.4"/><circle cx="1535.5" cy="428.2" r="8.4"/><circle cx="1536.8" cy="399.5" r="8.4"/><circle cx="1540.9" cy="392.5" r="8.4"/><circle cx="1538.4" cy="304.4" r="8.4"/><circle cx="1537.7" cy="332.3" r="8.4"/><circle cx="1538.8" cy="288.3" r="8.4"/><circle cx="1536.7" cy="379.6" r="8.4"/><circle cx="1537.7" cy="359.6" r="8.4"/><circle cx="1537.8" cy="396.0" r="8.4"/><circle cx="1540.9" cy="427.9" r="8.4"/><circle cx="1537.2" cy="280.8" r="8.4"/><circle cx="1542.0" cy="420.0" r="8.4"/><circle cx="1538.7" cy="316.1" r="8.4"/><circle cx="1533.8" cy="420.6" r="8.4"/><circle cx="1540.2" cy="388.2" r="8.4"/><circle cx="1536.5" cy="436.5" r="8.4"/><circle cx="1538.7" cy="328.2" r="8.4"/><circle cx="1538.2" cy="296.9" r="8.4"/><circle cx="1534.7" cy="416.7" r="8.4"/><circle cx="1538.0" cy="173.8" r="8.4"/><circle cx="1539.5" cy="436.8" r="8.4"/><circle cx="1541.2" cy="423.8" r="8.4"/><circle cx="1538.6" cy="352.4" r="8.4"/><circle cx="1539.0" cy="384.9" r="8.4"/><circle cx="1538.6" cy="340.6" r="8.4"/><circle cx="1536.4" cy="383.6" r="8.4"/><circle cx="1533.5" cy="412.1" r="8.4"/><circle cx="1534.3" cy="400.4" r="8.4"/><circle cx="1533.1" cy="409.0" r="8.4"/><circle cx="1537.7" cy="376.3" r="8.4"/><circle cx="1542.4" cy="404.6" r="8.4"/><circle cx="1538.2" cy="275.6" r="8.4"/><circle cx="1537.4" cy="323.7" r="8.4"/><circle cx="1533.5" cy="404.6" r="8.4"/><circle cx="1536.9" cy="388.1" r="8.4"/><circle cx="1536.6" cy="371.6" r="8.4"/><circle cx="1539.3" cy="379.8" r="8.4"/><circle cx="1534.2" cy="395.9" r="8.4"/><circle cx="1541.9" cy="415.9" r="8.4"/><circle cx="1537.6" cy="444.1" r="8.4"/><circle cx="1535.4" cy="424.9" r="8.4"/><circle cx="1539.2" cy="377.1" r="8.4"/><circle cx="1537.6" cy="268.4" r="8.4"/><circle cx="1538.2" cy="364.2" r="8.4"/><circle cx="1538.6" cy="345.1" r="8.4"/><circle cx="1537.4" cy="440.0" r="8.4"/><circle cx="1537.6" cy="283.9" r="8.4"/><circle cx="1537.7" cy="412.5" r="8.4"/><circle cx="1538.0" cy="209.6" r="8.4"/><circle cx="1535.5" cy="392.4" r="8.4"/><circle cx="1542.0" cy="412.0" r="8.4"/></g><g stroke="#fff" stroke-width="3.0"><line x1="1448.0" y1="382.6" x2="1474.0" y2="382.6"/><line x1="1453.0" y1="378.0" x2="1469.0" y2="378.0"/><line x1="1453.0" y1="387.2" x2="1469.0" y2="387.2"/><line x1="1461.0" y1="378.0" x2="1461.0" y2="387.2"/></g><g stroke="#fff" stroke-width="3.0"><line x1="1486.5" y1="391.5" x2="1512.5" y2="391.5"/><line x1="1491.5" y1="388.0" x2="1507.5" y2="388.0"/><line x1="1491.5" y1="395.0" x2="1507.5" y2="395.0"/><line x1="1499.5" y1="388.0" x2="1499.5" y2="395.0"/></g><g stroke="#fff" stroke-width="3.0"><line x1="1525.0" y1="396.2" x2="1551.0" y2="396.2"/><line x1="1530.0" y1="392.5" x2="1546.0" y2="392.5"/><line x1="1530.0" y1="399.8" x2="1546.0" y2="399.8"/><line x1="1538.0" y1="392.5" x2="1538.0" y2="399.8"/></g><line x1="1435.5" y1="130.5" x2="1435.5" y2="460.8" stroke="#000" stroke-width="3.4" stroke-linecap="butt"/><line x1="1421.5" y1="460.8" x2="1564.0" y2="460.8" stroke="#000" stroke-width="3.4" stroke-linecap="butt"/><line x1="1421.5" y1="460.8" x2="1435.5" y2="460.8" stroke="#000" stroke-width="3.4" stroke-linecap="butt"/><text x="1415.5" y="472.0" font-size="32" text-anchor="end" >0</text><line x1="1427.5" y1="427.9" x2="1435.5" y2="427.9" stroke="#000" stroke-width="3.4" stroke-linecap="butt"/><line x1="1421.5" y1="395.1" x2="1435.5" y2="395.1" stroke="#000" stroke-width="3.4" stroke-linecap="butt"/><text x="1415.5" y="406.3" font-size="32" text-anchor="end" >5</text><line x1="1427.5" y1="362.2" x2="1435.5" y2="362.2" stroke="#000" stroke-width="3.4" stroke-linecap="butt"/><line x1="1421.5" y1="329.4" x2="1435.5" y2="329.4" stroke="#000" stroke-width="3.4" stroke-linecap="butt"/><text x="1415.5" y="340.6" font-size="32" text-anchor="end" >10</text><line x1="1427.5" y1="296.5" x2="1435.5" y2="296.5" stroke="#000" stroke-width="3.4" stroke-linecap="butt"/><line x1="1421.5" y1="263.6" x2="1435.5" y2="263.6" stroke="#000" stroke-width="3.4" stroke-linecap="butt"/><text x="1415.5" y="274.8" font-size="32" text-anchor="end" >15</text><line x1="1427.5" y1="230.8" x2="1435.5" y2="230.8" stroke="#000" stroke-width="3.4" stroke-linecap="butt"/><line x1="1421.5" y1="197.9" x2="1435.5" y2="197.9" stroke="#000" stroke-width="3.4" stroke-linecap="butt"/><text x="1415.5" y="209.1" font-size="32" text-anchor="end" >20</text><line x1="1427.5" y1="165.1" x2="1435.5" y2="165.1" stroke="#000" stroke-width="3.4" stroke-linecap="butt"/><line x1="1421.5" y1="132.2" x2="1435.5" y2="132.2" stroke="#000" stroke-width="3.4" stroke-linecap="butt"/><text x="1415.5" y="143.4" font-size="32" text-anchor="end" >25</text><line x1="1461.0" y1="460.8" x2="1461.0" y2="474.3" stroke="#000" stroke-width="3.4" stroke-linecap="butt"/><text x="1461.0" y="509.5" font-size="32" text-anchor="middle" >0</text><line x1="1499.5" y1="460.8" x2="1499.5" y2="474.3" stroke="#000" stroke-width="3.4" stroke-linecap="butt"/><text x="1499.5" y="509.5" font-size="32" text-anchor="middle" >1</text><line x1="1538.0" y1="460.8" x2="1538.0" y2="474.3" stroke="#000" stroke-width="3.4" stroke-linecap="butt"/><text x="1538.0" y="509.5" font-size="32" text-anchor="middle" >2</text><text x="1500.0" y="556.1" font-size="31" text-anchor="middle" >Time (h)</text><line x1="1460.1" y1="72.9" x2="1533.9" y2="72.9" stroke="#000" stroke-width="3.4" stroke-linecap="round"/><text x="1498.5" y="73.2" font-size="28" text-anchor="middle" letter-spacing="0.8" style="stroke-width:0.9px">*</text><line x1="1460.1" y1="105.0" x2="1497.4" y2="105.0" stroke="#000" stroke-width="3.4" stroke-linecap="round"/><text x="1479.0" y="93.6" font-size="24" text-anchor="middle" >ns</text><line x1="1499.1" y1="150.5" x2="1536.9" y2="150.5" stroke="#000" stroke-width="3.4" stroke-linecap="round"/><text x="1518.9" y="150.7" font-size="28" text-anchor="middle" letter-spacing="0.8" style="stroke-width:0.9px">*</text><text x="0.0" y="0.0" font-size="32" text-anchor="middle" transform="translate(1274.2,306) rotate(-90)">ILC3s</text><text x="0.0" y="0.0" font-size="32" text-anchor="middle" transform="translate(1313.8,306.5) rotate(-90)"><tspan font-style="italic">RR22</tspan>+CCL21/CXCL12/16 Abs</text><text x="0.0" y="0.0" font-size="32" text-anchor="middle" transform="translate(1351.8,306) rotate(-90)">Speed mean (µm min<tspan dy="-10" font-size="20">-1</tspan><tspan dy="10">)</tspan></text><g fill="#2a2a2a" stroke="#000" stroke-width="4.4"><circle cx="1723.8" cy="397.0" r="7.2"/><circle cx="1723.0" cy="392.9" r="7.2"/><circle cx="1724.3" cy="201.2" r="7.2"/><circle cx="1724.1" cy="294.2" r="7.2"/><circle cx="1724.1" cy="185.3" r="7.2"/><circle cx="1723.5" cy="329.9" r="7.2"/><circle cx="1724.0" cy="276.9" r="7.2"/><circle cx="1729.0" cy="372.7" r="7.2"/><circle cx="1722.5" cy="365.3" r="7.2"/><circle cx="1724.6" cy="357.5" r="7.2"/><circle cx="1723.8" cy="300.6" r="7.2"/><circle cx="1725.4" cy="273.7" r="7.2"/><circle cx="1723.6" cy="262.1" r="7.2"/><circle cx="1723.5" cy="389.9" r="7.2"/><circle cx="1728.5" cy="365.0" r="7.2"/><circle cx="1727.8" cy="237.0" r="7.2"/><circle cx="1728.4" cy="328.7" r="7.2"/><circle cx="1722.3" cy="321.6" r="7.2"/><circle cx="1727.9" cy="357.1" r="7.2"/><circle cx="1724.7" cy="441.7" r="7.2"/><circle cx="1726.9" cy="285.0" r="7.2"/><circle cx="1726.8" cy="232.8" r="7.2"/><circle cx="1727.7" cy="436.8" r="7.2"/><circle cx="1728.3" cy="433.9" r="7.2"/><circle cx="1728.1" cy="380.6" r="7.2"/><circle cx="1723.2" cy="369.4" r="7.2"/><circle cx="1728.7" cy="401.2" r="7.2"/><circle cx="1728.6" cy="390.1" r="7.2"/><circle cx="1725.5" cy="216.7" r="7.2"/><circle cx="1728.7" cy="392.6" r="7.2"/><circle cx="1727.5" cy="277.8" r="7.2"/><circle cx="1728.2" cy="361.7" r="7.2"/><circle cx="1728.7" cy="417.6" r="7.2"/><circle cx="1723.8" cy="249.1" r="7.2"/><circle cx="1728.0" cy="249.1" r="7.2"/><circle cx="1727.6" cy="442.1" r="7.2"/><circle cx="1725.1" cy="353.3" r="7.2"/><circle cx="1726.6" cy="185.3" r="7.2"/><circle cx="1728.6" cy="369.1" r="7.2"/><circle cx="1723.0" cy="422.2" r="7.2"/><circle cx="1722.8" cy="381.3" r="7.2"/><circle cx="1725.6" cy="341.7" r="7.2"/><circle cx="1724.3" cy="233.8" r="7.2"/><circle cx="1729.5" cy="317.5" r="7.2"/><circle cx="1727.8" cy="264.9" r="7.2"/><circle cx="1728.1" cy="189.7" r="7.2"/><circle cx="1724.5" cy="269.3" r="7.2"/><circle cx="1722.7" cy="377.5" r="7.2"/><circle cx="1730.4" cy="133.4" r="7.2"/><circle cx="1728.2" cy="240.9" r="7.2"/><circle cx="1723.8" cy="181.4" r="7.2"/><circle cx="1724.0" cy="253.0" r="7.2"/><circle cx="1723.8" cy="296.7" r="7.2"/><circle cx="1728.8" cy="422.2" r="7.2"/><circle cx="1727.8" cy="177.6" r="7.2"/><circle cx="1725.8" cy="350.0" r="7.2"/><circle cx="1725.9" cy="461.1" r="7.2"/><circle cx="1723.8" cy="372.7" r="7.2"/><circle cx="1725.9" cy="145.3" r="7.2"/><circle cx="1728.2" cy="268.8" r="7.2"/><circle cx="1726.2" cy="205.4" r="7.2"/><circle cx="1723.9" cy="426.1" r="7.2"/><circle cx="1724.4" cy="338.1" r="7.2"/><circle cx="1725.9" cy="165.5" r="7.2"/><circle cx="1723.8" cy="236.9" r="7.2"/><circle cx="1724.9" cy="206.1" r="7.2"/><circle cx="1728.2" cy="426.0" r="7.2"/><circle cx="1726.9" cy="173.9" r="7.2"/><circle cx="1725.9" cy="169.6" r="7.2"/><circle cx="1727.4" cy="337.0" r="7.2"/><circle cx="1724.5" cy="244.8" r="7.2"/><circle cx="1728.1" cy="385.6" r="7.2"/><circle cx="1725.2" cy="284.6" r="7.2"/><circle cx="1726.6" cy="221.8" r="7.2"/><circle cx="1724.0" cy="194.2" r="7.2"/><circle cx="1728.0" cy="257.5" r="7.2"/><circle cx="1728.2" cy="409.2" r="7.2"/><circle cx="1725.4" cy="346.0" r="7.2"/><circle cx="1724.0" cy="289.2" r="7.2"/><circle cx="1724.0" cy="266.1" r="7.2"/><circle cx="1727.2" cy="196.7" r="7.2"/><circle cx="1724.0" cy="406.1" r="7.2"/><circle cx="1727.3" cy="296.6" r="7.2"/><circle cx="1723.9" cy="242.0" r="7.2"/><circle cx="1721.4" cy="133.4" r="7.2"/><circle cx="1729.1" cy="377.1" r="7.2"/><circle cx="1723.1" cy="417.9" r="7.2"/><circle cx="1727.7" cy="293.7" r="7.2"/><circle cx="1722.8" cy="384.7" r="7.2"/><circle cx="1726.9" cy="180.7" r="7.2"/><circle cx="1725.7" cy="208.7" r="7.2"/><circle cx="1723.6" cy="362.0" r="7.2"/><circle cx="1723.8" cy="189.4" r="7.2"/><circle cx="1728.5" cy="301.6" r="7.2"/><circle cx="1723.9" cy="197.1" r="7.2"/><circle cx="1729.5" cy="320.7" r="7.2"/><circle cx="1724.1" cy="414.1" r="7.2"/><circle cx="1724.3" cy="282.0" r="7.2"/><circle cx="1728.7" cy="309.7" r="7.2"/><circle cx="1724.0" cy="178.1" r="7.2"/><circle cx="1727.8" cy="397.2" r="7.2"/><circle cx="1724.4" cy="172.7" r="7.2"/><circle cx="1723.5" cy="432.7" r="7.2"/><circle cx="1723.8" cy="333.4" r="7.2"/><circle cx="1726.0" cy="162.1" r="7.2"/><circle cx="1728.0" cy="304.7" r="7.2"/><circle cx="1727.8" cy="193.9" r="7.2"/><circle cx="1728.8" cy="314.0" r="7.2"/><circle cx="1727.5" cy="281.6" r="7.2"/><circle cx="1725.5" cy="224.8" r="7.2"/><circle cx="1723.9" cy="306.2" r="7.2"/><circle cx="1724.0" cy="325.8" r="7.2"/><circle cx="1728.2" cy="246.2" r="7.2"/><circle cx="1723.6" cy="313.7" r="7.2"/><circle cx="1722.3" cy="318.0" r="7.2"/><circle cx="1727.5" cy="202.1" r="7.2"/><circle cx="1728.3" cy="429.8" r="7.2"/><circle cx="1727.8" cy="253.6" r="7.2"/><circle cx="1726.4" cy="228.9" r="7.2"/><circle cx="1728.0" cy="333.0" r="7.2"/><circle cx="1728.6" cy="413.3" r="7.2"/><circle cx="1727.8" cy="405.8" r="7.2"/><circle cx="1723.1" cy="401.8" r="7.2"/><circle cx="1723.4" cy="429.5" r="7.2"/><circle cx="1726.9" cy="273.0" r="7.2"/><circle cx="1726.4" cy="353.9" r="7.2"/><circle cx="1723.8" cy="257.4" r="7.2"/><circle cx="1723.7" cy="309.8" r="7.2"/><circle cx="1727.4" cy="261.9" r="7.2"/><circle cx="1729.0" cy="325.2" r="7.2"/><circle cx="1723.6" cy="410.1" r="7.2"/><circle cx="1727.0" cy="289.5" r="7.2"/><circle cx="1726.1" cy="213.8" r="7.2"/><circle cx="1724.1" cy="436.8" r="7.2"/><circle cx="1764.0" cy="357.5" r="7.2"/><circle cx="1764.9" cy="188.8" r="7.2"/><circle cx="1764.7" cy="430.0" r="7.2"/><circle cx="1766.6" cy="294.1" r="7.2"/><circle cx="1764.3" cy="169.8" r="7.2"/><circle cx="1762.3" cy="317.5" r="7.2"/><circle cx="1763.6" cy="385.0" r="7.2"/><circle cx="1762.1" cy="305.8" r="7.2"/><circle cx="1763.2" cy="417.4" r="7.2"/><circle cx="1762.9" cy="209.3" r="7.2"/><circle cx="1767.7" cy="261.1" r="7.2"/><circle cx="1765.7" cy="422.1" r="7.2"/><circle cx="1762.8" cy="405.2" r="7.2"/><circle cx="1762.1" cy="237.7" r="7.2"/><circle cx="1766.4" cy="245.3" r="7.2"/><circle cx="1764.3" cy="133.4" r="7.2"/><circle cx="1763.9" cy="178.0" r="7.2"/><circle cx="1765.2" cy="317.4" r="7.2"/><circle cx="1763.8" cy="270.2" r="7.2"/><circle cx="1763.7" cy="441.8" r="7.2"/><circle cx="1764.9" cy="390.1" r="7.2"/><circle cx="1763.0" cy="205.0" r="7.2"/><circle cx="1763.4" cy="398.1" r="7.2"/><circle cx="1764.6" cy="350.3" r="7.2"/><circle cx="1762.5" cy="309.8" r="7.2"/><circle cx="1764.3" cy="200.9" r="7.2"/><circle cx="1765.0" cy="401.8" r="7.2"/><circle cx="1767.1" cy="289.6" r="7.2"/><circle cx="1767.0" cy="233.8" r="7.2"/><circle cx="1765.5" cy="425.3" r="7.2"/><circle cx="1763.2" cy="321.1" r="7.2"/><circle cx="1760.5" cy="265.1" r="7.2"/><circle cx="1762.6" cy="221.1" r="7.2"/><circle cx="1765.6" cy="205.8" r="7.2"/><circle cx="1764.4" cy="365.1" r="7.2"/><circle cx="1768.5" cy="282.2" r="7.2"/><circle cx="1763.7" cy="185.4" r="7.2"/><circle cx="1763.0" cy="413.5" r="7.2"/><circle cx="1765.7" cy="308.9" r="7.2"/><circle cx="1762.5" cy="246.2" r="7.2"/><circle cx="1759.9" cy="269.1" r="7.2"/><circle cx="1762.9" cy="224.7" r="7.2"/><circle cx="1760.3" cy="282.2" r="7.2"/><circle cx="1766.4" cy="217.3" r="7.2"/><circle cx="1766.0" cy="409.4" r="7.2"/><circle cx="1765.4" cy="321.2" r="7.2"/><circle cx="1765.6" cy="372.9" r="7.2"/><circle cx="1760.8" cy="252.7" r="7.2"/><circle cx="1767.9" cy="256.7" r="7.2"/><circle cx="1765.6" cy="381.3" r="7.2"/><circle cx="1764.7" cy="197.5" r="7.2"/><circle cx="1766.4" cy="301.6" r="7.2"/><circle cx="1766.4" cy="226.0" r="7.2"/><circle cx="1762.8" cy="401.0" r="7.2"/><circle cx="1766.5" cy="242.2" r="7.2"/><circle cx="1763.9" cy="337.4" r="7.2"/><circle cx="1767.2" cy="252.8" r="7.2"/><circle cx="1760.5" cy="273.1" r="7.2"/><circle cx="1762.6" cy="393.2" r="7.2"/><circle cx="1763.0" cy="193.2" r="7.2"/><circle cx="1764.2" cy="425.4" r="7.2"/><circle cx="1765.5" cy="221.3" r="7.2"/><circle cx="1766.5" cy="305.3" r="7.2"/><circle cx="1764.9" cy="369.7" r="7.2"/><circle cx="1761.2" cy="289.9" r="7.2"/><circle cx="1762.5" cy="212.7" r="7.2"/><circle cx="1762.1" cy="248.7" r="7.2"/><circle cx="1768.1" cy="273.8" r="7.2"/><circle cx="1762.7" cy="325.1" r="7.2"/><circle cx="1763.9" cy="373.2" r="7.2"/><circle cx="1762.9" cy="198.2" r="7.2"/><circle cx="1762.9" cy="421.5" r="7.2"/><circle cx="1762.7" cy="313.9" r="7.2"/><circle cx="1762.1" cy="229.4" r="7.2"/><circle cx="1764.2" cy="333.7" r="7.2"/><circle cx="1765.8" cy="377.4" r="7.2"/><circle cx="1763.6" cy="273.8" r="7.2"/><circle cx="1763.6" cy="378.0" r="7.2"/><circle cx="1764.7" cy="345.3" r="7.2"/><circle cx="1762.6" cy="409.6" r="7.2"/><circle cx="1767.6" cy="277.4" r="7.2"/><circle cx="1766.0" cy="392.9" r="7.2"/><circle cx="1767.9" cy="286.0" r="7.2"/><circle cx="1767.0" cy="296.9" r="7.2"/><circle cx="1762.8" cy="381.3" r="7.2"/><circle cx="1765.0" cy="446.2" r="7.2"/><circle cx="1765.9" cy="229.3" r="7.2"/><circle cx="1763.7" cy="172.7" r="7.2"/><circle cx="1767.1" cy="249.1" r="7.2"/><circle cx="1764.0" cy="360.9" r="7.2"/><circle cx="1765.8" cy="213.9" r="7.2"/><circle cx="1763.2" cy="329.5" r="7.2"/><circle cx="1762.2" cy="301.8" r="7.2"/><circle cx="1765.7" cy="209.4" r="7.2"/><circle cx="1761.9" cy="257.5" r="7.2"/><circle cx="1763.3" cy="217.3" r="7.2"/><circle cx="1768.7" cy="269.5" r="7.2"/><circle cx="1764.0" cy="370.2" r="7.2"/><circle cx="1762.6" cy="390.0" r="7.2"/><circle cx="1765.6" cy="193.3" r="7.2"/><circle cx="1765.5" cy="417.5" r="7.2"/><circle cx="1765.4" cy="329.8" r="7.2"/><circle cx="1765.9" cy="413.7" r="7.2"/><circle cx="1765.5" cy="201.4" r="7.2"/><circle cx="1761.8" cy="277.1" r="7.2"/><circle cx="1761.6" cy="241.5" r="7.2"/><circle cx="1763.6" cy="436.7" r="7.2"/><circle cx="1761.6" cy="261.7" r="7.2"/><circle cx="1765.0" cy="406.1" r="7.2"/><circle cx="1765.9" cy="313.8" r="7.2"/><circle cx="1764.6" cy="353.3" r="7.2"/><circle cx="1760.7" cy="286.1" r="7.2"/><circle cx="1768.1" cy="266.2" r="7.2"/><circle cx="1764.9" cy="385.1" r="7.2"/><circle cx="1762.5" cy="294.0" r="7.2"/><circle cx="1761.6" cy="233.0" r="7.2"/><circle cx="1764.8" cy="341.1" r="7.2"/><circle cx="1761.6" cy="297.3" r="7.2"/><circle cx="1765.3" cy="396.7" r="7.2"/><circle cx="1763.6" cy="432.9" r="7.2"/><circle cx="1764.7" cy="450.2" r="7.2"/><circle cx="1766.1" cy="236.8" r="7.2"/><circle cx="1765.6" cy="325.0" r="7.2"/><circle cx="1764.5" cy="181.6" r="7.2"/><circle cx="1803.3" cy="386.9" r="7.2"/><circle cx="1800.7" cy="331.1" r="7.2"/><circle cx="1805.4" cy="243.3" r="7.2"/><circle cx="1804.4" cy="310.8" r="7.2"/><circle cx="1804.9" cy="314.7" r="7.2"/><circle cx="1799.2" cy="269.9" r="7.2"/><circle cx="1799.3" cy="266.2" r="7.2"/><circle cx="1799.4" cy="242.5" r="7.2"/><circle cx="1802.9" cy="398.6" r="7.2"/><circle cx="1803.0" cy="378.2" r="7.2"/><circle cx="1801.5" cy="314.4" r="7.2"/><circle cx="1803.7" cy="169.9" r="7.2"/><circle cx="1800.7" cy="230.4" r="7.2"/><circle cx="1800.5" cy="306.2" r="7.2"/><circle cx="1802.4" cy="189.8" r="7.2"/><circle cx="1802.0" cy="199.0" r="7.2"/><circle cx="1802.5" cy="151.0" r="7.2"/><circle cx="1803.1" cy="361.9" r="7.2"/><circle cx="1802.6" cy="370.7" r="7.2"/><circle cx="1804.3" cy="317.9" r="7.2"/><circle cx="1802.6" cy="342.0" r="7.2"/><circle cx="1801.5" cy="218.6" r="7.2"/><circle cx="1802.4" cy="210.8" r="7.2"/><circle cx="1801.8" cy="359.1" r="7.2"/><circle cx="1800.1" cy="250.1" r="7.2"/><circle cx="1802.9" cy="431.2" r="7.2"/><circle cx="1800.8" cy="225.8" r="7.2"/><circle cx="1803.7" cy="218.6" r="7.2"/><circle cx="1804.1" cy="303.0" r="7.2"/><circle cx="1799.7" cy="273.8" r="7.2"/><circle cx="1801.9" cy="202.4" r="7.2"/><circle cx="1802.2" cy="166.9" r="7.2"/><circle cx="1805.2" cy="273.9" r="7.2"/><circle cx="1804.7" cy="305.8" r="7.2"/><circle cx="1801.9" cy="406.7" r="7.2"/><circle cx="1804.6" cy="294.5" r="7.2"/><circle cx="1802.6" cy="461.1" r="7.2"/><circle cx="1800.1" cy="286.1" r="7.2"/><circle cx="1801.9" cy="174.8" r="7.2"/><circle cx="1801.6" cy="182.4" r="7.2"/><circle cx="1805.3" cy="283.1" r="7.2"/><circle cx="1798.4" cy="254.3" r="7.2"/><circle cx="1803.7" cy="226.7" r="7.2"/><circle cx="1802.7" cy="346.2" r="7.2"/><circle cx="1802.6" cy="373.7" r="7.2"/><circle cx="1804.5" cy="330.4" r="7.2"/><circle cx="1801.3" cy="178.4" r="7.2"/><circle cx="1806.0" cy="258.3" r="7.2"/><circle cx="1801.7" cy="343.0" r="7.2"/><circle cx="1800.6" cy="290.3" r="7.2"/><circle cx="1802.0" cy="322.1" r="7.2"/><circle cx="1802.7" cy="418.4" r="7.2"/><circle cx="1805.8" cy="245.8" r="7.2"/><circle cx="1801.8" cy="154.1" r="7.2"/><circle cx="1801.1" cy="338.3" r="7.2"/><circle cx="1806.1" cy="250.8" r="7.2"/><circle cx="1798.8" cy="257.8" r="7.2"/><circle cx="1800.8" cy="326.1" r="7.2"/><circle cx="1799.8" cy="279.3" r="7.2"/><circle cx="1803.3" cy="326.2" r="7.2"/><circle cx="1803.5" cy="222.0" r="7.2"/><circle cx="1803.3" cy="426.2" r="7.2"/><circle cx="1804.6" cy="234.2" r="7.2"/><circle cx="1799.4" cy="246.2" r="7.2"/><circle cx="1800.8" cy="309.9" r="7.2"/><circle cx="1804.3" cy="334.4" r="7.2"/><circle cx="1801.5" cy="186.1" r="7.2"/><circle cx="1803.9" cy="287.1" r="7.2"/><circle cx="1799.9" cy="282.2" r="7.2"/><circle cx="1803.3" cy="391.2" r="7.2"/><circle cx="1802.6" cy="410.9" r="7.2"/><circle cx="1802.6" cy="194.9" r="7.2"/><circle cx="1802.0" cy="402.9" r="7.2"/><circle cx="1803.7" cy="350.0" r="7.2"/><circle cx="1803.4" cy="214.7" r="7.2"/><circle cx="1803.1" cy="394.8" r="7.2"/><circle cx="1803.2" cy="159.0" r="7.2"/><circle cx="1803.4" cy="195.2" r="7.2"/><circle cx="1801.5" cy="334.1" r="7.2"/><circle cx="1802.2" cy="142.9" r="7.2"/><circle cx="1803.7" cy="186.1" r="7.2"/><circle cx="1800.5" cy="238.5" r="7.2"/><circle cx="1802.9" cy="434.3" r="7.2"/><circle cx="1803.3" cy="422.4" r="7.2"/><circle cx="1802.4" cy="415.0" r="7.2"/><circle cx="1800.1" cy="298.7" r="7.2"/><circle cx="1803.9" cy="163.0" r="7.2"/><circle cx="1803.9" cy="178.0" r="7.2"/><circle cx="1804.4" cy="323.0" r="7.2"/><circle cx="1804.0" cy="174.6" r="7.2"/><circle cx="1801.3" cy="170.2" r="7.2"/><circle cx="1800.9" cy="318.9" r="7.2"/><circle cx="1802.8" cy="354.4" r="7.2"/><circle cx="1802.1" cy="138.1" r="7.2"/><circle cx="1803.5" cy="230.2" r="7.2"/><circle cx="1805.1" cy="299.0" r="7.2"/><circle cx="1805.9" cy="266.2" r="7.2"/><circle cx="1802.8" cy="203.1" r="7.2"/><circle cx="1804.3" cy="291.0" r="7.2"/><circle cx="1801.9" cy="438.5" r="7.2"/><circle cx="1804.0" cy="238.3" r="7.2"/><circle cx="1801.1" cy="295.2" r="7.2"/><circle cx="1803.1" cy="182.7" r="7.2"/><circle cx="1802.9" cy="134.8" r="7.2"/><circle cx="1803.1" cy="206.0" r="7.2"/><circle cx="1801.9" cy="222.2" r="7.2"/><circle cx="1803.8" cy="166.6" r="7.2"/><circle cx="1802.1" cy="163.2" r="7.2"/><circle cx="1801.5" cy="351.0" r="7.2"/><circle cx="1800.2" cy="302.6" r="7.2"/><circle cx="1805.4" cy="277.8" r="7.2"/><circle cx="1799.8" cy="261.7" r="7.2"/><circle cx="1806.8" cy="254.1" r="7.2"/><circle cx="1806.0" cy="271.0" r="7.2"/><circle cx="1803.4" cy="338.5" r="7.2"/><circle cx="1802.7" cy="146.0" r="7.2"/><circle cx="1802.6" cy="367.2" r="7.2"/><circle cx="1801.9" cy="382.8" r="7.2"/><circle cx="1800.6" cy="233.9" r="7.2"/><circle cx="1806.0" cy="262.9" r="7.2"/></g><g stroke="#fff" stroke-width="3.0"><line x1="1712.9" y1="305.0" x2="1738.9" y2="305.0"/><line x1="1717.9" y1="296.7" x2="1733.9" y2="296.7"/><line x1="1717.9" y1="313.4" x2="1733.9" y2="313.4"/><line x1="1725.9" y1="296.7" x2="1725.9" y2="313.4"/></g><g stroke="#fff" stroke-width="3.0"><line x1="1751.3" y1="297.5" x2="1777.3" y2="297.5"/><line x1="1756.3" y1="290.5" x2="1772.3" y2="290.5"/><line x1="1756.3" y1="305.5" x2="1772.3" y2="305.5"/><line x1="1764.3" y1="290.5" x2="1764.3" y2="305.5"/></g><g stroke="#fff" stroke-width="3.0"><line x1="1789.6" y1="281.5" x2="1815.6" y2="281.5"/><line x1="1794.6" y1="273.3" x2="1810.6" y2="273.3"/><line x1="1794.6" y1="286.5" x2="1810.6" y2="286.5"/><line x1="1802.6" y1="273.3" x2="1802.6" y2="286.5"/></g><line x1="1700.8" y1="132.0" x2="1700.8" y2="460.6" stroke="#000" stroke-width="3.4" stroke-linecap="butt"/><line x1="1686.8" y1="460.6" x2="1829.7" y2="460.6" stroke="#000" stroke-width="3.4" stroke-linecap="butt"/><line x1="1686.8" y1="460.6" x2="1700.8" y2="460.6" stroke="#000" stroke-width="3.4" stroke-linecap="butt"/><text x="1680.8" y="471.8" font-size="32" text-anchor="end" >0</text><line x1="1692.8" y1="427.9" x2="1700.8" y2="427.9" stroke="#000" stroke-width="3.4" stroke-linecap="butt"/><line x1="1686.8" y1="395.2" x2="1700.8" y2="395.2" stroke="#000" stroke-width="3.4" stroke-linecap="butt"/><text x="1680.8" y="406.4" font-size="32" text-anchor="end" >20</text><line x1="1692.8" y1="362.5" x2="1700.8" y2="362.5" stroke="#000" stroke-width="3.4" stroke-linecap="butt"/><line x1="1686.8" y1="329.8" x2="1700.8" y2="329.8" stroke="#000" stroke-width="3.4" stroke-linecap="butt"/><text x="1680.8" y="341.0" font-size="32" text-anchor="end" >40</text><line x1="1692.8" y1="297.2" x2="1700.8" y2="297.2" stroke="#000" stroke-width="3.4" stroke-linecap="butt"/><line x1="1686.8" y1="264.5" x2="1700.8" y2="264.5" stroke="#000" stroke-width="3.4" stroke-linecap="butt"/><text x="1680.8" y="275.7" font-size="32" text-anchor="end" >60</text><line x1="1692.8" y1="231.8" x2="1700.8" y2="231.8" stroke="#000" stroke-width="3.4" stroke-linecap="butt"/><line x1="1686.8" y1="199.1" x2="1700.8" y2="199.1" stroke="#000" stroke-width="3.4" stroke-linecap="butt"/><text x="1680.8" y="210.3" font-size="32" text-anchor="end" >80</text><line x1="1692.8" y1="166.4" x2="1700.8" y2="166.4" stroke="#000" stroke-width="3.4" stroke-linecap="butt"/><line x1="1686.8" y1="133.7" x2="1700.8" y2="133.7" stroke="#000" stroke-width="3.4" stroke-linecap="butt"/><text x="1680.8" y="144.9" font-size="32" text-anchor="end" >100</text><line x1="1725.9" y1="460.6" x2="1725.9" y2="474.7" stroke="#000" stroke-width="3.4" stroke-linecap="butt"/><text x="1725.9" y="509.3" font-size="32" text-anchor="middle" >0</text><line x1="1764.3" y1="460.6" x2="1764.3" y2="474.7" stroke="#000" stroke-width="3.4" stroke-linecap="butt"/><text x="1764.3" y="509.3" font-size="32" text-anchor="middle" >1</text><line x1="1802.6" y1="460.6" x2="1802.6" y2="474.7" stroke="#000" stroke-width="3.4" stroke-linecap="butt"/><text x="1802.6" y="509.3" font-size="32" text-anchor="middle" >2</text><text x="1764.8" y="554.3" font-size="31" text-anchor="middle" >Time (h)</text><line x1="1729.1" y1="79.5" x2="1799.4" y2="79.5" stroke="#000" stroke-width="3.4" stroke-linecap="round"/><text x="1765.7" y="81.2" font-size="28" text-anchor="middle" letter-spacing="0.8" style="stroke-width:0.9px">*</text><line x1="1724.2" y1="113.4" x2="1759.4" y2="113.4" stroke="#000" stroke-width="3.4" stroke-linecap="round"/><text x="1746.2" y="106.5" font-size="24" text-anchor="middle" >ns</text><line x1="1770.2" y1="113.4" x2="1805.4" y2="113.4" stroke="#000" stroke-width="3.4" stroke-linecap="round"/><text x="1789.0" y="106.5" font-size="24" text-anchor="middle" >ns</text><text x="0.0" y="0.0" font-size="32" text-anchor="middle" transform="translate(1620.4,290.2) rotate(-90)">Arrest coefficient (%)</text><g fill="#2c2c2c" stroke="#000" stroke-width="4.0"><circle cx="1992.4" cy="393.5" r="6.4"/><circle cx="1999.5" cy="378.5" r="6.4"/><circle cx="1995.7" cy="325.5" r="6.4"/><circle cx="1999.1" cy="362.3" r="6.4"/><circle cx="1995.4" cy="422.4" r="6.4"/><circle cx="1996.5" cy="289.9" r="6.4"/><circle cx="1991.8" cy="427.1" r="6.4"/><circle cx="1995.9" cy="229.9" r="6.4"/><circle cx="2000.0" cy="430.5" r="6.4"/><circle cx="1995.3" cy="365.8" r="6.4"/><circle cx="1995.5" cy="245.6" r="6.4"/><circle cx="1996.1" cy="391.0" r="6.4"/><circle cx="1995.9" cy="334.4" r="6.4"/><circle cx="1996.4" cy="241.9" r="6.4"/><circle cx="1996.0" cy="406.9" r="6.4"/><circle cx="1995.3" cy="270.8" r="6.4"/><circle cx="1991.8" cy="366.2" r="6.4"/><circle cx="1997.0" cy="346.8" r="6.4"/><circle cx="1992.3" cy="414.1" r="6.4"/><circle cx="1993.3" cy="442.5" r="6.4"/><circle cx="1995.4" cy="222.8" r="6.4"/><circle cx="1994.2" cy="446.6" r="6.4"/><circle cx="1996.5" cy="318.2" r="6.4"/><circle cx="1991.2" cy="410.7" r="6.4"/><circle cx="1999.4" cy="373.5" r="6.4"/><circle cx="1995.9" cy="160.1" r="6.4"/><circle cx="2000.1" cy="434.2" r="6.4"/><circle cx="1993.2" cy="378.9" r="6.4"/><circle cx="1993.9" cy="345.6" r="6.4"/><circle cx="1996.0" cy="237.6" r="6.4"/><circle cx="1996.4" cy="226.3" r="6.4"/><circle cx="1996.9" cy="342.1" r="6.4"/><circle cx="1999.2" cy="386.4" r="6.4"/><circle cx="1999.5" cy="410.6" r="6.4"/><circle cx="1999.3" cy="358.9" r="6.4"/><circle cx="1999.5" cy="365.6" r="6.4"/><circle cx="1995.8" cy="322.1" r="6.4"/><circle cx="1998.8" cy="414.9" r="6.4"/><circle cx="1996.2" cy="331.1" r="6.4"/><circle cx="1993.0" cy="438.7" r="6.4"/><circle cx="1995.8" cy="409.8" r="6.4"/><circle cx="1995.3" cy="310.3" r="6.4"/><circle cx="1995.6" cy="282.3" r="6.4"/><circle cx="1992.4" cy="406.6" r="6.4"/><circle cx="1995.3" cy="275.0" r="6.4"/><circle cx="1992.4" cy="430.5" r="6.4"/><circle cx="1995.5" cy="414.0" r="6.4"/><circle cx="1999.3" cy="382.7" r="6.4"/><circle cx="1996.7" cy="250.7" r="6.4"/><circle cx="1992.2" cy="382.4" r="6.4"/><circle cx="1997.0" cy="338.5" r="6.4"/><circle cx="1998.5" cy="443.0" r="6.4"/><circle cx="1996.1" cy="218.3" r="6.4"/><circle cx="1995.1" cy="234.1" r="6.4"/><circle cx="1995.8" cy="278.4" r="6.4"/><circle cx="1995.9" cy="261.7" r="6.4"/><circle cx="1995.6" cy="433.6" r="6.4"/><circle cx="1993.3" cy="350.6" r="6.4"/><circle cx="1992.2" cy="357.9" r="6.4"/><circle cx="1996.0" cy="306.7" r="6.4"/><circle cx="1993.3" cy="397.7" r="6.4"/><circle cx="1992.7" cy="362.7" r="6.4"/><circle cx="1999.4" cy="398.4" r="6.4"/><circle cx="1996.7" cy="381.9" r="6.4"/><circle cx="1996.7" cy="298.9" r="6.4"/><circle cx="1996.6" cy="266.1" r="6.4"/><circle cx="1992.6" cy="390.1" r="6.4"/><circle cx="2000.9" cy="421.6" r="6.4"/><circle cx="1998.5" cy="350.9" r="6.4"/><circle cx="1992.1" cy="401.8" r="6.4"/><circle cx="1996.5" cy="254.5" r="6.4"/><circle cx="1996.3" cy="302.7" r="6.4"/><circle cx="1998.8" cy="406.7" r="6.4"/><circle cx="1995.2" cy="258.0" r="6.4"/><circle cx="1995.4" cy="285.6" r="6.4"/><circle cx="1993.5" cy="374.7" r="6.4"/><circle cx="1995.6" cy="425.7" r="6.4"/><circle cx="1996.4" cy="313.8" r="6.4"/><circle cx="1999.2" cy="354.4" r="6.4"/><circle cx="1996.3" cy="293.8" r="6.4"/><circle cx="1995.4" cy="214.6" r="6.4"/><circle cx="1999.0" cy="401.8" r="6.4"/><circle cx="1993.3" cy="370.7" r="6.4"/><circle cx="1996.0" cy="418.5" r="6.4"/><circle cx="1992.6" cy="355.0" r="6.4"/><circle cx="1999.5" cy="370.3" r="6.4"/><circle cx="1998.4" cy="394.2" r="6.4"/><circle cx="1999.5" cy="390.9" r="6.4"/><circle cx="1994.8" cy="338.4" r="6.4"/><circle cx="1994.6" cy="343.0" r="6.4"/><circle cx="1996.5" cy="429.5" r="6.4"/><circle cx="1991.5" cy="433.9" r="6.4"/><circle cx="1991.7" cy="417.7" r="6.4"/><circle cx="1999.3" cy="438.2" r="6.4"/><circle cx="2000.7" cy="425.6" r="6.4"/><circle cx="2000.1" cy="418.3" r="6.4"/><circle cx="1997.6" cy="446.9" r="6.4"/><circle cx="1992.0" cy="422.3" r="6.4"/><circle cx="1993.0" cy="385.5" r="6.4"/><circle cx="1995.9" cy="205.7" r="6.4"/><circle cx="2035.3" cy="330.3" r="6.4"/><circle cx="2037.5" cy="437.2" r="6.4"/><circle cx="2035.7" cy="353.7" r="6.4"/><circle cx="2035.6" cy="337.7" r="6.4"/><circle cx="2038.4" cy="421.4" r="6.4"/><circle cx="2033.6" cy="377.5" r="6.4"/><circle cx="2034.4" cy="425.2" r="6.4"/><circle cx="2035.4" cy="445.8" r="6.4"/><circle cx="2035.2" cy="313.4" r="6.4"/><circle cx="2035.7" cy="321.3" r="6.4"/><circle cx="2034.2" cy="453.8" r="6.4"/><circle cx="2031.2" cy="430.3" r="6.4"/><circle cx="2034.2" cy="306.4" r="6.4"/><circle cx="2035.1" cy="372.9" r="6.4"/><circle cx="2038.9" cy="425.0" r="6.4"/><circle cx="2038.3" cy="397.3" r="6.4"/><circle cx="2033.9" cy="445.6" r="6.4"/><circle cx="2036.4" cy="377.9" r="6.4"/><circle cx="2034.5" cy="309.0" r="6.4"/><circle cx="2031.1" cy="425.1" r="6.4"/><circle cx="2034.9" cy="409.6" r="6.4"/><circle cx="2031.7" cy="397.4" r="6.4"/><circle cx="2034.8" cy="422.3" r="6.4"/><circle cx="2035.7" cy="441.1" r="6.4"/><circle cx="2035.6" cy="317.2" r="6.4"/><circle cx="2035.0" cy="281.0" r="6.4"/><circle cx="2032.0" cy="401.7" r="6.4"/><circle cx="2034.7" cy="362.0" r="6.4"/><circle cx="2035.0" cy="448.8" r="6.4"/><circle cx="2034.3" cy="389.5" r="6.4"/><circle cx="2036.6" cy="389.4" r="6.4"/><circle cx="2033.1" cy="437.5" r="6.4"/><circle cx="2034.7" cy="341.1" r="6.4"/><circle cx="2031.4" cy="404.9" r="6.4"/><circle cx="2038.5" cy="417.3" r="6.4"/><circle cx="2039.1" cy="409.7" r="6.4"/><circle cx="2035.7" cy="350.0" r="6.4"/><circle cx="2032.8" cy="433.1" r="6.4"/><circle cx="2036.9" cy="402.1" r="6.4"/><circle cx="2035.3" cy="369.1" r="6.4"/><circle cx="2033.2" cy="385.9" r="6.4"/><circle cx="2030.6" cy="417.6" r="6.4"/><circle cx="2031.9" cy="409.6" r="6.4"/><circle cx="2034.9" cy="413.4" r="6.4"/><circle cx="2035.6" cy="345.7" r="6.4"/><circle cx="2035.2" cy="326.3" r="6.4"/><circle cx="2039.6" cy="414.1" r="6.4"/><circle cx="2031.0" cy="413.8" r="6.4"/><circle cx="2036.8" cy="385.6" r="6.4"/><circle cx="2034.6" cy="430.1" r="6.4"/><circle cx="2035.7" cy="301.0" r="6.4"/><circle cx="2031.5" cy="420.9" r="6.4"/><circle cx="2038.8" cy="428.9" r="6.4"/><circle cx="2035.2" cy="365.0" r="6.4"/><circle cx="2033.3" cy="381.7" r="6.4"/><circle cx="2036.4" cy="381.3" r="6.4"/><circle cx="2035.3" cy="332.9" r="6.4"/><circle cx="2033.2" cy="393.4" r="6.4"/><circle cx="2038.6" cy="405.5" r="6.4"/><circle cx="2037.9" cy="393.0" r="6.4"/><circle cx="2035.2" cy="357.2" r="6.4"/><circle cx="2036.1" cy="417.8" r="6.4"/><circle cx="2037.0" cy="433.6" r="6.4"/><circle cx="2033.2" cy="441.9" r="6.4"/><circle cx="2074.1" cy="287.7" r="6.4"/><circle cx="2069.2" cy="366.5" r="6.4"/><circle cx="2074.1" cy="283.3" r="6.4"/><circle cx="2073.2" cy="363.5" r="6.4"/><circle cx="2076.4" cy="346.9" r="6.4"/><circle cx="2073.1" cy="355.6" r="6.4"/><circle cx="2077.6" cy="434.7" r="6.4"/><circle cx="2073.0" cy="374.3" r="6.4"/><circle cx="2072.6" cy="422.8" r="6.4"/><circle cx="2068.5" cy="386.4" r="6.4"/><circle cx="2073.2" cy="251.1" r="6.4"/><circle cx="2068.6" cy="407.4" r="6.4"/><circle cx="2072.6" cy="314.9" r="6.4"/><circle cx="2074.4" cy="294.8" r="6.4"/><circle cx="2078.1" cy="422.3" r="6.4"/><circle cx="2070.1" cy="438.5" r="6.4"/><circle cx="2074.3" cy="303.7" r="6.4"/><circle cx="2071.9" cy="335.1" r="6.4"/><circle cx="2075.6" cy="322.7" r="6.4"/><circle cx="2070.7" cy="338.9" r="6.4"/><circle cx="2073.7" cy="311.5" r="6.4"/><circle cx="2075.8" cy="327.5" r="6.4"/><circle cx="2076.6" cy="339.3" r="6.4"/><circle cx="2074.8" cy="402.8" r="6.4"/><circle cx="2074.3" cy="274.5" r="6.4"/><circle cx="2075.5" cy="331.5" r="6.4"/><circle cx="2077.8" cy="358.8" r="6.4"/><circle cx="2073.9" cy="235.1" r="6.4"/><circle cx="2072.4" cy="322.6" r="6.4"/><circle cx="2070.2" cy="402.4" r="6.4"/><circle cx="2073.5" cy="202.6" r="6.4"/><circle cx="2076.7" cy="343.6" r="6.4"/><circle cx="2073.4" cy="214.3" r="6.4"/><circle cx="2077.7" cy="378.8" r="6.4"/><circle cx="2069.1" cy="422.8" r="6.4"/><circle cx="2074.0" cy="358.7" r="6.4"/><circle cx="2068.7" cy="419.2" r="6.4"/><circle cx="2077.8" cy="410.9" r="6.4"/><circle cx="2070.4" cy="346.9" r="6.4"/><circle cx="2073.8" cy="238.5" r="6.4"/><circle cx="2073.9" cy="438.8" r="6.4"/><circle cx="2074.3" cy="447.1" r="6.4"/><circle cx="2070.7" cy="362.9" r="6.4"/><circle cx="2068.9" cy="391.2" r="6.4"/><circle cx="2077.3" cy="363.0" r="6.4"/><circle cx="2072.1" cy="327.1" r="6.4"/><circle cx="2074.4" cy="222.8" r="6.4"/><circle cx="2070.1" cy="358.7" r="6.4"/><circle cx="2070.7" cy="443.1" r="6.4"/><circle cx="2076.9" cy="395.2" r="6.4"/><circle cx="2077.1" cy="351.1" r="6.4"/><circle cx="2069.5" cy="354.3" r="6.4"/><circle cx="2073.9" cy="267.5" r="6.4"/><circle cx="2073.3" cy="243.5" r="6.4"/><circle cx="2073.5" cy="370.9" r="6.4"/><circle cx="2070.4" cy="375.2" r="6.4"/><circle cx="2074.2" cy="391.1" r="6.4"/><circle cx="2077.7" cy="439.8" r="6.4"/><circle cx="2077.7" cy="375.5" r="6.4"/><circle cx="2075.3" cy="335.1" r="6.4"/><circle cx="2072.8" cy="379.4" r="6.4"/><circle cx="2073.7" cy="271.7" r="6.4"/><circle cx="2073.0" cy="307.0" r="6.4"/><circle cx="2072.8" cy="431.1" r="6.4"/><circle cx="2069.2" cy="371.1" r="6.4"/><circle cx="2077.5" cy="415.1" r="6.4"/><circle cx="2072.6" cy="435.2" r="6.4"/><circle cx="2069.3" cy="430.3" r="6.4"/><circle cx="2070.5" cy="342.4" r="6.4"/><circle cx="2072.9" cy="195.1" r="6.4"/><circle cx="2073.2" cy="411.1" r="6.4"/><circle cx="2073.0" cy="451.3" r="6.4"/><circle cx="2073.6" cy="198.4" r="6.4"/><circle cx="2078.7" cy="387.0" r="6.4"/><circle cx="2069.6" cy="414.5" r="6.4"/><circle cx="2074.0" cy="415.5" r="6.4"/><circle cx="2068.8" cy="383.2" r="6.4"/><circle cx="2073.5" cy="211.0" r="6.4"/><circle cx="2070.6" cy="351.3" r="6.4"/><circle cx="2072.4" cy="387.4" r="6.4"/><circle cx="2069.3" cy="411.5" r="6.4"/><circle cx="2073.9" cy="419.7" r="6.4"/><circle cx="2073.2" cy="262.4" r="6.4"/><circle cx="2073.7" cy="219.3" r="6.4"/><circle cx="2077.0" cy="367.6" r="6.4"/><circle cx="2072.9" cy="298.9" r="6.4"/><circle cx="2072.9" cy="278.9" r="6.4"/><circle cx="2073.3" cy="254.8" r="6.4"/><circle cx="2073.3" cy="407.1" r="6.4"/><circle cx="2073.4" cy="227.1" r="6.4"/><circle cx="2077.9" cy="399.7" r="6.4"/><circle cx="2069.8" cy="399.2" r="6.4"/><circle cx="2074.4" cy="291.4" r="6.4"/><circle cx="2074.3" cy="191.7" r="6.4"/><circle cx="2074.5" cy="394.7" r="6.4"/><circle cx="2069.6" cy="394.9" r="6.4"/><circle cx="2077.8" cy="355.6" r="6.4"/><circle cx="2072.6" cy="382.5" r="6.4"/><circle cx="2069.5" cy="378.3" r="6.4"/><circle cx="2075.3" cy="318.9" r="6.4"/><circle cx="2072.7" cy="319.3" r="6.4"/><circle cx="2077.1" cy="371.6" r="6.4"/><circle cx="2077.9" cy="431.0" r="6.4"/><circle cx="2078.5" cy="390.7" r="6.4"/><circle cx="2073.1" cy="366.6" r="6.4"/><circle cx="2078.6" cy="406.5" r="6.4"/><circle cx="2072.8" cy="206.3" r="6.4"/><circle cx="2078.4" cy="419.8" r="6.4"/><circle cx="2069.5" cy="434.4" r="6.4"/><circle cx="2077.2" cy="427.3" r="6.4"/><circle cx="2073.3" cy="230.3" r="6.4"/><circle cx="2078.4" cy="383.8" r="6.4"/><circle cx="2070.0" cy="427.4" r="6.4"/><circle cx="2076.5" cy="443.5" r="6.4"/><circle cx="2074.6" cy="314.7" r="6.4"/><circle cx="2071.6" cy="331.1" r="6.4"/><circle cx="2077.9" cy="403.4" r="6.4"/><circle cx="2073.0" cy="246.4" r="6.4"/><circle cx="2072.9" cy="447.5" r="6.4"/><circle cx="2073.4" cy="399.4" r="6.4"/><circle cx="2073.3" cy="259.4" r="6.4"/></g><g stroke="#fff" stroke-width="3.0"><line x1="1982.9" y1="379.3" x2="2008.9" y2="379.3"/><line x1="1987.9" y1="373.8" x2="2003.9" y2="373.8"/><line x1="1987.9" y1="384.8" x2="2003.9" y2="384.8"/><line x1="1995.9" y1="373.8" x2="1995.9" y2="384.8"/></g><g stroke="#fff" stroke-width="3.0"><line x1="2022.0" y1="401.9" x2="2048.0" y2="401.9"/><line x1="2027.0" y1="395.5" x2="2043.0" y2="395.5"/><line x1="2027.0" y1="408.5" x2="2043.0" y2="408.5"/><line x1="2035.0" y1="395.5" x2="2035.0" y2="408.5"/></g><g stroke="#fff" stroke-width="3.0"><line x1="2060.6" y1="365.1" x2="2086.6" y2="365.1"/><line x1="2065.6" y1="360.0" x2="2081.6" y2="360.0"/><line x1="2065.6" y1="370.3" x2="2081.6" y2="370.3"/><line x1="2073.6" y1="360.0" x2="2073.6" y2="370.3"/></g><line x1="1970.6" y1="129.2" x2="1970.6" y2="458.8" stroke="#000" stroke-width="3.4" stroke-linecap="butt"/><line x1="1956.6" y1="458.8" x2="2099.3" y2="458.8" stroke="#000" stroke-width="3.4" stroke-linecap="butt"/><line x1="1956.6" y1="458.8" x2="1970.6" y2="458.8" stroke="#000" stroke-width="3.4" stroke-linecap="butt"/><text x="1950.6" y="470.0" font-size="32" text-anchor="end" >0.0</text><line x1="1962.6" y1="426.0" x2="1970.6" y2="426.0" stroke="#000" stroke-width="3.4" stroke-linecap="butt"/><line x1="1956.6" y1="393.2" x2="1970.6" y2="393.2" stroke="#000" stroke-width="3.4" stroke-linecap="butt"/><text x="1950.6" y="404.4" font-size="32" text-anchor="end" >0.2</text><line x1="1962.6" y1="360.4" x2="1970.6" y2="360.4" stroke="#000" stroke-width="3.4" stroke-linecap="butt"/><line x1="1956.6" y1="327.6" x2="1970.6" y2="327.6" stroke="#000" stroke-width="3.4" stroke-linecap="butt"/><text x="1950.6" y="338.8" font-size="32" text-anchor="end" >0.4</text><line x1="1962.6" y1="294.8" x2="1970.6" y2="294.8" stroke="#000" stroke-width="3.4" stroke-linecap="butt"/><line x1="1956.6" y1="262.1" x2="1970.6" y2="262.1" stroke="#000" stroke-width="3.4" stroke-linecap="butt"/><text x="1950.6" y="273.3" font-size="32" text-anchor="end" >0.6</text><line x1="1962.6" y1="229.3" x2="1970.6" y2="229.3" stroke="#000" stroke-width="3.4" stroke-linecap="butt"/><line x1="1956.6" y1="196.5" x2="1970.6" y2="196.5" stroke="#000" stroke-width="3.4" stroke-linecap="butt"/><text x="1950.6" y="207.7" font-size="32" text-anchor="end" >0.8</text><line x1="1962.6" y1="163.7" x2="1970.6" y2="163.7" stroke="#000" stroke-width="3.4" stroke-linecap="butt"/><line x1="1956.6" y1="130.9" x2="1970.6" y2="130.9" stroke="#000" stroke-width="3.4" stroke-linecap="butt"/><text x="1950.6" y="142.1" font-size="32" text-anchor="end" >1.0</text><line x1="1995.9" y1="458.8" x2="1995.9" y2="472.6" stroke="#000" stroke-width="3.4" stroke-linecap="butt"/><text x="1995.9" y="507.6" font-size="32" text-anchor="middle" >0</text><line x1="2035.0" y1="458.8" x2="2035.0" y2="472.6" stroke="#000" stroke-width="3.4" stroke-linecap="butt"/><text x="2035.0" y="507.6" font-size="32" text-anchor="middle" >1</text><line x1="2073.6" y1="458.8" x2="2073.6" y2="472.6" stroke="#000" stroke-width="3.4" stroke-linecap="butt"/><text x="2073.6" y="507.6" font-size="32" text-anchor="middle" >2</text><text x="2035.2" y="551.0" font-size="31" text-anchor="middle" >Time (h)</text><line x1="1997.2" y1="87.0" x2="2070.6" y2="87.0" stroke="#000" stroke-width="3.4" stroke-linecap="round"/><text x="2032.0" y="78.8" font-size="24" text-anchor="middle" >ns</text><line x1="1996.5" y1="119.0" x2="2035.1" y2="119.0" stroke="#000" stroke-width="3.4" stroke-linecap="round"/><text x="2017.2" y="121.0" font-size="28" text-anchor="middle" letter-spacing="0.8" style="stroke-width:0.9px">**</text><line x1="2036.3" y1="164.6" x2="2074.5" y2="164.6" stroke="#000" stroke-width="3.4" stroke-linecap="round"/><text x="2054.4" y="166.0" font-size="28" text-anchor="middle" letter-spacing="0.8" style="stroke-width:0.9px">**</text><text x="0.0" y="0.0" font-size="32" text-anchor="middle" transform="translate(1892.0,289.6) rotate(-90)">Straightness ratio</text><g fill="#000" stroke="none" stroke-width="0"><circle cx="1462.9" cy="899.5" r="8.4"/><circle cx="1463.1" cy="969.3" r="8.4"/><circle cx="1462.5" cy="848.6" r="8.4"/><circle cx="1462.9" cy="872.0" r="8.4"/><circle cx="1464.2" cy="914.3" r="8.4"/><circle cx="1463.5" cy="895.6" r="8.4"/><circle cx="1457.2" cy="963.8" r="8.4"/><circle cx="1464.1" cy="918.7" r="8.4"/><circle cx="1459.2" cy="940.9" r="8.4"/><circle cx="1463.0" cy="866.9" r="8.4"/><circle cx="1467.0" cy="950.4" r="8.4"/><circle cx="1460.2" cy="1023.0" r="8.4"/><circle cx="1462.2" cy="836.2" r="8.4"/><circle cx="1460.7" cy="918.7" r="8.4"/><circle cx="1463.8" cy="905.2" r="8.4"/><circle cx="1462.6" cy="858.7" r="8.4"/><circle cx="1461.0" cy="891.4" r="8.4"/><circle cx="1462.4" cy="959.5" r="8.4"/><circle cx="1462.7" cy="954.4" r="8.4"/><circle cx="1459.3" cy="922.2" r="8.4"/><circle cx="1466.3" cy="968.6" r="8.4"/><circle cx="1462.0" cy="964.6" r="8.4"/><circle cx="1463.6" cy="908.3" r="8.4"/><circle cx="1461.9" cy="876.6" r="8.4"/><circle cx="1465.1" cy="927.0" r="8.4"/><circle cx="1467.1" cy="955.4" r="8.4"/><circle cx="1459.8" cy="927.4" r="8.4"/><circle cx="1459.4" cy="945.3" r="8.4"/><circle cx="1461.8" cy="894.7" r="8.4"/><circle cx="1461.7" cy="880.9" r="8.4"/><circle cx="1461.5" cy="973.7" r="8.4"/><circle cx="1461.4" cy="844.0" r="8.4"/><circle cx="1457.0" cy="959.0" r="8.4"/><circle cx="1461.2" cy="913.0" r="8.4"/><circle cx="1462.3" cy="886.7" r="8.4"/><circle cx="1466.3" cy="973.8" r="8.4"/><circle cx="1464.2" cy="1023.0" r="8.4"/><circle cx="1461.8" cy="854.2" r="8.4"/><circle cx="1459.6" cy="937.0" r="8.4"/><circle cx="1462.7" cy="889.8" r="8.4"/><circle cx="1460.0" cy="909.1" r="8.4"/><circle cx="1461.8" cy="940.7" r="8.4"/><circle cx="1461.4" cy="951.0" r="8.4"/><circle cx="1457.3" cy="950.4" r="8.4"/><circle cx="1467.2" cy="964.7" r="8.4"/><circle cx="1460.6" cy="905.1" r="8.4"/><circle cx="1462.3" cy="862.9" r="8.4"/><circle cx="1500.4" cy="887.7" r="8.4"/><circle cx="1498.2" cy="976.9" r="8.4"/><circle cx="1500.6" cy="989.2" r="8.4"/><circle cx="1499.8" cy="882.9" r="8.4"/><circle cx="1503.0" cy="975.8" r="8.4"/><circle cx="1505.0" cy="989.4" r="8.4"/><circle cx="1497.4" cy="986.1" r="8.4"/><circle cx="1504.3" cy="1003.1" r="8.4"/><circle cx="1501.4" cy="1017.1" r="8.4"/><circle cx="1501.1" cy="870.3" r="8.4"/><circle cx="1500.3" cy="952.9" r="8.4"/><circle cx="1500.5" cy="944.2" r="8.4"/><circle cx="1501.6" cy="897.5" r="8.4"/><circle cx="1496.4" cy="990.4" r="8.4"/><circle cx="1499.4" cy="1012.2" r="8.4"/><circle cx="1501.4" cy="878.4" r="8.4"/><circle cx="1500.3" cy="901.6" r="8.4"/><circle cx="1500.4" cy="859.8" r="8.4"/><circle cx="1499.9" cy="939.3" r="8.4"/><circle cx="1497.9" cy="994.9" r="8.4"/><circle cx="1501.4" cy="906.5" r="8.4"/><circle cx="1499.9" cy="948.8" r="8.4"/><circle cx="1500.2" cy="897.5" r="8.4"/><circle cx="1500.1" cy="873.7" r="8.4"/><circle cx="1500.6" cy="817.8" r="8.4"/><circle cx="1499.1" cy="1008.9" r="8.4"/><circle cx="1500.5" cy="958.4" r="8.4"/><circle cx="1500.0" cy="851.4" r="8.4"/><circle cx="1500.6" cy="856.7" r="8.4"/><circle cx="1500.0" cy="864.4" r="8.4"/><circle cx="1502.4" cy="966.9" r="8.4"/><circle cx="1504.2" cy="999.0" r="8.4"/><circle cx="1500.6" cy="784.6" r="8.4"/><circle cx="1501.2" cy="846.8" r="8.4"/><circle cx="1503.0" cy="1007.6" r="8.4"/><circle cx="1500.6" cy="803.0" r="8.4"/><circle cx="1499.9" cy="841.7" r="8.4"/><circle cx="1501.3" cy="892.3" r="8.4"/><circle cx="1500.1" cy="962.5" r="8.4"/><circle cx="1504.2" cy="993.9" r="8.4"/><circle cx="1502.2" cy="962.3" r="8.4"/><circle cx="1499.5" cy="958.0" r="8.4"/><circle cx="1537.9" cy="1007.7" r="8.4"/><circle cx="1539.0" cy="891.5" r="8.4"/><circle cx="1540.0" cy="941.9" r="8.4"/><circle cx="1542.9" cy="942.3" r="8.4"/><circle cx="1538.0" cy="933.3" r="8.4"/><circle cx="1537.4" cy="970.0" r="8.4"/><circle cx="1535.9" cy="951.5" r="8.4"/><circle cx="1535.9" cy="942.0" r="8.4"/><circle cx="1536.6" cy="956.5" r="8.4"/><circle cx="1538.6" cy="924.4" r="8.4"/><circle cx="1540.7" cy="965.7" r="8.4"/><circle cx="1540.1" cy="993.9" r="8.4"/><circle cx="1539.0" cy="984.2" r="8.4"/><circle cx="1539.0" cy="875.6" r="8.4"/><circle cx="1537.7" cy="992.8" r="8.4"/><circle cx="1540.9" cy="951.3" r="8.4"/><circle cx="1539.6" cy="970.6" r="8.4"/><circle cx="1537.3" cy="965.6" r="8.4"/><circle cx="1539.0" cy="853.4" r="8.4"/><circle cx="1539.1" cy="919.8" r="8.4"/><circle cx="1538.3" cy="988.8" r="8.4"/><circle cx="1539.0" cy="1012.2" r="8.4"/><circle cx="1539.6" cy="979.7" r="8.4"/><circle cx="1537.6" cy="997.5" r="8.4"/><circle cx="1540.5" cy="1002.8" r="8.4"/><circle cx="1541.8" cy="938.4" r="8.4"/><circle cx="1539.6" cy="929.0" r="8.4"/><circle cx="1539.4" cy="1015.8" r="8.4"/><circle cx="1538.6" cy="929.0" r="8.4"/><circle cx="1538.8" cy="974.7" r="8.4"/><circle cx="1540.7" cy="1007.4" r="8.4"/><circle cx="1538.9" cy="974.9" r="8.4"/><circle cx="1541.1" cy="933.6" r="8.4"/></g><g stroke="#fff" stroke-width="3.0"><line x1="1449.2" y1="939.5" x2="1475.2" y2="939.5"/><line x1="1454.2" y1="935.0" x2="1470.2" y2="935.0"/><line x1="1454.2" y1="944.0" x2="1470.2" y2="944.0"/><line x1="1462.2" y1="935.0" x2="1462.2" y2="944.0"/></g><g stroke="#fff" stroke-width="3.0"><line x1="1487.6" y1="954.2" x2="1513.6" y2="954.2"/><line x1="1492.6" y1="946.0" x2="1508.6" y2="946.0"/><line x1="1492.6" y1="962.0" x2="1508.6" y2="962.0"/><line x1="1500.6" y1="946.0" x2="1500.6" y2="962.0"/></g><g stroke="#fff" stroke-width="3.0"><line x1="1526.0" y1="963.5" x2="1552.0" y2="963.5"/><line x1="1531.0" y1="959.0" x2="1547.0" y2="959.0"/><line x1="1531.0" y1="968.0" x2="1547.0" y2="968.0"/><line x1="1539.0" y1="959.0" x2="1539.0" y2="968.0"/></g><line x1="1436.5" y1="703.0" x2="1436.5" y2="1031.3" stroke="#000" stroke-width="3.4" stroke-linecap="butt"/><line x1="1422.5" y1="1031.3" x2="1565.5" y2="1031.3" stroke="#000" stroke-width="3.4" stroke-linecap="butt"/><line x1="1422.5" y1="1031.3" x2="1436.5" y2="1031.3" stroke="#000" stroke-width="3.4" stroke-linecap="butt"/><text x="1416.5" y="1042.5" font-size="32" text-anchor="end" >0</text><line x1="1428.5" y1="990.5" x2="1436.5" y2="990.5" stroke="#000" stroke-width="3.4" stroke-linecap="butt"/><line x1="1422.5" y1="949.6" x2="1436.5" y2="949.6" stroke="#000" stroke-width="3.4" stroke-linecap="butt"/><text x="1416.5" y="960.9" font-size="32" text-anchor="end" >5</text><line x1="1428.5" y1="908.8" x2="1436.5" y2="908.8" stroke="#000" stroke-width="3.4" stroke-linecap="butt"/><line x1="1422.5" y1="868.0" x2="1436.5" y2="868.0" stroke="#000" stroke-width="3.4" stroke-linecap="butt"/><text x="1416.5" y="879.2" font-size="32" text-anchor="end" >10</text><line x1="1428.5" y1="827.2" x2="1436.5" y2="827.2" stroke="#000" stroke-width="3.4" stroke-linecap="butt"/><line x1="1422.5" y1="786.4" x2="1436.5" y2="786.4" stroke="#000" stroke-width="3.4" stroke-linecap="butt"/><text x="1416.5" y="797.6" font-size="32" text-anchor="end" >15</text><line x1="1428.5" y1="745.5" x2="1436.5" y2="745.5" stroke="#000" stroke-width="3.4" stroke-linecap="butt"/><line x1="1422.5" y1="704.7" x2="1436.5" y2="704.7" stroke="#000" stroke-width="3.4" stroke-linecap="butt"/><text x="1416.5" y="715.9" font-size="32" text-anchor="end" >20</text><line x1="1462.2" y1="1031.3" x2="1462.2" y2="1044.8" stroke="#000" stroke-width="3.4" stroke-linecap="butt"/><text x="1462.2" y="1079.4" font-size="32" text-anchor="middle" >0</text><line x1="1500.6" y1="1031.3" x2="1500.6" y2="1044.8" stroke="#000" stroke-width="3.4" stroke-linecap="butt"/><text x="1500.6" y="1079.4" font-size="32" text-anchor="middle" >1</text><line x1="1539.0" y1="1031.3" x2="1539.0" y2="1044.8" stroke="#000" stroke-width="3.4" stroke-linecap="butt"/><text x="1539.0" y="1079.4" font-size="32" text-anchor="middle" >2</text><text x="1501.1" y="1116.7" font-size="31" text-anchor="middle" >Time (h)</text><line x1="1459.1" y1="709.0" x2="1536.9" y2="709.0" stroke="#000" stroke-width="3.4" stroke-linecap="round"/><text x="1499.4" y="712.1" font-size="28" text-anchor="middle" letter-spacing="0.8" style="stroke-width:0.9px">**</text><line x1="1459.6" y1="739.9" x2="1496.1" y2="739.9" stroke="#000" stroke-width="3.4" stroke-linecap="round"/><text x="1479.3" y="743.7" font-size="28" text-anchor="middle" letter-spacing="0.8" style="stroke-width:0.9px">**</text><line x1="1502.1" y1="770.9" x2="1538.2" y2="770.9" stroke="#000" stroke-width="3.4" stroke-linecap="round"/><text x="1521.4" y="763.6" font-size="24" text-anchor="middle" >ns</text><text x="0.0" y="0.0" font-size="32" text-anchor="middle" transform="translate(1273.6,876.2) rotate(-90)"><tspan font-style="italic">Ncr1</tspan><tspan dy="-7.3" font-size="21.5">GFP+</tspan><tspan dy="7.3" font-style="italic">Il22</tspan><tspan dy="-7.3" font-size="21.5">TdT+</tspan><tspan dy="7.3">ILC3s</tspan></text><text x="0.0" y="0.0" font-size="32" text-anchor="middle" transform="translate(1318.6,876.5) rotate(-90)"><tspan font-style="italic">Ncr1</tspan><tspan dy="-7.3" font-size="21.5">GFP</tspan><tspan dy="7.3" font-style="italic">Il22</tspan><tspan dy="-7.3" font-size="21.5">TdT</tspan><tspan dy="7.3">+Flag+CCL25 Ab</tspan></text><text x="0.0" y="0.0" font-size="32" text-anchor="middle" transform="translate(1357.2,876.6) rotate(-90)">Speed mean (µm min<tspan dy="-10" font-size="20">-1</tspan><tspan dy="10">)</tspan></text><g fill="#000" stroke="none" stroke-width="0"><circle cx="1720.8" cy="932.1" r="8.9"/><circle cx="1720.1" cy="953.9" r="8.9"/><circle cx="1724.6" cy="798.4" r="8.9"/><circle cx="1722.5" cy="825.5" r="8.9"/><circle cx="1729.3" cy="1031.1" r="8.9"/><circle cx="1726.7" cy="844.6" r="8.9"/><circle cx="1724.9" cy="899.6" r="8.9"/><circle cx="1724.7" cy="802.7" r="8.9"/><circle cx="1722.2" cy="843.8" r="8.9"/><circle cx="1721.0" cy="927.3" r="8.9"/><circle cx="1724.4" cy="954.6" r="8.9"/><circle cx="1722.0" cy="821.5" r="8.9"/><circle cx="1726.6" cy="907.9" r="8.9"/><circle cx="1725.9" cy="876.3" r="8.9"/><circle cx="1722.4" cy="858.1" r="8.9"/><circle cx="1719.3" cy="1031.1" r="8.9"/><circle cx="1727.3" cy="935.4" r="8.9"/><circle cx="1726.5" cy="830.7" r="8.9"/><circle cx="1727.5" cy="958.4" r="8.9"/><circle cx="1726.0" cy="811.1" r="8.9"/><circle cx="1726.8" cy="931.7" r="8.9"/><circle cx="1723.0" cy="871.5" r="8.9"/><circle cx="1724.1" cy="779.1" r="8.9"/><circle cx="1726.5" cy="917.0" r="8.9"/><circle cx="1724.3" cy="1012.0" r="8.9"/><circle cx="1724.8" cy="861.9" r="8.9"/><circle cx="1728.5" cy="953.9" r="8.9"/><circle cx="1727.6" cy="927.0" r="8.9"/><circle cx="1722.5" cy="848.4" r="8.9"/><circle cx="1727.9" cy="940.2" r="8.9"/><circle cx="1723.0" cy="861.6" r="8.9"/><circle cx="1723.2" cy="885.0" r="8.9"/><circle cx="1725.9" cy="872.1" r="8.9"/><circle cx="1725.9" cy="807.6" r="8.9"/><circle cx="1721.0" cy="935.7" r="8.9"/><circle cx="1722.7" cy="889.5" r="8.9"/><circle cx="1723.3" cy="902.9" r="8.9"/><circle cx="1726.1" cy="903.2" r="8.9"/><circle cx="1722.9" cy="894.7" r="8.9"/><circle cx="1723.1" cy="802.0" r="8.9"/><circle cx="1728.6" cy="945.8" r="8.9"/><circle cx="1726.1" cy="889.6" r="8.9"/><circle cx="1726.3" cy="824.7" r="8.9"/><circle cx="1724.3" cy="1003.6" r="8.9"/><circle cx="1720.7" cy="963.1" r="8.9"/><circle cx="1724.3" cy="1031.1" r="8.9"/><circle cx="1726.1" cy="849.2" r="8.9"/><circle cx="1724.7" cy="793.4" r="8.9"/><circle cx="1722.1" cy="830.5" r="8.9"/><circle cx="1724.6" cy="788.8" r="8.9"/><circle cx="1724.3" cy="704.2" r="8.9"/><circle cx="1724.3" cy="736.6" r="8.9"/><circle cx="1721.5" cy="959.3" r="8.9"/><circle cx="1725.6" cy="880.9" r="8.9"/><circle cx="1727.7" cy="921.6" r="8.9"/><circle cx="1721.3" cy="912.9" r="8.9"/><circle cx="1722.7" cy="876.3" r="8.9"/><circle cx="1720.0" cy="945.4" r="8.9"/><circle cx="1724.3" cy="983.6" r="8.9"/><circle cx="1726.9" cy="838.7" r="8.9"/><circle cx="1724.3" cy="720.0" r="8.9"/><circle cx="1721.1" cy="922.2" r="8.9"/><circle cx="1725.2" cy="866.3" r="8.9"/><circle cx="1723.8" cy="784.8" r="8.9"/><circle cx="1725.3" cy="945.7" r="8.9"/><circle cx="1726.0" cy="852.8" r="8.9"/><circle cx="1720.9" cy="917.9" r="8.9"/><circle cx="1722.7" cy="899.8" r="8.9"/><circle cx="1761.8" cy="768.9" r="8.9"/><circle cx="1758.5" cy="733.6" r="8.9"/><circle cx="1763.5" cy="821.2" r="8.9"/><circle cx="1765.0" cy="760.3" r="8.9"/><circle cx="1766.7" cy="746.1" r="8.9"/><circle cx="1759.9" cy="746.1" r="8.9"/><circle cx="1762.3" cy="871.3" r="8.9"/><circle cx="1762.9" cy="811.0" r="8.9"/><circle cx="1758.6" cy="741.8" r="8.9"/><circle cx="1767.4" cy="733.3" r="8.9"/><circle cx="1762.8" cy="824.7" r="8.9"/><circle cx="1762.2" cy="884.6" r="8.9"/><circle cx="1762.0" cy="704.8" r="8.9"/><circle cx="1761.0" cy="760.2" r="8.9"/><circle cx="1764.2" cy="975.1" r="8.9"/><circle cx="1762.9" cy="921.1" r="8.9"/><circle cx="1763.5" cy="852.1" r="8.9"/><circle cx="1762.1" cy="926.3" r="8.9"/><circle cx="1763.0" cy="737.0" r="8.9"/><circle cx="1762.0" cy="807.2" r="8.9"/><circle cx="1762.1" cy="797.4" r="8.9"/><circle cx="1762.2" cy="815.9" r="8.9"/><circle cx="1762.6" cy="830.0" r="8.9"/><circle cx="1760.1" cy="719.1" r="8.9"/><circle cx="1762.9" cy="834.8" r="8.9"/><circle cx="1763.2" cy="710.1" r="8.9"/><circle cx="1763.5" cy="732.6" r="8.9"/><circle cx="1761.1" cy="935.4" r="8.9"/><circle cx="1761.1" cy="979.9" r="8.9"/><circle cx="1761.7" cy="989.8" r="8.9"/><circle cx="1762.8" cy="1031.1" r="8.9"/><circle cx="1763.5" cy="844.2" r="8.9"/><circle cx="1762.1" cy="857.8" r="8.9"/><circle cx="1763.6" cy="970.7" r="8.9"/><circle cx="1762.8" cy="803.0" r="8.9"/><circle cx="1763.0" cy="880.3" r="8.9"/><circle cx="1762.2" cy="862.0" r="8.9"/><circle cx="1762.3" cy="875.5" r="8.9"/><circle cx="1760.1" cy="723.9" r="8.9"/><circle cx="1766.3" cy="751.6" r="8.9"/><circle cx="1762.4" cy="985.2" r="8.9"/><circle cx="1760.5" cy="751.5" r="8.9"/><circle cx="1761.8" cy="741.8" r="8.9"/><circle cx="1762.5" cy="847.5" r="8.9"/><circle cx="1762.6" cy="930.0" r="8.9"/><circle cx="1762.4" cy="867.2" r="8.9"/><circle cx="1761.9" cy="974.8" r="8.9"/><circle cx="1763.6" cy="935.3" r="8.9"/><circle cx="1763.4" cy="829.2" r="8.9"/><circle cx="1763.0" cy="774.7" r="8.9"/><circle cx="1762.0" cy="838.7" r="8.9"/><circle cx="1764.3" cy="994.6" r="8.9"/><circle cx="1764.1" cy="983.9" r="8.9"/><circle cx="1764.4" cy="765.6" r="8.9"/><circle cx="1798.4" cy="776.0" r="8.9"/><circle cx="1800.1" cy="898.5" r="8.9"/><circle cx="1799.8" cy="880.9" r="8.9"/><circle cx="1801.4" cy="734.6" r="8.9"/><circle cx="1799.1" cy="763.1" r="8.9"/><circle cx="1800.4" cy="893.6" r="8.9"/><circle cx="1804.2" cy="771.8" r="8.9"/><circle cx="1803.2" cy="814.1" r="8.9"/><circle cx="1802.8" cy="791.2" r="8.9"/><circle cx="1798.6" cy="744.8" r="8.9"/><circle cx="1803.9" cy="799.4" r="8.9"/><circle cx="1799.8" cy="875.6" r="8.9"/><circle cx="1802.3" cy="880.3" r="8.9"/><circle cx="1799.2" cy="739.8" r="8.9"/><circle cx="1801.6" cy="912.7" r="8.9"/><circle cx="1801.3" cy="848.0" r="8.9"/><circle cx="1800.0" cy="856.6" r="8.9"/><circle cx="1799.9" cy="870.6" r="8.9"/><circle cx="1798.0" cy="781.4" r="8.9"/><circle cx="1800.2" cy="888.6" r="8.9"/><circle cx="1801.7" cy="870.3" r="8.9"/><circle cx="1801.1" cy="712.0" r="8.9"/><circle cx="1798.3" cy="800.1" r="8.9"/><circle cx="1800.1" cy="884.9" r="8.9"/><circle cx="1807.1" cy="704.6" r="8.9"/><circle cx="1799.0" cy="818.8" r="8.9"/><circle cx="1798.2" cy="753.4" r="8.9"/><circle cx="1801.0" cy="902.8" r="8.9"/><circle cx="1803.7" cy="758.2" r="8.9"/><circle cx="1803.8" cy="749.0" r="8.9"/><circle cx="1801.7" cy="853.3" r="8.9"/><circle cx="1804.7" cy="767.7" r="8.9"/><circle cx="1802.3" cy="894.2" r="8.9"/><circle cx="1801.6" cy="898.3" r="8.9"/><circle cx="1803.6" cy="743.9" r="8.9"/><circle cx="1801.8" cy="875.3" r="8.9"/><circle cx="1798.4" cy="804.0" r="8.9"/><circle cx="1801.6" cy="907.6" r="8.9"/><circle cx="1801.3" cy="856.4" r="8.9"/><circle cx="1795.1" cy="704.6" r="8.9"/><circle cx="1800.4" cy="842.6" r="8.9"/><circle cx="1804.0" cy="777.0" r="8.9"/><circle cx="1801.8" cy="866.7" r="8.9"/><circle cx="1799.3" cy="795.6" r="8.9"/><circle cx="1803.7" cy="785.2" r="8.9"/><circle cx="1803.1" cy="804.3" r="8.9"/><circle cx="1799.0" cy="814.1" r="8.9"/><circle cx="1802.4" cy="861.0" r="8.9"/></g><g stroke="#fff" stroke-width="3.0"><line x1="1711.3" y1="896.7" x2="1737.3" y2="896.7"/><line x1="1716.3" y1="888.0" x2="1732.3" y2="888.0"/><line x1="1716.3" y1="905.5" x2="1732.3" y2="905.5"/><line x1="1724.3" y1="888.0" x2="1724.3" y2="905.5"/></g><g stroke="#fff" stroke-width="3.0"><line x1="1749.8" y1="832.2" x2="1775.8" y2="832.2"/><line x1="1754.8" y1="821.0" x2="1770.8" y2="821.0"/><line x1="1754.8" y1="843.0" x2="1770.8" y2="843.0"/><line x1="1762.8" y1="821.0" x2="1762.8" y2="843.0"/></g><g stroke="#fff" stroke-width="3.0"><line x1="1788.1" y1="795.8" x2="1814.1" y2="795.8"/><line x1="1793.1" y1="788.0" x2="1809.1" y2="788.0"/><line x1="1793.1" y1="803.5" x2="1809.1" y2="803.5"/><line x1="1801.1" y1="788.0" x2="1801.1" y2="803.5"/></g><line x1="1698.8" y1="702.6" x2="1698.8" y2="1031.4" stroke="#000" stroke-width="3.4" stroke-linecap="butt"/><line x1="1684.8" y1="1031.4" x2="1827.5" y2="1031.4" stroke="#000" stroke-width="3.4" stroke-linecap="butt"/><line x1="1684.8" y1="1031.4" x2="1698.8" y2="1031.4" stroke="#000" stroke-width="3.4" stroke-linecap="butt"/><text x="1678.8" y="1042.6" font-size="32" text-anchor="end" >0</text><line x1="1690.8" y1="998.7" x2="1698.8" y2="998.7" stroke="#000" stroke-width="3.4" stroke-linecap="butt"/><line x1="1684.8" y1="966.0" x2="1698.8" y2="966.0" stroke="#000" stroke-width="3.4" stroke-linecap="butt"/><text x="1678.8" y="977.2" font-size="32" text-anchor="end" >20</text><line x1="1690.8" y1="933.3" x2="1698.8" y2="933.3" stroke="#000" stroke-width="3.4" stroke-linecap="butt"/><line x1="1684.8" y1="900.6" x2="1698.8" y2="900.6" stroke="#000" stroke-width="3.4" stroke-linecap="butt"/><text x="1678.8" y="911.8" font-size="32" text-anchor="end" >40</text><line x1="1690.8" y1="867.9" x2="1698.8" y2="867.9" stroke="#000" stroke-width="3.4" stroke-linecap="butt"/><line x1="1684.8" y1="835.1" x2="1698.8" y2="835.1" stroke="#000" stroke-width="3.4" stroke-linecap="butt"/><text x="1678.8" y="846.3" font-size="32" text-anchor="end" >60</text><line x1="1690.8" y1="802.4" x2="1698.8" y2="802.4" stroke="#000" stroke-width="3.4" stroke-linecap="butt"/><line x1="1684.8" y1="769.7" x2="1698.8" y2="769.7" stroke="#000" stroke-width="3.4" stroke-linecap="butt"/><text x="1678.8" y="780.9" font-size="32" text-anchor="end" >80</text><line x1="1690.8" y1="737.0" x2="1698.8" y2="737.0" stroke="#000" stroke-width="3.4" stroke-linecap="butt"/><line x1="1684.8" y1="704.3" x2="1698.8" y2="704.3" stroke="#000" stroke-width="3.4" stroke-linecap="butt"/><text x="1678.8" y="715.5" font-size="32" text-anchor="end" >100</text><line x1="1724.3" y1="1031.4" x2="1724.3" y2="1045.4" stroke="#000" stroke-width="3.4" stroke-linecap="butt"/><text x="1724.3" y="1079.4" font-size="32" text-anchor="middle" >0</text><line x1="1762.8" y1="1031.4" x2="1762.8" y2="1045.4" stroke="#000" stroke-width="3.4" stroke-linecap="butt"/><text x="1762.8" y="1079.4" font-size="32" text-anchor="middle" >1</text><line x1="1801.1" y1="1031.4" x2="1801.1" y2="1045.4" stroke="#000" stroke-width="3.4" stroke-linecap="butt"/><text x="1801.1" y="1079.4" font-size="32" text-anchor="middle" >2</text><text x="1763.2" y="1117.5" font-size="31" text-anchor="middle" >Time (h)</text><line x1="1719.7" y1="621.6" x2="1798.1" y2="621.6" stroke="#000" stroke-width="3.4" stroke-linecap="round"/><text x="1757.7" y="622.1" font-size="28" text-anchor="middle" letter-spacing="0.8" style="stroke-width:0.9px">***</text><line x1="1719.7" y1="648.0" x2="1756.6" y2="648.0" stroke="#000" stroke-width="3.4" stroke-linecap="round"/><text x="1739.6" y="650.4" font-size="28" text-anchor="middle" letter-spacing="0.8" style="stroke-width:0.9px">***</text><line x1="1762.5" y1="683.5" x2="1799.4" y2="683.5" stroke="#000" stroke-width="3.4" stroke-linecap="round"/><text x="1782.6" y="676.2" font-size="24" text-anchor="middle" >ns</text><text x="0.0" y="0.0" font-size="32" text-anchor="middle" transform="translate(1610.4,863.1) rotate(-90)">Arrest coefficient (%)</text><g fill="#000" stroke="none" stroke-width="0"><circle cx="1992.8" cy="1016.2" r="8.3"/><circle cx="1995.9" cy="841.2" r="8.3"/><circle cx="1996.6" cy="1007.2" r="8.3"/><circle cx="1995.9" cy="860.5" r="8.3"/><circle cx="1997.7" cy="952.3" r="8.3"/><circle cx="1995.4" cy="937.3" r="8.3"/><circle cx="1994.8" cy="1001.4" r="8.3"/><circle cx="1995.5" cy="891.8" r="8.3"/><circle cx="1996.5" cy="960.9" r="8.3"/><circle cx="1997.1" cy="933.7" r="8.3"/><circle cx="1993.6" cy="970.1" r="8.3"/><circle cx="1994.4" cy="946.9" r="8.3"/><circle cx="1994.8" cy="929.0" r="8.3"/><circle cx="1995.9" cy="851.0" r="8.3"/><circle cx="1996.4" cy="896.0" r="8.3"/><circle cx="2000.2" cy="993.4" r="8.3"/><circle cx="1994.3" cy="960.9" r="8.3"/><circle cx="1995.5" cy="993.1" r="8.3"/><circle cx="1995.7" cy="915.6" r="8.3"/><circle cx="1995.1" cy="919.0" r="8.3"/><circle cx="1994.1" cy="956.9" r="8.3"/><circle cx="1997.5" cy="979.3" r="8.3"/><circle cx="1998.2" cy="969.7" r="8.3"/><circle cx="1993.5" cy="964.9" r="8.3"/><circle cx="1992.7" cy="1011.9" r="8.3"/><circle cx="1993.8" cy="989.2" r="8.3"/><circle cx="1994.5" cy="952.1" r="8.3"/><circle cx="1994.2" cy="979.5" r="8.3"/><circle cx="1995.9" cy="786.9" r="8.3"/><circle cx="1998.5" cy="1020.5" r="8.3"/><circle cx="2000.3" cy="1006.9" r="8.3"/><circle cx="1998.3" cy="964.7" r="8.3"/><circle cx="1994.0" cy="984.1" r="8.3"/><circle cx="1990.6" cy="1002.6" r="8.3"/><circle cx="1990.7" cy="1006.4" r="8.3"/><circle cx="2000.6" cy="1001.5" r="8.3"/><circle cx="1994.7" cy="933.9" r="8.3"/><circle cx="1997.2" cy="937.7" r="8.3"/><circle cx="1994.7" cy="997.5" r="8.3"/><circle cx="1999.3" cy="1015.5" r="8.3"/><circle cx="1991.6" cy="993.3" r="8.3"/><circle cx="1997.8" cy="956.7" r="8.3"/><circle cx="1996.4" cy="923.5" r="8.3"/><circle cx="1996.6" cy="900.8" r="8.3"/><circle cx="1992.1" cy="997.1" r="8.3"/><circle cx="1996.0" cy="910.0" r="8.3"/><circle cx="1993.3" cy="975.1" r="8.3"/><circle cx="1995.9" cy="813.5" r="8.3"/><circle cx="1998.4" cy="983.8" r="8.3"/><circle cx="1996.3" cy="905.7" r="8.3"/><circle cx="1998.2" cy="988.2" r="8.3"/><circle cx="1996.8" cy="941.8" r="8.3"/><circle cx="2032.5" cy="1020.3" r="8.3"/><circle cx="2035.3" cy="989.3" r="8.3"/><circle cx="2032.6" cy="914.2" r="8.3"/><circle cx="2033.4" cy="975.3" r="8.3"/><circle cx="2034.6" cy="998.2" r="8.3"/><circle cx="2035.5" cy="1001.8" r="8.3"/><circle cx="2034.4" cy="978.9" r="8.3"/><circle cx="2031.2" cy="966.1" r="8.3"/><circle cx="2033.9" cy="951.4" r="8.3"/><circle cx="2035.7" cy="919.3" r="8.3"/><circle cx="2038.2" cy="970.9" r="8.3"/><circle cx="2038.2" cy="1003.1" r="8.3"/><circle cx="2036.4" cy="910.9" r="8.3"/><circle cx="2033.2" cy="897.1" r="8.3"/><circle cx="2035.2" cy="1006.8" r="8.3"/><circle cx="2033.1" cy="910.8" r="8.3"/><circle cx="2033.5" cy="992.8" r="8.3"/><circle cx="2031.2" cy="1012.2" r="8.3"/><circle cx="2029.7" cy="988.4" r="8.3"/><circle cx="2038.1" cy="980.3" r="8.3"/><circle cx="2034.5" cy="806.2" r="8.3"/><circle cx="2038.3" cy="992.9" r="8.3"/><circle cx="2033.9" cy="984.5" r="8.3"/><circle cx="2038.3" cy="974.9" r="8.3"/><circle cx="2031.8" cy="961.6" r="8.3"/><circle cx="2033.3" cy="956.4" r="8.3"/><circle cx="2037.8" cy="965.7" r="8.3"/><circle cx="2034.6" cy="1025.1" r="8.3"/><circle cx="2029.9" cy="1003.2" r="8.3"/><circle cx="2036.3" cy="900.3" r="8.3"/><circle cx="2036.8" cy="914.8" r="8.3"/><circle cx="2029.8" cy="980.0" r="8.3"/><circle cx="2030.3" cy="1007.6" r="8.3"/><circle cx="2038.0" cy="1016.6" r="8.3"/><circle cx="2033.7" cy="924.2" r="8.3"/><circle cx="2030.1" cy="993.0" r="8.3"/><circle cx="2029.8" cy="998.4" r="8.3"/><circle cx="2032.5" cy="919.9" r="8.3"/><circle cx="2034.5" cy="947.2" r="8.3"/><circle cx="2035.3" cy="891.1" r="8.3"/><circle cx="2035.5" cy="956.9" r="8.3"/><circle cx="2037.2" cy="961.8" r="8.3"/><circle cx="2074.6" cy="958.9" r="8.3"/><circle cx="2074.7" cy="1024.4" r="8.3"/><circle cx="2072.5" cy="977.6" r="8.3"/><circle cx="2073.2" cy="973.9" r="8.3"/><circle cx="2072.2" cy="981.9" r="8.3"/><circle cx="2073.5" cy="1005.0" r="8.3"/><circle cx="2074.7" cy="1019.8" r="8.3"/><circle cx="2074.2" cy="1009.3" r="8.3"/><circle cx="2073.7" cy="963.7" r="8.3"/><circle cx="2073.5" cy="934.0" r="8.3"/><circle cx="2073.8" cy="967.9" r="8.3"/><circle cx="2070.2" cy="1019.8" r="8.3"/><circle cx="2078.8" cy="1014.6" r="8.3"/><circle cx="2076.8" cy="987.4" r="8.3"/><circle cx="2077.6" cy="1019.3" r="8.3"/><circle cx="2073.5" cy="1000.5" r="8.3"/><circle cx="2069.1" cy="1000.6" r="8.3"/><circle cx="2068.6" cy="1014.1" r="8.3"/><circle cx="2074.4" cy="921.3" r="8.3"/><circle cx="2077.5" cy="996.1" r="8.3"/><circle cx="2075.2" cy="996.4" r="8.3"/><circle cx="2068.6" cy="1010.0" r="8.3"/><circle cx="2074.0" cy="1014.6" r="8.3"/><circle cx="2074.5" cy="926.0" r="8.3"/><circle cx="2074.6" cy="930.3" r="8.3"/><circle cx="2070.2" cy="996.3" r="8.3"/></g><g stroke="#fff" stroke-width="3.0"><line x1="1982.9" y1="961.3" x2="2008.9" y2="961.3"/><line x1="1987.9" y1="955.5" x2="2003.9" y2="955.5"/><line x1="1987.9" y1="967.5" x2="2003.9" y2="967.5"/><line x1="1995.9" y1="955.5" x2="1995.9" y2="967.5"/></g><g stroke="#fff" stroke-width="3.0"><line x1="2021.5" y1="961.3" x2="2047.5" y2="961.3"/><line x1="2026.5" y1="956.0" x2="2042.5" y2="956.0"/><line x1="2026.5" y1="966.5" x2="2042.5" y2="966.5"/><line x1="2034.5" y1="956.0" x2="2034.5" y2="966.5"/></g><g stroke="#fff" stroke-width="3.0"><line x1="2061.2" y1="989.7" x2="2087.2" y2="989.7"/><line x1="2066.2" y1="985.0" x2="2082.2" y2="985.0"/><line x1="2066.2" y1="994.5" x2="2082.2" y2="994.5"/><line x1="2074.2" y1="985.0" x2="2074.2" y2="994.5"/></g><line x1="1970.4" y1="704.0" x2="1970.4" y2="1031.1" stroke="#000" stroke-width="3.4" stroke-linecap="butt"/><line x1="1956.4" y1="1031.1" x2="2101.0" y2="1031.1" stroke="#000" stroke-width="3.4" stroke-linecap="butt"/><line x1="1956.4" y1="1031.1" x2="1970.4" y2="1031.1" stroke="#000" stroke-width="3.4" stroke-linecap="butt"/><text x="1950.4" y="1042.3" font-size="32" text-anchor="end" >0.0</text><line x1="1962.4" y1="998.6" x2="1970.4" y2="998.6" stroke="#000" stroke-width="3.4" stroke-linecap="butt"/><line x1="1956.4" y1="966.0" x2="1970.4" y2="966.0" stroke="#000" stroke-width="3.4" stroke-linecap="butt"/><text x="1950.4" y="977.2" font-size="32" text-anchor="end" >0.2</text><line x1="1962.4" y1="933.5" x2="1970.4" y2="933.5" stroke="#000" stroke-width="3.4" stroke-linecap="butt"/><line x1="1956.4" y1="900.9" x2="1970.4" y2="900.9" stroke="#000" stroke-width="3.4" stroke-linecap="butt"/><text x="1950.4" y="912.1" font-size="32" text-anchor="end" >0.4</text><line x1="1962.4" y1="868.4" x2="1970.4" y2="868.4" stroke="#000" stroke-width="3.4" stroke-linecap="butt"/><line x1="1956.4" y1="835.9" x2="1970.4" y2="835.9" stroke="#000" stroke-width="3.4" stroke-linecap="butt"/><text x="1950.4" y="847.1" font-size="32" text-anchor="end" >0.6</text><line x1="1962.4" y1="803.3" x2="1970.4" y2="803.3" stroke="#000" stroke-width="3.4" stroke-linecap="butt"/><line x1="1956.4" y1="770.8" x2="1970.4" y2="770.8" stroke="#000" stroke-width="3.4" stroke-linecap="butt"/><text x="1950.4" y="782.0" font-size="32" text-anchor="end" >0.8</text><line x1="1962.4" y1="738.2" x2="1970.4" y2="738.2" stroke="#000" stroke-width="3.4" stroke-linecap="butt"/><line x1="1956.4" y1="705.7" x2="1970.4" y2="705.7" stroke="#000" stroke-width="3.4" stroke-linecap="butt"/><text x="1950.4" y="716.9" font-size="32" text-anchor="end" >1.0</text><line x1="1995.9" y1="1031.1" x2="1995.9" y2="1044.8" stroke="#000" stroke-width="3.4" stroke-linecap="butt"/><text x="1995.9" y="1079.4" font-size="32" text-anchor="middle" >0</text><line x1="2034.5" y1="1031.1" x2="2034.5" y2="1044.8" stroke="#000" stroke-width="3.4" stroke-linecap="butt"/><text x="2034.5" y="1079.4" font-size="32" text-anchor="middle" >1</text><line x1="2074.2" y1="1031.1" x2="2074.2" y2="1044.8" stroke="#000" stroke-width="3.4" stroke-linecap="butt"/><text x="2074.2" y="1079.4" font-size="32" text-anchor="middle" >2</text><text x="2035.5" y="1128.1" font-size="31" text-anchor="middle" >Time (h)</text><line x1="1994.3" y1="721.8" x2="2072.1" y2="721.8" stroke="#000" stroke-width="3.4" stroke-linecap="round"/><text x="2034.3" y="724.7" font-size="28" text-anchor="middle" letter-spacing="0.8" style="stroke-width:0.9px">**</text><line x1="1994.3" y1="752.8" x2="2031.3" y2="752.8" stroke="#000" stroke-width="3.4" stroke-linecap="round"/><text x="2013.5" y="745.9" font-size="24" text-anchor="middle" >ns</text><line x1="2037.1" y1="783.7" x2="2074.1" y2="783.7" stroke="#000" stroke-width="3.4" stroke-linecap="round"/><text x="2055.7" y="783.9" font-size="28" text-anchor="middle" letter-spacing="0.8" style="stroke-width:0.9px">**</text><text x="0.0" y="0.0" font-size="32" text-anchor="middle" transform="translate(1892.0,865.4) rotate(-90)">Straightness ratio</text>
</svg></body></html>
